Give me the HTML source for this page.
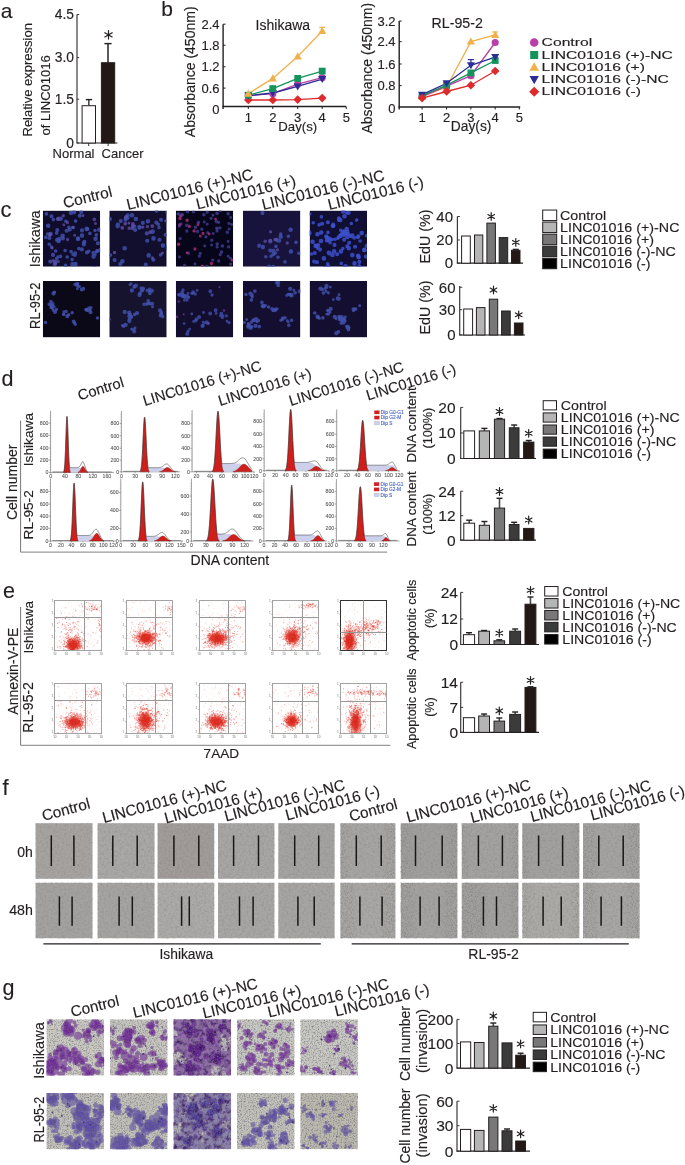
<!DOCTYPE html>
<html><head><meta charset="utf-8"><style>
html,body{margin:0;padding:0;background:#fff;}
body{width:685px;height:1165px;overflow:hidden;position:relative;}
svg{position:absolute;left:0;top:0;will-change:transform;}
text{font-family:"Liberation Sans", sans-serif;}
</style></head><body>
<svg width="685" height="1165" viewBox="0 0 685 1165">
<defs>
<filter id="nzA" x="0" y="0" width="1" height="1" color-interpolation-filters="sRGB"><feTurbulence type="fractalNoise" baseFrequency="0.45" numOctaves="3" seed="4"/><feColorMatrix type="matrix" values="0 0 0 0 0.45 0 0 0 0 0.44 0 0 0 0 0.43 0 0 0 -0.6 0.36"/></filter>
<filter id="nzB" x="0" y="0" width="1" height="1" color-interpolation-filters="sRGB"><feTurbulence type="fractalNoise" baseFrequency="0.45" numOctaves="3" seed="9"/><feColorMatrix type="matrix" values="0 0 0 0 0.45 0 0 0 0 0.44 0 0 0 0 0.43 0 0 0 -0.6 0.36"/></filter>
<filter id="nzG" x="0" y="0" width="1" height="1" color-interpolation-filters="sRGB"><feTurbulence type="fractalNoise" baseFrequency="0.75" numOctaves="2" seed="2"/><feColorMatrix type="matrix" values="0 0 0 0 0.45 0 0 0 0 0.44 0 0 0 0 0.47 0 0 0 -2.0 1.12"/></filter>
<radialGradient id="scG"><stop offset="0" stop-color="#d62519" stop-opacity="1"/><stop offset="0.45" stop-color="#da2c20" stop-opacity="0.85"/><stop offset="0.75" stop-color="#e24a3c" stop-opacity="0.35"/><stop offset="1" stop-color="#e85a4a" stop-opacity="0"/></radialGradient>
<filter id="blurC" x="-5%" y="-5%" width="110%" height="110%"><feGaussianBlur stdDeviation="0.6"/></filter>
<filter id="nzP" x="0" y="0" width="1" height="1" color-interpolation-filters="sRGB"><feTurbulence type="fractalNoise" baseFrequency="0.22" numOctaves="3" seed="5"/><feColorMatrix type="matrix" values="0 0 0 0 0.2 0 0 0 0 0.05 0 0 0 0 0.35 0 0 0 -2.2 1.25"/></filter>
<filter id="nzE" x="0" y="0" width="1" height="1" color-interpolation-filters="sRGB"><feTurbulence type="fractalNoise" baseFrequency="1.2" numOctaves="1" seed="11"/><feColorMatrix type="matrix" values="0 0 0 0 0.4 0 0 0 0 0.4 0 0 0 0 0.4 0 0 0 -1.7 0.88"/></filter>
<linearGradient id="edgeG" x1="0" x2="1" y1="0" y2="0"><stop offset="0" stop-color="#6e6e6e" stop-opacity="0.45"/><stop offset="0.2" stop-color="#6e6e6e" stop-opacity="0.1"/><stop offset="0.8" stop-color="#6e6e6e" stop-opacity="0.1"/><stop offset="1" stop-color="#6e6e6e" stop-opacity="0.45"/></linearGradient>
</defs>
<rect width="685" height="1165" fill="#fff"/>
<text transform="translate(0.80,17.50)" font-size="21" text-anchor="start" fill="#231f20" stroke="#231f20" stroke-width="0.15">a</text>
<line x1="77.00" y1="14.50" x2="77.00" y2="143.00" stroke="#3a3a3a" stroke-width="1.2"/>
<line x1="76.40" y1="143.00" x2="117.40" y2="143.00" stroke="#231f20" stroke-width="1.2"/>
<line x1="77.00" y1="14.50" x2="79.20" y2="14.50" stroke="#3a3a3a" stroke-width="1"/>
<text transform="translate(74.00,19.30)" font-size="13.8" text-anchor="end" fill="#231f20" stroke="#231f20" stroke-width="0.15">4.5</text>
<line x1="77.00" y1="57.60" x2="79.20" y2="57.60" stroke="#3a3a3a" stroke-width="1"/>
<text transform="translate(74.00,62.40)" font-size="13.8" text-anchor="end" fill="#231f20" stroke="#231f20" stroke-width="0.15">3.0</text>
<line x1="77.00" y1="99.20" x2="79.20" y2="99.20" stroke="#3a3a3a" stroke-width="1"/>
<text transform="translate(74.00,104.00)" font-size="13.8" text-anchor="end" fill="#231f20" stroke="#231f20" stroke-width="0.15">1.5</text>
<line x1="77.00" y1="143.00" x2="79.20" y2="143.00" stroke="#3a3a3a" stroke-width="1"/>
<text transform="translate(74.00,147.80)" font-size="13.8" text-anchor="end" fill="#231f20" stroke="#231f20" stroke-width="0.15">0</text>
<line x1="88.70" y1="143.00" x2="88.70" y2="146.00" stroke="#3a3a3a" stroke-width="1"/>
<line x1="108.10" y1="143.00" x2="108.10" y2="146.00" stroke="#3a3a3a" stroke-width="1"/>
<line x1="88.80" y1="99.60" x2="88.80" y2="105.70" stroke="#4a4a4a" stroke-width="1.6"/>
<line x1="85.80" y1="99.60" x2="92.20" y2="99.60" stroke="#231f20" stroke-width="1.4"/>
<rect x="82.10" y="105.70" width="13.40" height="37.30" fill="#fff" stroke="#231f20" stroke-width="1"/>
<line x1="108.00" y1="43.60" x2="108.00" y2="62.70" stroke="#4a4a4a" stroke-width="1.8"/>
<line x1="104.40" y1="43.60" x2="111.60" y2="43.60" stroke="#231f20" stroke-width="1.4"/>
<rect x="101.40" y="62.70" width="13.30" height="80.30" fill="#231815" stroke="#231f20" stroke-width="1"/>
<path d="M108.50,30.60L108.50,39.00M104.86,32.70L112.14,36.90M112.14,32.70L104.86,36.90" stroke="#231f20" stroke-width="1.2" stroke-linecap="round"/>
<text transform="translate(52.60,158.30)" font-size="13" text-anchor="start" fill="#231f20" stroke="#231f20" stroke-width="0.15">Normal</text>
<text transform="translate(101.60,158.30)" font-size="13" text-anchor="start" fill="#231f20" stroke="#231f20" stroke-width="0.15">Cancer</text>
<text transform="translate(31.60,136.50) rotate(-90)" font-size="13" text-anchor="start" fill="#231f20" stroke="#231f20" stroke-width="0.15">Relative expression</text>
<text transform="translate(50.00,135.50) rotate(-90)" font-size="13" text-anchor="start" fill="#231f20" stroke="#231f20" stroke-width="0.15">of LINC01016</text>
<text transform="translate(161.30,16.40)" font-size="21" text-anchor="start" fill="#231f20" stroke="#231f20" stroke-width="0.15">b</text>
<text transform="translate(278.30,131.30)" font-size="13.2" text-anchor="start" fill="#231f20" stroke="#231f20" stroke-width="0.15">Day(s)</text>
<text transform="translate(450.80,131.00)" font-size="13.8" text-anchor="start" fill="#231f20" stroke="#231f20" stroke-width="0.15">Day(s)</text>
<line x1="223.10" y1="24.20" x2="223.10" y2="109.00" stroke="#231f20" stroke-width="1.4"/>
<line x1="222.40" y1="106.50" x2="346.00" y2="106.50" stroke="#231f20" stroke-width="1.4"/>
<line x1="223.10" y1="24.20" x2="225.60" y2="24.20" stroke="#231f20" stroke-width="1"/>
<line x1="223.10" y1="45.20" x2="225.60" y2="45.20" stroke="#231f20" stroke-width="1"/>
<line x1="223.10" y1="66.80" x2="225.60" y2="66.80" stroke="#231f20" stroke-width="1"/>
<line x1="223.10" y1="88.10" x2="225.60" y2="88.10" stroke="#231f20" stroke-width="1"/>
<text transform="translate(219.60,28.70)" font-size="13" text-anchor="end" fill="#231f20" stroke="#231f20" stroke-width="0.15">2.4</text>
<text transform="translate(219.60,49.70)" font-size="13" text-anchor="end" fill="#231f20" stroke="#231f20" stroke-width="0.15">1.8</text>
<text transform="translate(219.60,71.30)" font-size="13" text-anchor="end" fill="#231f20" stroke="#231f20" stroke-width="0.15">1.2</text>
<text transform="translate(219.60,92.60)" font-size="13" text-anchor="end" fill="#231f20" stroke="#231f20" stroke-width="0.15">0.6</text>
<text transform="translate(219.60,113.70)" font-size="13" text-anchor="end" fill="#231f20" stroke="#231f20" stroke-width="0.15">0</text>
<line x1="248.30" y1="106.50" x2="248.30" y2="109.00" stroke="#231f20" stroke-width="1"/>
<text transform="translate(248.30,122.30)" font-size="13" text-anchor="middle" fill="#231f20" stroke="#231f20" stroke-width="0.15">1</text>
<line x1="272.80" y1="106.50" x2="272.80" y2="109.00" stroke="#231f20" stroke-width="1"/>
<text transform="translate(272.80,122.30)" font-size="13" text-anchor="middle" fill="#231f20" stroke="#231f20" stroke-width="0.15">2</text>
<line x1="297.70" y1="106.50" x2="297.70" y2="109.00" stroke="#231f20" stroke-width="1"/>
<text transform="translate(297.70,122.30)" font-size="13" text-anchor="middle" fill="#231f20" stroke="#231f20" stroke-width="0.15">3</text>
<line x1="322.20" y1="106.50" x2="322.20" y2="109.00" stroke="#231f20" stroke-width="1"/>
<text transform="translate(322.20,122.30)" font-size="13" text-anchor="middle" fill="#231f20" stroke="#231f20" stroke-width="0.15">4</text>
<line x1="346.30" y1="106.50" x2="346.30" y2="109.00" stroke="#231f20" stroke-width="1"/>
<text transform="translate(346.30,122.30)" font-size="13" text-anchor="middle" fill="#231f20" stroke="#231f20" stroke-width="0.15">5</text>
<path d="M248.30,100.00L272.80,100.00L297.70,99.60L322.20,98.10" stroke="#de2a2a" stroke-width="1.3" fill="none"/>
<path d="M248.30,95.60L272.80,93.70L297.70,84.20L322.20,77.70" stroke="#b83fa6" stroke-width="1.3" fill="none"/>
<path d="M248.30,95.60L272.80,93.00L297.70,86.40L322.20,79.10" stroke="#2b2c95" stroke-width="1.3" fill="none"/>
<path d="M248.30,95.20L272.80,88.60L297.70,78.40L322.20,71.10" stroke="#14935a" stroke-width="1.3" fill="none"/>
<path d="M248.30,93.70L272.80,78.40L297.70,56.50L322.20,31.00" stroke="#f2b04a" stroke-width="1.3" fill="none"/>
<line x1="322.20" y1="27.30" x2="322.20" y2="31.00" stroke="#f2b04a" stroke-width="1.2"/>
<line x1="319.20" y1="27.30" x2="325.20" y2="27.30" stroke="#f2b04a" stroke-width="1.2"/>
<path d="M248.30,95.70L252.60,100.00L248.30,104.30L244.00,100.00Z" fill="#de2a2a"/>
<path d="M272.80,95.70L277.10,100.00L272.80,104.30L268.50,100.00Z" fill="#de2a2a"/>
<path d="M297.70,95.30L302.00,99.60L297.70,103.90L293.40,99.60Z" fill="#de2a2a"/>
<path d="M322.20,93.80L326.50,98.10L322.20,102.40L317.90,98.10Z" fill="#de2a2a"/>
<circle cx="248.30" cy="95.60" r="3.60" fill="#b83fa6"/>
<circle cx="272.80" cy="93.70" r="3.60" fill="#b83fa6"/>
<circle cx="297.70" cy="84.20" r="3.60" fill="#b83fa6"/>
<circle cx="322.20" cy="77.70" r="3.60" fill="#b83fa6"/>
<path d="M244.30,92.60L252.30,92.60L248.30,99.60Z" fill="#2b2c95"/>
<path d="M268.80,90.00L276.80,90.00L272.80,97.00Z" fill="#2b2c95"/>
<path d="M293.70,83.40L301.70,83.40L297.70,90.40Z" fill="#2b2c95"/>
<path d="M318.20,76.10L326.20,76.10L322.20,83.10Z" fill="#2b2c95"/>
<rect x="244.90" y="91.80" width="6.80" height="6.80" fill="#14935a"/>
<rect x="269.40" y="85.20" width="6.80" height="6.80" fill="#14935a"/>
<rect x="294.30" y="75.00" width="6.80" height="6.80" fill="#14935a"/>
<rect x="318.80" y="67.70" width="6.80" height="6.80" fill="#14935a"/>
<path d="M248.30,89.50L252.40,96.70L244.20,96.70Z" fill="#f2b04a"/>
<path d="M272.80,74.20L276.90,81.40L268.70,81.40Z" fill="#f2b04a"/>
<path d="M297.70,52.30L301.80,59.50L293.60,59.50Z" fill="#f2b04a"/>
<path d="M322.20,26.80L326.30,34.00L318.10,34.00Z" fill="#f2b04a"/>
<text transform="translate(255.60,29.80)" font-size="14.0" text-anchor="start" fill="#231f20" stroke="#231f20" stroke-width="0.15">Ishikawa</text>
<text transform="translate(194.60,137.20) rotate(-90)" font-size="14.0" text-anchor="start" fill="#231f20" stroke="#231f20" stroke-width="0.15">Absorbance (450nm)</text>
<line x1="399.20" y1="21.10" x2="399.20" y2="109.50" stroke="#231f20" stroke-width="1.4"/>
<line x1="398.50" y1="107.00" x2="520.20" y2="107.00" stroke="#231f20" stroke-width="1.4"/>
<line x1="399.20" y1="21.10" x2="401.70" y2="21.10" stroke="#231f20" stroke-width="1"/>
<line x1="399.20" y1="41.60" x2="401.70" y2="41.60" stroke="#231f20" stroke-width="1"/>
<line x1="399.20" y1="64.00" x2="401.70" y2="64.00" stroke="#231f20" stroke-width="1"/>
<line x1="399.20" y1="85.60" x2="401.70" y2="85.60" stroke="#231f20" stroke-width="1"/>
<text transform="translate(395.60,25.60)" font-size="13" text-anchor="end" fill="#231f20" stroke="#231f20" stroke-width="0.15">3.2</text>
<text transform="translate(395.60,46.10)" font-size="13" text-anchor="end" fill="#231f20" stroke="#231f20" stroke-width="0.15">2.4</text>
<text transform="translate(395.60,68.50)" font-size="13" text-anchor="end" fill="#231f20" stroke="#231f20" stroke-width="0.15">1.6</text>
<text transform="translate(395.60,90.10)" font-size="13" text-anchor="end" fill="#231f20" stroke="#231f20" stroke-width="0.15">0.8</text>
<text transform="translate(395.60,113.30)" font-size="13" text-anchor="end" fill="#231f20" stroke="#231f20" stroke-width="0.15">0</text>
<line x1="422.10" y1="107.00" x2="422.10" y2="109.50" stroke="#231f20" stroke-width="1"/>
<text transform="translate(422.10,122.30)" font-size="13" text-anchor="middle" fill="#231f20" stroke="#231f20" stroke-width="0.15">1</text>
<line x1="446.60" y1="107.00" x2="446.60" y2="109.50" stroke="#231f20" stroke-width="1"/>
<text transform="translate(446.60,122.30)" font-size="13" text-anchor="middle" fill="#231f20" stroke="#231f20" stroke-width="0.15">2</text>
<line x1="470.90" y1="107.00" x2="470.90" y2="109.50" stroke="#231f20" stroke-width="1"/>
<text transform="translate(470.90,122.30)" font-size="13" text-anchor="middle" fill="#231f20" stroke="#231f20" stroke-width="0.15">3</text>
<line x1="495.20" y1="107.00" x2="495.20" y2="109.50" stroke="#231f20" stroke-width="1"/>
<text transform="translate(495.20,122.30)" font-size="13" text-anchor="middle" fill="#231f20" stroke="#231f20" stroke-width="0.15">4</text>
<line x1="519.30" y1="107.00" x2="519.30" y2="109.50" stroke="#231f20" stroke-width="1"/>
<text transform="translate(519.30,122.30)" font-size="13" text-anchor="middle" fill="#231f20" stroke="#231f20" stroke-width="0.15">5</text>
<path d="M422.10,96.60L446.60,87.10L470.90,41.60L495.20,34.90" stroke="#f2b04a" stroke-width="1.3" fill="none"/>
<path d="M422.10,96.60L446.60,86.20L470.90,75.70L495.20,42.50" stroke="#b83fa6" stroke-width="1.3" fill="none"/>
<path d="M422.10,95.60L446.60,85.20L470.90,72.90L495.20,60.50" stroke="#14935a" stroke-width="1.3" fill="none"/>
<path d="M422.10,94.70L446.60,83.30L470.90,65.30L495.20,57.10" stroke="#2b2c95" stroke-width="1.3" fill="none"/>
<path d="M422.10,98.10L446.60,91.50L470.90,85.20L495.20,71.00" stroke="#de2a2a" stroke-width="1.3" fill="none"/>
<line x1="495.20" y1="32.00" x2="495.20" y2="34.90" stroke="#f2b04a" stroke-width="1.2"/>
<line x1="492.20" y1="32.00" x2="498.20" y2="32.00" stroke="#f2b04a" stroke-width="1.2"/>
<line x1="470.90" y1="59.60" x2="470.90" y2="65.30" stroke="#2b2c95" stroke-width="1.2"/>
<line x1="467.90" y1="59.60" x2="473.90" y2="59.60" stroke="#2b2c95" stroke-width="1.2"/>
<path d="M422.10,92.40L426.20,99.60L418.00,99.60Z" fill="#f2b04a"/>
<path d="M446.60,82.90L450.70,90.10L442.50,90.10Z" fill="#f2b04a"/>
<path d="M470.90,37.40L475.00,44.60L466.80,44.60Z" fill="#f2b04a"/>
<path d="M495.20,30.70L499.30,37.90L491.10,37.90Z" fill="#f2b04a"/>
<circle cx="422.10" cy="96.60" r="3.60" fill="#b83fa6"/>
<circle cx="446.60" cy="86.20" r="3.60" fill="#b83fa6"/>
<circle cx="470.90" cy="75.70" r="3.60" fill="#b83fa6"/>
<circle cx="495.20" cy="42.50" r="3.60" fill="#b83fa6"/>
<rect x="418.70" y="92.20" width="6.80" height="6.80" fill="#14935a"/>
<rect x="443.20" y="81.80" width="6.80" height="6.80" fill="#14935a"/>
<rect x="467.50" y="69.50" width="6.80" height="6.80" fill="#14935a"/>
<rect x="491.80" y="57.10" width="6.80" height="6.80" fill="#14935a"/>
<path d="M418.10,91.70L426.10,91.70L422.10,98.70Z" fill="#2b2c95"/>
<path d="M442.60,80.30L450.60,80.30L446.60,87.30Z" fill="#2b2c95"/>
<path d="M466.90,62.30L474.90,62.30L470.90,69.30Z" fill="#2b2c95"/>
<path d="M491.20,54.10L499.20,54.10L495.20,61.10Z" fill="#2b2c95"/>
<path d="M422.10,93.80L426.40,98.10L422.10,102.40L417.80,98.10Z" fill="#de2a2a"/>
<path d="M446.60,87.20L450.90,91.50L446.60,95.80L442.30,91.50Z" fill="#de2a2a"/>
<path d="M470.90,80.90L475.20,85.20L470.90,89.50L466.60,85.20Z" fill="#de2a2a"/>
<path d="M495.20,66.70L499.50,71.00L495.20,75.30L490.90,71.00Z" fill="#de2a2a"/>
<text transform="translate(431.60,28.30)" font-size="14.2" text-anchor="start" fill="#231f20" stroke="#231f20" stroke-width="0.15">RL-95-2</text>
<text transform="translate(371.90,133.60) rotate(-90)" font-size="14.0" text-anchor="start" fill="#231f20" stroke="#231f20" stroke-width="0.15">Absorbance (450nm)</text>
<circle cx="534.20" cy="42.40" r="4.25" fill="#b83fa6"/>
<text transform="translate(541.60,46.00) scale(1.33,1)" font-size="11.8" text-anchor="start" fill="#231f20" stroke="#231f20" stroke-width="0.15">Control</text>
<rect x="530.19" y="50.99" width="8.02" height="8.02" fill="#14935a"/>
<text transform="translate(541.60,58.60) scale(1.33,1)" font-size="11.8" text-anchor="start" fill="#231f20" stroke="#231f20" stroke-width="0.15">LINC01016 (+)-NC</text>
<path d="M534.20,62.24L539.04,70.74L529.36,70.74Z" fill="#f2b04a"/>
<text transform="translate(541.60,70.80) scale(1.33,1)" font-size="11.8" text-anchor="start" fill="#231f20" stroke="#231f20" stroke-width="0.15">LINC01016 (+)</text>
<path d="M529.48,75.96L538.92,75.96L534.20,84.22Z" fill="#2b2c95"/>
<text transform="translate(541.60,83.10) scale(1.33,1)" font-size="11.8" text-anchor="start" fill="#231f20" stroke="#231f20" stroke-width="0.15">LINC01016 (-)-NC</text>
<path d="M534.20,86.73L539.27,91.80L534.20,96.87L529.13,91.80Z" fill="#de2a2a"/>
<text transform="translate(541.60,95.40) scale(1.33,1)" font-size="11.8" text-anchor="start" fill="#231f20" stroke="#231f20" stroke-width="0.15">LINC01016 (-)</text>
<text transform="translate(0.50,216.80)" font-size="22" text-anchor="start" fill="#231f20" stroke="#231f20" stroke-width="0.15">c</text>
<clipPath id="c1"><rect x="42.80" y="210.60" width="57.40" height="56.10"/></clipPath><g clip-path="url(#c1)">
<rect x="42.80" y="210.60" width="57.40" height="56.10" fill="#100d2c"/>
<g filter="url(#blurC)">
<path d="M51.5 247.1h0m-3.7-13.1h0m19.4 23h0m-13.8-37.4h0m12.2 45.8h0m-5.1-9h0m15.1-35.3h0m-29.2-7.2h0m22.5 13.5h0m9 10.9h0m.9 10.3h0m-23.1 2.4h0m10.1-29.7h0m-16.6 23h0m8.8 12.8h0m37-26.6h0m-7.4-1.4h0m-31 4h0m14.5 18.5h0m18.8-18.2h0m-24.8 17.1h0m32.1 .7h0m-40.6 7.4h0m32.1-7.3h0m7.7-16.4h0m-24.3 24.6h0m1.3-31.9h0m-24.5 6.7h0m34.9 8.8h0m-38-5.7h0" stroke="#4252b0" stroke-width="3.63" stroke-linecap="round" stroke-opacity="0.8" fill="none"/>
<path d="M73.3 254.2h0m13.6-1.7h0m-12.1 2.4h0m-11.9-16.4h0m18.3-26.6h0m.7 37.5h0m-22.5-10.5h0m7.2-8.2h0m-15.1-14.4h0m32.4 28.1h0m-26.6-14.3h0m-7.9 7.9h0m5.2 26h0m25.1-48.3h0m-9.9 13.8h0m32.9-12.9h0m-49.7 38.3h0m44.1-3.8h0m.8-7.9h0m-3.6 24.7h0m-19.1-14.7h0m-24.9 8.4h0m34.1-19.8h0m-25.7-2.7h0m-1.7 .8h0m25-9.5h0" stroke="#4252b0" stroke-width="4.10" stroke-linecap="round" stroke-opacity="0.8" fill="none"/>
<path d="M93.6 253.1h0m-43.1-19h0m22 30.2h0m-9.9-28.5h0m8.3-23h0m-22.7 12.9h0m52.3 24.3h0m-18.5-14.4h0m11.6 20.9h0m-34.6-37.8h0m16.4 45.3h0m24-34.2h0m-4.9 24.5h0m-33.8-35.6h0m13.3-6.6h0m-15.4 28.8h0m-3.1 21.1h0m31.2-33.1h0m-34.4-21h0m43.2 30.8h0m-17.5 .2h0" stroke="#4252b0" stroke-width="4.57" stroke-linecap="round" stroke-opacity="0.8" fill="none"/>
<path d="M49.8 235.4h0m14-10.6h0m-11.6 23.3h0m22.4-12.8h0m-2.1-8.1h0m23-3.8h0m-37.1 38h0m24.6-45.8h0" stroke="#6a50a8" stroke-width="3.00" stroke-linecap="round" stroke-opacity="0.7" fill="none"/>
<path d="M67.4 222.5h0m-12 41.5h0m12.2-24.5h0m-4.3-23.8h0m-10 45.1h0" stroke="#6a50a8" stroke-width="3.40" stroke-linecap="round" stroke-opacity="0.7" fill="none"/>
<path d="M94.3 219.3h0m-44.1 15h0m7.5-15.3h0" stroke="#6a50a8" stroke-width="3.80" stroke-linecap="round" stroke-opacity="0.7" fill="none"/>
</g>
</g>
<clipPath id="c2"><rect x="109.30" y="210.60" width="57.40" height="56.10"/></clipPath><g clip-path="url(#c2)">
<rect x="109.30" y="210.60" width="57.40" height="56.10" fill="#110e2e"/>
<g filter="url(#blurC)">
<path d="M110.5 255.1h0m24.1-28.9h0m23.7-2h0m-19.1 2.3h0m26.2 8.4h0m-39.8-17h0m35 37h0m-1.6-27.4h0m-2.5-16.6h0m-28.6 7.2h0m39.5 28.6h0" stroke="#4252b0" stroke-width="3.63" stroke-linecap="round" stroke-opacity="0.8" fill="none"/>
<path d="M153.4 259.8h0m-33.1 4.2h0m.4-42.9h0m18.8 6.7h0m21.6-8.1h0m6.1-7.4h0m-10.9 10.3h0m11.3 26h0m-24.8-25.7h0m-28.2 37.2h0m44.9-20.3h0m-31.8-24.5h0m18.1 49.2h0m-13.1-38.3h0m14.1 7.2h0m-11.6-3.5h0m-9.7-10.1h0m21.7 20.9h0" stroke="#4252b0" stroke-width="4.10" stroke-linecap="round" stroke-opacity="0.8" fill="none"/>
<path d="M122.4 261.3h0m25.5-40h0m5.6 17.1h0m-.8-6.8h0m-16.8-12.6h0m12.8 36.4h0m-39-36.4h0m22.3-3.8h0m30.9 30.4h0m-45.2-19.5h0m.1-1.2h0m6.9 23.4h0" stroke="#4252b0" stroke-width="4.57" stroke-linecap="round" stroke-opacity="0.8" fill="none"/>
<path d="M165.6 220.8h0m-57.6 12h0m21-9.7h0m23.4 34.6h0m10-4.7h0" stroke="#6a50a8" stroke-width="3.00" stroke-linecap="round" stroke-opacity="0.75" fill="none"/>
<path d="M147.4 226.6h0m-32.9 25.9h0m28.2-25.4h0m-13.6 1.2h0" stroke="#6a50a8" stroke-width="3.40" stroke-linecap="round" stroke-opacity="0.75" fill="none"/>
<path d="M125.2 223.7h0m24.9 8.5h0m-24-15.4h0m6.9 7.2h0m-10.7 3.8h0m30-1.7h0m-20 2.2h0" stroke="#6a50a8" stroke-width="3.80" stroke-linecap="round" stroke-opacity="0.75" fill="none"/>
</g>
</g>
<clipPath id="c3"><rect x="175.80" y="210.60" width="57.40" height="56.10"/></clipPath><g clip-path="url(#c3)">
<rect x="175.80" y="210.60" width="57.40" height="56.10" fill="#07051a"/>
<g filter="url(#blurC)">
<path d="M228.1 241.5h0m-14.9-8.1h0m-5.5-.6h0m-.5-8.5h0m-2.5 21.7h0m25.8 12.3h0m1.1-33.7h0m-47.1 40.6h0m35.8-54.5h0m-7.4 4.5h0m16 8.2h0m-24.7-1.5h0m7.4 23h0m5-16.6h0m12.6 .8h0m-47.2-14.1h0m48.6 2.6h0m-52.8-3.5h0m17.2 50h0m-15.5-7.1h0m48.7-.7h0" stroke="#3d3f90" stroke-width="2.97" stroke-linecap="round" stroke-opacity="0.8" fill="none"/>
<path d="M220.2 254.6h0m-9.1-36.3h0m-31 20.3h0m21.7-9.4h0m-20.8-5.2h0m6.4-12.3h0m31.2 10.6h0m-39.2 3.8h0m20.8 27.3h0m17-6.5h0m11.4-.1h0m-16.8-6.6h0m-5.1 26.3h0m6.1-6.4h0m-5.6-47.9h0m-13.7-.4h0m23.6 19.1h0m-28.6 22.3h0m-9.7-39.3h0m27.1 22.9h0m-8.3-5.3h0m22.3-3.6h0m-33 3.1h0m12.5 25.1h0m19.3 4.9h0m-1.7-32.7h0m13.7 35.8h0" stroke="#3d3f90" stroke-width="3.30" stroke-linecap="round" stroke-opacity="0.8" fill="none"/>
<path d="M222.4 246.0h0m-5.3-32.6h0m-21.6 13.9h0m31.8 4.9h0m-23.4-17.5h0m-21.7-.1h0m4.6 10.6h0m34.7 26.9h0m6.6-38.3h0m-29.7 8.8h0m17.9-1h0m.9 22.4h0" stroke="#3d3f90" stroke-width="3.63" stroke-linecap="round" stroke-opacity="0.8" fill="none"/>
<path d="M215.5 219.1h0m-28.4 33.7h0m44.9 7.4h0m-22.8-26.2h0m-11.3-9.3h0m-18.4 0h0m20.8 11.5h0" stroke="#b0307a" stroke-width="2.77" stroke-linecap="round" stroke-opacity="0.8" fill="none"/>
<path d="M180.6 216.0h0m14.3 32.9h0m8.1-15.5h0" stroke="#b0307a" stroke-width="3.10" stroke-linecap="round" stroke-opacity="0.8" fill="none"/>
<path d="M211.4 263.5h0m-17.3-32.6h0m-7-10.6h0m-7.1-1.8h0m9.3 7.9h0m13.1 39.8h0m-23.8-21.9h0" stroke="#b0307a" stroke-width="3.43" stroke-linecap="round" stroke-opacity="0.8" fill="none"/>
</g>
</g>
<clipPath id="c4"><rect x="243.00" y="210.60" width="57.40" height="56.10"/></clipPath><g clip-path="url(#c4)">
<rect x="243.00" y="210.60" width="57.40" height="56.10" fill="#17133c"/>
<g filter="url(#blurC)">
<path d="M278.0 257.3h0m-10.1 10h0m-9-21.2h0m26.1 15.8h0m-4.3-27.9h0m-4.3 5.5h0m-5.3 16.7h0m4.8-9.8h0m-10 10.4h0m32.9-3.5h0m-39.5-8.1h0m29.1-8.9h0m7.6 6.1h0m-26.9 23.8h0m6.2-13.1h0" stroke="#4252b0" stroke-width="3.63" stroke-linecap="round" stroke-opacity="0.8" fill="none"/>
<path d="M262.5 213.1h0m15.1 27.3h0m-4.3 13.8h0m-3.1-3.6h0m3.3 .2h0m5.8-10h0" stroke="#4252b0" stroke-width="4.10" stroke-linecap="round" stroke-opacity="0.8" fill="none"/>
<path d="M290.9 251.5h0m-17.7 15.6h0m-2.9-25.8h0m10.4-4.5h0m-17.9 10.3h0m27.8-17.3h0" stroke="#4252b0" stroke-width="4.57" stroke-linecap="round" stroke-opacity="0.8" fill="none"/>
<path d="M270.6 231.8h0m6.9 18h0m-7-9.3h0m16.8 2.5h0" stroke="#6a50a8" stroke-width="3.30" stroke-linecap="round" stroke-opacity="0.7" fill="none"/>
<path d="M275.1 239.6h0m-9.9 1.7h0" stroke="#6a50a8" stroke-width="3.63" stroke-linecap="round" stroke-opacity="0.7" fill="none"/>
</g>
</g>
<clipPath id="c5"><rect x="309.60" y="210.60" width="57.40" height="56.10"/></clipPath><g clip-path="url(#c5)">
<rect x="309.60" y="210.60" width="57.40" height="56.10" fill="#110e34"/>
<g filter="url(#blurC)">
<path d="M335.0 239.2h0m9-8.2h0m22.7 4.7h0m-20.4-2.5h0m-18.2 7.5h0m32 .3h0m-32.1-8.6h0m-14.8-9.7h0m20.5 3h0m24.8 31.2h0m-7.2-33.4h0m-41.6-9.5h0m20.4 28.6h0m11.2 20.8h0m-13.6 .4h0m11.1-43.7h0m18.8 36h0m-41.5-10.6h0m15.8-6h0m14.7-26.5h0m-25.2 3.9h0m43.5 33.5h0m-17-16.6h0m-5 14.8h0m13.8-28.5h0m-32.7 47.5h0m13.8-29.4h0m2.9-7.9h0m1.8 1.9h0m-23.4-7.3h0m40.1 40.9h0m-17.5-31.9h0m-30.3 20.1h0m28.7-18.7h0m17.7 2.1h0m-19-19.3h0" stroke="#3d50cc" stroke-width="3.63" stroke-linecap="round" stroke-opacity="0.85" fill="none"/>
<path d="M317.1 262.3h0m10.8-40.1h0m-5.8 1.6h0m46.8 14h0m-2.3 8.1h0m-46.5 3.7h0m-6 11.9h0m4.1-16.4h0m8.6-4.7h0m-8.9 7.5h0m15.3-23.3h0m19.3 10.8h0m-13.7 1.6h0m15.4 .7h0m-39.4 15.3h0m33.9-40.1h0m-1.4 33.4h0m12.1 15.6h0m-4.3-15.1h0m-28-9.1h0m38.7 18.9h0m-21-23.1h0m-.6 6.2h0m2.9-6.2h0m17.2 16.2h0m-5.9-13.5h0m-10.6-2.9h0m-10.6 21h0m-2.7-9.4h0m14.7-2.2h0m-1.8-11.2h0m-19.1 34.8h0m23.8-30.1h0m-42.8-2.5h0" stroke="#3d50cc" stroke-width="4.10" stroke-linecap="round" stroke-opacity="0.85" fill="none"/>
<path d="M349.8 235.8h0m-20.3 17.4h0m3.4-27.3h0m19.4 29.2h0m-34.9-20.9h0m46.9 15.7h0m-40.4 8.5h0m5.6-19.5h0m32.2-5.8h0m-52.4-.4h0m36.2 33.7h0m-4.6-30.8h0m-12 17.1h0m29.4 3.2h0m-14.6-23.8h0m-.5 2.9h0m-3.9-15.5h0m7.4 9.5h0m2.1 19.2h0m9.9 8.9h0m-32.4-20.6h0m-5-4h0m-8.7 9.3h0m27.7-21.8h0m.6 31.4h0m-6.8 0h0m-13.1-10.4h0m11.5 14h0m11.8-21.7h0m-1.2-21.8h0m4.1 25.5h0m-2.7-20.7h0m-28.8 29.6h0m38.8 17.5h0" stroke="#3d50cc" stroke-width="4.57" stroke-linecap="round" stroke-opacity="0.85" fill="none"/>
</g>
</g>
<clipPath id="c6"><rect x="42.80" y="281.00" width="57.40" height="56.40"/></clipPath><g clip-path="url(#c6)">
<rect x="42.80" y="281.00" width="57.40" height="56.40" fill="#0b0817"/>
<g filter="url(#blurC)">
<path d="M77.2 284.6h0m-1.7-.7h0m-22.3 26.6h0m10.6 4h0m13.6-25.7h0m13.8 18.8h0m-27.4 4h0m10.6 11.3h0m.2-38.4h0m1.1-.3h0m14.6 26.1h0m-10.7-23.8h0m-1.4 .4h0m7.6 22.8h0" stroke="#4252b0" stroke-width="2.90" stroke-linecap="round" stroke-opacity="0.8" fill="none"/>
<path d="M66.1 311.6h0m-12.2-4.9h0m.5-14.5h0m-3.5 9.4h0m1.8 6.6h0m10.9 6h0m-10.7-10.3h0m-1.3-1.3h0m45.9 15.4h0m-28.8-3.2h0m17.9-5.2h0m-30.2-.1h0m-10.9 13h0m32.1-39h0m-5.4 29.2h0m-23-8.4h0m2.5 2.2h0m23.5 17.7h0m12.8-13.7h0" stroke="#4252b0" stroke-width="3.50" stroke-linecap="round" stroke-opacity="0.8" fill="none"/>
<path d="M73.7 321.5h0m-18.7-9.6h0m26.8-22.4h0m-14.6 26.7h0m23.3-3.9h0m-37-18.7h0m35.8 14.7h0m-6.1-19.6h0m3.3 21h0m-35.2-2.5h0m25.7-22.3h0m-25.5 20.4h0" stroke="#4252b0" stroke-width="4.10" stroke-linecap="round" stroke-opacity="0.8" fill="none"/>
</g>
</g>
<clipPath id="c7"><rect x="109.30" y="281.00" width="57.40" height="56.40"/></clipPath><g clip-path="url(#c7)">
<rect x="109.30" y="281.00" width="57.40" height="56.40" fill="#16132f"/>
<g filter="url(#blurC)">
<path d="M161.8 314.3h0m-9.2-7.4h0m9 5.9h0m-31.6-28h0m4.9 29.9h0m-3.3 14.5h0m-22.1-9.7h0m25.5 8.5h0m7.5-38.1h0m7.4 14.2h0m-2.2-.3h0m-25.4 21.7h0m24.6-35h0m-15.8 27.6h0m18.6-26.8h0m-15.3-4.3h0m.1 27.8h0m26.9-2.9h0m-30.3-28.2h0m-2 35.3h0m11.8-31.1h0m-10.6 30.3h0m3.6 11.2h0m-.3-.2h0m.8-15.1h0" stroke="#4252b0" stroke-width="2.93" stroke-linecap="round" stroke-opacity="0.8" fill="none"/>
<path d="M144.1 304.2h0m4.1-3.4h0m12.2 14.9h0m-30.2-1.3h0m32.5 2.2h0m-13.5-25.1h0m-.4 11.3h0m-25.2 23.4h0m8-9.6h0m8.3-23.2h0m10 .1h0m-3.2 10.6h0" stroke="#4252b0" stroke-width="3.60" stroke-linecap="round" stroke-opacity="0.8" fill="none"/>
<path d="M125.6 324.9h0m10.3-39.2h0m6 4.8h0m10 .3h0m-27.2 21.2h0m7.2-21.5h0m28.2 20h0m1.1 3.3h0m-31.8 7.2h0m-.2-8.3h0m5.3-26.1h0m8.5 2.1h0m-13.6 27.5h0m4.8 15.1h0m15.4-41.6h0m-12.6 23.5h0m2.6-18.2h0m12.4 8.8h0" stroke="#4252b0" stroke-width="4.27" stroke-linecap="round" stroke-opacity="0.8" fill="none"/>
</g>
</g>
<clipPath id="c8"><rect x="175.80" y="281.00" width="57.40" height="56.40"/></clipPath><g clip-path="url(#c8)">
<rect x="175.80" y="281.00" width="57.40" height="56.40" fill="#130d2e"/>
<g filter="url(#blurC)">
<path d="M188.0 293.5h0m-4.4 1.4h0m.5 28.7h0m-.9-26.6h0m8.5-3.5h0m34.9 22.6h0m.4 5.1h0m-37.3 7.9h0m13.8-16.6h0m-9.9 9h0m26.9-5.4h0m-37.8-21.7h0m20.4 27.8h0m23.2-6.5h0m-10.2-2.3h0m-19-23h0m7.1 32.4h0m-12.4-8.8h0m-3.3-16.8h0m-4.1 3.1h0m-3-4.3h0" stroke="#4252b0" stroke-width="2.87" stroke-linecap="round" stroke-opacity="0.75" fill="none"/>
<path d="M187.0 295.6h0m-8.2-.9h0m29.2 28.9h0m14.9-7.7h0m-29.8-22.8h0m-10.4 2.8h0m13.1 24.8h0m-10.4-23.1h0m2.6 33.8h0m24-36.4h0m-28.2 .7h0m4.7 1.4h0m34 20.3h0m-35.5-17.4h0m-4-10h0m12.2 4h0m33.8 28.6h0m-25.9 2.7h0" stroke="#4252b0" stroke-width="3.40" stroke-linecap="round" stroke-opacity="0.75" fill="none"/>
<path d="M221.3 313.7h0m-34.1 20.2h0m19.6-11.7h0m-10.3-3.1h0m-11.9-23.1h0m-5-1.3h0m2.5-2h0m11-.4h0m6.1 24.6h0m3.2 9.1h0m13.2-15.7h0m-5.3-19h0m-.1 22.2h0" stroke="#4252b0" stroke-width="3.93" stroke-linecap="round" stroke-opacity="0.75" fill="none"/>
<path d="M219.5 287.2h0m-35.8 27.2h0m25 8.7h0" stroke="#7a4aa8" stroke-width="2.17" stroke-linecap="round" stroke-opacity="0.6" fill="none"/>
<path d="M224.0 310.6h0m-45.2-9.2h0" stroke="#7a4aa8" stroke-width="2.50" stroke-linecap="round" stroke-opacity="0.6" fill="none"/>
<path d="M176.9 316.8h0" stroke="#7a4aa8" stroke-width="2.83" stroke-linecap="round" stroke-opacity="0.6" fill="none"/>
</g>
</g>
<clipPath id="c9"><rect x="243.00" y="281.00" width="57.40" height="56.40"/></clipPath><g clip-path="url(#c9)">
<rect x="243.00" y="281.00" width="57.40" height="56.40" fill="#140f30"/>
<g filter="url(#blurC)">
<path d="M252.4 296.9h0m4.5 24.8h0m-10.3-2.1h0m41.7 2.4h0m-.9-1.2h0m-14.5-10.1h0m-24.6 12.7h0m45.5-33.1h0m-5.5 4h0m-11.1 14.7h0m-11.7-3.5h0m15.1 14.9h0m6.1-24.9h0m-4.2 22.5h0m-38.2 4.5h0" stroke="#4252b0" stroke-width="2.93" stroke-linecap="round" stroke-opacity="0.8" fill="none"/>
<path d="M245.9 294.5h0m43.3 0h0m-13.7 14.8h0m-23.9 17.4h0m43.6-34h0m-32.8 13.4h0m27.9-11h0m-26.6 10.6h0m25.1 19.5h0m-33.9-34.1h0m-6.5 34.3h0m4.6-4.9h0m6.3 6.1h0m23.1-7.2h0m-31-19.5h0m33.6 17.8h0m-13-8.8h0m-3.5-1.9h0m9.7-21.5h0m-16.3 16.9h0m-10.3 19.7h0m25.1-39.4h0m14.9 37.5h0" stroke="#4252b0" stroke-width="3.60" stroke-linecap="round" stroke-opacity="0.8" fill="none"/>
<path d="M291.6 295.4h0m-33.7 25.2h0m-7.5-26.9h0m5.1 32.2h0m-4.9 2h0m3.9-7.9h0m-6.3 6.7h0m7.8-7.6h0m34.2-30.3h0m-38.5 6.2h0m-10.4 28.4h0m36.9-40.7h0m13.3 12.1h0m-42.6 30.2h0m14.5-18.6h0m36.5-15h0m-25 18.8h0" stroke="#4252b0" stroke-width="4.27" stroke-linecap="round" stroke-opacity="0.8" fill="none"/>
</g>
</g>
<clipPath id="c10"><rect x="309.60" y="281.00" width="57.40" height="56.40"/></clipPath><g clip-path="url(#c10)">
<rect x="309.60" y="281.00" width="57.40" height="56.40" fill="#140f30"/>
<g filter="url(#blurC)">
<path d="M344.0 318.4h0m-14-6.2h0m19.1 15.5h0m-9.2-9.3h0m.6-.8h0m-12-24.5h0m1.8-6h0m-1.9 23.7h0m-3.4-22.3h0m14 6.3h0m-5.7 4.8h0m-6.5 14.5h0m27.4-5h0m-26-16.3h0m7.9 25.9h0m5.5 2h0m-15.2-32.8h0m-7 30.5h0m28.8 7.8h0m-22.3-34.9h0m33.8 14.5h0m-13.2 20.5h0m-1.1-9.4h0" stroke="#4252b0" stroke-width="2.93" stroke-linecap="round" stroke-opacity="0.8" fill="none"/>
<path d="M318.1 317.5h0m4.3-28h0m31.1 21h0m2.1-1.4h0m-32.7 8.8h0m20.9 2.1h0m-29-7h0m13.5 1h0m-4.8-20.9h0m15.5 23.4h0m-.5 15.3h0m.4-14.7h0m14.4-8.1h0m-12.1 14.1h0m7.2 6.7h0m-20.6-19.3h0" stroke="#4252b0" stroke-width="3.60" stroke-linecap="round" stroke-opacity="0.8" fill="none"/>
<path d="M344.1 319.9h0m-23.6-31.2h0m10.2 20.2h0m7.1-10.5h0m9.9 29.2h0m-7.4-8.6h0m-.6 .2h0m4.8 1.8h0m-26.9-4.3h0m18.8 16.5h0m5.3-16h0m-15.2-31.3h0m17 36.6h0m-8.8-5.7h0m6.4 .9h0m-2.4-18.9h0" stroke="#4252b0" stroke-width="4.27" stroke-linecap="round" stroke-opacity="0.8" fill="none"/>
</g>
</g>
<text transform="translate(64.50,208.30) rotate(-13.8)" font-size="15.5" text-anchor="start" fill="#231f20" stroke="#231f20" stroke-width="0.15">Control</text>
<text transform="translate(128.00,210.00) rotate(-13.8)" font-size="15.5" text-anchor="start" fill="#231f20" stroke="#231f20" stroke-width="0.15">LINC01016 (+)-NC</text>
<text transform="translate(197.60,209.60) rotate(-13.8)" font-size="15.5" text-anchor="start" fill="#231f20" stroke="#231f20" stroke-width="0.15">LINC01016 (+)</text>
<text transform="translate(263.20,210.00) rotate(-13.8)" font-size="15.5" text-anchor="start" fill="#231f20" stroke="#231f20" stroke-width="0.15">LINC01016 (-)-NC</text>
<text transform="translate(329.20,210.00) rotate(-13.8)" font-size="15.5" text-anchor="start" fill="#231f20" stroke="#231f20" stroke-width="0.15">LINC01016 (-)</text>
<text transform="translate(39.90,267.20) rotate(-90)" font-size="14.6" text-anchor="start" fill="#231f20" stroke="#231f20" stroke-width="0.15">Ishikawa</text>
<text transform="translate(39.90,328.90) rotate(-90) scale(0.88,1)" font-size="14.6" text-anchor="start" fill="#231f20" stroke="#231f20" stroke-width="0.15">RL-95-2</text>
<line x1="457.40" y1="216.50" x2="457.40" y2="263.20" stroke="#3a3a3a" stroke-width="1.2"/>
<line x1="456.80" y1="263.20" x2="523.00" y2="263.20" stroke="#231f20" stroke-width="1.2"/>
<line x1="457.40" y1="216.50" x2="459.90" y2="216.50" stroke="#3a3a3a" stroke-width="1"/>
<text transform="translate(453.00,221.75)" font-size="15" text-anchor="end" fill="#231f20" stroke="#231f20" stroke-width="0.15">40</text>
<line x1="457.40" y1="240.00" x2="459.90" y2="240.00" stroke="#3a3a3a" stroke-width="1"/>
<text transform="translate(453.00,245.25)" font-size="15" text-anchor="end" fill="#231f20" stroke="#231f20" stroke-width="0.15">20</text>
<line x1="457.40" y1="263.20" x2="459.90" y2="263.20" stroke="#3a3a3a" stroke-width="1"/>
<text transform="translate(453.00,268.45)" font-size="15" text-anchor="end" fill="#231f20" stroke="#231f20" stroke-width="0.15">0</text>
<rect x="461.60" y="236.00" width="8.70" height="27.20" fill="#ffffff" stroke="#231f20" stroke-width="1"/>
<rect x="474.50" y="235.00" width="8.30" height="28.20" fill="#b5b5b5" stroke="#231f20" stroke-width="1"/>
<rect x="486.90" y="223.10" width="8.50" height="40.10" fill="#787878" stroke="#231f20" stroke-width="1"/>
<rect x="499.20" y="237.60" width="8.50" height="25.60" fill="#3b3b3b" stroke="#231f20" stroke-width="1"/>
<line x1="515.75" y1="249.40" x2="515.75" y2="250.30" stroke="#4a4a4a" stroke-width="1.6"/>
<line x1="512.75" y1="249.40" x2="518.75" y2="249.40" stroke="#231f20" stroke-width="1.4"/>
<rect x="511.50" y="250.30" width="8.50" height="12.90" fill="#231815" stroke="#231f20" stroke-width="1"/>
<path d="M491.20,212.70L491.20,220.30M487.91,214.60L494.49,218.40M494.49,214.60L487.91,218.40" stroke="#231f20" stroke-width="1.2" stroke-linecap="round"/>
<path d="M515.80,238.60L515.80,246.20M512.51,240.50L519.09,244.30M519.09,240.50L512.51,244.30" stroke="#231f20" stroke-width="1.2" stroke-linecap="round"/>
<text transform="translate(429.50,263.60) rotate(-90)" font-size="14.3" text-anchor="start" fill="#231f20" stroke="#231f20" stroke-width="0.15">EdU (%)</text>
<line x1="459.70" y1="286.00" x2="459.70" y2="335.00" stroke="#3a3a3a" stroke-width="1.2"/>
<line x1="459.10" y1="335.00" x2="525.00" y2="335.00" stroke="#231f20" stroke-width="1.2"/>
<line x1="459.70" y1="287.30" x2="462.20" y2="287.30" stroke="#3a3a3a" stroke-width="1"/>
<text transform="translate(455.50,292.55)" font-size="15" text-anchor="end" fill="#231f20" stroke="#231f20" stroke-width="0.15">60</text>
<line x1="459.70" y1="309.70" x2="462.20" y2="309.70" stroke="#3a3a3a" stroke-width="1"/>
<text transform="translate(455.50,314.95)" font-size="15" text-anchor="end" fill="#231f20" stroke="#231f20" stroke-width="0.15">30</text>
<line x1="459.70" y1="335.00" x2="462.20" y2="335.00" stroke="#3a3a3a" stroke-width="1"/>
<text transform="translate(455.50,340.25)" font-size="15" text-anchor="end" fill="#231f20" stroke="#231f20" stroke-width="0.15">0</text>
<rect x="463.70" y="309.00" width="8.90" height="26.00" fill="#ffffff" stroke="#231f20" stroke-width="1"/>
<rect x="476.40" y="307.60" width="8.60" height="27.40" fill="#b5b5b5" stroke="#231f20" stroke-width="1"/>
<rect x="489.30" y="299.20" width="8.40" height="35.80" fill="#787878" stroke="#231f20" stroke-width="1"/>
<rect x="501.60" y="311.00" width="8.60" height="24.00" fill="#3b3b3b" stroke="#231f20" stroke-width="1"/>
<rect x="514.40" y="323.00" width="8.60" height="12.00" fill="#231815" stroke="#231f20" stroke-width="1"/>
<path d="M493.50,286.20L493.50,293.80M490.21,288.10L496.79,291.90M496.79,288.10L490.21,291.90" stroke="#231f20" stroke-width="1.2" stroke-linecap="round"/>
<path d="M518.70,311.00L518.70,318.60M515.41,312.90L521.99,316.70M521.99,312.90L515.41,316.70" stroke="#231f20" stroke-width="1.2" stroke-linecap="round"/>
<text transform="translate(429.50,334.60) rotate(-90)" font-size="14.3" text-anchor="start" fill="#231f20" stroke="#231f20" stroke-width="0.15">EdU (%)</text>
<rect x="542.70" y="210.05" width="14.00" height="10.50" fill="#ffffff" stroke="#231f20" stroke-width="1"/>
<text transform="translate(560.00,220.09) scale(1.075,1)" font-size="13.3" text-anchor="start" fill="#231f20" stroke="#231f20" stroke-width="0.15">Control</text>
<rect x="542.70" y="222.05" width="14.00" height="10.50" fill="#b5b5b5" stroke="#231f20" stroke-width="1"/>
<text transform="translate(560.00,232.09) scale(1.075,1)" font-size="13.3" text-anchor="start" fill="#231f20" stroke="#231f20" stroke-width="0.15">LINC01016 (+)-NC</text>
<rect x="542.70" y="234.15" width="14.00" height="10.50" fill="#787878" stroke="#231f20" stroke-width="1"/>
<text transform="translate(560.00,244.19) scale(1.075,1)" font-size="13.3" text-anchor="start" fill="#231f20" stroke="#231f20" stroke-width="0.15">LINC01016 (+)</text>
<rect x="542.70" y="246.15" width="14.00" height="10.50" fill="#3b3b3b" stroke="#231f20" stroke-width="1"/>
<text transform="translate(560.00,256.19) scale(1.075,1)" font-size="13.3" text-anchor="start" fill="#231f20" stroke="#231f20" stroke-width="0.15">LINC01016 (-)-NC</text>
<rect x="542.70" y="258.25" width="14.00" height="10.50" fill="#000000" stroke="#231f20" stroke-width="1"/>
<text transform="translate(560.00,268.29) scale(1.075,1)" font-size="13.3" text-anchor="start" fill="#231f20" stroke="#231f20" stroke-width="0.15">LINC01016 (-)</text>
<text transform="translate(1.50,386.30)" font-size="21.5" text-anchor="start" fill="#231f20" stroke="#231f20" stroke-width="0.15">d</text>
<text transform="translate(79.50,400.50) rotate(-17)" font-size="14.7" text-anchor="start" fill="#231f20" stroke="#231f20" stroke-width="0.15">Control</text>
<text transform="translate(144.80,406.00) rotate(-17)" font-size="14.7" text-anchor="start" fill="#231f20" stroke="#231f20" stroke-width="0.15">LINC01016 (+)-NC</text>
<text transform="translate(220.00,406.00) rotate(-17)" font-size="14.7" text-anchor="start" fill="#231f20" stroke="#231f20" stroke-width="0.15">LINC01016 (+)</text>
<text transform="translate(290.80,406.00) rotate(-17)" font-size="14.7" text-anchor="start" fill="#231f20" stroke="#231f20" stroke-width="0.15">LINC01016 (-)-NC</text>
<text transform="translate(368.00,400.50) rotate(-17)" font-size="14.7" text-anchor="start" fill="#231f20" stroke="#231f20" stroke-width="0.15">LINC01016 (-)</text>
<line x1="20.60" y1="420.70" x2="20.60" y2="552.20" stroke="#777" stroke-width="1"/>
<line x1="20.60" y1="552.20" x2="387.20" y2="552.20" stroke="#999" stroke-width="1.2"/>
<text transform="translate(16.60,520.10) rotate(-90)" font-size="14" text-anchor="start" fill="#231f20" stroke="#231f20" stroke-width="0.15">Cell number</text>
<text transform="translate(32.60,466.20) rotate(-90)" font-size="13.7" text-anchor="start" fill="#231f20" stroke="#231f20" stroke-width="0.15">Ishikawa</text>
<text transform="translate(33.30,539.40) rotate(-90)" font-size="13.6" text-anchor="start" fill="#231f20" stroke="#231f20" stroke-width="0.15">RL-95-2</text>
<text transform="translate(190.60,564.80)" font-size="14" text-anchor="start" fill="#231f20" stroke="#231f20" stroke-width="0.15">DNA content</text>
<line x1="50.60" y1="410.80" x2="50.60" y2="472.40" stroke="#777" stroke-width="0.7"/>
<line x1="50.60" y1="472.40" x2="113.90" y2="472.40" stroke="#777" stroke-width="0.7"/>
<path d="M49.6 472.4h1M49.6 469.8h1M49.6 467.2h1M49.6 464.6h1M49.6 462.0h1M49.6 459.4h1M49.6 456.8h1M49.6 454.2h1M49.6 451.6h1M49.6 449.0h1M49.6 446.4h1M49.6 443.8h1M49.6 441.2h1M49.6 438.6h1M49.6 436.0h1M49.6 433.4h1M49.6 430.8h1M49.6 428.2h1M49.6 425.6h1M49.6 423.0h1M49.6 420.4h1M49.6 417.8h1M49.6 415.2h1" stroke="#999" stroke-width="0.5"/>
<line x1="48.80" y1="423.10" x2="50.60" y2="423.10" stroke="#777" stroke-width="0.6"/>
<text transform="translate(48.40,424.90)" font-size="5.2" text-anchor="end" fill="#555" stroke="#555" stroke-width="0.08">800</text>
<line x1="48.80" y1="435.40" x2="50.60" y2="435.40" stroke="#777" stroke-width="0.6"/>
<text transform="translate(48.40,437.20)" font-size="5.2" text-anchor="end" fill="#555" stroke="#555" stroke-width="0.08">600</text>
<line x1="48.80" y1="448.00" x2="50.60" y2="448.00" stroke="#777" stroke-width="0.6"/>
<text transform="translate(48.40,449.80)" font-size="5.2" text-anchor="end" fill="#555" stroke="#555" stroke-width="0.08">400</text>
<line x1="48.80" y1="460.10" x2="50.60" y2="460.10" stroke="#777" stroke-width="0.6"/>
<text transform="translate(48.40,461.90)" font-size="5.2" text-anchor="end" fill="#555" stroke="#555" stroke-width="0.08">200</text>
<line x1="48.80" y1="472.40" x2="50.60" y2="472.40" stroke="#777" stroke-width="0.6"/>
<text transform="translate(48.40,474.20)" font-size="5.2" text-anchor="end" fill="#555" stroke="#555" stroke-width="0.08">0</text>
<line x1="50.60" y1="472.40" x2="50.60" y2="473.90" stroke="#777" stroke-width="0.6"/>
<text transform="translate(50.60,478.40)" font-size="5.2" text-anchor="middle" fill="#555" stroke="#555" stroke-width="0.08">0</text>
<line x1="64.90" y1="472.40" x2="64.90" y2="473.90" stroke="#777" stroke-width="0.6"/>
<text transform="translate(64.90,478.40)" font-size="5.2" text-anchor="middle" fill="#555" stroke="#555" stroke-width="0.08">40</text>
<line x1="78.30" y1="472.40" x2="78.30" y2="473.90" stroke="#777" stroke-width="0.6"/>
<text transform="translate(78.30,478.40)" font-size="5.2" text-anchor="middle" fill="#555" stroke="#555" stroke-width="0.08">80</text>
<line x1="92.90" y1="472.40" x2="92.90" y2="473.90" stroke="#777" stroke-width="0.6"/>
<text transform="translate(92.90,478.40)" font-size="5.2" text-anchor="middle" fill="#555" stroke="#555" stroke-width="0.08">120</text>
<line x1="106.90" y1="472.40" x2="106.90" y2="473.90" stroke="#777" stroke-width="0.6"/>
<text transform="translate(106.90,478.40)" font-size="5.2" text-anchor="middle" fill="#555" stroke="#555" stroke-width="0.08">160</text>
<path d="M52.60,472.4L52.60,472.40L52.95,472.40L53.30,472.40L53.65,472.40L54.00,472.40L54.35,472.40L54.70,472.40L55.05,472.40L55.40,472.40L55.75,472.40L56.10,472.40L56.45,472.40L56.80,472.40L57.15,472.40L57.50,472.40L57.85,472.40L58.20,472.40L58.55,472.40L58.90,472.40L59.25,472.40L59.60,472.40L59.95,472.40L60.30,472.40L60.65,472.40L61.00,472.40L61.35,472.40L61.70,472.40L62.05,472.40L62.40,472.40L62.75,472.40L63.10,472.40L63.45,472.40L63.80,472.40L64.15,472.40L64.50,472.40L64.85,472.40L65.20,472.40L65.55,472.40L65.90,472.40L66.25,472.40L66.60,472.40L66.95,472.40L67.30,472.40L67.65,472.18L68.00,471.34L68.35,470.51L68.70,469.68L69.05,468.85L69.40,468.02L69.75,467.65L70.10,467.65L70.45,467.65L70.80,467.65L71.15,467.65L71.50,467.65L71.85,467.65L72.20,467.65L72.55,467.65L72.90,467.65L73.25,467.65L73.60,467.65L73.95,467.65L74.30,467.65L74.65,467.65L75.00,467.65L75.35,467.65L75.70,467.65L76.05,467.65L76.40,467.65L76.75,467.65L77.10,467.65L77.45,467.65L77.80,467.65L78.15,467.65L78.50,467.65L78.85,467.65L79.20,467.65L79.55,467.65L79.90,467.65L80.25,467.65L80.60,467.65L80.95,467.65L81.30,467.65L81.65,467.65L82.00,467.65L82.35,467.65L82.70,467.65L83.05,467.70L83.40,468.07L83.75,468.44L84.10,468.81L84.45,469.18L84.80,469.55L85.15,469.92L85.50,470.29L85.85,470.66L86.20,471.03L86.55,471.40L86.90,471.77L87.25,472.14L87.60,472.40L87.95,472.40L88.30,472.40L88.65,472.40L89.00,472.40L89.35,472.40L89.70,472.40L90.05,472.40L90.40,472.40L90.75,472.40L91.10,472.40L91.45,472.40L91.80,472.40L92.15,472.40L92.50,472.40L92.85,472.40L93.20,472.40L93.55,472.40L93.90,472.40L94.25,472.40L94.60,472.40L94.95,472.40L95.30,472.40L95.65,472.40L96.00,472.40L96.35,472.40L96.70,472.40L97.05,472.40L97.40,472.40L97.75,472.40L98.10,472.40L98.45,472.40L98.80,472.40L99.15,472.40L99.50,472.40L99.85,472.40L100.20,472.40L100.55,472.40L100.90,472.40L101.25,472.40L101.60,472.40L101.95,472.40L102.30,472.40L102.65,472.40L103.00,472.40L103.35,472.40L103.70,472.40L104.05,472.40L104.40,472.40L104.75,472.40L105.10,472.40L105.45,472.40L105.80,472.40L106.15,472.40L106.50,472.40L106.85,472.40L107.20,472.40L107.55,472.40L107.90,472.40L108.25,472.40L108.60,472.40L108.95,472.40L109.30,472.40L109.65,472.40L110.00,472.40L110.35,472.40L110.70,472.40L111.05,472.40L111.40,472.40L111.40,472.4Z" fill="#cdd0ea"/>
<path d="M63.45,472.4L63.45,472.06L63.80,471.51L64.15,470.31L64.50,467.94L64.85,463.79L65.20,457.32L65.55,448.50L65.90,438.09L66.25,427.81L66.60,419.91L66.95,416.46L67.30,418.40L67.65,425.21L68.00,435.05L68.35,445.63L68.70,455.03L69.05,462.19L69.40,466.97L69.75,469.78L70.10,471.26L70.45,471.95L70.45,472.4Z" fill="#d01e1a" stroke="#5a1a18" stroke-width="0.4"/>
<path d="M78.15,472.4L78.15,472.12L78.50,471.97L78.85,471.76L79.20,471.47L79.55,471.11L79.90,470.66L80.25,470.13L80.60,469.53L80.95,468.88L81.30,468.22L81.65,467.59L82.00,467.05L82.35,466.63L82.70,466.37L83.05,466.30L83.40,466.43L83.75,466.73L84.10,467.19L84.45,467.76L84.80,468.40L85.15,469.06L85.50,469.70L85.85,470.29L86.20,470.80L86.55,471.22L86.90,471.56L87.25,471.82L87.60,472.02L87.95,472.15L87.95,472.4Z" fill="#d01e1a" stroke="#5a1a18" stroke-width="0.3"/>
<path d="M52.60,471.90L52.95,471.90L53.30,471.90L53.65,471.90L54.00,471.90L54.35,471.90L54.70,471.90L55.05,471.90L55.40,471.90L55.75,471.90L56.10,471.90L56.45,471.90L56.80,471.90L57.15,471.90L57.50,471.90L57.85,471.90L58.20,471.90L58.55,471.90L58.90,471.90L59.25,471.90L59.60,471.90L59.95,471.90L60.30,471.90L60.65,471.90L61.00,471.90L61.35,471.90L61.70,471.90L62.05,471.90L62.40,471.90L62.75,471.90L63.10,471.90L63.45,471.90L63.80,471.51L64.15,470.31L64.50,467.94L64.85,463.79L65.20,457.32L65.55,448.50L65.90,438.09L66.25,427.81L66.60,419.91L66.95,416.46L67.30,418.40L67.65,425.21L68.00,435.05L68.35,445.63L68.70,455.03L69.05,462.19L69.40,466.97L69.75,467.65L70.10,467.65L70.45,467.65L70.80,467.65L71.15,467.65L71.50,467.65L71.85,467.65L72.20,467.65L72.55,467.65L72.90,467.65L73.25,467.65L73.60,467.65L73.95,467.65L74.30,467.65L74.65,467.65L75.00,467.65L75.35,467.65L75.70,467.65L76.05,467.64L76.40,467.64L76.75,467.63L77.10,467.61L77.45,467.58L77.80,467.53L78.15,467.45L78.50,467.32L78.85,467.15L79.20,466.90L79.55,466.56L79.90,466.13L80.25,465.61L80.60,465.00L80.95,464.33L81.30,463.64L81.65,462.96L82.00,462.37L82.35,461.91L82.70,461.63L83.05,461.60L83.40,462.11L83.75,462.82L84.10,463.69L84.45,464.68L84.80,465.73L85.15,466.79L85.50,467.82L85.85,468.78L86.20,469.64L86.55,470.41L86.90,471.09L87.25,471.69L87.60,471.90L87.95,471.90L88.30,471.90L88.65,471.90L89.00,471.90L89.35,471.90L89.70,471.90L90.05,471.90L90.40,471.90L90.75,471.90L91.10,471.90L91.45,471.90L91.80,471.90L92.15,471.90L92.50,471.90L92.85,471.90L93.20,471.90L93.55,471.90L93.90,471.90L94.25,471.90L94.60,471.90L94.95,471.90L95.30,471.90L95.65,471.90L96.00,471.90L96.35,471.90L96.70,471.90L97.05,471.90L97.40,471.90L97.75,471.90L98.10,471.90L98.45,471.90L98.80,471.90L99.15,471.90L99.50,471.90L99.85,471.90L100.20,471.90L100.55,471.90L100.90,471.90L101.25,471.90L101.60,471.90L101.95,471.90L102.30,471.90L102.65,471.90L103.00,471.90L103.35,471.90L103.70,471.90L104.05,471.90L104.40,471.90L104.75,471.90L105.10,471.90L105.45,471.90L105.80,471.90L106.15,471.90L106.50,471.90L106.85,471.90L107.20,471.90L107.55,471.90L107.90,471.90L108.25,471.90L108.60,471.90L108.95,471.90L109.30,471.90L109.65,471.90L110.00,471.90L110.35,471.90L110.70,471.90L111.05,471.90L111.40,471.90" fill="none" stroke="#3a3a3a" stroke-width="0.55"/>
<line x1="121.40" y1="411.00" x2="121.40" y2="471.80" stroke="#777" stroke-width="0.7"/>
<line x1="121.40" y1="471.80" x2="180.00" y2="471.80" stroke="#777" stroke-width="0.7"/>
<path d="M120.4 471.8h1M120.4 469.2h1M120.4 466.6h1M120.4 464.0h1M120.4 461.4h1M120.4 458.8h1M120.4 456.2h1M120.4 453.6h1M120.4 451.0h1M120.4 448.4h1M120.4 445.8h1M120.4 443.2h1M120.4 440.6h1M120.4 438.0h1M120.4 435.4h1M120.4 432.8h1M120.4 430.2h1M120.4 427.6h1M120.4 425.0h1M120.4 422.4h1M120.4 419.8h1M120.4 417.2h1M120.4 414.6h1" stroke="#999" stroke-width="0.5"/>
<line x1="119.60" y1="423.50" x2="121.40" y2="423.50" stroke="#777" stroke-width="0.6"/>
<text transform="translate(119.20,425.30)" font-size="5.2" text-anchor="end" fill="#555" stroke="#555" stroke-width="0.08">800</text>
<line x1="119.60" y1="435.80" x2="121.40" y2="435.80" stroke="#777" stroke-width="0.6"/>
<text transform="translate(119.20,437.60)" font-size="5.2" text-anchor="end" fill="#555" stroke="#555" stroke-width="0.08">600</text>
<line x1="119.60" y1="448.20" x2="121.40" y2="448.20" stroke="#777" stroke-width="0.6"/>
<text transform="translate(119.20,450.00)" font-size="5.2" text-anchor="end" fill="#555" stroke="#555" stroke-width="0.08">400</text>
<line x1="119.60" y1="460.20" x2="121.40" y2="460.20" stroke="#777" stroke-width="0.6"/>
<text transform="translate(119.20,462.00)" font-size="5.2" text-anchor="end" fill="#555" stroke="#555" stroke-width="0.08">200</text>
<line x1="119.60" y1="471.80" x2="121.40" y2="471.80" stroke="#777" stroke-width="0.6"/>
<text transform="translate(119.20,473.60)" font-size="5.2" text-anchor="end" fill="#555" stroke="#555" stroke-width="0.08">0</text>
<line x1="121.40" y1="471.80" x2="121.40" y2="473.30" stroke="#777" stroke-width="0.6"/>
<text transform="translate(121.40,477.80)" font-size="5.2" text-anchor="middle" fill="#555" stroke="#555" stroke-width="0.08">0</text>
<line x1="135.20" y1="471.80" x2="135.20" y2="473.30" stroke="#777" stroke-width="0.6"/>
<text transform="translate(135.20,477.80)" font-size="5.2" text-anchor="middle" fill="#555" stroke="#555" stroke-width="0.08">30</text>
<line x1="148.60" y1="471.80" x2="148.60" y2="473.30" stroke="#777" stroke-width="0.6"/>
<text transform="translate(148.60,477.80)" font-size="5.2" text-anchor="middle" fill="#555" stroke="#555" stroke-width="0.08">60</text>
<line x1="162.20" y1="471.80" x2="162.20" y2="473.30" stroke="#777" stroke-width="0.6"/>
<text transform="translate(162.20,477.80)" font-size="5.2" text-anchor="middle" fill="#555" stroke="#555" stroke-width="0.08">90</text>
<line x1="175.30" y1="471.80" x2="175.30" y2="473.30" stroke="#777" stroke-width="0.6"/>
<text transform="translate(175.30,477.80)" font-size="5.2" text-anchor="middle" fill="#555" stroke="#555" stroke-width="0.08">120</text>
<path d="M123.40,471.8L123.40,471.80L123.75,471.80L124.10,471.80L124.45,471.80L124.80,471.80L125.15,471.80L125.50,471.80L125.85,471.80L126.20,471.80L126.55,471.80L126.90,471.80L127.25,471.80L127.60,471.80L127.95,471.80L128.30,471.80L128.65,471.80L129.00,471.80L129.35,471.80L129.70,471.80L130.05,471.80L130.40,471.80L130.75,471.80L131.10,471.80L131.45,471.80L131.80,471.80L132.15,471.80L132.50,471.80L132.85,471.80L133.20,471.80L133.55,471.80L133.90,471.80L134.25,471.80L134.60,471.80L134.95,471.80L135.30,471.80L135.65,471.80L136.00,471.80L136.35,471.80L136.70,471.80L137.05,471.80L137.40,471.80L137.75,471.80L138.10,471.80L138.45,471.80L138.80,471.80L139.15,471.80L139.50,471.80L139.85,471.80L140.20,471.80L140.55,471.80L140.90,471.80L141.25,471.80L141.60,471.80L141.95,471.80L142.30,471.80L142.65,471.80L143.00,471.80L143.35,471.80L143.70,471.80L144.05,471.80L144.40,471.80L144.75,471.80L145.10,471.80L145.45,471.57L145.80,470.85L146.15,470.13L146.50,469.41L146.85,468.69L147.20,467.97L147.55,467.68L147.90,467.68L148.25,467.68L148.60,467.68L148.95,467.68L149.30,467.68L149.65,467.68L150.00,467.68L150.35,467.68L150.70,467.68L151.05,467.68L151.40,467.68L151.75,467.68L152.10,467.68L152.45,467.68L152.80,467.68L153.15,467.68L153.50,467.68L153.85,467.68L154.20,467.68L154.55,467.68L154.90,467.68L155.25,467.68L155.60,467.68L155.95,467.68L156.30,467.68L156.65,467.68L157.00,467.68L157.35,467.68L157.70,467.68L158.05,467.68L158.40,467.68L158.75,467.68L159.10,467.68L159.45,467.68L159.80,467.68L160.15,467.68L160.50,467.68L160.85,467.68L161.20,467.68L161.55,467.68L161.90,467.68L162.25,467.68L162.60,467.68L162.95,467.68L163.30,467.68L163.65,467.68L164.00,467.68L164.35,467.68L164.70,467.68L165.05,467.82L165.40,467.97L165.75,468.11L166.10,468.26L166.45,468.40L166.80,468.55L167.15,468.70L167.50,468.84L167.85,468.99L168.20,469.13L168.55,469.28L168.90,469.43L169.25,469.57L169.60,469.72L169.95,469.86L170.30,470.01L170.65,470.15L171.00,470.30L171.35,470.45L171.70,470.59L172.05,470.74L172.40,470.88L172.75,471.03L173.10,471.18L173.45,471.32L173.80,471.47L174.15,471.61L174.50,471.76L174.85,471.80L175.20,471.80L175.55,471.80L175.90,471.80L176.25,471.80L176.60,471.80L176.95,471.80L177.30,471.80L177.65,471.80L177.65,471.8Z" fill="#cdd0ea"/>
<path d="M140.20,471.8L140.20,471.13L140.55,470.49L140.90,469.38L141.25,467.55L141.60,464.75L141.95,460.73L142.30,455.38L142.65,448.76L143.00,441.22L143.35,433.41L143.70,426.23L144.05,420.65L144.40,417.50L144.75,417.28L145.10,420.03L145.45,425.32L145.80,432.33L146.15,440.10L146.50,447.72L146.85,454.51L147.20,460.05L147.55,464.25L147.90,467.21L148.25,469.17L148.60,470.37L148.95,471.06L149.30,471.44L149.30,471.8Z" fill="#d01e1a" stroke="#5a1a18" stroke-width="0.4"/>
<path d="M159.45,471.8L159.45,471.63L159.80,471.57L160.15,471.50L160.50,471.41L160.85,471.31L161.20,471.18L161.55,471.03L161.90,470.86L162.25,470.66L162.60,470.44L162.95,470.20L163.30,469.93L163.65,469.65L164.00,469.36L164.35,469.06L164.70,468.77L165.05,468.48L165.40,468.21L165.75,467.97L166.10,467.76L166.45,467.60L166.80,467.48L167.15,467.41L167.50,467.40L167.85,467.45L168.20,467.54L168.55,467.69L168.90,467.88L169.25,468.11L169.60,468.36L169.95,468.64L170.30,468.94L170.65,469.23L171.00,469.53L171.35,469.82L171.70,470.09L172.05,470.34L172.40,470.57L172.75,470.78L173.10,470.96L173.45,471.12L173.80,471.26L174.15,471.37L174.50,471.46L174.85,471.54L175.20,471.60L175.20,471.8Z" fill="#d01e1a" stroke="#5a1a18" stroke-width="0.3"/>
<path d="M123.40,471.30L123.75,471.30L124.10,471.30L124.45,471.30L124.80,471.30L125.15,471.30L125.50,471.30L125.85,471.30L126.20,471.30L126.55,471.30L126.90,471.30L127.25,471.30L127.60,471.30L127.95,471.30L128.30,471.30L128.65,471.30L129.00,471.30L129.35,471.30L129.70,471.30L130.05,471.30L130.40,471.30L130.75,471.30L131.10,471.30L131.45,471.30L131.80,471.30L132.15,471.30L132.50,471.30L132.85,471.30L133.20,471.30L133.55,471.30L133.90,471.30L134.25,471.30L134.60,471.30L134.95,471.30L135.30,471.30L135.65,471.30L136.00,471.30L136.35,471.30L136.70,471.30L137.05,471.30L137.40,471.30L137.75,471.30L138.10,471.30L138.45,471.30L138.80,471.30L139.15,471.30L139.50,471.30L139.85,471.30L140.20,471.13L140.55,470.49L140.90,469.38L141.25,467.55L141.60,464.75L141.95,460.73L142.30,455.38L142.65,448.76L143.00,441.22L143.35,433.41L143.70,426.23L144.05,420.65L144.40,417.50L144.75,417.28L145.10,420.03L145.45,425.32L145.80,432.33L146.15,440.10L146.50,447.72L146.85,454.51L147.20,460.05L147.55,464.25L147.90,467.21L148.25,467.67L148.60,467.67L148.95,467.67L149.30,467.67L149.65,467.67L150.00,467.67L150.35,467.67L150.70,467.67L151.05,467.67L151.40,467.67L151.75,467.67L152.10,467.67L152.45,467.67L152.80,467.67L153.15,467.67L153.50,467.67L153.85,467.67L154.20,467.67L154.55,467.67L154.90,467.67L155.25,467.67L155.60,467.67L155.95,467.67L156.30,467.67L156.65,467.67L157.00,467.66L157.35,467.66L157.70,467.65L158.05,467.64L158.40,467.63L158.75,467.61L159.10,467.58L159.45,467.54L159.80,467.50L160.15,467.43L160.50,467.36L160.85,467.26L161.20,467.14L161.55,467.00L161.90,466.83L162.25,466.63L162.60,466.40L162.95,466.14L163.30,465.86L163.65,465.55L164.00,465.23L164.35,464.90L164.70,464.56L165.05,464.38L165.40,464.22L165.75,464.08L166.10,463.99L166.45,463.94L166.80,463.94L167.15,464.01L167.50,464.14L167.85,464.34L168.20,464.60L168.55,464.92L168.90,465.29L169.25,465.70L169.60,466.14L169.95,466.61L170.30,467.09L170.65,467.57L171.00,468.04L171.35,468.50L171.70,468.94L172.05,469.35L172.40,469.74L172.75,470.10L173.10,470.43L173.45,470.73L173.80,471.00L174.15,471.25L174.50,471.30L174.85,471.30L175.20,471.30L175.55,471.30L175.90,471.30L176.25,471.30L176.60,471.30L176.95,471.30L177.30,471.30L177.65,471.30" fill="none" stroke="#3a3a3a" stroke-width="0.55"/>
<line x1="192.10" y1="410.00" x2="192.10" y2="471.80" stroke="#777" stroke-width="0.7"/>
<line x1="192.10" y1="471.80" x2="254.50" y2="471.80" stroke="#777" stroke-width="0.7"/>
<path d="M191.1 471.8h1M191.1 469.2h1M191.1 466.6h1M191.1 464.0h1M191.1 461.4h1M191.1 458.8h1M191.1 456.2h1M191.1 453.6h1M191.1 451.0h1M191.1 448.4h1M191.1 445.8h1M191.1 443.2h1M191.1 440.6h1M191.1 438.0h1M191.1 435.4h1M191.1 432.8h1M191.1 430.2h1M191.1 427.6h1M191.1 425.0h1M191.1 422.4h1M191.1 419.8h1M191.1 417.2h1M191.1 414.6h1" stroke="#999" stroke-width="0.5"/>
<line x1="190.30" y1="423.50" x2="192.10" y2="423.50" stroke="#777" stroke-width="0.6"/>
<text transform="translate(189.90,425.30)" font-size="5.2" text-anchor="end" fill="#555" stroke="#555" stroke-width="0.08">800</text>
<line x1="190.30" y1="435.80" x2="192.10" y2="435.80" stroke="#777" stroke-width="0.6"/>
<text transform="translate(189.90,437.60)" font-size="5.2" text-anchor="end" fill="#555" stroke="#555" stroke-width="0.08">600</text>
<line x1="190.30" y1="448.20" x2="192.10" y2="448.20" stroke="#777" stroke-width="0.6"/>
<text transform="translate(189.90,450.00)" font-size="5.2" text-anchor="end" fill="#555" stroke="#555" stroke-width="0.08">400</text>
<line x1="190.30" y1="460.20" x2="192.10" y2="460.20" stroke="#777" stroke-width="0.6"/>
<text transform="translate(189.90,462.00)" font-size="5.2" text-anchor="end" fill="#555" stroke="#555" stroke-width="0.08">200</text>
<line x1="190.30" y1="471.80" x2="192.10" y2="471.80" stroke="#777" stroke-width="0.6"/>
<text transform="translate(189.90,473.60)" font-size="5.2" text-anchor="end" fill="#555" stroke="#555" stroke-width="0.08">0</text>
<line x1="196.50" y1="471.80" x2="196.50" y2="473.30" stroke="#777" stroke-width="0.6"/>
<text transform="translate(196.50,477.80)" font-size="5.2" text-anchor="middle" fill="#555" stroke="#555" stroke-width="0.08">20</text>
<line x1="210.00" y1="471.80" x2="210.00" y2="473.30" stroke="#777" stroke-width="0.6"/>
<text transform="translate(210.00,477.80)" font-size="5.2" text-anchor="middle" fill="#555" stroke="#555" stroke-width="0.08">40</text>
<line x1="222.00" y1="471.80" x2="222.00" y2="473.30" stroke="#777" stroke-width="0.6"/>
<text transform="translate(222.00,477.80)" font-size="5.2" text-anchor="middle" fill="#555" stroke="#555" stroke-width="0.08">60</text>
<line x1="235.00" y1="471.80" x2="235.00" y2="473.30" stroke="#777" stroke-width="0.6"/>
<text transform="translate(235.00,477.80)" font-size="5.2" text-anchor="middle" fill="#555" stroke="#555" stroke-width="0.08">80</text>
<line x1="245.00" y1="471.80" x2="245.00" y2="473.30" stroke="#777" stroke-width="0.6"/>
<text transform="translate(245.00,477.80)" font-size="5.2" text-anchor="middle" fill="#555" stroke="#555" stroke-width="0.08">100</text>
<line x1="254.00" y1="471.80" x2="254.00" y2="473.30" stroke="#777" stroke-width="0.6"/>
<text transform="translate(254.00,477.80)" font-size="5.2" text-anchor="middle" fill="#555" stroke="#555" stroke-width="0.08">120</text>
<path d="M194.10,471.8L194.10,471.80L194.45,471.80L194.80,471.80L195.15,471.80L195.50,471.80L195.85,471.80L196.20,471.80L196.55,471.80L196.90,471.80L197.25,471.80L197.60,471.80L197.95,471.80L198.30,471.80L198.65,471.80L199.00,471.80L199.35,471.80L199.70,471.80L200.05,471.80L200.40,471.80L200.75,471.80L201.10,471.80L201.45,471.80L201.80,471.80L202.15,471.80L202.50,471.80L202.85,471.80L203.20,471.80L203.55,471.80L203.90,471.80L204.25,471.80L204.60,471.80L204.95,471.80L205.30,471.80L205.65,471.80L206.00,471.80L206.35,471.80L206.70,471.80L207.05,471.80L207.40,471.80L207.75,471.80L208.10,471.80L208.45,471.80L208.80,471.80L209.15,471.80L209.50,471.80L209.85,471.80L210.20,471.80L210.55,471.80L210.90,471.80L211.25,471.80L211.60,471.80L211.95,471.80L212.30,471.80L212.65,471.80L213.00,471.80L213.35,471.80L213.70,471.80L214.05,471.80L214.40,471.80L214.75,471.80L215.10,471.80L215.45,471.80L215.80,471.80L216.15,471.80L216.50,471.80L216.85,471.80L217.20,471.80L217.55,471.80L217.90,471.80L218.25,471.80L218.60,471.80L218.95,471.70L219.30,470.26L219.65,468.81L220.00,467.37L220.35,465.93L220.70,464.48L221.05,463.55L221.40,463.55L221.75,463.55L222.10,463.55L222.45,463.55L222.80,463.55L223.15,463.55L223.50,463.55L223.85,463.55L224.20,463.55L224.55,463.55L224.90,463.55L225.25,463.55L225.60,463.55L225.95,463.55L226.30,463.55L226.65,463.55L227.00,463.55L227.35,463.55L227.70,463.55L228.05,463.55L228.40,463.55L228.75,463.55L229.10,463.55L229.45,463.55L229.80,463.55L230.15,463.55L230.50,463.55L230.85,463.55L231.20,463.55L231.55,463.55L231.90,463.55L232.25,463.55L232.60,463.55L232.95,463.55L233.30,463.55L233.65,463.55L234.00,463.55L234.35,463.55L234.70,463.55L235.05,463.55L235.40,463.55L235.75,463.55L236.10,463.55L236.45,463.55L236.80,463.55L237.15,463.55L237.50,463.55L237.85,463.55L238.20,463.55L238.55,463.55L238.90,463.55L239.25,463.55L239.60,463.55L239.95,463.55L240.30,463.73L240.65,463.93L241.00,464.14L241.35,464.35L241.70,464.55L242.05,464.76L242.40,464.96L242.75,465.17L243.10,465.38L243.45,465.58L243.80,465.79L244.15,466.00L244.50,466.20L244.85,466.41L245.20,466.61L245.55,466.82L245.90,467.03L246.25,467.23L246.60,467.44L246.95,467.65L247.30,467.85L247.65,468.06L248.00,468.26L248.35,468.47L248.70,468.68L249.05,468.88L249.40,469.09L249.75,469.30L250.10,469.50L250.45,469.71L250.80,469.91L251.15,470.12L251.50,470.33L251.85,470.53L251.85,471.8Z" fill="#cdd0ea"/>
<path d="M212.30,471.8L212.30,471.27L212.65,470.87L213.00,470.21L213.35,469.21L213.70,467.70L214.05,465.56L214.40,462.63L214.75,458.79L215.10,453.99L215.45,448.28L215.80,441.83L216.15,434.95L216.50,428.08L216.85,421.74L217.20,416.51L217.55,412.87L217.90,411.19L218.25,411.65L218.60,414.20L218.95,418.58L219.30,424.36L219.65,430.99L220.00,437.92L220.35,444.67L220.70,450.83L221.05,456.16L221.40,460.55L221.75,463.99L222.10,466.57L222.45,468.42L222.80,469.69L223.15,470.53L223.50,471.06L223.85,471.39L223.85,471.8Z" fill="#d01e1a" stroke="#5a1a18" stroke-width="0.4"/>
<path d="M232.95,471.8L232.95,471.50L233.30,471.43L233.65,471.35L234.00,471.25L234.35,471.14L234.70,471.02L235.05,470.87L235.40,470.71L235.75,470.53L236.10,470.32L236.45,470.10L236.80,469.85L237.15,469.57L237.50,469.28L237.85,468.97L238.20,468.64L238.55,468.29L238.90,467.93L239.25,467.56L239.60,467.19L239.95,466.81L240.30,466.44L240.65,466.08L241.00,465.73L241.35,465.41L241.70,465.11L242.05,464.84L242.40,464.60L242.75,464.41L243.10,464.26L243.45,464.16L243.80,464.11L244.15,464.10L244.50,464.15L244.85,464.25L245.20,464.39L245.55,464.57L245.90,464.80L246.25,465.07L246.60,465.36L246.95,465.68L247.30,466.03L247.65,466.39L248.00,466.76L248.35,467.13L248.70,467.51L249.05,467.88L249.40,468.24L249.75,468.59L250.10,468.92L250.45,469.24L250.80,469.53L251.15,469.81L251.50,470.06L251.85,470.29L251.85,471.8Z" fill="#d01e1a" stroke="#5a1a18" stroke-width="0.3"/>
<path d="M194.10,471.30L194.45,471.30L194.80,471.30L195.15,471.30L195.50,471.30L195.85,471.30L196.20,471.30L196.55,471.30L196.90,471.30L197.25,471.30L197.60,471.30L197.95,471.30L198.30,471.30L198.65,471.30L199.00,471.30L199.35,471.30L199.70,471.30L200.05,471.30L200.40,471.30L200.75,471.30L201.10,471.30L201.45,471.30L201.80,471.30L202.15,471.30L202.50,471.30L202.85,471.30L203.20,471.30L203.55,471.30L203.90,471.30L204.25,471.30L204.60,471.30L204.95,471.30L205.30,471.30L205.65,471.30L206.00,471.30L206.35,471.30L206.70,471.30L207.05,471.30L207.40,471.30L207.75,471.30L208.10,471.30L208.45,471.30L208.80,471.30L209.15,471.30L209.50,471.30L209.85,471.30L210.20,471.30L210.55,471.30L210.90,471.30L211.25,471.30L211.60,471.30L211.95,471.30L212.30,471.27L212.65,470.87L213.00,470.21L213.35,469.21L213.70,467.70L214.05,465.56L214.40,462.63L214.75,458.79L215.10,453.99L215.45,448.28L215.80,441.83L216.15,434.95L216.50,428.08L216.85,421.74L217.20,416.51L217.55,412.87L217.90,411.19L218.25,411.65L218.60,414.20L218.95,418.58L219.30,424.36L219.65,430.99L220.00,437.92L220.35,444.67L220.70,450.83L221.05,456.16L221.40,460.55L221.75,463.55L222.10,463.55L222.45,463.55L222.80,463.55L223.15,463.55L223.50,463.55L223.85,463.55L224.20,463.55L224.55,463.55L224.90,463.55L225.25,463.55L225.60,463.55L225.95,463.55L226.30,463.55L226.65,463.55L227.00,463.55L227.35,463.55L227.70,463.55L228.05,463.55L228.40,463.54L228.75,463.54L229.10,463.54L229.45,463.53L229.80,463.53L230.15,463.52L230.50,463.51L230.85,463.50L231.20,463.49L231.55,463.47L231.90,463.44L232.25,463.42L232.60,463.38L232.95,463.34L233.30,463.28L233.65,463.22L234.00,463.14L234.35,463.05L234.70,462.94L235.05,462.81L235.40,462.67L235.75,462.50L236.10,462.31L236.45,462.10L236.80,461.86L237.15,461.60L237.50,461.32L237.85,461.01L238.20,460.68L238.55,460.33L238.90,459.96L239.25,459.58L239.60,459.18L239.95,458.79L240.30,458.57L240.65,458.39L241.00,458.22L241.35,458.08L241.70,457.96L242.05,457.87L242.40,457.82L242.75,457.82L243.10,457.86L243.45,457.95L243.80,458.10L244.15,458.30L244.50,458.56L244.85,458.87L245.20,459.23L245.55,459.64L245.90,460.10L246.25,460.59L246.60,461.12L246.95,461.68L247.30,462.26L247.65,462.85L248.00,463.45L248.35,464.05L248.70,464.65L249.05,465.24L249.40,465.81L249.75,466.37L250.10,466.91L250.45,467.43L250.80,467.93L251.15,468.40L251.50,468.85L251.85,469.27" fill="none" stroke="#3a3a3a" stroke-width="0.55"/>
<line x1="264.20" y1="409.40" x2="264.20" y2="470.70" stroke="#777" stroke-width="0.7"/>
<line x1="264.20" y1="470.70" x2="329.40" y2="470.70" stroke="#777" stroke-width="0.7"/>
<path d="M263.2 470.7h1M263.2 468.1h1M263.2 465.5h1M263.2 462.9h1M263.2 460.3h1M263.2 457.7h1M263.2 455.1h1M263.2 452.5h1M263.2 449.9h1M263.2 447.3h1M263.2 444.7h1M263.2 442.1h1M263.2 439.5h1M263.2 436.9h1M263.2 434.3h1M263.2 431.7h1M263.2 429.1h1M263.2 426.5h1M263.2 423.9h1M263.2 421.3h1M263.2 418.7h1M263.2 416.1h1M263.2 413.5h1" stroke="#999" stroke-width="0.5"/>
<line x1="262.40" y1="421.60" x2="264.20" y2="421.60" stroke="#777" stroke-width="0.6"/>
<text transform="translate(262.00,423.40)" font-size="5.2" text-anchor="end" fill="#555" stroke="#555" stroke-width="0.08">800</text>
<line x1="262.40" y1="434.10" x2="264.20" y2="434.10" stroke="#777" stroke-width="0.6"/>
<text transform="translate(262.00,435.90)" font-size="5.2" text-anchor="end" fill="#555" stroke="#555" stroke-width="0.08">600</text>
<line x1="262.40" y1="446.50" x2="264.20" y2="446.50" stroke="#777" stroke-width="0.6"/>
<text transform="translate(262.00,448.30)" font-size="5.2" text-anchor="end" fill="#555" stroke="#555" stroke-width="0.08">400</text>
<line x1="262.40" y1="458.80" x2="264.20" y2="458.80" stroke="#777" stroke-width="0.6"/>
<text transform="translate(262.00,460.60)" font-size="5.2" text-anchor="end" fill="#555" stroke="#555" stroke-width="0.08">200</text>
<line x1="262.40" y1="470.70" x2="264.20" y2="470.70" stroke="#777" stroke-width="0.6"/>
<text transform="translate(262.00,472.50)" font-size="5.2" text-anchor="end" fill="#555" stroke="#555" stroke-width="0.08">0</text>
<line x1="264.20" y1="470.70" x2="264.20" y2="472.20" stroke="#777" stroke-width="0.6"/>
<text transform="translate(264.20,476.70)" font-size="5.2" text-anchor="middle" fill="#555" stroke="#555" stroke-width="0.08">0</text>
<line x1="275.10" y1="470.70" x2="275.10" y2="472.20" stroke="#777" stroke-width="0.6"/>
<text transform="translate(275.10,476.70)" font-size="5.2" text-anchor="middle" fill="#555" stroke="#555" stroke-width="0.08">20</text>
<line x1="285.70" y1="470.70" x2="285.70" y2="472.20" stroke="#777" stroke-width="0.6"/>
<text transform="translate(285.70,476.70)" font-size="5.2" text-anchor="middle" fill="#555" stroke="#555" stroke-width="0.08">40</text>
<line x1="295.50" y1="470.70" x2="295.50" y2="472.20" stroke="#777" stroke-width="0.6"/>
<text transform="translate(295.50,476.70)" font-size="5.2" text-anchor="middle" fill="#555" stroke="#555" stroke-width="0.08">60</text>
<line x1="305.80" y1="470.70" x2="305.80" y2="472.20" stroke="#777" stroke-width="0.6"/>
<text transform="translate(305.80,476.70)" font-size="5.2" text-anchor="middle" fill="#555" stroke="#555" stroke-width="0.08">80</text>
<line x1="317.40" y1="470.70" x2="317.40" y2="472.20" stroke="#777" stroke-width="0.6"/>
<text transform="translate(317.40,476.70)" font-size="5.2" text-anchor="middle" fill="#555" stroke="#555" stroke-width="0.08">100</text>
<line x1="329.00" y1="470.70" x2="329.00" y2="472.20" stroke="#777" stroke-width="0.6"/>
<text transform="translate(329.00,476.70)" font-size="5.2" text-anchor="middle" fill="#555" stroke="#555" stroke-width="0.08">120</text>
<path d="M266.20,470.7L266.20,470.70L266.55,470.70L266.90,470.70L267.25,470.70L267.60,470.70L267.95,470.70L268.30,470.70L268.65,470.70L269.00,470.70L269.35,470.70L269.70,470.70L270.05,470.70L270.40,470.70L270.75,470.70L271.10,470.70L271.45,470.70L271.80,470.70L272.15,470.70L272.50,470.70L272.85,470.70L273.20,470.70L273.55,470.70L273.90,470.70L274.25,470.70L274.60,470.70L274.95,470.70L275.30,470.70L275.65,470.70L276.00,470.70L276.35,470.70L276.70,470.70L277.05,470.70L277.40,470.70L277.75,470.70L278.10,470.70L278.45,470.70L278.80,470.70L279.15,470.70L279.50,470.70L279.85,470.70L280.20,470.70L280.55,470.70L280.90,470.70L281.25,470.70L281.60,470.70L281.95,470.70L282.30,470.70L282.65,470.70L283.00,470.70L283.35,470.70L283.70,470.70L284.05,470.70L284.40,470.70L284.75,470.70L285.10,470.70L285.45,470.70L285.80,470.70L286.15,470.70L286.50,470.70L286.85,470.70L287.20,470.70L287.55,470.70L287.90,470.70L288.25,470.70L288.60,470.70L288.95,470.70L289.30,470.70L289.65,470.70L290.00,470.70L290.35,470.70L290.70,470.70L291.05,470.70L291.40,470.70L291.75,470.00L292.10,468.55L292.45,467.11L292.80,465.67L293.15,464.22L293.50,462.78L293.85,462.45L294.20,462.45L294.55,462.45L294.90,462.45L295.25,462.45L295.60,462.45L295.95,462.45L296.30,462.45L296.65,462.45L297.00,462.45L297.35,462.45L297.70,462.45L298.05,462.45L298.40,462.45L298.75,462.45L299.10,462.45L299.45,462.45L299.80,462.45L300.15,462.45L300.50,462.45L300.85,462.45L301.20,462.45L301.55,462.45L301.90,462.45L302.25,462.45L302.60,462.45L302.95,462.45L303.30,462.45L303.65,462.45L304.00,462.45L304.35,462.45L304.70,462.45L305.05,462.45L305.40,462.45L305.75,462.45L306.10,462.45L306.45,462.45L306.80,462.45L307.15,462.45L307.50,462.45L307.85,462.45L308.20,462.45L308.55,462.45L308.90,462.45L309.25,462.45L309.60,462.45L309.95,462.45L310.30,462.45L310.65,462.45L311.00,462.45L311.35,462.67L311.70,462.89L312.05,463.12L312.40,463.34L312.75,463.56L313.10,463.78L313.45,464.00L313.80,464.23L314.15,464.45L314.50,464.67L314.85,464.89L315.20,465.12L315.55,465.34L315.90,465.56L316.25,465.78L316.60,466.00L316.95,466.23L317.30,466.45L317.65,466.67L318.00,466.89L318.35,467.11L318.70,467.34L319.05,467.56L319.40,467.78L319.75,468.00L320.10,468.22L320.45,468.45L320.80,468.67L321.15,468.89L321.50,469.11L321.85,469.34L322.20,469.56L322.55,469.78L322.90,470.00L323.25,470.22L323.60,470.45L323.95,470.67L324.30,470.70L324.65,470.70L325.00,470.70L325.35,470.70L325.70,470.70L326.05,470.70L326.40,470.70L326.75,470.70L326.75,470.7Z" fill="#cdd0ea"/>
<path d="M285.10,470.7L285.10,470.31L285.45,469.99L285.80,469.43L286.15,468.54L286.50,467.15L286.85,465.11L287.20,462.23L287.55,458.36L287.90,453.43L288.25,447.46L288.60,440.64L288.95,433.32L289.30,426.04L289.65,419.40L290.00,414.07L290.35,410.60L290.70,409.40L291.05,410.60L291.40,414.07L291.75,419.40L292.10,426.04L292.45,433.32L292.80,440.64L293.15,447.46L293.50,453.43L293.85,458.36L294.20,462.23L294.55,465.11L294.90,467.15L295.25,468.54L295.60,469.43L295.95,469.99L296.30,470.31L296.30,470.7Z" fill="#d01e1a" stroke="#5a1a18" stroke-width="0.4"/>
<path d="M307.85,470.7L307.85,470.52L308.20,470.46L308.55,470.40L308.90,470.32L309.25,470.22L309.60,470.11L309.95,469.97L310.30,469.82L310.65,469.64L311.00,469.44L311.35,469.23L311.70,468.99L312.05,468.73L312.40,468.47L312.75,468.19L313.10,467.91L313.45,467.64L313.80,467.37L314.15,467.12L314.50,466.89L314.85,466.69L315.20,466.53L315.55,466.41L315.90,466.33L316.25,466.30L316.60,466.32L316.95,466.38L317.30,466.49L317.65,466.64L318.00,466.83L318.35,467.05L318.70,467.30L319.05,467.56L319.40,467.83L319.75,468.11L320.10,468.39L320.45,468.66L320.80,468.92L321.15,469.16L321.50,469.38L321.85,469.59L322.20,469.77L322.55,469.93L322.90,470.07L323.25,470.19L323.60,470.29L323.95,470.38L324.30,470.45L324.65,470.50L325.00,470.55L325.00,470.7Z" fill="#d01e1a" stroke="#5a1a18" stroke-width="0.3"/>
<path d="M266.20,470.20L266.55,470.20L266.90,470.20L267.25,470.20L267.60,470.20L267.95,470.20L268.30,470.20L268.65,470.20L269.00,470.20L269.35,470.20L269.70,470.20L270.05,470.20L270.40,470.20L270.75,470.20L271.10,470.20L271.45,470.20L271.80,470.20L272.15,470.20L272.50,470.20L272.85,470.20L273.20,470.20L273.55,470.20L273.90,470.20L274.25,470.20L274.60,470.20L274.95,470.20L275.30,470.20L275.65,470.20L276.00,470.20L276.35,470.20L276.70,470.20L277.05,470.20L277.40,470.20L277.75,470.20L278.10,470.20L278.45,470.20L278.80,470.20L279.15,470.20L279.50,470.20L279.85,470.20L280.20,470.20L280.55,470.20L280.90,470.20L281.25,470.20L281.60,470.20L281.95,470.20L282.30,470.20L282.65,470.20L283.00,470.20L283.35,470.20L283.70,470.20L284.05,470.20L284.40,470.20L284.75,470.20L285.10,470.20L285.45,469.99L285.80,469.43L286.15,468.54L286.50,467.15L286.85,465.11L287.20,462.23L287.55,458.36L287.90,453.43L288.25,447.46L288.60,440.64L288.95,433.32L289.30,426.04L289.65,419.40L290.00,414.07L290.35,410.60L290.70,409.40L291.05,410.60L291.40,414.07L291.75,419.40L292.10,426.04L292.45,433.32L292.80,440.64L293.15,447.46L293.50,453.43L293.85,458.36L294.20,462.23L294.55,462.45L294.90,462.45L295.25,462.45L295.60,462.45L295.95,462.45L296.30,462.45L296.65,462.45L297.00,462.45L297.35,462.45L297.70,462.45L298.05,462.45L298.40,462.45L298.75,462.45L299.10,462.45L299.45,462.45L299.80,462.45L300.15,462.45L300.50,462.45L300.85,462.45L301.20,462.45L301.55,462.45L301.90,462.45L302.25,462.45L302.60,462.45L302.95,462.45L303.30,462.45L303.65,462.45L304.00,462.45L304.35,462.45L304.70,462.44L305.05,462.44L305.40,462.44L305.75,462.43L306.10,462.42L306.45,462.41L306.80,462.40L307.15,462.38L307.50,462.35L307.85,462.32L308.20,462.28L308.55,462.22L308.90,462.16L309.25,462.07L309.60,461.97L309.95,461.85L310.30,461.71L310.65,461.54L311.00,461.35L311.35,461.36L311.70,461.35L312.05,461.31L312.40,461.26L312.75,461.20L313.10,461.13L313.45,461.06L313.80,461.00L314.15,460.95L314.50,460.92L314.85,460.93L315.20,460.97L315.55,461.06L315.90,461.19L316.25,461.38L316.60,461.62L316.95,461.92L317.30,462.26L317.65,462.65L318.00,463.08L318.35,463.54L318.70,464.03L319.05,464.53L319.40,465.04L319.75,465.56L320.10,466.07L320.45,466.57L320.80,467.05L321.15,467.52L321.50,467.96L321.85,468.38L322.20,468.77L322.55,469.14L322.90,469.49L323.25,469.82L323.60,470.13L323.95,470.20L324.30,470.20L324.65,470.20L325.00,470.20L325.35,470.20L325.70,470.20L326.05,470.20L326.40,470.20L326.75,470.20" fill="none" stroke="#3a3a3a" stroke-width="0.55"/>
<line x1="336.70" y1="409.40" x2="336.70" y2="470.70" stroke="#777" stroke-width="0.7"/>
<line x1="336.70" y1="470.70" x2="399.50" y2="470.70" stroke="#777" stroke-width="0.7"/>
<path d="M335.7 470.7h1M335.7 468.1h1M335.7 465.5h1M335.7 462.9h1M335.7 460.3h1M335.7 457.7h1M335.7 455.1h1M335.7 452.5h1M335.7 449.9h1M335.7 447.3h1M335.7 444.7h1M335.7 442.1h1M335.7 439.5h1M335.7 436.9h1M335.7 434.3h1M335.7 431.7h1M335.7 429.1h1M335.7 426.5h1M335.7 423.9h1M335.7 421.3h1M335.7 418.7h1M335.7 416.1h1M335.7 413.5h1" stroke="#999" stroke-width="0.5"/>
<line x1="334.90" y1="421.60" x2="336.70" y2="421.60" stroke="#777" stroke-width="0.6"/>
<text transform="translate(334.50,423.40)" font-size="5.2" text-anchor="end" fill="#555" stroke="#555" stroke-width="0.08">800</text>
<line x1="334.90" y1="434.10" x2="336.70" y2="434.10" stroke="#777" stroke-width="0.6"/>
<text transform="translate(334.50,435.90)" font-size="5.2" text-anchor="end" fill="#555" stroke="#555" stroke-width="0.08">600</text>
<line x1="334.90" y1="446.50" x2="336.70" y2="446.50" stroke="#777" stroke-width="0.6"/>
<text transform="translate(334.50,448.30)" font-size="5.2" text-anchor="end" fill="#555" stroke="#555" stroke-width="0.08">400</text>
<line x1="334.90" y1="458.80" x2="336.70" y2="458.80" stroke="#777" stroke-width="0.6"/>
<text transform="translate(334.50,460.60)" font-size="5.2" text-anchor="end" fill="#555" stroke="#555" stroke-width="0.08">200</text>
<line x1="334.90" y1="470.70" x2="336.70" y2="470.70" stroke="#777" stroke-width="0.6"/>
<text transform="translate(334.50,472.50)" font-size="5.2" text-anchor="end" fill="#555" stroke="#555" stroke-width="0.08">0</text>
<line x1="336.70" y1="470.70" x2="336.70" y2="472.20" stroke="#777" stroke-width="0.6"/>
<text transform="translate(336.70,476.70)" font-size="5.2" text-anchor="middle" fill="#555" stroke="#555" stroke-width="0.08">0</text>
<line x1="347.00" y1="470.70" x2="347.00" y2="472.20" stroke="#777" stroke-width="0.6"/>
<text transform="translate(347.00,476.70)" font-size="5.2" text-anchor="middle" fill="#555" stroke="#555" stroke-width="0.08">20</text>
<line x1="357.50" y1="470.70" x2="357.50" y2="472.20" stroke="#777" stroke-width="0.6"/>
<text transform="translate(357.50,476.70)" font-size="5.2" text-anchor="middle" fill="#555" stroke="#555" stroke-width="0.08">40</text>
<line x1="368.00" y1="470.70" x2="368.00" y2="472.20" stroke="#777" stroke-width="0.6"/>
<text transform="translate(368.00,476.70)" font-size="5.2" text-anchor="middle" fill="#555" stroke="#555" stroke-width="0.08">60</text>
<line x1="378.00" y1="470.70" x2="378.00" y2="472.20" stroke="#777" stroke-width="0.6"/>
<text transform="translate(378.00,476.70)" font-size="5.2" text-anchor="middle" fill="#555" stroke="#555" stroke-width="0.08">80</text>
<line x1="388.50" y1="470.70" x2="388.50" y2="472.20" stroke="#777" stroke-width="0.6"/>
<text transform="translate(388.50,476.70)" font-size="5.2" text-anchor="middle" fill="#555" stroke="#555" stroke-width="0.08">100</text>
<line x1="399.00" y1="470.70" x2="399.00" y2="472.20" stroke="#777" stroke-width="0.6"/>
<text transform="translate(399.00,476.70)" font-size="5.2" text-anchor="middle" fill="#555" stroke="#555" stroke-width="0.08">120</text>
<path d="M338.70,470.7L338.70,470.70L339.05,470.70L339.40,470.70L339.75,470.70L340.10,470.70L340.45,470.70L340.80,470.70L341.15,470.70L341.50,470.70L341.85,470.70L342.20,470.70L342.55,470.70L342.90,470.70L343.25,470.70L343.60,470.70L343.95,470.70L344.30,470.70L344.65,470.70L345.00,470.70L345.35,470.70L345.70,470.70L346.05,470.70L346.40,470.70L346.75,470.70L347.10,470.70L347.45,470.70L347.80,470.70L348.15,470.70L348.50,470.70L348.85,470.70L349.20,470.70L349.55,470.70L349.90,470.70L350.25,470.70L350.60,470.70L350.95,470.70L351.30,470.70L351.65,470.70L352.00,470.70L352.35,470.70L352.70,470.70L353.05,470.70L353.40,470.70L353.75,470.70L354.10,470.70L354.45,470.70L354.80,470.70L355.15,470.70L355.50,470.70L355.85,470.70L356.20,470.70L356.55,470.70L356.90,470.70L357.25,470.70L357.60,470.70L357.95,470.70L358.30,470.70L358.65,470.70L359.00,470.70L359.35,470.70L359.70,470.70L360.05,470.70L360.40,470.70L360.75,470.70L361.10,470.70L361.45,470.70L361.80,470.70L362.15,470.70L362.50,470.70L362.85,470.70L363.20,470.70L363.55,470.70L363.90,469.95L364.25,468.98L364.60,468.02L364.95,467.06L365.30,466.10L365.65,465.20L366.00,465.20L366.35,465.20L366.70,465.20L367.05,465.20L367.40,465.20L367.75,465.20L368.10,465.20L368.45,465.20L368.80,465.20L369.15,465.20L369.50,465.20L369.85,465.20L370.20,465.20L370.55,465.20L370.90,465.20L371.25,465.20L371.60,465.20L371.95,465.20L372.30,465.20L372.65,465.20L373.00,465.20L373.35,465.20L373.70,465.20L374.05,465.20L374.40,465.20L374.75,465.20L375.10,465.20L375.45,465.20L375.80,465.20L376.15,465.20L376.50,465.20L376.85,465.20L377.20,465.20L377.55,465.20L377.90,465.20L378.25,465.20L378.60,465.20L378.95,465.20L379.30,465.20L379.65,465.20L380.00,465.20L380.35,465.20L380.70,465.20L381.05,465.20L381.40,465.20L381.75,465.20L382.10,465.20L382.45,465.20L382.80,465.20L383.15,465.20L383.50,465.20L383.85,465.20L384.20,465.20L384.55,465.20L384.90,465.20L385.25,465.20L385.60,465.20L385.95,465.20L386.30,465.20L386.65,465.20L387.00,465.20L387.35,465.20L387.70,465.20L388.05,465.20L388.40,465.20L388.75,465.20L389.10,465.20L389.45,465.20L389.80,465.20L390.15,465.20L390.50,465.20L390.85,465.20L391.20,465.20L391.55,465.20L391.90,465.20L392.25,465.20L392.60,465.20L392.95,465.20L393.30,465.53L393.65,465.91L394.00,466.30L394.35,466.68L394.70,467.07L395.05,467.45L395.40,467.84L395.75,468.23L396.10,468.61L396.45,469.00L396.80,469.38L397.15,469.76L397.15,470.7Z" fill="#cdd0ea"/>
<path d="M356.90,470.7L356.90,470.33L357.25,470.04L357.60,469.56L357.95,468.82L358.30,467.70L358.65,466.09L359.00,463.85L359.35,460.89L359.70,457.13L360.05,452.60L360.40,447.39L360.75,441.75L361.10,436.00L361.45,430.57L361.80,425.91L362.15,422.47L362.50,420.59L362.85,420.47L363.20,422.10L363.55,425.34L363.90,429.84L364.25,435.19L364.60,440.93L364.95,446.61L365.30,451.89L365.65,456.53L366.00,460.40L366.35,463.47L366.70,465.81L367.05,467.51L367.40,468.69L367.75,469.48L368.10,469.98L368.45,470.29L368.45,470.7Z" fill="#d01e1a" stroke="#5a1a18" stroke-width="0.4"/>
<path d="M385.25,470.7L385.25,470.59L385.60,470.54L385.95,470.48L386.30,470.41L386.65,470.31L387.00,470.19L387.35,470.05L387.70,469.88L388.05,469.68L388.40,469.47L388.75,469.23L389.10,468.97L389.45,468.72L389.80,468.46L390.15,468.21L390.50,467.99L390.85,467.80L391.20,467.65L391.55,467.55L391.90,467.50L392.25,467.51L392.60,467.58L392.95,467.71L393.30,467.87L393.65,468.08L394.00,468.31L394.35,468.57L394.70,468.83L395.05,469.08L395.40,469.33L395.75,469.56L396.10,469.77L396.45,469.95L396.80,470.11L397.15,470.24L397.15,470.7Z" fill="#d01e1a" stroke="#5a1a18" stroke-width="0.3"/>
<path d="M338.70,470.20L339.05,470.20L339.40,470.20L339.75,470.20L340.10,470.20L340.45,470.20L340.80,470.20L341.15,470.20L341.50,470.20L341.85,470.20L342.20,470.20L342.55,470.20L342.90,470.20L343.25,470.20L343.60,470.20L343.95,470.20L344.30,470.20L344.65,470.20L345.00,470.20L345.35,470.20L345.70,470.20L346.05,470.20L346.40,470.20L346.75,470.20L347.10,470.20L347.45,470.20L347.80,470.20L348.15,470.20L348.50,470.20L348.85,470.20L349.20,470.20L349.55,470.20L349.90,470.20L350.25,470.20L350.60,470.20L350.95,470.20L351.30,470.20L351.65,470.20L352.00,470.20L352.35,470.20L352.70,470.20L353.05,470.20L353.40,470.20L353.75,470.20L354.10,470.20L354.45,470.20L354.80,470.20L355.15,470.20L355.50,470.20L355.85,470.20L356.20,470.20L356.55,470.20L356.90,470.20L357.25,470.04L357.60,469.56L357.95,468.82L358.30,467.70L358.65,466.09L359.00,463.85L359.35,460.89L359.70,457.13L360.05,452.60L360.40,447.39L360.75,441.75L361.10,436.00L361.45,430.57L361.80,425.91L362.15,422.47L362.50,420.59L362.85,420.47L363.20,422.10L363.55,425.34L363.90,429.84L364.25,435.19L364.60,440.93L364.95,446.61L365.30,451.89L365.65,456.53L366.00,460.40L366.35,463.47L366.70,465.20L367.05,465.20L367.40,465.20L367.75,465.20L368.10,465.20L368.45,465.20L368.80,465.20L369.15,465.20L369.50,465.20L369.85,465.20L370.20,465.20L370.55,465.20L370.90,465.20L371.25,465.20L371.60,465.20L371.95,465.20L372.30,465.20L372.65,465.20L373.00,465.20L373.35,465.20L373.70,465.20L374.05,465.20L374.40,465.20L374.75,465.20L375.10,465.20L375.45,465.20L375.80,465.20L376.15,465.20L376.50,465.20L376.85,465.20L377.20,465.20L377.55,465.20L377.90,465.20L378.25,465.20L378.60,465.20L378.95,465.20L379.30,465.20L379.65,465.20L380.00,465.20L380.35,465.20L380.70,465.20L381.05,465.20L381.40,465.20L381.75,465.20L382.10,465.20L382.45,465.20L382.80,465.20L383.15,465.19L383.50,465.19L383.85,465.19L384.20,465.18L384.55,465.17L384.90,465.15L385.25,465.12L385.60,465.09L385.95,465.04L386.30,464.97L386.65,464.89L387.00,464.78L387.35,464.65L387.70,464.49L388.05,464.30L388.40,464.09L388.75,463.85L389.10,463.59L389.45,463.32L389.80,463.04L390.15,462.78L390.50,462.54L390.85,462.33L391.20,462.16L391.55,462.05L391.90,462.00L392.25,462.02L392.60,462.09L392.95,462.23L393.30,462.74L393.65,463.35L394.00,463.99L394.35,464.64L394.70,465.30L395.05,465.95L395.40,466.59L395.75,467.21L396.10,467.80L396.45,468.36L396.80,468.89L397.15,469.40" fill="none" stroke="#3a3a3a" stroke-width="0.55"/>
<rect x="374.30" y="410.50" width="5.20" height="3.60" fill="#cf1f1f"/>
<rect x="374.30" y="415.80" width="5.20" height="3.60" fill="#cf1f1f"/>
<rect x="374.30" y="421.30" width="5.20" height="3.60" fill="#cfd2ea" stroke="#aab" stroke-width="0.3"/>
<text transform="translate(380.80,414.10)" font-size="4.8" text-anchor="start" fill="#3355bb" stroke="#3355bb" stroke-width="0.08">Dip G0-G1</text>
<text transform="translate(380.80,419.40)" font-size="4.8" text-anchor="start" fill="#3355bb" stroke="#3355bb" stroke-width="0.08">Dip G2-M</text>
<text transform="translate(380.80,424.90)" font-size="4.8" text-anchor="start" fill="#3355bb" stroke="#3355bb" stroke-width="0.08">Dip S</text>
<line x1="50.50" y1="478.60" x2="50.50" y2="541.00" stroke="#777" stroke-width="0.7"/>
<line x1="50.50" y1="541.00" x2="115.70" y2="541.00" stroke="#777" stroke-width="0.7"/>
<path d="M49.5 541.0h1M49.5 538.4h1M49.5 535.8h1M49.5 533.2h1M49.5 530.6h1M49.5 528.0h1M49.5 525.4h1M49.5 522.8h1M49.5 520.2h1M49.5 517.6h1M49.5 515.0h1M49.5 512.4h1M49.5 509.8h1M49.5 507.2h1M49.5 504.6h1M49.5 502.0h1M49.5 499.4h1M49.5 496.8h1M49.5 494.2h1M49.5 491.6h1M49.5 489.0h1M49.5 486.4h1M49.5 483.8h1" stroke="#999" stroke-width="0.5"/>
<line x1="48.70" y1="491.50" x2="50.50" y2="491.50" stroke="#777" stroke-width="0.6"/>
<text transform="translate(48.30,493.30)" font-size="5.2" text-anchor="end" fill="#555" stroke="#555" stroke-width="0.08">800</text>
<line x1="48.70" y1="504.00" x2="50.50" y2="504.00" stroke="#777" stroke-width="0.6"/>
<text transform="translate(48.30,505.80)" font-size="5.2" text-anchor="end" fill="#555" stroke="#555" stroke-width="0.08">600</text>
<line x1="48.70" y1="516.00" x2="50.50" y2="516.00" stroke="#777" stroke-width="0.6"/>
<text transform="translate(48.30,517.80)" font-size="5.2" text-anchor="end" fill="#555" stroke="#555" stroke-width="0.08">400</text>
<line x1="48.70" y1="528.50" x2="50.50" y2="528.50" stroke="#777" stroke-width="0.6"/>
<text transform="translate(48.30,530.30)" font-size="5.2" text-anchor="end" fill="#555" stroke="#555" stroke-width="0.08">200</text>
<line x1="48.70" y1="541.00" x2="50.50" y2="541.00" stroke="#777" stroke-width="0.6"/>
<text transform="translate(48.30,542.80)" font-size="5.2" text-anchor="end" fill="#555" stroke="#555" stroke-width="0.08">0</text>
<line x1="50.50" y1="541.00" x2="50.50" y2="542.50" stroke="#777" stroke-width="0.6"/>
<text transform="translate(50.50,547.00)" font-size="5.2" text-anchor="middle" fill="#555" stroke="#555" stroke-width="0.08">0</text>
<line x1="61.00" y1="541.00" x2="61.00" y2="542.50" stroke="#777" stroke-width="0.6"/>
<text transform="translate(61.00,547.00)" font-size="5.2" text-anchor="middle" fill="#555" stroke="#555" stroke-width="0.08">20</text>
<line x1="71.50" y1="541.00" x2="71.50" y2="542.50" stroke="#777" stroke-width="0.6"/>
<text transform="translate(71.50,547.00)" font-size="5.2" text-anchor="middle" fill="#555" stroke="#555" stroke-width="0.08">40</text>
<line x1="82.90" y1="541.00" x2="82.90" y2="542.50" stroke="#777" stroke-width="0.6"/>
<text transform="translate(82.90,547.00)" font-size="5.2" text-anchor="middle" fill="#555" stroke="#555" stroke-width="0.08">60</text>
<line x1="92.80" y1="541.00" x2="92.80" y2="542.50" stroke="#777" stroke-width="0.6"/>
<text transform="translate(92.80,547.00)" font-size="5.2" text-anchor="middle" fill="#555" stroke="#555" stroke-width="0.08">80</text>
<line x1="103.30" y1="541.00" x2="103.30" y2="542.50" stroke="#777" stroke-width="0.6"/>
<text transform="translate(103.30,547.00)" font-size="5.2" text-anchor="middle" fill="#555" stroke="#555" stroke-width="0.08">100</text>
<line x1="113.50" y1="541.00" x2="113.50" y2="542.50" stroke="#777" stroke-width="0.6"/>
<text transform="translate(113.50,547.00)" font-size="5.2" text-anchor="middle" fill="#555" stroke="#555" stroke-width="0.08">120</text>
<path d="M52.50,541.0L52.50,541.00L52.85,541.00L53.20,541.00L53.55,541.00L53.90,541.00L54.25,541.00L54.60,541.00L54.95,541.00L55.30,541.00L55.65,541.00L56.00,541.00L56.35,541.00L56.70,541.00L57.05,541.00L57.40,541.00L57.75,541.00L58.10,541.00L58.45,541.00L58.80,541.00L59.15,541.00L59.50,541.00L59.85,541.00L60.20,541.00L60.55,541.00L60.90,541.00L61.25,541.00L61.60,541.00L61.95,541.00L62.30,541.00L62.65,541.00L63.00,541.00L63.35,541.00L63.70,541.00L64.05,541.00L64.40,541.00L64.75,541.00L65.10,541.00L65.45,541.00L65.80,541.00L66.15,541.00L66.50,541.00L66.85,541.00L67.20,541.00L67.55,541.00L67.90,541.00L68.25,541.00L68.60,541.00L68.95,541.00L69.30,541.00L69.65,541.00L70.00,541.00L70.35,541.00L70.70,541.00L71.05,541.00L71.40,541.00L71.75,541.00L72.10,541.00L72.45,541.00L72.80,541.00L73.15,541.00L73.50,541.00L73.85,541.00L74.20,541.00L74.55,541.00L74.90,540.58L75.25,539.62L75.60,538.66L75.95,537.69L76.30,536.73L76.65,535.77L77.00,535.50L77.35,535.50L77.70,535.50L78.05,535.50L78.40,535.50L78.75,535.50L79.10,535.50L79.45,535.50L79.80,535.50L80.15,535.50L80.50,535.50L80.85,535.50L81.20,535.50L81.55,535.50L81.90,535.50L82.25,535.50L82.60,535.50L82.95,535.50L83.30,535.50L83.65,535.50L84.00,535.50L84.35,535.50L84.70,535.50L85.05,535.50L85.40,535.50L85.75,535.50L86.10,535.50L86.45,535.50L86.80,535.50L87.15,535.50L87.50,535.50L87.85,535.50L88.20,535.50L88.55,535.50L88.90,535.50L89.25,535.50L89.60,535.50L89.95,535.50L90.30,535.50L90.65,535.50L91.00,535.50L91.35,535.50L91.70,535.50L92.05,535.50L92.40,535.50L92.75,535.50L93.10,535.50L93.45,535.50L93.80,535.50L94.15,535.59L94.50,535.80L94.85,536.00L95.20,536.21L95.55,536.42L95.90,536.62L96.25,536.83L96.60,537.04L96.95,537.24L97.30,537.45L97.65,537.66L98.00,537.87L98.35,538.07L98.70,538.28L99.05,538.49L99.40,538.69L99.75,538.90L100.10,539.11L100.45,539.31L100.80,539.52L101.15,539.73L101.50,539.94L101.85,540.14L102.20,540.35L102.55,540.56L102.90,540.76L103.25,540.97L103.60,541.00L103.95,541.00L104.30,541.00L104.65,541.00L105.00,541.00L105.35,541.00L105.70,541.00L106.05,541.00L106.40,541.00L106.75,541.00L107.10,541.00L107.45,541.00L107.80,541.00L108.15,541.00L108.50,541.00L108.85,541.00L109.20,541.00L109.55,541.00L109.90,541.00L110.25,541.00L110.60,541.00L110.95,541.00L111.30,541.00L111.65,541.00L112.00,541.00L112.35,541.00L112.70,541.00L113.05,541.00L113.05,541.0Z" fill="#cdd0ea"/>
<path d="M70.00,541.0L70.00,540.61L70.35,540.12L70.70,539.14L71.05,537.36L71.40,534.37L71.75,529.79L72.10,523.36L72.45,515.20L72.80,505.92L73.15,496.66L73.50,488.89L73.85,484.07L74.20,483.17L74.55,486.39L74.90,493.06L75.25,501.87L75.60,511.31L75.95,520.05L76.30,527.26L76.65,532.62L77.00,536.25L77.35,538.50L77.70,539.77L78.05,540.44L78.05,541.0Z" fill="#d01e1a" stroke="#5a1a18" stroke-width="0.4"/>
<path d="M89.25,541.0L89.25,540.74L89.60,540.64L89.95,540.52L90.30,540.36L90.65,540.17L91.00,539.93L91.35,539.65L91.70,539.31L92.05,538.93L92.40,538.49L92.75,538.01L93.10,537.49L93.45,536.95L93.80,536.38L94.15,535.81L94.50,535.26L94.85,534.74L95.20,534.28L95.55,533.89L95.90,533.59L96.25,533.39L96.60,533.30L96.95,533.33L97.30,533.47L97.65,533.71L98.00,534.05L98.35,534.47L98.70,534.96L99.05,535.49L99.40,536.05L99.75,536.62L100.10,537.18L100.45,537.72L100.80,538.23L101.15,538.69L101.50,539.10L101.85,539.46L102.20,539.77L102.55,540.04L102.90,540.25L103.25,540.43L103.60,540.57L103.95,540.68L103.95,541.0Z" fill="#d01e1a" stroke="#5a1a18" stroke-width="0.3"/>
<path d="M52.50,540.50L52.85,540.50L53.20,540.50L53.55,540.50L53.90,540.50L54.25,540.50L54.60,540.50L54.95,540.50L55.30,540.50L55.65,540.50L56.00,540.50L56.35,540.50L56.70,540.50L57.05,540.50L57.40,540.50L57.75,540.50L58.10,540.50L58.45,540.50L58.80,540.50L59.15,540.50L59.50,540.50L59.85,540.50L60.20,540.50L60.55,540.50L60.90,540.50L61.25,540.50L61.60,540.50L61.95,540.50L62.30,540.50L62.65,540.50L63.00,540.50L63.35,540.50L63.70,540.50L64.05,540.50L64.40,540.50L64.75,540.50L65.10,540.50L65.45,540.50L65.80,540.50L66.15,540.50L66.50,540.50L66.85,540.50L67.20,540.50L67.55,540.50L67.90,540.50L68.25,540.50L68.60,540.50L68.95,540.50L69.30,540.50L69.65,540.50L70.00,540.50L70.35,540.12L70.70,539.14L71.05,537.36L71.40,534.37L71.75,529.79L72.10,523.36L72.45,515.20L72.80,505.92L73.15,496.66L73.50,488.89L73.85,484.07L74.20,483.17L74.55,486.39L74.90,493.06L75.25,501.87L75.60,511.31L75.95,520.05L76.30,527.26L76.65,532.62L77.00,535.50L77.35,535.50L77.70,535.50L78.05,535.50L78.40,535.50L78.75,535.50L79.10,535.50L79.45,535.50L79.80,535.50L80.15,535.50L80.50,535.50L80.85,535.50L81.20,535.50L81.55,535.50L81.90,535.50L82.25,535.50L82.60,535.50L82.95,535.50L83.30,535.50L83.65,535.50L84.00,535.50L84.35,535.50L84.70,535.50L85.05,535.50L85.40,535.50L85.75,535.50L86.10,535.50L86.45,535.49L86.80,535.49L87.15,535.48L87.50,535.47L87.85,535.46L88.20,535.44L88.55,535.41L88.90,535.37L89.25,535.32L89.60,535.24L89.95,535.14L90.30,535.01L90.65,534.84L91.00,534.63L91.35,534.38L91.70,534.07L92.05,533.70L92.40,533.28L92.75,532.80L93.10,532.28L93.45,531.72L93.80,531.13L94.15,530.62L94.50,530.24L94.85,529.89L95.20,529.59L95.55,529.37L95.90,529.25L96.25,529.23L96.60,529.34L96.95,529.58L97.30,529.94L97.65,530.41L98.00,530.99L98.35,531.66L98.70,532.40L99.05,533.18L99.40,533.98L99.75,534.78L100.10,535.57L100.45,536.33L100.80,537.04L101.15,537.70L101.50,538.30L101.85,538.85L102.20,539.34L102.55,539.79L102.90,540.18L103.25,540.50L103.60,540.50L103.95,540.50L104.30,540.50L104.65,540.50L105.00,540.50L105.35,540.50L105.70,540.50L106.05,540.50L106.40,540.50L106.75,540.50L107.10,540.50L107.45,540.50L107.80,540.50L108.15,540.50L108.50,540.50L108.85,540.50L109.20,540.50L109.55,540.50L109.90,540.50L110.25,540.50L110.60,540.50L110.95,540.50L111.30,540.50L111.65,540.50L112.00,540.50L112.35,540.50L112.70,540.50L113.05,540.50" fill="none" stroke="#3a3a3a" stroke-width="0.55"/>
<line x1="120.80" y1="478.60" x2="120.80" y2="541.00" stroke="#777" stroke-width="0.7"/>
<line x1="120.80" y1="541.00" x2="183.00" y2="541.00" stroke="#777" stroke-width="0.7"/>
<path d="M119.8 541.0h1M119.8 538.4h1M119.8 535.8h1M119.8 533.2h1M119.8 530.6h1M119.8 528.0h1M119.8 525.4h1M119.8 522.8h1M119.8 520.2h1M119.8 517.6h1M119.8 515.0h1M119.8 512.4h1M119.8 509.8h1M119.8 507.2h1M119.8 504.6h1M119.8 502.0h1M119.8 499.4h1M119.8 496.8h1M119.8 494.2h1M119.8 491.6h1M119.8 489.0h1M119.8 486.4h1M119.8 483.8h1" stroke="#999" stroke-width="0.5"/>
<line x1="119.00" y1="492.50" x2="120.80" y2="492.50" stroke="#777" stroke-width="0.6"/>
<text transform="translate(118.60,494.30)" font-size="5.2" text-anchor="end" fill="#555" stroke="#555" stroke-width="0.08">600</text>
<line x1="119.00" y1="510.50" x2="120.80" y2="510.50" stroke="#777" stroke-width="0.6"/>
<text transform="translate(118.60,512.30)" font-size="5.2" text-anchor="end" fill="#555" stroke="#555" stroke-width="0.08">400</text>
<line x1="119.00" y1="528.50" x2="120.80" y2="528.50" stroke="#777" stroke-width="0.6"/>
<text transform="translate(118.60,530.30)" font-size="5.2" text-anchor="end" fill="#555" stroke="#555" stroke-width="0.08">200</text>
<line x1="119.00" y1="541.00" x2="120.80" y2="541.00" stroke="#777" stroke-width="0.6"/>
<text transform="translate(118.60,542.80)" font-size="5.2" text-anchor="end" fill="#555" stroke="#555" stroke-width="0.08">0</text>
<line x1="120.80" y1="541.00" x2="120.80" y2="542.50" stroke="#777" stroke-width="0.6"/>
<text transform="translate(120.80,547.00)" font-size="5.2" text-anchor="middle" fill="#555" stroke="#555" stroke-width="0.08">0</text>
<line x1="133.20" y1="541.00" x2="133.20" y2="542.50" stroke="#777" stroke-width="0.6"/>
<text transform="translate(133.20,547.00)" font-size="5.2" text-anchor="middle" fill="#555" stroke="#555" stroke-width="0.08">30</text>
<line x1="145.30" y1="541.00" x2="145.30" y2="542.50" stroke="#777" stroke-width="0.6"/>
<text transform="translate(145.30,547.00)" font-size="5.2" text-anchor="middle" fill="#555" stroke="#555" stroke-width="0.08">60</text>
<line x1="158.00" y1="541.00" x2="158.00" y2="542.50" stroke="#777" stroke-width="0.6"/>
<text transform="translate(158.00,547.00)" font-size="5.2" text-anchor="middle" fill="#555" stroke="#555" stroke-width="0.08">90</text>
<line x1="169.40" y1="541.00" x2="169.40" y2="542.50" stroke="#777" stroke-width="0.6"/>
<text transform="translate(169.40,547.00)" font-size="5.2" text-anchor="middle" fill="#555" stroke="#555" stroke-width="0.08">120</text>
<line x1="181.40" y1="541.00" x2="181.40" y2="542.50" stroke="#777" stroke-width="0.6"/>
<text transform="translate(181.40,547.00)" font-size="5.2" text-anchor="middle" fill="#555" stroke="#555" stroke-width="0.08">150</text>
<path d="M122.80,541.0L122.80,541.00L123.15,541.00L123.50,541.00L123.85,541.00L124.20,541.00L124.55,541.00L124.90,541.00L125.25,541.00L125.60,541.00L125.95,541.00L126.30,541.00L126.65,541.00L127.00,541.00L127.35,541.00L127.70,541.00L128.05,541.00L128.40,541.00L128.75,541.00L129.10,541.00L129.45,541.00L129.80,541.00L130.15,541.00L130.50,541.00L130.85,541.00L131.20,541.00L131.55,541.00L131.90,541.00L132.25,541.00L132.60,541.00L132.95,541.00L133.30,541.00L133.65,541.00L134.00,541.00L134.35,541.00L134.70,541.00L135.05,541.00L135.40,541.00L135.75,541.00L136.10,541.00L136.45,541.00L136.80,541.00L137.15,541.00L137.50,541.00L137.85,541.00L138.20,541.00L138.55,541.00L138.90,541.00L139.25,541.00L139.60,541.00L139.95,541.00L140.30,541.00L140.65,541.00L141.00,541.00L141.35,541.00L141.70,541.00L142.05,541.00L142.40,541.00L142.75,541.00L143.10,541.00L143.45,540.98L143.80,540.17L144.15,539.36L144.50,538.55L144.85,537.74L145.20,536.93L145.55,536.38L145.90,536.38L146.25,536.38L146.60,536.38L146.95,536.38L147.30,536.38L147.65,536.38L148.00,536.38L148.35,536.38L148.70,536.38L149.05,536.38L149.40,536.38L149.75,536.38L150.10,536.38L150.45,536.38L150.80,536.38L151.15,536.38L151.50,536.38L151.85,536.38L152.20,536.38L152.55,536.38L152.90,536.38L153.25,536.38L153.60,536.38L153.95,536.38L154.30,536.38L154.65,536.38L155.00,536.38L155.35,536.38L155.70,536.38L156.05,536.38L156.40,536.38L156.75,536.38L157.10,536.38L157.45,536.38L157.80,536.38L158.15,536.38L158.50,536.38L158.85,536.38L159.20,536.38L159.55,536.38L159.90,536.38L160.25,536.49L160.60,536.64L160.95,536.79L161.30,536.95L161.65,537.10L162.00,537.26L162.35,537.41L162.70,537.56L163.05,537.72L163.40,537.87L163.75,538.03L164.10,538.18L164.45,538.34L164.80,538.49L165.15,538.64L165.50,538.80L165.85,538.95L166.20,539.11L166.55,539.26L166.90,539.41L167.25,539.57L167.60,539.72L167.95,539.88L168.30,540.03L168.65,540.19L169.00,540.34L169.35,540.49L169.70,540.65L170.05,540.80L170.40,540.96L170.75,541.00L171.10,541.00L171.45,541.00L171.80,541.00L172.15,541.00L172.50,541.00L172.85,541.00L173.20,541.00L173.55,541.00L173.90,541.00L174.25,541.00L174.60,541.00L174.95,541.00L175.30,541.00L175.65,541.00L176.00,541.00L176.35,541.00L176.70,541.00L177.05,541.00L177.40,541.00L177.75,541.00L178.10,541.00L178.45,541.00L178.80,541.00L179.15,541.00L179.50,541.00L179.85,541.00L180.20,541.00L180.55,541.00L180.55,541.0Z" fill="#cdd0ea"/>
<path d="M138.20,541.0L138.20,540.41L138.55,539.83L138.90,538.80L139.25,537.07L139.60,534.38L139.95,530.45L140.30,525.09L140.65,518.31L141.00,510.40L141.35,501.98L141.70,493.94L142.05,487.32L142.40,483.10L142.75,481.93L143.10,484.02L143.45,489.01L143.80,496.14L144.15,504.39L144.50,512.75L144.85,520.38L145.20,526.77L145.55,531.71L145.90,535.27L146.25,537.65L146.60,539.15L146.95,540.04L147.30,540.52L147.30,541.0Z" fill="#d01e1a" stroke="#5a1a18" stroke-width="0.4"/>
<path d="M154.30,541.0L154.30,540.80L154.65,540.74L155.00,540.67L155.35,540.58L155.70,540.47L156.05,540.35L156.40,540.20L156.75,540.02L157.10,539.83L157.45,539.61L157.80,539.36L158.15,539.09L158.50,538.81L158.85,538.51L159.20,538.20L159.55,537.88L159.90,537.56L160.25,537.26L160.60,536.97L160.95,536.71L161.30,536.48L161.65,536.29L162.00,536.14L162.35,536.04L162.70,536.00L163.05,536.01L163.40,536.08L163.75,536.20L164.10,536.36L164.45,536.57L164.80,536.82L165.15,537.09L165.50,537.39L165.85,537.70L166.20,538.01L166.55,538.33L166.90,538.64L167.25,538.93L167.60,539.21L167.95,539.47L168.30,539.70L168.65,539.91L169.00,540.10L169.35,540.26L169.70,540.40L170.05,540.52L170.40,540.62L170.75,540.70L171.10,540.77L171.45,540.82L171.45,541.0Z" fill="#d01e1a" stroke="#5a1a18" stroke-width="0.3"/>
<path d="M122.80,540.50L123.15,540.50L123.50,540.50L123.85,540.50L124.20,540.50L124.55,540.50L124.90,540.50L125.25,540.50L125.60,540.50L125.95,540.50L126.30,540.50L126.65,540.50L127.00,540.50L127.35,540.50L127.70,540.50L128.05,540.50L128.40,540.50L128.75,540.50L129.10,540.50L129.45,540.50L129.80,540.50L130.15,540.50L130.50,540.50L130.85,540.50L131.20,540.50L131.55,540.50L131.90,540.50L132.25,540.50L132.60,540.50L132.95,540.50L133.30,540.50L133.65,540.50L134.00,540.50L134.35,540.50L134.70,540.50L135.05,540.50L135.40,540.50L135.75,540.50L136.10,540.50L136.45,540.50L136.80,540.50L137.15,540.50L137.50,540.50L137.85,540.50L138.20,540.41L138.55,539.83L138.90,538.80L139.25,537.07L139.60,534.38L139.95,530.45L140.30,525.09L140.65,518.31L141.00,510.40L141.35,501.98L141.70,493.94L142.05,487.32L142.40,483.10L142.75,481.93L143.10,484.02L143.45,489.01L143.80,496.14L144.15,504.39L144.50,512.75L144.85,520.38L145.20,526.77L145.55,531.71L145.90,535.27L146.25,536.37L146.60,536.37L146.95,536.37L147.30,536.37L147.65,536.37L148.00,536.37L148.35,536.37L148.70,536.37L149.05,536.37L149.40,536.37L149.75,536.37L150.10,536.37L150.45,536.37L150.80,536.37L151.15,536.37L151.50,536.37L151.85,536.36L152.20,536.36L152.55,536.35L152.90,536.34L153.25,536.32L153.60,536.30L153.95,536.27L154.30,536.23L154.65,536.19L155.00,536.13L155.35,536.05L155.70,535.96L156.05,535.85L156.40,535.71L156.75,535.56L157.10,535.37L157.45,535.16L157.80,534.92L158.15,534.66L158.50,534.37L158.85,534.06L159.20,533.74L159.55,533.41L159.90,533.08L160.25,532.86L160.60,532.70L160.95,532.57L161.30,532.47L161.65,532.42L162.00,532.41L162.35,532.46L162.70,532.57L163.05,532.73L163.40,532.96L163.75,533.24L164.10,533.58L164.45,533.96L164.80,534.39L165.15,534.84L165.50,535.31L165.85,535.79L166.20,536.28L166.55,536.77L166.90,537.24L167.25,537.69L167.60,538.12L167.95,538.53L168.30,538.91L168.65,539.26L169.00,539.59L169.35,539.89L169.70,540.17L170.05,540.43L170.40,540.50L170.75,540.50L171.10,540.50L171.45,540.50L171.80,540.50L172.15,540.50L172.50,540.50L172.85,540.50L173.20,540.50L173.55,540.50L173.90,540.50L174.25,540.50L174.60,540.50L174.95,540.50L175.30,540.50L175.65,540.50L176.00,540.50L176.35,540.50L176.70,540.50L177.05,540.50L177.40,540.50L177.75,540.50L178.10,540.50L178.45,540.50L178.80,540.50L179.15,540.50L179.50,540.50L179.85,540.50L180.20,540.50L180.55,540.50" fill="none" stroke="#3a3a3a" stroke-width="0.55"/>
<line x1="191.40" y1="478.60" x2="191.40" y2="541.00" stroke="#777" stroke-width="0.7"/>
<line x1="191.40" y1="541.00" x2="253.40" y2="541.00" stroke="#777" stroke-width="0.7"/>
<path d="M190.4 541.0h1M190.4 538.4h1M190.4 535.8h1M190.4 533.2h1M190.4 530.6h1M190.4 528.0h1M190.4 525.4h1M190.4 522.8h1M190.4 520.2h1M190.4 517.6h1M190.4 515.0h1M190.4 512.4h1M190.4 509.8h1M190.4 507.2h1M190.4 504.6h1M190.4 502.0h1M190.4 499.4h1M190.4 496.8h1M190.4 494.2h1M190.4 491.6h1M190.4 489.0h1M190.4 486.4h1M190.4 483.8h1" stroke="#999" stroke-width="0.5"/>
<line x1="189.60" y1="496.00" x2="191.40" y2="496.00" stroke="#777" stroke-width="0.6"/>
<text transform="translate(189.20,497.80)" font-size="5.2" text-anchor="end" fill="#555" stroke="#555" stroke-width="0.08">600</text>
<line x1="189.60" y1="514.00" x2="191.40" y2="514.00" stroke="#777" stroke-width="0.6"/>
<text transform="translate(189.20,515.80)" font-size="5.2" text-anchor="end" fill="#555" stroke="#555" stroke-width="0.08">400</text>
<line x1="189.60" y1="532.00" x2="191.40" y2="532.00" stroke="#777" stroke-width="0.6"/>
<text transform="translate(189.20,533.80)" font-size="5.2" text-anchor="end" fill="#555" stroke="#555" stroke-width="0.08">200</text>
<line x1="189.60" y1="541.00" x2="191.40" y2="541.00" stroke="#777" stroke-width="0.6"/>
<text transform="translate(189.20,542.80)" font-size="5.2" text-anchor="end" fill="#555" stroke="#555" stroke-width="0.08">0</text>
<line x1="191.40" y1="541.00" x2="191.40" y2="542.50" stroke="#777" stroke-width="0.6"/>
<text transform="translate(191.40,547.00)" font-size="5.2" text-anchor="middle" fill="#555" stroke="#555" stroke-width="0.08">0</text>
<line x1="205.80" y1="541.00" x2="205.80" y2="542.50" stroke="#777" stroke-width="0.6"/>
<text transform="translate(205.80,547.00)" font-size="5.2" text-anchor="middle" fill="#555" stroke="#555" stroke-width="0.08">30</text>
<line x1="219.00" y1="541.00" x2="219.00" y2="542.50" stroke="#777" stroke-width="0.6"/>
<text transform="translate(219.00,547.00)" font-size="5.2" text-anchor="middle" fill="#555" stroke="#555" stroke-width="0.08">60</text>
<line x1="232.50" y1="541.00" x2="232.50" y2="542.50" stroke="#777" stroke-width="0.6"/>
<text transform="translate(232.50,547.00)" font-size="5.2" text-anchor="middle" fill="#555" stroke="#555" stroke-width="0.08">90</text>
<line x1="244.60" y1="541.00" x2="244.60" y2="542.50" stroke="#777" stroke-width="0.6"/>
<text transform="translate(244.60,547.00)" font-size="5.2" text-anchor="middle" fill="#555" stroke="#555" stroke-width="0.08">120</text>
<path d="M193.40,541.0L193.40,541.00L193.75,541.00L194.10,541.00L194.45,541.00L194.80,541.00L195.15,541.00L195.50,541.00L195.85,541.00L196.20,541.00L196.55,541.00L196.90,541.00L197.25,541.00L197.60,541.00L197.95,541.00L198.30,541.00L198.65,541.00L199.00,541.00L199.35,541.00L199.70,541.00L200.05,541.00L200.40,541.00L200.75,541.00L201.10,541.00L201.45,541.00L201.80,541.00L202.15,541.00L202.50,541.00L202.85,541.00L203.20,541.00L203.55,541.00L203.90,541.00L204.25,541.00L204.60,541.00L204.95,541.00L205.30,541.00L205.65,541.00L206.00,541.00L206.35,541.00L206.70,541.00L207.05,541.00L207.40,541.00L207.75,541.00L208.10,541.00L208.45,541.00L208.80,541.00L209.15,541.00L209.50,541.00L209.85,541.00L210.20,541.00L210.55,541.00L210.90,541.00L211.25,541.00L211.60,541.00L211.95,541.00L212.30,541.00L212.65,541.00L213.00,541.00L213.35,541.00L213.70,541.00L214.05,540.20L214.40,539.00L214.75,537.80L215.10,536.59L215.45,535.39L215.80,534.19L216.15,534.12L216.50,534.12L216.85,534.12L217.20,534.12L217.55,534.12L217.90,534.12L218.25,534.12L218.60,534.12L218.95,534.12L219.30,534.12L219.65,534.12L220.00,534.12L220.35,534.12L220.70,534.12L221.05,534.12L221.40,534.12L221.75,534.12L222.10,534.12L222.45,534.12L222.80,534.12L223.15,534.12L223.50,534.12L223.85,534.12L224.20,534.12L224.55,534.12L224.90,534.12L225.25,534.12L225.60,534.12L225.95,534.12L226.30,534.12L226.65,534.12L227.00,534.12L227.35,534.12L227.70,534.12L228.05,534.12L228.40,534.12L228.75,534.12L229.10,534.12L229.45,534.12L229.80,534.12L230.15,534.20L230.50,534.38L230.85,534.56L231.20,534.74L231.55,534.91L231.90,535.09L232.25,535.27L232.60,535.45L232.95,535.63L233.30,535.81L233.65,535.98L234.00,536.16L234.35,536.34L234.70,536.52L235.05,536.70L235.40,536.88L235.75,537.05L236.10,537.23L236.45,537.41L236.80,537.59L237.15,537.77L237.50,537.94L237.85,538.12L238.20,538.30L238.55,538.48L238.90,538.66L239.25,538.84L239.60,539.01L239.95,539.19L240.30,539.37L240.65,539.55L241.00,539.73L241.35,539.91L241.70,540.08L242.05,540.26L242.40,540.44L242.75,540.62L243.10,540.80L243.45,540.97L243.80,541.00L244.15,541.00L244.50,541.00L244.85,541.00L245.20,541.00L245.55,541.00L245.90,541.00L246.25,541.00L246.60,541.00L246.95,541.00L247.30,541.00L247.65,541.00L248.00,541.00L248.35,541.00L248.70,541.00L249.05,541.00L249.40,541.00L249.75,541.00L250.10,541.00L250.45,541.00L250.80,541.00L250.80,541.0Z" fill="#cdd0ea"/>
<path d="M206.35,541.0L206.35,540.59L206.70,540.30L207.05,539.85L207.40,539.15L207.75,538.13L208.10,536.67L208.45,534.66L208.80,531.98L209.15,528.55L209.50,524.31L209.85,519.27L210.20,513.54L210.55,507.31L210.90,500.87L211.25,494.58L211.60,488.88L211.95,484.17L212.30,480.84L212.65,479.17L213.00,479.30L213.35,481.22L213.70,484.77L214.05,489.64L214.40,495.46L214.75,501.79L215.10,508.22L215.45,514.40L215.80,520.04L216.15,524.96L216.50,529.09L216.85,532.41L217.20,534.98L217.55,536.91L217.90,538.30L218.25,539.27L218.60,539.92L218.95,540.35L219.30,540.62L219.30,541.0Z" fill="#d01e1a" stroke="#5a1a18" stroke-width="0.4"/>
<path d="M222.45,541.0L222.45,540.77L222.80,540.72L223.15,540.65L223.50,540.58L223.85,540.49L224.20,540.39L224.55,540.28L224.90,540.14L225.25,539.99L225.60,539.83L225.95,539.64L226.30,539.43L226.65,539.21L227.00,538.96L227.35,538.70L227.70,538.42L228.05,538.13L228.40,537.82L228.75,537.50L229.10,537.18L229.45,536.85L229.80,536.53L230.15,536.21L230.50,535.91L230.85,535.62L231.20,535.35L231.55,535.11L231.90,534.90L232.25,534.72L232.60,534.58L232.95,534.47L233.30,534.42L233.65,534.40L234.00,534.43L234.35,534.50L234.70,534.61L235.05,534.76L235.40,534.95L235.75,535.17L236.10,535.42L236.45,535.70L236.80,535.99L237.15,536.30L237.50,536.62L237.85,536.95L238.20,537.27L238.55,537.59L238.90,537.91L239.25,538.21L239.60,538.50L239.95,538.78L240.30,539.03L240.65,539.27L241.00,539.49L241.35,539.70L241.70,539.88L242.05,540.04L242.40,540.18L242.75,540.31L243.10,540.42L243.45,540.52L243.80,540.60L244.15,540.67L244.50,540.73L244.50,541.0Z" fill="#d01e1a" stroke="#5a1a18" stroke-width="0.3"/>
<path d="M193.40,540.50L193.75,540.50L194.10,540.50L194.45,540.50L194.80,540.50L195.15,540.50L195.50,540.50L195.85,540.50L196.20,540.50L196.55,540.50L196.90,540.50L197.25,540.50L197.60,540.50L197.95,540.50L198.30,540.50L198.65,540.50L199.00,540.50L199.35,540.50L199.70,540.50L200.05,540.50L200.40,540.50L200.75,540.50L201.10,540.50L201.45,540.50L201.80,540.50L202.15,540.50L202.50,540.50L202.85,540.50L203.20,540.50L203.55,540.50L203.90,540.50L204.25,540.50L204.60,540.50L204.95,540.50L205.30,540.50L205.65,540.50L206.00,540.50L206.35,540.50L206.70,540.30L207.05,539.85L207.40,539.15L207.75,538.13L208.10,536.67L208.45,534.66L208.80,531.98L209.15,528.55L209.50,524.31L209.85,519.27L210.20,513.54L210.55,507.31L210.90,500.87L211.25,494.58L211.60,488.88L211.95,484.17L212.30,480.84L212.65,479.17L213.00,479.30L213.35,481.22L213.70,484.77L214.05,489.64L214.40,495.46L214.75,501.79L215.10,508.22L215.45,514.40L215.80,520.04L216.15,524.96L216.50,529.09L216.85,532.41L217.20,534.12L217.55,534.12L217.90,534.12L218.25,534.12L218.60,534.12L218.95,534.11L219.30,534.11L219.65,534.11L220.00,534.10L220.35,534.09L220.70,534.08L221.05,534.07L221.40,534.05L221.75,534.03L222.10,534.00L222.45,533.96L222.80,533.92L223.15,533.87L223.50,533.81L223.85,533.74L224.20,533.66L224.55,533.55L224.90,533.44L225.25,533.30L225.60,533.15L225.95,532.98L226.30,532.78L226.65,532.57L227.00,532.33L227.35,532.07L227.70,531.79L228.05,531.50L228.40,531.18L228.75,530.86L229.10,530.52L229.45,530.18L229.80,529.84L230.15,529.58L230.50,529.43L230.85,529.29L231.20,529.18L231.55,529.09L231.90,529.04L232.25,529.02L232.60,529.04L232.95,529.11L233.30,529.22L233.65,529.38L234.00,529.59L234.35,529.85L234.70,530.15L235.05,530.50L235.40,530.88L235.75,531.31L236.10,531.76L236.45,532.23L236.80,532.73L237.15,533.24L237.50,533.76L237.85,534.28L238.20,534.80L238.55,535.31L238.90,535.81L239.25,536.29L239.60,536.76L239.95,537.22L240.30,537.65L240.65,538.06L241.00,538.44L241.35,538.81L241.70,539.16L242.05,539.48L242.40,539.79L242.75,540.08L243.10,540.35L243.45,540.50L243.80,540.50L244.15,540.50L244.50,540.50L244.85,540.50L245.20,540.50L245.55,540.50L245.90,540.50L246.25,540.50L246.60,540.50L246.95,540.50L247.30,540.50L247.65,540.50L248.00,540.50L248.35,540.50L248.70,540.50L249.05,540.50L249.40,540.50L249.75,540.50L250.10,540.50L250.45,540.50L250.80,540.50" fill="none" stroke="#3a3a3a" stroke-width="0.55"/>
<line x1="263.90" y1="478.60" x2="263.90" y2="541.00" stroke="#777" stroke-width="0.7"/>
<line x1="263.90" y1="541.00" x2="327.00" y2="541.00" stroke="#777" stroke-width="0.7"/>
<path d="M262.9 541.0h1M262.9 538.4h1M262.9 535.8h1M262.9 533.2h1M262.9 530.6h1M262.9 528.0h1M262.9 525.4h1M262.9 522.8h1M262.9 520.2h1M262.9 517.6h1M262.9 515.0h1M262.9 512.4h1M262.9 509.8h1M262.9 507.2h1M262.9 504.6h1M262.9 502.0h1M262.9 499.4h1M262.9 496.8h1M262.9 494.2h1M262.9 491.6h1M262.9 489.0h1M262.9 486.4h1M262.9 483.8h1" stroke="#999" stroke-width="0.5"/>
<line x1="262.10" y1="491.50" x2="263.90" y2="491.50" stroke="#777" stroke-width="0.6"/>
<text transform="translate(261.70,493.30)" font-size="5.2" text-anchor="end" fill="#555" stroke="#555" stroke-width="0.08">800</text>
<line x1="262.10" y1="504.00" x2="263.90" y2="504.00" stroke="#777" stroke-width="0.6"/>
<text transform="translate(261.70,505.80)" font-size="5.2" text-anchor="end" fill="#555" stroke="#555" stroke-width="0.08">600</text>
<line x1="262.10" y1="516.00" x2="263.90" y2="516.00" stroke="#777" stroke-width="0.6"/>
<text transform="translate(261.70,517.80)" font-size="5.2" text-anchor="end" fill="#555" stroke="#555" stroke-width="0.08">400</text>
<line x1="262.10" y1="528.50" x2="263.90" y2="528.50" stroke="#777" stroke-width="0.6"/>
<text transform="translate(261.70,530.30)" font-size="5.2" text-anchor="end" fill="#555" stroke="#555" stroke-width="0.08">200</text>
<line x1="262.10" y1="541.00" x2="263.90" y2="541.00" stroke="#777" stroke-width="0.6"/>
<text transform="translate(261.70,542.80)" font-size="5.2" text-anchor="end" fill="#555" stroke="#555" stroke-width="0.08">0</text>
<line x1="263.90" y1="541.00" x2="263.90" y2="542.50" stroke="#777" stroke-width="0.6"/>
<text transform="translate(263.90,547.00)" font-size="5.2" text-anchor="middle" fill="#555" stroke="#555" stroke-width="0.08">0</text>
<line x1="274.60" y1="541.00" x2="274.60" y2="542.50" stroke="#777" stroke-width="0.6"/>
<text transform="translate(274.60,547.00)" font-size="5.2" text-anchor="middle" fill="#555" stroke="#555" stroke-width="0.08">20</text>
<line x1="285.10" y1="541.00" x2="285.10" y2="542.50" stroke="#777" stroke-width="0.6"/>
<text transform="translate(285.10,547.00)" font-size="5.2" text-anchor="middle" fill="#555" stroke="#555" stroke-width="0.08">40</text>
<line x1="296.10" y1="541.00" x2="296.10" y2="542.50" stroke="#777" stroke-width="0.6"/>
<text transform="translate(296.10,547.00)" font-size="5.2" text-anchor="middle" fill="#555" stroke="#555" stroke-width="0.08">60</text>
<line x1="307.00" y1="541.00" x2="307.00" y2="542.50" stroke="#777" stroke-width="0.6"/>
<text transform="translate(307.00,547.00)" font-size="5.2" text-anchor="middle" fill="#555" stroke="#555" stroke-width="0.08">80</text>
<line x1="317.50" y1="541.00" x2="317.50" y2="542.50" stroke="#777" stroke-width="0.6"/>
<text transform="translate(317.50,547.00)" font-size="5.2" text-anchor="middle" fill="#555" stroke="#555" stroke-width="0.08">100</text>
<line x1="328.90" y1="541.00" x2="328.90" y2="542.50" stroke="#777" stroke-width="0.6"/>
<text transform="translate(328.90,547.00)" font-size="5.2" text-anchor="middle" fill="#555" stroke="#555" stroke-width="0.08">120</text>
<path d="M265.90,541.0L265.90,541.00L266.25,541.00L266.60,541.00L266.95,541.00L267.30,541.00L267.65,541.00L268.00,541.00L268.35,541.00L268.70,541.00L269.05,541.00L269.40,541.00L269.75,541.00L270.10,541.00L270.45,541.00L270.80,541.00L271.15,541.00L271.50,541.00L271.85,541.00L272.20,541.00L272.55,541.00L272.90,541.00L273.25,541.00L273.60,541.00L273.95,541.00L274.30,541.00L274.65,541.00L275.00,541.00L275.35,541.00L275.70,541.00L276.05,541.00L276.40,541.00L276.75,541.00L277.10,541.00L277.45,541.00L277.80,541.00L278.15,541.00L278.50,541.00L278.85,541.00L279.20,541.00L279.55,541.00L279.90,541.00L280.25,541.00L280.60,541.00L280.95,541.00L281.30,541.00L281.65,541.00L282.00,541.00L282.35,541.00L282.70,541.00L283.05,541.00L283.40,541.00L283.75,541.00L284.10,541.00L284.45,541.00L284.80,541.00L285.15,541.00L285.50,541.00L285.85,541.00L286.20,541.00L286.55,541.00L286.90,541.00L287.25,541.00L287.60,541.00L287.95,541.00L288.30,541.00L288.65,541.00L289.00,541.00L289.35,541.00L289.70,541.00L290.05,541.00L290.40,541.00L290.75,541.00L291.10,541.00L291.45,541.00L291.80,541.00L292.15,541.00L292.50,540.54L292.85,539.49L293.20,538.44L293.55,537.39L293.90,536.34L294.25,535.29L294.60,535.00L294.95,535.00L295.30,535.00L295.65,535.00L296.00,535.00L296.35,535.00L296.70,535.00L297.05,535.00L297.40,535.00L297.75,535.00L298.10,535.00L298.45,535.00L298.80,535.00L299.15,535.00L299.50,535.00L299.85,535.00L300.20,535.00L300.55,535.00L300.90,535.00L301.25,535.00L301.60,535.00L301.95,535.00L302.30,535.00L302.65,535.00L303.00,535.00L303.35,535.00L303.70,535.00L304.05,535.00L304.40,535.00L304.75,535.00L305.10,535.00L305.45,535.00L305.80,535.00L306.15,535.00L306.50,535.00L306.85,535.00L307.20,535.00L307.55,535.00L307.90,535.00L308.25,535.00L308.60,535.00L308.95,535.00L309.30,535.00L309.65,535.00L310.00,535.00L310.35,535.00L310.70,535.00L311.05,535.00L311.40,535.00L311.75,535.00L312.10,535.00L312.45,535.00L312.80,535.00L313.15,535.00L313.50,535.00L313.85,535.00L314.20,535.11L314.55,535.31L314.90,535.51L315.25,535.71L315.60,535.91L315.95,536.11L316.30,536.31L316.65,536.51L317.00,536.71L317.35,536.91L317.70,537.11L318.05,537.31L318.40,537.51L318.75,537.71L319.10,537.91L319.45,538.11L319.80,538.31L320.15,538.51L320.50,538.71L320.85,538.91L321.20,539.11L321.55,539.31L321.90,539.51L322.25,539.71L322.60,539.91L322.95,540.11L323.30,540.31L323.65,540.51L324.00,540.71L324.35,540.91L324.35,541.0Z" fill="#cdd0ea"/>
<path d="M287.60,541.0L287.60,540.62L287.95,540.15L288.30,539.21L288.65,537.49L289.00,534.61L289.35,530.19L289.70,524.00L290.05,516.13L290.40,507.19L290.75,498.26L291.10,490.78L291.45,486.13L291.80,485.27L292.15,488.37L292.50,494.79L292.85,503.29L293.20,512.38L293.55,520.81L293.90,527.76L294.25,532.93L294.60,536.42L294.95,538.59L295.30,539.82L295.65,540.46L295.65,541.0Z" fill="#d01e1a" stroke="#5a1a18" stroke-width="0.4"/>
<path d="M310.70,541.0L310.70,540.80L311.05,540.73L311.40,540.64L311.75,540.52L312.10,540.38L312.45,540.20L312.80,539.99L313.15,539.74L313.50,539.45L313.85,539.13L314.20,538.77L314.55,538.39L314.90,537.99L315.25,537.57L315.60,537.17L315.95,536.77L316.30,536.41L316.65,536.09L317.00,535.83L317.35,535.64L317.70,535.53L318.05,535.50L318.40,535.55L318.75,535.69L319.10,535.90L319.45,536.18L319.80,536.51L320.15,536.88L320.50,537.28L320.85,537.69L321.20,538.10L321.55,538.50L321.90,538.88L322.25,539.22L322.60,539.54L322.95,539.81L323.30,540.05L323.65,540.25L324.00,540.42L324.35,540.56L324.35,541.0Z" fill="#d01e1a" stroke="#5a1a18" stroke-width="0.3"/>
<path d="M265.90,540.50L266.25,540.50L266.60,540.50L266.95,540.50L267.30,540.50L267.65,540.50L268.00,540.50L268.35,540.50L268.70,540.50L269.05,540.50L269.40,540.50L269.75,540.50L270.10,540.50L270.45,540.50L270.80,540.50L271.15,540.50L271.50,540.50L271.85,540.50L272.20,540.50L272.55,540.50L272.90,540.50L273.25,540.50L273.60,540.50L273.95,540.50L274.30,540.50L274.65,540.50L275.00,540.50L275.35,540.50L275.70,540.50L276.05,540.50L276.40,540.50L276.75,540.50L277.10,540.50L277.45,540.50L277.80,540.50L278.15,540.50L278.50,540.50L278.85,540.50L279.20,540.50L279.55,540.50L279.90,540.50L280.25,540.50L280.60,540.50L280.95,540.50L281.30,540.50L281.65,540.50L282.00,540.50L282.35,540.50L282.70,540.50L283.05,540.50L283.40,540.50L283.75,540.50L284.10,540.50L284.45,540.50L284.80,540.50L285.15,540.50L285.50,540.50L285.85,540.50L286.20,540.50L286.55,540.50L286.90,540.50L287.25,540.50L287.60,540.50L287.95,540.15L288.30,539.21L288.65,537.49L289.00,534.61L289.35,530.19L289.70,524.00L290.05,516.13L290.40,507.19L290.75,498.26L291.10,490.78L291.45,486.13L291.80,485.27L292.15,488.37L292.50,494.79L292.85,503.29L293.20,512.38L293.55,520.81L293.90,527.76L294.25,532.93L294.60,535.00L294.95,535.00L295.30,535.00L295.65,535.00L296.00,535.00L296.35,535.00L296.70,535.00L297.05,535.00L297.40,535.00L297.75,535.00L298.10,535.00L298.45,535.00L298.80,535.00L299.15,535.00L299.50,535.00L299.85,535.00L300.20,535.00L300.55,535.00L300.90,535.00L301.25,535.00L301.60,535.00L301.95,535.00L302.30,535.00L302.65,535.00L303.00,535.00L303.35,535.00L303.70,535.00L304.05,535.00L304.40,535.00L304.75,535.00L305.10,535.00L305.45,535.00L305.80,535.00L306.15,535.00L306.50,535.00L306.85,535.00L307.20,535.00L307.55,535.00L307.90,534.99L308.25,534.99L308.60,534.99L308.95,534.98L309.30,534.97L309.65,534.95L310.00,534.93L310.35,534.89L310.70,534.85L311.05,534.78L311.40,534.70L311.75,534.59L312.10,534.45L312.45,534.27L312.80,534.05L313.15,533.79L313.50,533.48L313.85,533.13L314.20,532.84L314.55,532.61L314.90,532.34L315.25,532.05L315.60,531.77L315.95,531.49L316.30,531.25L316.65,531.06L317.00,530.94L317.35,530.91L317.70,530.97L318.05,531.13L318.40,531.40L318.75,531.77L319.10,532.23L319.45,532.77L319.80,533.37L320.15,534.03L320.50,534.70L320.85,535.39L321.20,536.07L321.55,536.73L321.90,537.36L322.25,537.95L322.60,538.49L322.95,538.98L323.30,539.43L323.65,539.84L324.00,540.21L324.35,540.50" fill="none" stroke="#3a3a3a" stroke-width="0.55"/>
<line x1="336.40" y1="479.00" x2="336.40" y2="540.90" stroke="#777" stroke-width="0.7"/>
<line x1="336.40" y1="540.90" x2="399.40" y2="540.90" stroke="#777" stroke-width="0.7"/>
<path d="M335.4 540.9h1M335.4 538.3h1M335.4 535.7h1M335.4 533.1h1M335.4 530.5h1M335.4 527.9h1M335.4 525.3h1M335.4 522.7h1M335.4 520.1h1M335.4 517.5h1M335.4 514.9h1M335.4 512.3h1M335.4 509.7h1M335.4 507.1h1M335.4 504.5h1M335.4 501.9h1M335.4 499.3h1M335.4 496.7h1M335.4 494.1h1M335.4 491.5h1M335.4 488.9h1M335.4 486.3h1M335.4 483.7h1" stroke="#999" stroke-width="0.5"/>
<line x1="334.60" y1="491.50" x2="336.40" y2="491.50" stroke="#777" stroke-width="0.6"/>
<text transform="translate(334.20,493.30)" font-size="5.2" text-anchor="end" fill="#555" stroke="#555" stroke-width="0.08">800</text>
<line x1="334.60" y1="503.90" x2="336.40" y2="503.90" stroke="#777" stroke-width="0.6"/>
<text transform="translate(334.20,505.70)" font-size="5.2" text-anchor="end" fill="#555" stroke="#555" stroke-width="0.08">600</text>
<line x1="334.60" y1="516.30" x2="336.40" y2="516.30" stroke="#777" stroke-width="0.6"/>
<text transform="translate(334.20,518.10)" font-size="5.2" text-anchor="end" fill="#555" stroke="#555" stroke-width="0.08">400</text>
<line x1="334.60" y1="528.60" x2="336.40" y2="528.60" stroke="#777" stroke-width="0.6"/>
<text transform="translate(334.20,530.40)" font-size="5.2" text-anchor="end" fill="#555" stroke="#555" stroke-width="0.08">200</text>
<line x1="334.60" y1="540.90" x2="336.40" y2="540.90" stroke="#777" stroke-width="0.6"/>
<text transform="translate(334.20,542.70)" font-size="5.2" text-anchor="end" fill="#555" stroke="#555" stroke-width="0.08">0</text>
<line x1="336.40" y1="540.90" x2="336.40" y2="542.40" stroke="#777" stroke-width="0.6"/>
<text transform="translate(336.40,546.90)" font-size="5.2" text-anchor="middle" fill="#555" stroke="#555" stroke-width="0.08">0</text>
<line x1="349.00" y1="540.90" x2="349.00" y2="542.40" stroke="#777" stroke-width="0.6"/>
<text transform="translate(349.00,546.90)" font-size="5.2" text-anchor="middle" fill="#555" stroke="#555" stroke-width="0.08">30</text>
<line x1="360.30" y1="540.90" x2="360.30" y2="542.40" stroke="#777" stroke-width="0.6"/>
<text transform="translate(360.30,546.90)" font-size="5.2" text-anchor="middle" fill="#555" stroke="#555" stroke-width="0.08">60</text>
<line x1="372.00" y1="540.90" x2="372.00" y2="542.40" stroke="#777" stroke-width="0.6"/>
<text transform="translate(372.00,546.90)" font-size="5.2" text-anchor="middle" fill="#555" stroke="#555" stroke-width="0.08">90</text>
<line x1="383.30" y1="540.90" x2="383.30" y2="542.40" stroke="#777" stroke-width="0.6"/>
<text transform="translate(383.30,546.90)" font-size="5.2" text-anchor="middle" fill="#555" stroke="#555" stroke-width="0.08">120</text>
<path d="M338.40,540.9L338.40,540.90L338.75,540.90L339.10,540.90L339.45,540.90L339.80,540.90L340.15,540.90L340.50,540.90L340.85,540.90L341.20,540.90L341.55,540.90L341.90,540.90L342.25,540.90L342.60,540.90L342.95,540.90L343.30,540.90L343.65,540.90L344.00,540.90L344.35,540.90L344.70,540.90L345.05,540.90L345.40,540.90L345.75,540.90L346.10,540.90L346.45,540.90L346.80,540.90L347.15,540.90L347.50,540.90L347.85,540.90L348.20,540.90L348.55,540.90L348.90,540.90L349.25,540.90L349.60,540.90L349.95,540.90L350.30,540.90L350.65,540.90L351.00,540.90L351.35,540.90L351.70,540.90L352.05,540.90L352.40,540.90L352.75,540.90L353.10,540.90L353.45,540.90L353.80,540.90L354.15,540.90L354.50,540.90L354.85,540.90L355.20,540.90L355.55,540.90L355.90,540.90L356.25,540.90L356.60,540.90L356.95,540.90L357.30,540.90L357.65,540.90L358.00,540.90L358.35,540.90L358.70,540.90L359.05,540.90L359.40,540.90L359.75,540.90L360.10,540.90L360.45,540.90L360.80,540.90L361.15,540.90L361.50,540.20L361.85,539.30L362.20,538.40L362.55,537.51L362.90,536.61L363.25,535.77L363.60,535.77L363.95,535.77L364.30,535.77L364.65,535.77L365.00,535.77L365.35,535.77L365.70,535.77L366.05,535.77L366.40,535.77L366.75,535.77L367.10,535.77L367.45,535.77L367.80,535.77L368.15,535.77L368.50,535.77L368.85,535.77L369.20,535.77L369.55,535.77L369.90,535.77L370.25,535.77L370.60,535.77L370.95,535.77L371.30,535.77L371.65,535.77L372.00,535.77L372.35,535.77L372.70,535.77L373.05,535.77L373.40,535.77L373.75,535.77L374.10,535.77L374.45,535.77L374.80,535.77L375.15,535.77L375.50,535.77L375.85,535.77L376.20,535.77L376.55,535.77L376.90,535.77L377.25,535.77L377.60,535.77L377.95,535.77L378.30,535.77L378.65,535.77L379.00,535.77L379.35,535.77L379.70,535.77L380.05,535.77L380.40,535.77L380.75,535.77L381.10,535.77L381.45,535.77L381.80,535.77L382.15,535.77L382.50,535.77L382.85,535.77L383.20,535.77L383.55,535.77L383.90,535.77L384.25,535.82L384.60,536.13L384.95,536.44L385.30,536.75L385.65,537.06L386.00,537.37L386.35,537.67L386.70,537.98L387.05,538.29L387.40,538.60L387.75,538.91L388.10,539.22L388.45,539.53L388.80,539.84L389.15,540.15L389.50,540.46L389.85,540.77L390.20,540.90L390.55,540.90L390.90,540.90L391.25,540.90L391.60,540.90L391.95,540.90L392.30,540.90L392.65,540.90L393.00,540.90L393.35,540.90L393.70,540.90L394.05,540.90L394.40,540.90L394.75,540.90L395.10,540.90L395.45,540.90L395.80,540.90L396.15,540.90L396.50,540.90L396.85,540.90L396.85,540.9Z" fill="#cdd0ea"/>
<path d="M354.50,540.9L354.50,540.50L354.85,540.19L355.20,539.68L355.55,538.88L355.90,537.67L356.25,535.93L356.60,533.52L356.95,530.33L357.30,526.28L357.65,521.40L358.00,515.79L358.35,509.71L358.70,503.51L359.05,497.66L359.40,492.65L359.75,488.94L360.10,486.92L360.45,486.78L360.80,488.54L361.15,492.03L361.50,496.88L361.85,502.65L362.20,508.82L362.55,514.94L362.90,520.63L363.25,525.63L363.60,529.80L363.95,533.12L364.30,535.63L364.65,537.46L365.00,538.73L365.35,539.58L365.70,540.13L366.05,540.46L366.05,540.9Z" fill="#d01e1a" stroke="#5a1a18" stroke-width="0.4"/>
<path d="M381.80,540.9L381.80,540.72L382.15,540.61L382.50,540.45L382.85,540.24L383.20,539.97L383.55,539.64L383.90,539.26L384.25,538.85L384.60,538.44L384.95,538.07L385.30,537.76L385.65,537.57L386.00,537.50L386.35,537.57L386.70,537.76L387.05,538.07L387.40,538.44L387.75,538.85L388.10,539.26L388.45,539.64L388.80,539.97L389.15,540.24L389.50,540.45L389.85,540.61L390.20,540.72L390.20,540.9Z" fill="#d01e1a" stroke="#5a1a18" stroke-width="0.3"/>
<path d="M338.40,540.40L338.75,540.40L339.10,540.40L339.45,540.40L339.80,540.40L340.15,540.40L340.50,540.40L340.85,540.40L341.20,540.40L341.55,540.40L341.90,540.40L342.25,540.40L342.60,540.40L342.95,540.40L343.30,540.40L343.65,540.40L344.00,540.40L344.35,540.40L344.70,540.40L345.05,540.40L345.40,540.40L345.75,540.40L346.10,540.40L346.45,540.40L346.80,540.40L347.15,540.40L347.50,540.40L347.85,540.40L348.20,540.40L348.55,540.40L348.90,540.40L349.25,540.40L349.60,540.40L349.95,540.40L350.30,540.40L350.65,540.40L351.00,540.40L351.35,540.40L351.70,540.40L352.05,540.40L352.40,540.40L352.75,540.40L353.10,540.40L353.45,540.40L353.80,540.40L354.15,540.40L354.50,540.40L354.85,540.19L355.20,539.68L355.55,538.88L355.90,537.67L356.25,535.93L356.60,533.52L356.95,530.33L357.30,526.28L357.65,521.40L358.00,515.79L358.35,509.71L358.70,503.51L359.05,497.66L359.40,492.65L359.75,488.94L360.10,486.92L360.45,486.78L360.80,488.54L361.15,492.03L361.50,496.88L361.85,502.65L362.20,508.82L362.55,514.94L362.90,520.63L363.25,525.63L363.60,529.80L363.95,533.12L364.30,535.63L364.65,535.77L365.00,535.77L365.35,535.77L365.70,535.77L366.05,535.77L366.40,535.77L366.75,535.77L367.10,535.77L367.45,535.77L367.80,535.77L368.15,535.77L368.50,535.77L368.85,535.77L369.20,535.77L369.55,535.77L369.90,535.77L370.25,535.77L370.60,535.77L370.95,535.77L371.30,535.77L371.65,535.77L372.00,535.77L372.35,535.77L372.70,535.77L373.05,535.77L373.40,535.77L373.75,535.77L374.10,535.77L374.45,535.77L374.80,535.77L375.15,535.77L375.50,535.77L375.85,535.77L376.20,535.77L376.55,535.77L376.90,535.77L377.25,535.77L377.60,535.77L377.95,535.77L378.30,535.77L378.65,535.77L379.00,535.77L379.35,535.77L379.70,535.77L380.05,535.77L380.40,535.76L380.75,535.75L381.10,535.73L381.45,535.70L381.80,535.64L382.15,535.55L382.50,535.41L382.85,535.22L383.20,534.97L383.55,534.64L383.90,534.26L384.25,533.88L384.60,533.75L384.95,533.66L385.30,533.64L385.65,533.73L386.00,533.97L386.35,534.35L386.70,534.88L387.05,535.52L387.40,536.23L387.75,536.97L388.10,537.71L388.45,538.40L388.80,539.03L389.15,539.60L389.50,540.10L389.85,540.40L390.20,540.40L390.55,540.40L390.90,540.40L391.25,540.40L391.60,540.40L391.95,540.40L392.30,540.40L392.65,540.40L393.00,540.40L393.35,540.40L393.70,540.40L394.05,540.40L394.40,540.40L394.75,540.40L395.10,540.40L395.45,540.40L395.80,540.40L396.15,540.40L396.50,540.40L396.85,540.40" fill="none" stroke="#3a3a3a" stroke-width="0.55"/>
<rect x="374.00" y="482.30" width="5.20" height="3.60" fill="#cf1f1f"/>
<rect x="374.00" y="487.60" width="5.20" height="3.60" fill="#cf1f1f"/>
<rect x="374.00" y="493.10" width="5.20" height="3.60" fill="#cfd2ea" stroke="#aab" stroke-width="0.3"/>
<text transform="translate(380.50,485.90)" font-size="4.8" text-anchor="start" fill="#3355bb" stroke="#3355bb" stroke-width="0.08">Dip G0-G1</text>
<text transform="translate(380.50,491.20)" font-size="4.8" text-anchor="start" fill="#3355bb" stroke="#3355bb" stroke-width="0.08">Dip G2-M</text>
<text transform="translate(380.50,496.70)" font-size="4.8" text-anchor="start" fill="#3355bb" stroke="#3355bb" stroke-width="0.08">Dip S</text>
<line x1="460.70" y1="407.40" x2="460.70" y2="458.50" stroke="#3a3a3a" stroke-width="1.2"/>
<line x1="460.10" y1="458.50" x2="536.00" y2="458.50" stroke="#231f20" stroke-width="1.2"/>
<line x1="460.70" y1="407.40" x2="463.20" y2="407.40" stroke="#3a3a3a" stroke-width="1"/>
<text transform="translate(455.60,412.82)" font-size="15.5" text-anchor="end" fill="#231f20" stroke="#231f20" stroke-width="0.15">20</text>
<line x1="460.70" y1="433.00" x2="463.20" y2="433.00" stroke="#3a3a3a" stroke-width="1"/>
<text transform="translate(455.60,438.43)" font-size="15.5" text-anchor="end" fill="#231f20" stroke="#231f20" stroke-width="0.15">10</text>
<line x1="460.70" y1="458.50" x2="463.20" y2="458.50" stroke="#3a3a3a" stroke-width="1"/>
<text transform="translate(455.60,463.93)" font-size="15.5" text-anchor="end" fill="#231f20" stroke="#231f20" stroke-width="0.15">0</text>
<rect x="463.80" y="430.90" width="10.80" height="27.60" fill="#ffffff" stroke="#231f20" stroke-width="1"/>
<line x1="484.40" y1="428.40" x2="484.40" y2="430.90" stroke="#4a4a4a" stroke-width="1.6"/>
<line x1="481.40" y1="428.40" x2="487.40" y2="428.40" stroke="#231f20" stroke-width="1.4"/>
<rect x="479.30" y="430.90" width="10.20" height="27.60" fill="#b5b5b5" stroke="#231f20" stroke-width="1"/>
<line x1="499.50" y1="418.50" x2="499.50" y2="419.20" stroke="#4a4a4a" stroke-width="1.6"/>
<line x1="496.50" y1="418.50" x2="502.50" y2="418.50" stroke="#231f20" stroke-width="1.4"/>
<rect x="494.40" y="419.20" width="10.20" height="39.30" fill="#787878" stroke="#231f20" stroke-width="1"/>
<line x1="514.15" y1="425.00" x2="514.15" y2="427.80" stroke="#4a4a4a" stroke-width="1.6"/>
<line x1="511.15" y1="425.00" x2="517.15" y2="425.00" stroke="#231f20" stroke-width="1.4"/>
<rect x="509.30" y="427.80" width="9.70" height="30.70" fill="#3b3b3b" stroke="#231f20" stroke-width="1"/>
<line x1="528.75" y1="440.50" x2="528.75" y2="442.10" stroke="#4a4a4a" stroke-width="1.6"/>
<line x1="525.75" y1="440.50" x2="531.75" y2="440.50" stroke="#231f20" stroke-width="1.4"/>
<rect x="523.60" y="442.10" width="10.30" height="16.40" fill="#231815" stroke="#231f20" stroke-width="1"/>
<path d="M499.50,407.70L499.50,415.30M496.21,409.60L502.79,413.40M502.79,409.60L496.21,413.40" stroke="#231f20" stroke-width="1.2" stroke-linecap="round"/>
<path d="M528.70,429.50L528.70,437.10M525.41,431.40L531.99,435.20M531.99,431.40L525.41,435.20" stroke="#231f20" stroke-width="1.2" stroke-linecap="round"/>
<text transform="translate(416.30,462.40) rotate(-90)" font-size="13.4" text-anchor="start" fill="#231f20" stroke="#231f20" stroke-width="0.15">DNA content</text>
<text transform="translate(431.50,448.60) rotate(-90)" font-size="12.7" text-anchor="start" fill="#231f20" stroke="#231f20" stroke-width="0.15">(100%)</text>
<line x1="460.70" y1="491.20" x2="460.70" y2="540.20" stroke="#3a3a3a" stroke-width="1.2"/>
<line x1="460.10" y1="540.20" x2="536.00" y2="540.20" stroke="#231f20" stroke-width="1.2"/>
<line x1="460.70" y1="491.20" x2="463.20" y2="491.20" stroke="#3a3a3a" stroke-width="1"/>
<text transform="translate(455.60,496.62)" font-size="15.5" text-anchor="end" fill="#231f20" stroke="#231f20" stroke-width="0.15">24</text>
<line x1="460.70" y1="515.70" x2="463.20" y2="515.70" stroke="#3a3a3a" stroke-width="1"/>
<text transform="translate(455.60,521.12)" font-size="15.5" text-anchor="end" fill="#231f20" stroke="#231f20" stroke-width="0.15">12</text>
<line x1="460.70" y1="540.20" x2="463.20" y2="540.20" stroke="#3a3a3a" stroke-width="1"/>
<text transform="translate(455.60,545.62)" font-size="15.5" text-anchor="end" fill="#231f20" stroke="#231f20" stroke-width="0.15">0</text>
<line x1="469.20" y1="520.20" x2="469.20" y2="523.20" stroke="#4a4a4a" stroke-width="1.6"/>
<line x1="466.20" y1="520.20" x2="472.20" y2="520.20" stroke="#231f20" stroke-width="1.4"/>
<rect x="463.80" y="523.20" width="10.80" height="17.00" fill="#ffffff" stroke="#231f20" stroke-width="1"/>
<line x1="484.40" y1="521.50" x2="484.40" y2="525.30" stroke="#4a4a4a" stroke-width="1.6"/>
<line x1="481.40" y1="521.50" x2="487.40" y2="521.50" stroke="#231f20" stroke-width="1.4"/>
<rect x="479.30" y="525.30" width="10.20" height="14.90" fill="#b5b5b5" stroke="#231f20" stroke-width="1"/>
<line x1="499.50" y1="498.30" x2="499.50" y2="508.10" stroke="#4a4a4a" stroke-width="1.6"/>
<line x1="496.50" y1="498.30" x2="502.50" y2="498.30" stroke="#231f20" stroke-width="1.4"/>
<rect x="494.40" y="508.10" width="10.20" height="32.10" fill="#787878" stroke="#231f20" stroke-width="1"/>
<line x1="514.15" y1="522.30" x2="514.15" y2="524.50" stroke="#4a4a4a" stroke-width="1.6"/>
<line x1="511.15" y1="522.30" x2="517.15" y2="522.30" stroke="#231f20" stroke-width="1.4"/>
<rect x="509.30" y="524.50" width="9.70" height="15.70" fill="#3b3b3b" stroke="#231f20" stroke-width="1"/>
<rect x="523.60" y="528.40" width="10.30" height="11.80" fill="#231815" stroke="#231f20" stroke-width="1"/>
<path d="M499.50,487.70L499.50,495.30M496.21,489.60L502.79,493.40M502.79,489.60L496.21,493.40" stroke="#231f20" stroke-width="1.2" stroke-linecap="round"/>
<path d="M528.70,516.20L528.70,523.80M525.41,518.10L531.99,521.90M531.99,518.10L525.41,521.90" stroke="#231f20" stroke-width="1.2" stroke-linecap="round"/>
<text transform="translate(416.30,546.40) rotate(-90)" font-size="13.4" text-anchor="start" fill="#231f20" stroke="#231f20" stroke-width="0.15">DNA content</text>
<text transform="translate(431.50,534.70) rotate(-90)" font-size="12.7" text-anchor="start" fill="#231f20" stroke="#231f20" stroke-width="0.15">(100%)</text>
<rect x="543.20" y="400.70" width="13.30" height="9.20" fill="#ffffff" stroke="#231f20" stroke-width="1"/>
<text transform="translate(560.80,410.09) scale(1.07,1)" font-size="13.3" text-anchor="start" fill="#231f20" stroke="#231f20" stroke-width="0.15">Control</text>
<rect x="543.20" y="412.90" width="13.30" height="9.20" fill="#b5b5b5" stroke="#231f20" stroke-width="1"/>
<text transform="translate(560.80,422.29) scale(1.07,1)" font-size="13.3" text-anchor="start" fill="#231f20" stroke="#231f20" stroke-width="0.15">LINC01016 (+)-NC</text>
<rect x="543.20" y="425.00" width="13.30" height="9.20" fill="#787878" stroke="#231f20" stroke-width="1"/>
<text transform="translate(560.80,434.39) scale(1.07,1)" font-size="13.3" text-anchor="start" fill="#231f20" stroke="#231f20" stroke-width="0.15">LINC01016 (+)</text>
<rect x="543.20" y="437.00" width="13.30" height="9.20" fill="#3b3b3b" stroke="#231f20" stroke-width="1"/>
<text transform="translate(560.80,446.39) scale(1.07,1)" font-size="13.3" text-anchor="start" fill="#231f20" stroke="#231f20" stroke-width="0.15">LINC01016 (-)-NC</text>
<rect x="543.20" y="449.10" width="13.30" height="9.20" fill="#000000" stroke="#231f20" stroke-width="1"/>
<text transform="translate(560.80,458.49) scale(1.07,1)" font-size="13.3" text-anchor="start" fill="#231f20" stroke="#231f20" stroke-width="0.15">LINC01016 (-)</text>
<text transform="translate(2.90,597.70)" font-size="21.5" text-anchor="start" fill="#231f20" stroke="#231f20" stroke-width="0.15">e</text>
<clipPath id="c11"><rect x="54.80" y="600.00" width="46.40" height="50.40"/></clipPath><g clip-path="url(#c11)">
<rect x="54.80" y="600.00" width="46.40" height="50.40" fill="#ffffff"/>
<ellipse cx="73.4" cy="644.9" rx="7.9" ry="7.7" fill="url(#scG)"/>
<path d="M76.1 651.9h0m-3.4-23.1h0m-.8 13.3h0m-6.3-14.1h0m32.7-7.5h0m-1.6-10.9h0m-27.9 29.8h0m8.1 8.7h0m-.5-.7h0m-8-2.2h0m-1.2-6.4h0m12.9 9.6h0m-4.9-25.3h0m7.3-16.4h0m-11.8 34.8h0m8.9 3.2h0m-1.4 1.4h0m-6.1-15.3h0m-1.1 18.6h0m31.3-24.2h0m-44.2 2.3h0m14.8 10.4h0m-5.2 8.4h0m6.4-3.8h0m-7.5-8.4h0m7.1 8.3h0m.9 2.8h0m.5 1.3h0m-1.9-5.8h0m6.2 5.8h0m-9 3.8h0m21.9-44.5h0m7 2h0m-27.2 37.2h0m5.7-4.6h0m-8.4 3.8h0m1.2 5.1h0m-10.4-1.1h0m9.5-3.3h0m32.4-15.1h0m-29.1-13.7h0m-1.3 36.7h0m2.4-12.7h0m-.4-1.6h0m.5 10.9h0m-5.4-7.5h0m3.3-8.6h0m4.9 11.7h0m1.7-6.3h0m-2.2 6.5h0m-5.9 2.8h0m-.5-6.5h0m22.1-34.8h0m-17.2 40.4h0m16.3-38.4h0m-8.2 30.8h0m-2.5 6.3h0m-4-1.1h0m4-3h0m-1.8-11.7h0m4 18.4h0m16.7-37.5h0m1.6 18h0m-18.8 23.2h0m-5.7-7.2h0m-2-15.7h0m2.9-.2h0m-2.6 19.1h0m-3.6 1.1h0m-1.6-1.3h0m1.8-16.9h0m7.3 17.1h0m-18.1-11.3h0m9.4 8.5h0m3.4-4.8h0m1.1 1.3h0m-2.8 .6h0m3.5 5.3h0m-7-1.2h0m2.5-3.4h0m-3.5-5h0m25.8-32.9h0m-24.4 43.6h0m32.5-29.1h0m-33.2 24.3h0m10.4 6.6h0m-5.4-10.3h0m2.8-5.2h0m2.9 10.3h0m-1.7-7.2h0m-.9-.8h0m-8.2 6.1h0m.6 1h0m2.2-7.5h0m-4.4 9.8h0m8 2.8h0m-1.4-7.8h0m-5.6 5.7h0m11.3-5.4h0m-12.9-13.1h0m4.6 16.5h0m-1.5 1h0m6-3.8h0m-.4 .1h0m7 2.9h0m-8.8 2.9h0m-7.1-2.3h0m5.9 4.2h0m-.6-1.3h0m-1.5-29.9h0m-6.8 4.6h0m6.6 18.7h0m5.2 .7h0m-2-.1h0m6.1-21.2h0m-2.4 24.9h0m-1.2 2.3h0m27.5-28.1h0m-33.2 2.5h0m8.4 28.9h0m-5.8-9.2h0m-1.4 0h0m8.2-9h0m-3.3 5.9h0m-1.2 2.2h0m-2.1 4.5h0m18.9-43h0m-18.3 42.5h0m-.1-5.7h0m6.1-5.2h0m-1 2.3h0m-9.8 3.4h0m7.3-4.3h0m7.2 4.1h0m-9.7 3.9h0m-2.5-.8h0m11.7 2.9h0m-9.7 .1h0m-15.3-29.2h0m25.7 27.5h0m-9.4-1.3h0m-7 3.2h0m2.1-5.6h0m5.6 11h0m2.3-12.4h0m-7.9-5.5h0m3.1 14.5h0m5.5-5.8h0m-10.8-35.8h0m13.9 35.8h0m-10.7 1.4h0m5.8-.8h0m-2.7-7.1h0m-2.6 1.2h0m8.4 8.4h0m-3.6-3.7h0m10-2.6h0m-10.2 1.6h0m5.2 5.4h0m7-33.3h0m-14.8 29.4h0m4.3 8.4h0m-.2-.2h0m7.5-10h0m16.4-11.7h0m-3.6-25.1h0m-22.7 41h0m4.8-12.2h0m4.6 13.8h0m-11.4-4.9h0m-3.8 9.8h0m.5-14.8h0m-4.1 9.1h0m4.9-1.7h0m2.9-15.3h0m1.6 14h0m.5 2h0m.3-18.4h0m2.7 13.4h0m.9 3.1h0m2.2 2.4h0m-11.1-5.4h0m12.2 4.5h0m-16.5-.7h0m11.7 2.1h0m-13-9.5h0m12.2 8.8h0m-6.6 .2h0m24.3-43h0m-22.6 24.7h0m-16.8 11.2h0m18.7 9.2h0m.9 1.3h0m-.9-3.2h0m25.4-36.1h0m-13.9 .4h0m-9 41.7h0m-3.7-6.5h0m2.2 2.6h0m4.4-8.4h0m-5.2-.7h0m15.5-5.4h0m-11.8 11.1h0m-1.7 1.5h0m-4.8-6.5h0m2.5 8.3h0m17.6-38.3h0m-21.5 27h0m-.9 13.1h0m8.7-7.4h0m-7.4-5.2h0m-.8 8.3h0m4.8-2.9h0m.8 6.1h0m5-6.1h0m-9.3 1.7h0m10.8 .7h0m-7.2-1.5h0m4.1-9.3h0m-19.5 11.8h0m20.9-.9h0m-2.8-3.5h0m-7.3-3.4h0m19-28.7h0m-8.9 33.4h0m0 1.6h0m21.4-19h0m-27.5 23.6h0m5.1-16.6h0m-4 9.2h0m-8.9 1.2h0m33.2-36h0m-28.6 44.1h0m2.2-5h0m4.3-10.9h0m.4 3h0m-13.3-19.3h0m14.6 20.5h0m-20.8-21h0m19.5 18h0m19.1-30.8h0m-10.5 34.3h0m-14.8 5.2h0m24-35.8h0m-23.5 35.5h0m2.4-21.8h0m-11.5 8.9h0m19.4 14.2h0m20-21h0m-22 21.2h0m-7.7-4.1h0m-1.5 3h0m10.9-9h0m-7.5 7.3h0m-6.3-21.2h0m4.4 15.6h0m8.3 3.1h0m-13.1-6.7h0m15.9-2.2h0m-9.5 11.3h0m0-26.3h0m-3.4 10.3h0m13.5 20.5h0m-7.9-21.7h0m-8.9 20.3h0m6.4-.6h0m9.3 .1h0m-12.3-4.9h0m9 7.3h0m-13.2 .9h0m5.5-1.4h0m4.5-9.2h0m-3 9.8h0m1.3-4.5h0m-6.3 6.6h0m11.3-9h0m-20.9 5.9h0m23.3-8h0m-2 2.8h0m-6.4 2.8h0m-.1-1.5h0m3.4-17h0m-5 3h0m-.6 11.4h0m1.1 8.6h0m4-2.8h0m-3.1-1h0m-7.3 .7h0m27.1-40.1h0m-14.3 34.3h0m2.4 11.4h0m-15-11h0m5.1 6.4h0m-.9 4.5h0m23.5-43.9h0m-18.4 34.2h0m-3.1 3.3h0m11.2-40h0m-.8 39.9h0m-5.3-4.3h0m-3.6 .7h0m27.8-13.8h0m-30.4 22.7h0m32.7-23.7h0m-22.9 12.5h0m-5.6 6.2h0m-1.9-3.6h0m7.4-.8h0m-18.1 .7h0m8.4-2.8h0m9.5 5.5h0m-12-1.6h0m13.8-10.8h0m-5.5 3.2h0m.2 7.9h0m-1.9-2.2h0m4.5-.1h0m-12.3-14.3h0m19.7 14.6h0m-13.5 7.1h0m3.9-3.4h0m-.3-1.8h0m-5.9-1.1h0m-1-.1h0m5.6 7.7h0m27.8-42.7h0m-30.7 32h0m2.3 8.2h0m-1-6.3h0m.8 2.9h0m15.4-34.3h0m-12.4 39.8h0m-4.5-5.1h0m7.5 8.2h0m-5.1-11h0m-1.5 3.2h0m-10.6-.3h0m10 8h0m7.4-4.2h0m-3.7-5h0m-13 5.7h0m7.3-3.2h0m10.1-1.6h0m-8-22.2h0m6.5 27.1h0m-5.3 .1h0" stroke="#dd2a20" stroke-width="0.51" stroke-linecap="square" stroke-opacity="0.75" fill="none"/>
<path d="M82.8 650.7h0m-12.4-1.4h0m2-2.2h0m1.2 1.1h0m4.9-7.9h0m-12.7-6.3h0m6.1 10.9h0m-4.2 1.9h0m6.2-1.7h0m-3.2-12.7h0m-4.9 4.8h0m6.7 3.8h0m-3.4 2.4h0m10 2.9h0m21.2-39.8h0m-26.6 40.8h0m-1.2-1.6h0m2.2-.2h0m21.9-36.2h0m-31 9.3h0m4.4 32h0m16.2-42.6h0m-17.1 41.1h0m4.5 .6h0m6.8 1h0m-4.4 .4h0m2.4-9.4h0m.3 1.8h0m-1.2-2.9h0m-.1-3.6h0m9.7 9.6h0m-11.6-1.5h0m-5.8-1.5h0m-4.7-17.4h0m3.5 14.1h0m16.5-13.2h0m-9 18.5h0m-5.2 3.7h0m2.1-7h0m-2.2 9.8h0m-.2-10.4h0m.9-3.4h0m8.6 1.4h0m-10.5 7.7h0m22-40.6h0m-24.3 35.1h0m4.7 6.9h0m-3.3-12.9h0m8.2 .3h0m-.6 7.2h0m5.4-11.2h0m-11 17.2h0m2-4.4h0m2.3-.3h0m-4.9-2.3h0m-1.3-11.8h0m-2.3 12.1h0m3.3 1.5h0m-3.1 1.6h0m2.4 4.8h0m28.1-22.8h0m-24 15.4h0m-1.8 4.3h0m4.3 4.7h0m-6.3-13.1h0m1.7 0h0m10 8.3h0m-6.9-7.4h0m-5.3 5.8h0m10.9-4.5h0m-9.7 3.4h0m3.1-1.3h0m-13.9-2.6h0m40.8-10.9h0m-27.3 16.1h0m-6.2-3.3h0m25-36.6h0m10.9 2.6h0m-35.5 38.5h0m35.9-19.4h0m-27-17.2h0m-6.9 37.7h0m6.4-9.9h0m3-1.1h0m-11 14.4h0m3.1-11.6h0m6.9 7.1h0m1.9-4.7h0m-9.3-3h0m6.1 6.3h0m18-36.3h0m-17 34.4h0m-5 5.4h0m.5-2.9h0m-9.2-5.7h0m.4 5.7h0m29.1-36.7h0m-12.9 37.4h0m.1 .1h0m-6.6 2.1h0m-6.3-13.1h0m8 8.7h0m.2-5.8h0m4.2 0h0m-9.4-.3h0m17.1-29.4h0m9.2-.8h0m-22.4 42.2h0m-1.4-9.8h0m5.2 4.7h0m-6.5-1.4h0m3.7 4.3h0m26.9-24.3h0m-4.6 18.5h0m-25.4 3.7h0m-.8-2.2h0m1 0h0m21-11.8h0m-25 7.6h0m9.7 3h0m22.5-23.8h0m-33.3 19.3h0m-11.9-7.6h0m21.9 6.7h0m-8.8 4.1h0m6.9-4.9h0m-7.4-4.3h0m9.7 9.5h0m-15.8-10.3h0m10.1 15.7h0m.5-2.4h0m.2 6.7h0m5.8-10.9h0m6.3-32.1h0m-17.2 24.3h0m6.1 8.3h0m-3.7 0h0m.1-2h0m25.1-32.7h0m-21.6 36.9h0m10.9 1.7h0m16.7-8.7h0m-20.9 7.3h0m-2.3 .2h0m-4.6-2h0m8.4-38.1h0m14.5 5.5h0m-25.3 38.4h0m6.1-8.6h0m-4.5 11.1h0m.3-1.3h0m-.8 1.9h0m7.2-5.8h0m-5-18.2h0m-20.4 17.9h0m24.4 5.7h0m-2.7-7.2h0m-10.3-24.7h0m36.6-13.6h0m-20.8 36.7h0m-7.8 4.7h0m3.6-3.9h0m5 .9h0m-10.6 1.1h0m-5.3 2.2h0m11.6 5.4h0m-8.5-4.2h0m14.8-14.2h0m-14.7 8.8h0m6.8 3.7h0m-2.2-.8h0m-4.3-4.9h0m3.1 4.8h0m-11.4 1.4h0m3.2-17.9h0m21.5 11.6h0m-15.4-16.2h0m6.3 20.8h0m-11.8-3.9h0m10.8 5.8h0m4-5.5h0m-21.9-18.1h0m36.7-15.8h0m-26 28h0m1.6 3.9h0m1.6 2.8h0m27.7-16.7h0m-26.5 23.1h0m-.7 .1h0m2.8-1.7h0m11.7-44.6h0m-17.4 41.2h0m4.7-2.2h0m-7.1-12.2h0m4.5 13.7h0m-3.7-2.2h0m7.2 5.8h0m-10.9-2.4h0m12.7 2.9h0m1.1-25.5h0m-3.2 27.3h0m-4.4-9.2h0m4.2 1.8h0m5.1-1.7h0m3 .4h0m-7.7 5.8h0m0 6.2h0m-1.5-9.1h0m3.3 3.8h0m-4.6-7h0m-3.4-14.4h0m3.2 19.5h0m1.2-1h0m.3 5.8h0m.4-2.7h0m3.5 1.9h0m-.2-11.4h0m-15.5-24.4h0m38.3 11.2h0m-4.6-16.6h0m-27.4 37h0m5.6 4.5h0m-9.8 1.5h0m16.8-2.7h0m-8.1-7.6h0m7.3-2.4h0m-9.2 2.7h0m19.4-34.4h0m-11.4 42.7h0m.8-3.7h0m-2.3-.5h0m.5 1.8h0m-5.1-5.2h0m3.8-.7h0m-1.5 12.1h0m-3.7-9.6h0m.7 .5h0m1.7 5.8h0m2 2.2h0m.8-8.8h0m-1.4-6.6h0m-5.1 7.9h0m8 4.2h0m.1-1.8h0m-2.3-7h0m-9.1 6.2h0m8.6-8.2h0m2.7 10.2h0m-7.5 4.6h0m7.1-.8h0m-10 .4h0m33.8-20.5h0m-21.4 11.6h0m-1.4-1h0m20.6-18.9h0m-28.8 6.2h0m12.7 8.7h0m9.2-27.4h0m-15.8 36.1h0m-2.2-23.8h0m.9 19.7h0m10.6-36h0m-16.5 39.1h0m22.6-35.1h0m-23 41.2h0m.3-9.3h0m3.3 7.4h0m12.2-14.8h0m-12 8.1h0m1 5.1h0m26.5-24.4h0m-27.2 17.2h0m2.4 4.4h0m-7.9 .7h0m1 1.8h0m9.7-9.9h0m-5.2 11.9h0m-2.9-3.5h0m5-6.9h0m22.9-30.4h0m-38.2 12.7h0m15.9 18.1h0m1.6 2h0m-7.5 3.2h0m5.7 1.9h0m2.7-3.3h0m-8.5 3.5h0m-3-9.5h0m7.8 6.3h0m-9.7-19.5h0m8.5 15.4h0m28.4-34.2h0m-1.9 15.6h0m-34.5 19.9h0m9.3 2.1h0m-21.1-23.2h0m20 26.6h0m-.1-5.6h0m4.9 6.5h0m-6.5-6.1h0m-3.3 2.8h0m-1.6-28h0m10.1 24.8h0m2.4-3.8h0m-12.7 8.6h0m7.5-7.9h0m-9.2 4.7h0m4.4 4.4h0m4.4-5.9h0m-2.9 2.8h0m.6-4.7h0m17.2-20.4h0m-15.3 29.9h0m16.3-40.9h0m-15.6 38.8h0m1.8-2.5h0m-2.5 .1h0m3.9-1.3h0m-9.3-2.5h0m35-13.5h0m-30 11.8h0m-5.1 5.6h0m-4.6-20.2h0m14 26.2h0m-6.7-4.9h0m-.4-1.8h0" stroke="#dd2a20" stroke-width="0.65" stroke-linecap="square" stroke-opacity="0.75" fill="none"/>
<path d="M67.2 633.8h0m7 8.8h0m-16.1-15.2h0m21.9 9.8h0m-20.5 9.4h0m38.7-5.5h0m-40.2-19.1h0m4.2 17h0m11.7 4.1h0m-8.8 4.7h0m22-29.3h0m-11.9-9.4h0m13.3 34.5h0m-15.2 3.5h0m-8.2-39.4h0m3.9 22h0m16.9-27h0m-21.6 34h0m14.2-7.1h0m-6.4 13.2h0m13.6-33.5h0m4.9 26.2h0m-24.2 11.1h0m2-4.8h0m-2.5 3.9h0m12.2-6.3h0m11.8-2.4h0m-11.6 7.3h0m-6.2-2.8h0m1.8-19.5h0m.1 26.9h0m-.8-6.9h0m-5.8-17.4h0m11.4 12.8h0m-16.7-29.6h0m10.3 38.3h0m22-1.2h0m-32.5-5.4h0m5.6-13.8h0m24-17.1h0m-15 38.9h0m-5.2-4.7h0m10.1-31.1h0m13.1 34.1h0m-3.8-1.3h0m-20.8-12h0m-9.4-21.8h0m39.6 16.3h0m.5-14.9h0m-18.5 6.9h0m-1.7-3.7h0m-20.6 31.3h0m7.5-.3h0m9.3-6.2h0m22.6 9.2h0m-22.3-25.1h0m5.7 24.7h0m-7.7-23.3h0m-8.9 12.5h0m13.3-32.4h0m-8.9 25.3h0m-11.6 17.1h0m19.1 1.9h0m-3.7-1.8h0m-19.2 2.1h0m13.9-3.9h0m18.6-38.1h0m-9.9 38.1h0m-6.6-6.3h0m.7 4.3h0m1.3 7h0m1.3-13.1h0m5.3-2.2h0m-10.4-1.9h0m4 6.7h0m-3.1 7.7h0m2-5.5h0m14.7-17.3h0m7.3-16.9h0m2.1 13.3h0m-1.3-12h0m-33.9 8.6h0m27.2-16.3h0m-17.2 49.4h0m7.4-7.4h0m-23.3-41.5h0m4 43.6h0m16-3.7h0m17.2-1.1h0m-2.9 .1h0m-20.4-39.6h0m30.1 16.3h0m-43 19.4h0m6.2-13h0m28-3.6h0m-11.9 18.3h0m-4.9 11.1h0m-2.5-44.7h0m10.7 4.9h0m-5.6 31.1h0m6.7-10.5h0m-6.1 19.2h0m-7-13.4h0m2.6 2.7h0m-9.5 5.1h0m32.3-25.6h0m-6.8 22.8h0m-8.5-20.2h0m4.2 23.8h0m12.1-13.4h0m-31.2 6.8h0m-.6-.6h0m5.4 9.8h0m27.2-39.2h0m-8-4.3h0m-24.5 7.8h0m-1.1-12.9h0m2.8 44.3h0m-.9-43.9h0m3.1 46h0m31.7-16.7h0m-2-9.9h0m-14.4 20.9h0m-15.1 1.3h0m24.8 3.6h0m-36.2-34.7h0m41.8 16.6h0m-26.1 17.6h0m-5.4-6.7h0m9.5 3h0m-3.8-41.3h0m2.2 16.3h0m-14.5 17.4h0m7.7 6.3h0m20.3-36.7h0m-.4 15.2h0m-20 20.6h0m8-14.7h0m-1.4-13h0m9.8 30.5h0m-4.1 0h0m-7.8-11.3h0m6-9.3h0m-5 29.3h0m9.4-17.3h0m-26.8 3.1h0m20.7-.9h0m-9.2 15.4h0m-6.1-39.8h0m5.5 31.6h0m25.5-21.8h0m-23.5 27.6h0m15.9-33.2h0m-10.5 30.4h0m13.5-31.8h0m-6.8-12.9h0m-12.8 12.7h0m10.1 3.4h0m-.3 8.2h0m-4.5 19.6h0m8.6-32.9h0m-12.3 36.6h0m10-42.3h0m14.6 2.4h0m-17.3 34.1h0m1.4 5.7h0m5.6-22h0m-20.9 21.8h0m12 2.8h0m5.6-25.2h0m-19.9-.2h0m35 5h0m-17.7 16.7h0m-2.6-5.1h0m-6.8-23.8h0m2.7 23.8h0m-3.8 1.5h0m-6.7-16.1h0m32.2-19.2h0m-38.3 13.3h0m19.9 9.9h0m23.4-11.5h0m-39.2 15.5h0m8.7 13.1h0m-11.9-6.4h0m8.9-2.5h0m27.4-32.2h0m-19.2 1.8h0m24.2 31.3h0m-19.5-15.4h0m9.5 21.4h0m-6.8-5.1h0m-4.3-13.2h0m-2.1 18.2h0m-9.9-13.2h0m16.7-3.6h0m-22.8-7.2h0m14.8 16.7h0m21.1-.2h0m-25.3-14.5h0m26.8-24.3h0m5.3 9.7h0m-24.3 30.6h0m21.3-36.1h0m-25.5 8.5h0m6.7-8h0m-19.7 31.7h0m23 7h0m13-10.4h0m-16.9 11.4h0m-2.1-39.7h0m3.4 41.6h0m-3.8-19h0m-9.3 17.9h0m7.2-1.1h0m-3.1-7.1h0m13.9 2.8h0m-7.5-1.9h0m1.3 12.8h0m.1-31.8h0m-3.2 23.1h0m2.8-11.3h0m-17.9 11.1h0m19.8 4.5h0m-22.2-27.7h0m-1.4 25.2h0m4.8-3h0m36.9-.5h0m-15.3 7.4h0m7.3-9.2h0m6.3-30.3h0m-19.8 31.4h0m-5.8 3h0m2.7 8.8h0m-4.7-51.6h0m-1.2 38.6h0m.7 4.7h0m27.1-35.4h0m-4.3 23h0m-25.1 2.2h0m10.6 14.5h0m14.5-11.9h0m-4.1-29.6h0m-13 8.3h0m-4.4-.5h0m13.8-9.7h0m-2.6 39h0m-7.9-31.8h0m-9.5-11.4h0m13.9 43.6h0m10.8-39.7h0m-17 45.8h0m22-35.5h0m-22.1 28.4h0" stroke="#ee6a5a" stroke-width="0.50" stroke-linecap="square" stroke-opacity="0.42" fill="none"/>
</g>
<rect x="54.50" y="600.50" width="47.00" height="50.00" fill="none" stroke="#a4a4a4" stroke-width="1"/>
<line x1="84.50" y1="600.50" x2="84.50" y2="650.50" stroke="#999" stroke-width="1"/>
<line x1="54.50" y1="617.50" x2="101.50" y2="617.50" stroke="#999" stroke-width="1"/>
<line x1="53.60" y1="650.40" x2="54.80" y2="650.40" stroke="#888" stroke-width="0.5"/>
<text transform="translate(53.20,649.80)" font-size="3.2" text-anchor="end" fill="#999" stroke="#999" stroke-width="0.08">1</text>
<line x1="54.80" y1="650.40" x2="54.80" y2="651.60" stroke="#888" stroke-width="0.5"/>
<text transform="translate(54.80,654.60)" font-size="3.0" text-anchor="middle" fill="#999" stroke="#999" stroke-width="0.08">10</text>
<line x1="53.60" y1="638.40" x2="54.80" y2="638.40" stroke="#888" stroke-width="0.5"/>
<text transform="translate(53.20,637.80)" font-size="3.2" text-anchor="end" fill="#999" stroke="#999" stroke-width="0.08">1</text>
<line x1="66.40" y1="650.40" x2="66.40" y2="651.60" stroke="#888" stroke-width="0.5"/>
<text transform="translate(66.40,654.60)" font-size="3.0" text-anchor="middle" fill="#999" stroke="#999" stroke-width="0.08">10</text>
<line x1="53.60" y1="626.40" x2="54.80" y2="626.40" stroke="#888" stroke-width="0.5"/>
<text transform="translate(53.20,625.80)" font-size="3.2" text-anchor="end" fill="#999" stroke="#999" stroke-width="0.08">1</text>
<line x1="78.00" y1="650.40" x2="78.00" y2="651.60" stroke="#888" stroke-width="0.5"/>
<text transform="translate(78.00,654.60)" font-size="3.0" text-anchor="middle" fill="#999" stroke="#999" stroke-width="0.08">10</text>
<line x1="53.60" y1="614.40" x2="54.80" y2="614.40" stroke="#888" stroke-width="0.5"/>
<text transform="translate(53.20,613.80)" font-size="3.2" text-anchor="end" fill="#999" stroke="#999" stroke-width="0.08">1</text>
<line x1="89.60" y1="650.40" x2="89.60" y2="651.60" stroke="#888" stroke-width="0.5"/>
<text transform="translate(89.60,654.60)" font-size="3.0" text-anchor="middle" fill="#999" stroke="#999" stroke-width="0.08">10</text>
<line x1="53.60" y1="602.40" x2="54.80" y2="602.40" stroke="#888" stroke-width="0.5"/>
<text transform="translate(53.20,601.80)" font-size="3.2" text-anchor="end" fill="#999" stroke="#999" stroke-width="0.08">1</text>
<line x1="101.20" y1="650.40" x2="101.20" y2="651.60" stroke="#888" stroke-width="0.5"/>
<text transform="translate(101.20,654.60)" font-size="3.0" text-anchor="middle" fill="#999" stroke="#999" stroke-width="0.08">10</text>
<clipPath id="c12"><rect x="54.80" y="683.00" width="46.40" height="50.40"/></clipPath><g clip-path="url(#c12)">
<rect x="54.80" y="683.00" width="46.40" height="50.40" fill="#ffffff"/>
<ellipse cx="74.3" cy="722.3" rx="9.5" ry="6.9" fill="url(#scG)"/>
<path d="M78.3 719.3h0m-10.4 1.9h0m24.6 2.8h0m-19.2-3.3h0m-.8 3h0m-5.3-3.9h0m.4 2.5h0m11.1 1.2h0m-3.8-8.1h0m.1 8.6h0m6.4-18.5h0m-9.8 20.6h0m1.6 .5h0m28.8-36h0m-30.9 28.4h0m11.4 2.3h0m-4.1 3.1h0m-5-5.5h0m5.7-.6h0m-12.2 6.3h0m16.7-.7h0m-16.6-5.4h0m6.4-1.5h0m-.3 9.1h0m14.4-7h0m-27 2.4h0m17.8 3.4h0m-8.5 1h0m13.1-7.1h0m1.7 8.8h0m-18.5-5.2h0m1.5 .3h0m24.2-31.9h0m-10.2 34.5h0m-21.3-.4h0m25.4 3.4h0m-19.3-2.4h0m9.7-6.8h0m-15.2 8.1h0m41-32.2h0m-8.1-3.6h0m-10.4 30.7h0m-20.6 5.2h0m9.4-9.5h0m-7.2 .5h0m15.6 9.2h0m-16.3-5.8h0m14.1-.8h0m-11.9 2.8h0m.4-11.4h0m10.8 11.6h0m2.8-5.9h0m-9.1 10.5h0m26.6-34.3h0m-23.8 24.5h0m-4.3-17.3h0m4.7 15.6h0m-1.7 4.2h0m2.5 1.8h0m9.2-5.4h0m3-6.5h0m-4.6 8.5h0m-13.6 .5h0m.6-13.2h0m6.7 23.7h0m18.7-38.5h0m-25.1 24h0m.2 4.5h0m2.6-1h0m25-24.6h0m-27.1 29.5h0m5.7-2.6h0m-7.1-.7h0m29.7-32.1h0m-18.9 29.3h0m1 4.6h0m-12.2-2.9h0m9.4 1.8h0m-4.6 2.1h0m2.2-3.1h0m-6.4 5h0m6.4-3.4h0m-4.9 7.4h0m9.4-.5h0m11.2-24.4h0m-23.4 20h0m11.6 2.7h0m-1.9-3.3h0m6.2 1.4h0m-13.4-7.1h0m-3.7 2.7h0m4.7 .3h0m7.7 5.2h0m-.4-13.2h0m-.1 6.9h0m16.6-27.8h0m-8.1 22.8h0m-24.2 7.2h0m18.8-.7h0m-8.4 4.6h0m4.1-1.8h0m3.5-5.5h0m14.7-24.6h0m-28.9 24.9h0m2.5 3.3h0m9.1-1.9h0m3.4-18.6h0m-13.2 23.8h0m3.1-11.3h0m9.4 6.1h0m-2.5 .8h0m-.7-.4h0m-1.1 10.4h0m1.6-9.1h0m-1.5-4h0m3.8 2.8h0m-1.6-1.4h0m-2.6-.7h0m4.7 6.3h0m-14.4-1.6h0m11-.7h0m-.2-1.5h0m-3.3 3.2h0m-5 3.5h0m8.6-7.8h0m-12.5-2.8h0m1.5 4.4h0m-2.2 9.4h0m16.6-12.2h0m-13.4 .2h0m-1.9 1.5h0m5 3.9h0m-.8-12.6h0m-3 15.6h0m9-30.7h0m-5.2 27.8h0m8.2-1.2h0m-3-8.8h0m-11.2 12.2h0m10.3 .7h0m-10-6.8h0m31.5-34.1h0m-23.2 35.3h0m-7.7 3h0m13.2-8.8h0m-7.3 4.7h0m-4.2-.5h0m3.4-.6h0m15.2-26.4h0m-13.1 23.2h0m9.8 4.7h0m-9.5 .3h0m12-.8h0m-8.8 5.4h0m-6.8-7.3h0m5.8 6.6h0m-1.2 0h0m-2.2-5.8h0m5.2 1.1h0m-.3 2.3h0m2.7 1.4h0m-23.9-8.1h0m9.3 3.6h0m9.7 8.6h0m5.2-5.7h0m-8.4-1.2h0m-.2 1.3h0m6.9 .6h0m-3.2-4.1h0m3.6 1.9h0m10.7-27.8h0m-16.3 25.8h0m1.3 6.8h0m2-4.8h0m4.6-6.9h0m-14.4 11h0m17.8-1.4h0m-8.6-10.6h0m-4 6.9h0m5.4-.1h0m-1.2 1.8h0m4.3-1.6h0m-.1 2.1h0m-6.7-8.7h0m-.8 5.8h0m1.7 7.3h0m20.9-31.7h0m-16.4 30.3h0m-13.2-18.3h0m10 18.3h0m-.6 1.8h0m-10.3 2.3h0m16.4-14.4h0m2.7-5.7h0m-18.1 14.2h0m7.1-1.4h0m-1.5-6h0m-7.8 7.5h0m18.7 3.9h0m2.8-19.3h0m-5.8 12.1h0m-10.2-.8h0m17.9 .8h0m-3.1-3.5h0m-2.7-10.3h0m-7.6 5.9h0m4.6 3.3h0m-8.3 10.9h0m2.9-1.2h0m1.7-16.8h0m5.8 7.6h0m19.4-25h0m-22.5 35.8h0m-8.8-2.3h0m2.1-1.3h0m7.2-9.2h0m-8.5 9.1h0m5.1-3.4h0m-3.5 3.8h0m-.5-4.2h0m6.5-6.1h0m24.3-21h0m-35.9 26.4h0m12.1-.4h0m16.5-29.4h0m-6.7 28.1h0m-11.5 4.1h0m-2.9-5.2h0m-7.4 10.4h0m.3-20h0m-2 19.7h0m5.6-5.2h0m6.9-8.6h0m9.1 5.6h0m-6.1-2.7h0m-.4 7.9h0m-3.7-2.9h0m20.6-28.6h0m-27.3 31.3h0m4.5-2.6h0m8.1 8.8h0m-10.8-8h0m2.7-.6h0m9.5 0h0m8.1-3.3h0m-6.3-5.4h0m-8.4 7h0m16.3-29.3h0m-15.5 23.9h0m-.6 7.3h0m4.3 3h0m-1.4-1.4h0m7.2-6.8h0m-11.1 7.1h0m5-.9h0m-5.1 .4h0m4.1-.2h0m-10.8 .4h0m-1.7 1h0m5.8-.6h0m1.7-7.6h0m-3.9 6.7h0m10.7-1.2h0m14.8-27.7h0m-19.6 27.6h0m-3.1 5.6h0m8.5 8.6h0m-1.3-9.6h0m-3.6-5.4h0m5.2 5h0m-19.7-4h0m19.6 3.5h0m-9.2-8.5h0m2.9 6.7h0m-1.5-1.6h0m-2.6 4.9h0m2.1-9.1h0m10.8 .4h0m-12 6.9h0m5.9-3.5h0m-1.5-12.1h0m-6.4 11.3h0m-3.9 2.9h0m6.8 3.9h0m5.1-2.5h0m-2.1-5.2h0m-9.5 2.3h0m11.1 1.7h0m-.8-8.3h0m2.1 6.5h0m-.7 .5h0m-1.9-4.9h0m-5-2.6h0m4.8 7.8h0m-5.5 .5h0m2.3-.8h0m-1.3-2.9h0m1.7-5.1h0m27.9-24h0m-18.5 31.5h0m-4.1-.6h0m1.6-2.4h0m14.4-25h0m-7.7 31.2h0m-18.2-.2h0m28.3-26.3h0m-22.5 28.2h0m7.4-4.9h0m-.8-4.2h0m-11.1 4.3h0m-1.5-6.1h0m-2.1 6.1h0m-1.1-.1h0m10.3-5.6h0m-5.7 7.8h0m0-10.5h0m1.1 16h0m20.2-25h0m-14.6 21.8h0m-3.4-3.3h0m.3-.7h0m-.4-5.7h0m2 12.6h0m-1.2-5.9h0m.8-2h0m2.3 .5h0m-6.6-2h0m4.9-1.1h0m-4.3 2.8h0m-1-6h0m7.6 10.9h0m-6.6-.7h0m.4-3.7h0m3.5-3.7h0m-.4-16.5h0m1.3 16.7h0m2.5 7.8h0m12.8-3.9h0m-22.8-7.3h0m-3.6 16.1h0m24.4-36.6h0m-12.7 28.3h0m-4.7 4h0m-5.6-7.8h0m14.2 5.6h0m-14.7 2.2h0m7.7-8.6h0m1.4 9.1h0m1.6-6.1h0m-10.6 8.9h0m20.8-35.6h0m14.8-2.7h0m-15.7 30.6h0m-14.2-5.1h0m4 10.4h0m3.5-5.7h0m20.1-30.8h0m-19.6 38.1h0m-6.4-3.4h0m-6.9 6.4h0m9.2-11.7h0m4.6 2.9h0m-11.5 .1h0m25-28.1h0m-22.9 32.1h0m.3-5.3h0m7.4-5.3h0m-5.2 8.7h0m8-5.4h0m-3.7-.5h0m-1.4 5.2h0m1.8 1.1h0m-9.9-8.7h0m6.6 4.1h0m20.7-26.6h0m-21.8 27.1h0m-6.4-.2h0m9.3-.7h0m-4.3-.9h0m1.2-2.2h0m17.6-26.6h0m-21.9 21.8h0m-4.2 8.1h0m25.2-24.5h0m-20.9 22.2h0m6.4 3.6h0m22.1-28.4h0m-19.6 23.4h0m-8.8 6.1h0" stroke="#dd2a20" stroke-width="0.51" stroke-linecap="square" stroke-opacity="0.75" fill="none"/>
<path d="M75.9 726.0h0m5.4 .7h0m9.5-35.4h0m-32.7 41.3h0m21.3-1.9h0m-6.5-8.3h0m-1.8 .4h0m2.9 0h0m1 2.2h0m-5.8-2.2h0m2.4-5.8h0m4.2-.8h0m-.8 .4h0m-8.3 .2h0m28.2-23.4h0m-1.8 3.7h0m-9 18.8h0m-15.2-1.8h0m6.7 15.1h0m-6.2-1.5h0m2.8-4.7h0m.7 1.2h0m.2-4.7h0m2 7.6h0m-1.2-6h0m8.7-2.8h0m-3.7 2.5h0m-4.4 .7h0m-7.6-1.3h0m.3-3.1h0m8.8 7.6h0m10.9-1.5h0m-18.8-2.9h0m14 3h0m-9.1-.5h0m-1.3-4.6h0m-3.2 10.3h0m2.2-3.1h0m1.4 2.2h0m1.2-9.3h0m9.3 6h0m-8 1.1h0m2.4-1.4h0m-16.1-8.2h0m16.4 .9h0m-1.6 3.2h0m-7.9 5.4h0m3.9 2.2h0m-8.1-2.4h0m12.7-5.9h0m1.8 1.6h0m13.5-6.1h0m-19.7 6.3h0m24.2-29.9h0m-31.5 29.2h0m11.5-4.9h0m-2.1-3h0m-5 13.4h0m4.4 2.1h0m-.8-14.1h0m.1 9.7h0m.7 1.2h0m-1.4-1.2h0m.5 1.5h0m6.1-.8h0m-6.7-3.4h0m7.8-.1h0m-7.1 3.5h0m3.7-5.3h0m-3.9-.5h0m-3 2.6h0m-6.9-.2h0m8.8 7.6h0m-3.8-4.5h0m-3.5-.6h0m10.1-9.2h0m-10.2 6.3h0m3.6 .9h0m35.4-29.4h0m-28.8 31.1h0m-3.1-5.3h0m-7.4 .2h0m18.9 9.4h0m2.7-8.2h0m-19.3 1.9h0m.2-.9h0m4.7 .7h0m5.4 .7h0m-.5 2.1h0m-1.1 1.2h0m-5.8 4.2h0m6.8-6.8h0m3.6-.2h0m24-30.7h0m-29.9 29.3h0m.8-4.3h0m16 4.5h0m-24.1 2.5h0m23.9-10.5h0m-23.3-4.7h0m10.3 15.9h0m-7.6-5.2h0m15.9-2h0m-9.8 4.3h0m-6.3 4.3h0m11 3.3h0m-7.1 2.6h0m7.4-14.6h0m-6.1 2.7h0m14.2-23.2h0m-.8 36.1h0m-16.3-12h0m2.6 4.3h0m3.5-3.3h0m-15.3 2h0m18.8-5h0m-4-.2h0m-.8 2.5h0m-2.4 2.4h0m-7.5 .3h0m10.5 3.9h0m-2.1-7.4h0m-13.9-1.7h0m10.3 3.7h0m7.8 2.2h0m-13.5 5.2h0m1.7 1.3h0m28.8-39.2h0m-12.8 34.1h0m-11.4-15.2h0m1.9 18.1h0m6.2 .5h0m.8-7.4h0m-10.1 6.9h0m-4.8-10.3h0m8.9 5h0m4.4-2.6h0m6.6-7.3h0m-2.6 14.9h0m-8.3-4.1h0m5.5 5.4h0m4-6.7h0m-18.4-5.4h0m4.3-15h0m8 20.2h0m2.8-8.4h0m19-19.9h0m-40.1 27.8h0m12.6 3.7h0m3.7-.3h0m21.2-33.2h0m.9 1.7h0m-21.7 27.6h0m-4.3 7.2h0m.3-5.9h0m-3.7 3.3h0m1.3-5.5h0m10.8 8.4h0m-15-11h0m4.6 3.8h0m2.4 2.5h0m.5-2.6h0m1.2 2.4h0m2.8 0h0m-3.7 3h0m-15.2-21.4h0m18.9 7.7h0m19.1-20h0m-22.2 31.4h0m-12.9-5.9h0m22.9 7.2h0m-11.5 0h0m-.5 6.9h0m1.3-8.7h0m6.7 4.7h0m-3.5-5.1h0m-6.4-2.9h0m5.5 .3h0m-.4 2.2h0m-3.8-1.3h0m-.1-.3h0m-4.1 3h0m10.2 3.4h0m-9.1-4.3h0m-4.2-1.9h0m22.6-30.5h0m-21.2 32.2h0m16.6 .1h0m-12.5-2.2h0m3.2-2.5h0m-3.5 7.6h0m2.9 0h0m5.2 1h0m-6.2-11.8h0m8.6 8.5h0m-2.1-5.8h0m-6.2 1.6h0m-.7 4.4h0m-.5-2.2h0m-9.5-18.5h0m9 14.3h0m21.4-25.8h0m-18.8 29.8h0m10.5-2.5h0m-14.2 3.7h0m2.1-10.7h0m6.9 4.1h0m-10.3 10.3h0m3 2.9h0m-5.6-2.8h0m3.9-.4h0m6.5-.9h0m4.8-.9h0m-9.9-1.1h0m2.6 3.9h0m3.1-7.5h0m.3 2.2h0m-1-1.7h0m-3.8-.7h0m2.7 1.5h0m-3 4.7h0m23.3-38h0m-19.8 29.2h0m4.4-2.8h0m3.3 3.4h0m-9-1.8h0m-6 5.4h0m9.6 3.7h0m-1.9-1.8h0m4-2.9h0m-6.4 3.4h0m-10 5.3h0m19.7-7.1h0m-14.3 4.7h0m12-3h0m-15.8-6.2h0m19.8 2.2h0m-2.3 1.9h0m-6.8-7.1h0m-4.9 7.6h0m-4.7 3.2h0m-.5-3h0m3.9 13.3h0m4.1-11.6h0m-4.8 3.2h0m11.9-11.6h0m-7.9 4h0m5.5 .1h0m.9 3.3h0m-4.5-2.1h0m7.9 2.6h0m-1.4-8.8h0m4.1 5.8h0m-11.8 1.5h0m7.1-15.8h0m-.2 19.2h0m1.8 0h0m4.3-12.5h0m5.7-15.2h0m-30.5 3.2h0m14.4 18.7h0m5.3 6.3h0m-1.2-.7h0m-1.6-10h0m-9.9 8.7h0m23.1-29.4h0m-19.8 24.6h0m8.8 5.3h0m-19.2-6.8h0m8.7 10.2h0m4-3.4h0m5.7-6.1h0m2.6 5.2h0m-8-3.8h0m-2.8 1.9h0m4.7-4.1h0m-2.8 3h0m4.4-1.6h0m-2.4 1.3h0m-2.6-2.1h0m3.6-.6h0m4.1 8.3h0m1.9-1.1h0m-8.8 4.4h0m7-2.3h0m-2.5-1.2h0m-15.9-9.8h0m12.8 7.8h0m4.7 2h0m-7.9-.4h0m1.8-6h0m9.9 2.6h0m-11.3-9.7h0m-.7 4h0m-4.5 1.4h0m16.3 1.1h0m-7.3 9h0m-9.4-8.3h0m6.7-.7h0m5.7 1.2h0m-3.2-4.5h0m-7.9 1.1h0m2.3 5.9h0m2.6-5.1h0m-4.4 6.1h0m2.5-.7h0m2.1 8.6h0m7.5-8.7h0" stroke="#dd2a20" stroke-width="0.65" stroke-linecap="square" stroke-opacity="0.75" fill="none"/>
<path d="M84.6 689.7h0m-8.1 31.2h0m24.6-35.8h0m-27.6 39.1h0m.6-1.6h0m18.3-31.1h0m-.1 11.3h0m-4.3 10.1h0m.4 19.7h0m-29.2-36.3h0m12.1 18.8h0m-.7-16.4h0m-14.1 7.4h0m15 16.4h0m-12.5 2.4h0m18.4 1h0m-.2-5.8h0m13.6-18.1h0m-3.8 18.5h0m-15.9-15.6h0m1.7 22.2h0m21.5-37.9h0m-34.1 36.9h0m15.4 .9h0m.6-8.7h0m23.9 10.5h0m-43.4-14.7h0m29.5-12.4h0m3.1-13.4h0m7 21.2h0m-17.8 10.3h0m10 5.2h0m-17.3 6.2h0m22.9-45.1h0m-27.3 34.1h0m14.2 7.6h0m-6.5-7.5h0m-8.8-7.2h0m8.2 10.5h0m-7-3.3h0m10.3 7.4h0m16.7-16.9h0m-31.2 8.9h0m11.5-7.8h0m6 7.1h0m3.9 14.4h0m-19.4-40.5h0m-5 3.6h0m-2-9.7h0m28.1 3.8h0m-7.9-2.3h0m-7.6 8.6h0m7 28.9h0m4.8-9.5h0m-7.7 .3h0m10.8-8.5h0m-7.8 6h0m-2.5-10.8h0m22.3 16.3h0m-37.4-6.5h0m17.5-20.6h0m3.5 37.4h0m-4.8-36.7h0m1.5 29.2h0m-5.5-4.7h0m12.2-14.6h0m-10.3 22.3h0m10.7-14.5h0m.5 8.8h0m-25.7-2.1h0m-.5 7.9h0m12.4 1.4h0m21.4-8.3h0m-35.5-1.8h0m6.3 7.3h0m2.2-4.1h0m31.5-34.1h0m-25.1 32.8h0m22.4 13.5h0m-18.2-48.5h0m16.6-.4h0m1.9 29.8h0m-17.1 6.7h0m-.5 1.9h0m13.3-9.9h0m-12.8 7h0m-6.6 5.7h0m7.5 5.8h0m-7.5 1.9h0m-11.5-30.8h0m22.5 28.1h0m1.9-31.5h0m-16.1 27.1h0m1.8-27.8h0m-1.5 29.4h0m14.5-3.5h0m-23.5-36.8h0m13.2 7.3h0m24.8 35.9h0m-23.5-6.5h0m-5.5-6.6h0m24.7-27.2h0m1.9-1.7h0m-12.5 18.4h0m13.8 13.5h0m-21.9-2.2h0m5.8 5.9h0m-8.9 2.4h0m3.1-7.6h0m27.1-26.4h0m-11.2 28.5h0m-.4-2.5h0m9.5-1h0m-6.2 13.7h0m-19.3-40.8h0m2.2 .6h0m-5.7-5.1h0m10.2 40.9h0m3.5-15.2h0m-10.8 16.1h0m-7.4 .7h0m30.9 5.4h0m-5.6-13.9h0m-33.8-31.9h0m18.6 38.6h0m-4.9 7.7h0m10.6-11.1h0m5.8-14.7h0m-11.3 15.2h0m4.5-9.7h0m-22.4-9h0m14.9 15.9h0m1.1 4.6h0m7.9-35.4h0m-13 35h0m-7.2-2.6h0m16.4-.2h0m-5.2 9.6h0m2.7-10h0m-5.6-24.8h0m-6.9 8.1h0m32.7-10.8h0m-4.1 17h0m6.6 11.6h0m-16-20h0m-1.2 11.1h0m19.4 8.3h0m-19.6-.2h0m15.1-4.5h0m-23.6-13.3h0m15.4 23.7h0m-14-6.6h0m-2.9 3.4h0m-6.2 8.6h0m3.3-5.2h0m-5.3-14.7h0m8.4-4.3h0m2.3 20.3h0m-2.6-16.9h0m1.9 10.8h0m22.6-36.3h0m-14.9 24.2h0m-3.5 18.2h0m-18.8 4.4h0m11.6-15.3h0m7.2 7.7h0m-1.2-.8h0m-17.8-16.9h0m30.3 11.1h0m-30.5 4.9h0m10.9 .2h0m11.2-1h0m-3.2-5.3h0m4.4-12.5h0m-2.5 21.4h0m10.8-.9h0m-3.7-11.1h0m-11.3 15.8h0m-2.7-22.7h0m9.7 6.8h0m-23.5-12.5h0m.1-.9h0m14.9 14.1h0m7.5 11.7h0m14.1-30.6h0m-14.1 6.4h0m3.1 24.2h0m-7.1-25.4h0m-5.4 17.3h0m26.2-17.3h0m-26.6 9.3h0m-3.4 9.3h0m17.5-4.4h0m5.5-6.1h0m-12 19.3h0m-5.8-10.3h0m-1 0h0m24.6 6.3h0m-35.1-18h0m22.5-8.9h0m-23.3-14.3h0m15.1 .8h0m-10.3 38.7h0m11.8-11.3h0m-3.7 13.3h0m-4.5-37h0m24.9 28.9h0m-4.1 7h0m-9.2-.3h0m-21.5-37h0m18 5.7h0m-2.8 29.4h0m2.4 3.3h0m-6.8-3.6h0m9.7 8.3h0m9.2-41.2h0m-11.6 31.8h0m-17.6-26h0m.6 29.9h0m36.2-34.1h0" stroke="#ee6a5a" stroke-width="0.50" stroke-linecap="square" stroke-opacity="0.42" fill="none"/>
</g>
<rect x="54.50" y="683.50" width="47.00" height="50.00" fill="none" stroke="#a4a4a4" stroke-width="1"/>
<line x1="85.50" y1="683.50" x2="85.50" y2="733.50" stroke="#999" stroke-width="1"/>
<line x1="54.50" y1="700.50" x2="101.50" y2="700.50" stroke="#999" stroke-width="1"/>
<line x1="53.60" y1="733.40" x2="54.80" y2="733.40" stroke="#888" stroke-width="0.5"/>
<text transform="translate(53.20,732.80)" font-size="3.2" text-anchor="end" fill="#999" stroke="#999" stroke-width="0.08">1</text>
<line x1="54.80" y1="733.40" x2="54.80" y2="734.60" stroke="#888" stroke-width="0.5"/>
<text transform="translate(54.80,737.60)" font-size="3.0" text-anchor="middle" fill="#999" stroke="#999" stroke-width="0.08">10</text>
<line x1="53.60" y1="721.40" x2="54.80" y2="721.40" stroke="#888" stroke-width="0.5"/>
<text transform="translate(53.20,720.80)" font-size="3.2" text-anchor="end" fill="#999" stroke="#999" stroke-width="0.08">1</text>
<line x1="66.40" y1="733.40" x2="66.40" y2="734.60" stroke="#888" stroke-width="0.5"/>
<text transform="translate(66.40,737.60)" font-size="3.0" text-anchor="middle" fill="#999" stroke="#999" stroke-width="0.08">10</text>
<line x1="53.60" y1="709.40" x2="54.80" y2="709.40" stroke="#888" stroke-width="0.5"/>
<text transform="translate(53.20,708.80)" font-size="3.2" text-anchor="end" fill="#999" stroke="#999" stroke-width="0.08">1</text>
<line x1="78.00" y1="733.40" x2="78.00" y2="734.60" stroke="#888" stroke-width="0.5"/>
<text transform="translate(78.00,737.60)" font-size="3.0" text-anchor="middle" fill="#999" stroke="#999" stroke-width="0.08">10</text>
<line x1="53.60" y1="697.40" x2="54.80" y2="697.40" stroke="#888" stroke-width="0.5"/>
<text transform="translate(53.20,696.80)" font-size="3.2" text-anchor="end" fill="#999" stroke="#999" stroke-width="0.08">1</text>
<line x1="89.60" y1="733.40" x2="89.60" y2="734.60" stroke="#888" stroke-width="0.5"/>
<text transform="translate(89.60,737.60)" font-size="3.0" text-anchor="middle" fill="#999" stroke="#999" stroke-width="0.08">10</text>
<line x1="53.60" y1="685.40" x2="54.80" y2="685.40" stroke="#888" stroke-width="0.5"/>
<text transform="translate(53.20,684.80)" font-size="3.2" text-anchor="end" fill="#999" stroke="#999" stroke-width="0.08">1</text>
<line x1="101.20" y1="733.40" x2="101.20" y2="734.60" stroke="#888" stroke-width="0.5"/>
<text transform="translate(101.20,737.60)" font-size="3.0" text-anchor="middle" fill="#999" stroke="#999" stroke-width="0.08">10</text>
<clipPath id="c13"><rect x="126.00" y="600.00" width="46.40" height="50.40"/></clipPath><g clip-path="url(#c13)">
<rect x="126.00" y="600.00" width="46.40" height="50.40" fill="#ffffff"/>
<ellipse cx="146.0" cy="637.8" rx="9.5" ry="6.9" fill="url(#scG)"/>
<path d="M142.6 638.8h0m1.9-7.5h0m8.5 8.1h0m-7.7 2.7h0m-5.2-10.5h0m13.9 8.6h0m-3.3-4.3h0m7.1-1.4h0m-15.2-1h0m3 8.4h0m.9-8h0m19-25.1h0m6.3 .7h0m-28.3 32.3h0m-11.2-1.7h0m16.3-1.4h0m-1 4.7h0m7.4-4.9h0m-14.2-8.2h0m4.1 4.3h0m-7.6 1h0m11 6.1h0m-1.6 2.1h0m4.1-9.7h0m-3.7 .3h0m15.3-4.4h0m-16.6 7h0m3.6-.7h0m2.7 6.9h0m-1.9-2.5h0m-1.6-6.1h0m-11.6 .7h0m9.9 5.7h0m-.7-6.4h0m-.1 9.7h0m26.7-35.8h0m-31.4 13.6h0m-1.1 14.4h0m5.8 2.2h0m3.2-2.1h0m-14.8 4.4h0m20.1-1h0m-3.9-9.6h0m-8.9 4h0m6.5 2.9h0m3.1-.6h0m9.5-13.9h0m-7.1 5.8h0m8.8 .4h0m-15.9 6.4h0m9 1.1h0m-11.9 1.2h0m1.2-1.9h0m6.5 3.1h0m-10.2-1.1h0m7-5.8h0m-2.5 15.1h0m-1.5-6h0m25.5-32.6h0m-31.5 28.3h0m9.4 1.6h0m-10.3-4.5h0m8.5 9.7h0m-6-11.9h0m21.6 13h0m-12.4-6h0m-9.5 1.9h0m2.3-1.7h0m2.6 5.1h0m5.7-8.8h0m-9.5 5.8h0m12.4-2.2h0m-6.3 5.3h0m-6.1-16.2h0m6.5 18.6h0m-11.1-8.7h0m24.2-7.7h0m-10.9 5.3h0m3.4-2.6h0m-4.7 9.4h0m-1.3 .2h0m4 3.5h0m-9.9-20.8h0m8.7 6h0m7.4 6h0m-16.6 .6h0m20.6-10.9h0m-8.9 12.5h0m1.7-1.5h0m-12.3 .7h0m-1 .4h0m1.6-.4h0m-3.4-5.4h0m3.2 5.4h0m3 .8h0m-.9 3.1h0m-.3-12.9h0m-1.2 11.1h0m1.3 2.7h0m6-10.5h0m-5.8 3.3h0m7 1.3h0m-5.7-.4h0m7.2-14.5h0m-8.9 12.5h0m-8.2 6.8h0m6.5-2.9h0m-4.3 1h0m6.1 2h0m21.9-8.3h0m-20.5-1.8h0m1.9 13h0m15.2-11.7h0m-24.1 2.6h0m9.3 9.3h0m1.9-4.2h0m-7.2-1.8h0m1.2 0h0m5.1 2.3h0m-15.9-5.1h0m12.5 4.1h0m11.8-.4h0m-14-3.3h0m10-2.5h0m20.1-24.4h0m-.5-4.3h0m-33.6 26.9h0m4.1 7.3h0m7.3-11.8h0m-.3 6.8h0m.1 5.6h0m-14.7-2.5h0m8.3 .1h0m-2.1 2h0m14.6-4.6h0m-15.4 8.1h0m9.3-1.9h0m-11-8.3h0m30.8-30.1h0m-23.2 27.9h0m10.3 10.1h0m-13.2-17.8h0m1.2 13.8h0m-11.2-2.1h0m16.6 .2h0m-9.6 4.5h0m9.8 1.1h0m-5.1-6.1h0m23.8-12.5h0m-32.1 15.3h0m12 8.1h0m21.2-33h0m-30.4 18.1h0m10.3 2.4h0m-5.6 7.6h0m4.9 5.3h0m3.7-5.5h0m-4.4 9h0m3.8-5.8h0m-5.4 .8h0m-2.5-1.8h0m8.9-6.4h0m-10.6-12.1h0m-2.5 16.3h0m12.5-2.9h0m14.7-1.8h0m-12.9 7.1h0m-12-17.2h0m-4.7 14.4h0m-.9-5.7h0m10.8 4.9h0m-.2-9h0m6.5 2.9h0m-8.2 5.2h0m-6 4.8h0m6.4-3.6h0m6 2.5h0m-10.2-6.6h0m-.7 2.4h0m-7.9 3.5h0m8.3-3.9h0m-3.7 4.1h0m10.9-4.4h0m-5.9-.9h0m4.2-3.7h0m13-4.8h0m-16.6 11.1h0m24.3-32.6h0m-23.3 34.3h0m-6.9-5.5h0m24.5-11.1h0m-19.6 8.6h0m11.8 5.4h0m-10.6 1h0m7.8 3.8h0m2.9-6.7h0m-12.3 9.8h0m-8.1-2.9h0m7-2.1h0m9.5 .7h0m.7-1.7h0m-12.7-2.9h0m2.9 3.3h0m7.1-4.2h0m-21.7-.8h0m15.8 3.8h0m-4.2-2.6h0m13.3 4.8h0m-6.7-1.8h0m.5 1.4h0m.1-.1h0m1.1-2.6h0m2.4-3.7h0m-1 1.5h0m19.7-25.5h0m-19.6 27.5h0m-3.4 8.8h0m-4.6-15.9h0m4.5 9.2h0m-1.6-11h0m28.9-26.4h0m-29.3 41.7h0m-.3 1.4h0m12.7-6.4h0m-15.9-3.5h0m10.4 1.2h0m-8.6 9.4h0m-1.7-2.6h0m8.5-3.1h0m11.9-6.1h0m1.5 13.1h0m-15-8.3h0m1.1-1.7h0m1.4 5.6h0m-8.2-5.8h0m-5.4-1.7h0m14.8-1.1h0m-11.5 12.4h0m-1.3 1.7h0m10.9-5.4h0m-13.4-5.6h0m19.1 4.4h0m-11.9-1.2h0m2.1-10.3h0m-1.4 8.5h0m-.7-.6h0m13.8 1.1h0m-4.1 1.4h0m-1.6-5.9h0m-2.8 2h0m-11.1-1.3h0m30-2.5h0m4.1-23.2h0m-28.7 25.9h0m5.4 6.1h0m16-35.2h0m0 42h0m-20.5-13.3h0m2.2 3.7h0m-6.2 2.7h0m12.9-19.3h0m7.8 17.7h0m-14.3 5.7h0m.1-8.7h0m2.4 3.6h0m-2.3-10.1h0m24.5-24.6h0m-27.7 28.9h0m13.2 2.6h0m-7.1 5.4h0m-12-10.7h0m8 2h0m23.8-25.6h0m-14.3 28.6h0m-2.4 3.2h0m-1.3-2.4h0m-.9 1.4h0m-7.7-4.5h0m12.3 3.3h0m-4.9-.4h0m-3.7-1.8h0m23-28.3h0m-20.6 30.4h0m-10.7-2.3h0m18.3-10.8h0m-3.2 12.7h0m-9.4-2h0m-2.4-1.9h0m8-.3h0m1.5 14.9h0m-6.6-14.5h0m1.1 2.1h0m-6.3 3.2h0m3.8 .1h0m7.3-5.1h0m1.6 9.2h0m7-7.3h0m-12.2 1.5h0m-6.4-4.4h0m6.7 7.2h0m10.4-.9h0m-7.6 4.3h0m-.1-.9h0m6.3-5.5h0m5.4 2.2h0m9.6-31h0m-22.1 26.4h0m-6.3 8.9h0m-1.5 2.3h0m-.1-3.7h0m15.9-7.2h0m-9.8-4.4h0m-2.8 10.2h0m17.3-.6h0m-7.2-15h0m-12.4 14.8h0m29.4-4.8h0m-25.3-2.3h0m-12.2 3.8h0m10.6 .7h0m-.9-4.5h0m30.2-28.8h0m-23.6 41.4h0m-11.8-1.4h0m13.2-.7h0m-10.8-7.8h0" stroke="#dd2a20" stroke-width="0.51" stroke-linecap="square" stroke-opacity="0.75" fill="none"/>
<path d="M154.7 637.0h0m14.4-28.8h0m-19.5 20.4h0m.1 8.7h0m-7.1-1.9h0m-6 10.8h0m9-6h0m.5-4.5h0m-4.2 7h0m3-8.7h0m-4.6 5.2h0m6.4-5.1h0m-9.9 3.2h0m9.4 6h0m4.5 1.4h0m-4.1-13.3h0m-3.8 5.7h0m2.3-4.8h0m3.4 9.5h0m-3.7-7h0m2.7 4.5h0m-5.2 7.6h0m4-7.5h0m-7.8 2.4h0m14.2-3.1h0m-3.4 3.6h0m-7.4-6.5h0m-.9 .6h0m3.4-3.5h0m-.8 5.6h0m5-1.7h0m-3-.8h0m-2 0h0m5.9-3.8h0m3.6 8.6h0m-10.6-4.4h0m6.1 2h0m-4-5.2h0m-5.3 2h0m16.5 8.5h0m-24.2-15.5h0m7.2 7.4h0m9.1 5.5h0m-1.4-6.1h0m3.9 7.2h0m-2.6-10h0m-1.6 5.9h0m3.4-1.9h0m1.9 5.3h0m-17.5-10.1h0m23.5 4h0m-21.7-4.2h0m11.4 3.1h0m-2 7.4h0m8.7-8.3h0m-5.2 4.5h0m22.8-30.8h0m-27.7 27.8h0m4.9 4.5h0m-.1-3.2h0m-10.3 2.7h0m10.8-2.3h0m-.1 10.3h0m-13.8-15.3h0m5.4 1h0m-1.3 9.5h0m5.7-.9h0m1.9-8h0m-9.1 5.3h0m16.8-12.3h0m-8.4 12.7h0m13.6-5.1h0m-6.6 4.9h0m-9.9-4.7h0m-.6-.1h0m4.4 1.1h0m-2.4 5.2h0m11.4-6.4h0m-7.7-.8h0m-5.2-.2h0m1.5 9h0m4.4-3.3h0m-.5 2.4h0m-3-4.6h0m6 .1h0m4.4-12h0m-12.8 10.7h0m2.5-3.4h0m-5.1 5.9h0m-1.1 3.5h0m5.9-10.2h0m5 10.2h0m-2.9-3.5h0m-3.6 2.9h0m4.9-8h0m-15-2.5h0m15.2 .8h0m4.7-8h0m-8.2 8.3h0m.4 12.8h0m6.5-9.2h0m-8.7 4.1h0m-7.4 3h0m14-1.5h0m-10.5 .8h0m32.1-31.5h0m-19.4 31.1h0m-3.2-1.5h0m6.4 7.1h0m-17.9-9.9h0m14.1 .2h0m-6.8 1.5h0m4.2 4h0m-6.1-14.4h0m5.7 7.7h0m3.2 7.3h0m21.3-38h0m-25.7 34.4h0m-3.2-3.4h0m12.2-2.3h0m-4.8 4.2h0m-5.7 7.2h0m-4.9 2.1h0m2.6-3.8h0m6-3.7h0m-5.5 3.2h0m5.2-7.7h0m4.7-6.1h0m-14.5 11h0m33.1-30.8h0m-23.5 30.4h0m-.8-6.7h0m2.9 7.7h0m.2 .6h0m-7.1-5h0m5.1 6.3h0m4.6-2.4h0m.5-5.9h0m-23.1 1.2h0m16.7 1.4h0m1.3-1.2h0m5.6 3.1h0m-9.6 6.1h0m-3.7-3.5h0m1.7-5.1h0m-4.8 3.5h0m-.9-2.5h0m20.5 4.4h0m-19.3-12.4h0m26 1.3h0m-29.2 10.3h0m11.1-.1h0m-2.4 1.3h0m-.8-1.2h0m-4.9 .9h0m3-5.2h0m2-1.2h0m2.5-.2h0m7.2-7.3h0m-9.6 22h0m.1-13.8h0m.7-1.6h0m9.2-.7h0m-1.5 2.7h0m.8 7.4h0m-14-.4h0m5.8-8.6h0m.2 3.3h0m7.6-3.2h0m-12.7 0h0m11.5 2.9h0m12.4-6.8h0m-14.6 7.7h0m2.9 9.7h0m-8-5.7h0m-4.6-4.2h0m-.3-2h0m2.7 3.7h0m-5.6 1.3h0m8.6-2.1h0m-2.7-3h0m9.9 8.4h0m-13.6-3.1h0m6.3-.1h0m5.8 4.5h0m.8-10.6h0m.1 10h0m-5.5-4h0m-8.7-9.8h0m8.2 9.4h0m-1.1-1.2h0m7.8-5.1h0m-4.7 3.4h0m-3.4 1.7h0m24.9-2.9h0m-20.3-7.1h0m-.2 8.2h0m16.7-31.9h0m-10.9 37.6h0m-11.5-8h0m-.3 3.1h0m-.8-.4h0m-7.8 .6h0m14.4 3.4h0m-12-3.7h0m9.6 .4h0m3.3-10.1h0m7 6.8h0m13.8-21.4h0m-27.9 21.8h0m.1 2.7h0m-3.7-14.3h0m3.8 7.6h0m-3 1.3h0m3.5 6.4h0m-3.9-4.8h0m10.2 .7h0m-15.8-1.3h0m8.8 3.4h0m16.4-13.7h0m-19-1.1h0m.9 6.7h0m8.9 10.6h0m-7 4h0m7.1-9.8h0m9.8 8.7h0m-5.3-.5h0m-7.1-4.9h0m-2.2 1.8h0m4.6 6h0m-6.8-11.1h0m13.7-9.5h0m-4.6 8.6h0m-10.6 4.4h0m-10.7-6h0m8.9 3.9h0m7.2 4.3h0m-1.1-.7h0m2 5.6h0m18.5-23.5h0m-24.3 16.9h0m4.4 9h0m-.1-5.8h0m-.2 3.2h0m-9.8-6.6h0m18.2-2.8h0m-.5 8.1h0m-.7-8.8h0m-9.6 6.2h0m-10.6-.7h0m27.5 .1h0m5.6-7.9h0m-31.3 2.8h0m15.6-1.7h0m-10.2 3.9h0m18.6 .2h0m-7.7-2.3h0m-4.4 6.1h0m-6.5-1.1h0m10.6-18.2h0m.7 17.6h0m-12.4-5.9h0m12-2.5h0m-5.8 6.8h0m5.2-1.3h0m-7.8 6.5h0m10.7-9.4h0m-12.3 5.5h0m14.8-16.3h0m-12.1 14.3h0m3.9 1.8h0m5.3-1.1h0m2.9 1.7h0m-21.6-.8h0m6.1-6h0m7.5 2.3h0m7.5 3h0m-13.1 3.1h0m-10-19.1h0m20.7 11.2h0m-12.7 3.3h0m-3.5 .1h0m8-1.5h0m11.2-3.4h0m2.5 8.5h0m-12-19.5h0m-7 16.2h0m13.4 .5h0m-7.7-2.5h0m3.5 .3h0m-.8-4.8h0m-1 9.1h0m8.7 2.2h0m-20.9-4.9h0m33.1-27.2h0m-25.8 26h0m7.7 2.1h0m-5.9-2.8h0m8.2 5h0m-15.3 5.6h0m6.3-10.9h0m16.5-.7h0m-4.4 3.1h0m-.8-3.1h0m-11 3.6h0m-4.9-10.7h0m33.6-16.1h0m-23.7 29.1h0m-3.7-.6h0m11.9-5.4h0m-12.5 3.7h0m-1.1 1.1h0m-1.5-2.2h0m12.7-.4h0m-4.6-1.3h0m-16.4 2.5h0m1.8-1.9h0m5.5-2.2h0m4.7 4.5h0m2.6-3.1h0m7.2 2.8h0m-12.4 4.1h0m.3-1.1h0m3-6.4h0" stroke="#dd2a20" stroke-width="0.65" stroke-linecap="square" stroke-opacity="0.75" fill="none"/>
<path d="M145.2 643.7h0m4.6-8.8h0m-13.3-11h0m27.7-13.3h0m-19.2 26.8h0m-5.6-5.9h0m32.6-23.3h0m-7.6 16.4h0m-10.8 13.8h0m-7.5-37.4h0m3.8 39.2h0m8.2-6.6h0m-7.3 14h0m-15.4-20.5h0m10.6 12h0m-6.5 11.2h0m3.5-16.5h0m10.9-4.3h0m3.5-9.3h0m-2.6 15.7h0m-14.7 1.4h0m-1.7-9.1h0m1.6 15h0m11.3-32.6h0m9.6 6.8h0m-21.1 26h0m13.5-41.6h0m-16.5 29.2h0m9.8 2.4h0m-10.3 .2h0m-.6 3.3h0m34.5-31.5h0m-41.1 37.6h0m9.4-1.1h0m7.5-6.5h0m15-24.3h0m-31.6 22.1h0m21 1.1h0m1.8 7.2h0m.8-8.1h0m-20-31h0m37.3 6.4h0m-27.5 27h0m-7.7 14.1h0m35.2-41.9h0m-24.7 25.5h0m22.3-18.5h0m-21.2 19.9h0m2.2-26.4h0m-16.4-.8h0m16.6 31h0m-2.3-6.2h0m-18 6.3h0m20.5-28.8h0m-2.9 33.1h0m6.3-13.9h0m19.3-5.1h0m-27.3 1.1h0m19.4-14.3h0m-15 21.3h0m20.3-17h0m-15.6 21.8h0m13.7-5.9h0m-13.6 8.3h0m2-24.2h0m1.8 8.3h0m-24.1 13.5h0m12.7-9.9h0m-1 14.3h0m11.7-26.3h0m-5.1 20.3h0m14.3-28.9h0m-18.6 36.3h0m0 6.1h0m-18.4-6.8h0m30.7 0h0m9.5-39.6h0m-13.5 7.1h0m12.2-2.3h0m-40.4 .9h0m14.5 30.1h0m18.8 11.9h0m-9-19.6h0m-8.2-18.6h0m-5.5 17.3h0m21.1 7.1h0m-9.4 9.3h0m-12.2-14.7h0m29.9 4.6h0m-20.6 6.8h0m-19-27.3h0m5.6 2.7h0m-2.2 3.3h0m7.1 11.5h0m30.3-25.1h0m-28-6.1h0m30.9 41.8h0m-42.7-40.8h0m15.5 8.8h0m14.7 33.9h0m-11.4-14.1h0m-8.4 11.2h0m-7.1 7.1h0m22.8-10.4h0m-13.2-4.7h0m-2.5-1.3h0m-10.8-23.3h0m14.7 23h0m23-5.3h0m-11.4 10.9h0m-20.6-35.4h0m4.1 40.2h0m1.5-3.4h0m26.3-16.4h0m-6.9 22.9h0m-29.9-7.4h0m18.5 6.4h0m22.2-35.7h0m-33.4 10.2h0m26.9 19.4h0m-22.8 5.1h0m30.6 1.1h0m-8.5 2.5h0m-18.9-9.6h0m7.7 1.1h0m-23.5-24.3h0m21.3 28h0m9.4-24.4h0m-12.3 17.5h0m-10.8-34.4h0m1.5 37.6h0m28.9-10.7h0m-.4-1.6h0m-25.3 5h0m-11.8 16h0m43.1-39.8h0m-44.8 8.5h0m21.2 20.8h0m-7.3-10.5h0m23.2 3.8h0m-16-10.7h0m-7.2 17.4h0m-2.1 8.1h0m-7.6-5.8h0m12.2-7.4h0m5.7 3.5h0m-17.3-12.7h0m18.1-3.1h0m-7.5 18.5h0m27.1-13.7h0m-25.5 16.5h0m-5.6-25.8h0m15.2-1.5h0m-18.9 12.6h0m16.1 10.5h0m-11.3-34.2h0m3 35.1h0m25.2-6h0m-25.2 11.3h0m5.8-12.8h0m2.4 3.3h0m16.8-22.4h0m-20.7 20.7h0m1.8 3.8h0m-8.4 4.6h0m30.8-10.7h0m-17.7 10.6h0m1.6 .6h0m-10.7-3.5h0m-3.5 6.4h0m3.2-10.1h0m-10.8-17.8h0m9.5-6.8h0m12.9 32.4h0m-25-32.3h0m12.2 1.8h0m-10 13.4h0m39.6 24h0m-40.6-46.4h0m23.4 36.6h0m10.7-38.4h0m-23.1 43.4h0m-4.3-30.6h0m1.3 20.7h0m4.2-.1h0m25.4 12.8h0m.2-16.2h0m-17-5.8h0m-25 13.9h0m11.3-.4h0m-11.2-8h0m13.9 13.2h0m9.5-35.6h0m-6.7 39.1h0m17.4-46.1h0m-16.7 1h0m12.2 1.7h0m-15.2 44.6h0m20.6-29.2h0m-13.2 .1h0" stroke="#ee6a5a" stroke-width="0.50" stroke-linecap="square" stroke-opacity="0.42" fill="none"/>
</g>
<rect x="126.50" y="600.50" width="46.00" height="50.00" fill="none" stroke="#a4a4a4" stroke-width="1"/>
<line x1="155.50" y1="600.50" x2="155.50" y2="650.50" stroke="#999" stroke-width="1"/>
<line x1="126.50" y1="617.50" x2="172.50" y2="617.50" stroke="#999" stroke-width="1"/>
<line x1="124.80" y1="650.40" x2="126.00" y2="650.40" stroke="#888" stroke-width="0.5"/>
<text transform="translate(124.40,649.80)" font-size="3.2" text-anchor="end" fill="#999" stroke="#999" stroke-width="0.08">1</text>
<line x1="126.00" y1="650.40" x2="126.00" y2="651.60" stroke="#888" stroke-width="0.5"/>
<text transform="translate(126.00,654.60)" font-size="3.0" text-anchor="middle" fill="#999" stroke="#999" stroke-width="0.08">10</text>
<line x1="124.80" y1="638.40" x2="126.00" y2="638.40" stroke="#888" stroke-width="0.5"/>
<text transform="translate(124.40,637.80)" font-size="3.2" text-anchor="end" fill="#999" stroke="#999" stroke-width="0.08">1</text>
<line x1="137.60" y1="650.40" x2="137.60" y2="651.60" stroke="#888" stroke-width="0.5"/>
<text transform="translate(137.60,654.60)" font-size="3.0" text-anchor="middle" fill="#999" stroke="#999" stroke-width="0.08">10</text>
<line x1="124.80" y1="626.40" x2="126.00" y2="626.40" stroke="#888" stroke-width="0.5"/>
<text transform="translate(124.40,625.80)" font-size="3.2" text-anchor="end" fill="#999" stroke="#999" stroke-width="0.08">1</text>
<line x1="149.20" y1="650.40" x2="149.20" y2="651.60" stroke="#888" stroke-width="0.5"/>
<text transform="translate(149.20,654.60)" font-size="3.0" text-anchor="middle" fill="#999" stroke="#999" stroke-width="0.08">10</text>
<line x1="124.80" y1="614.40" x2="126.00" y2="614.40" stroke="#888" stroke-width="0.5"/>
<text transform="translate(124.40,613.80)" font-size="3.2" text-anchor="end" fill="#999" stroke="#999" stroke-width="0.08">1</text>
<line x1="160.80" y1="650.40" x2="160.80" y2="651.60" stroke="#888" stroke-width="0.5"/>
<text transform="translate(160.80,654.60)" font-size="3.0" text-anchor="middle" fill="#999" stroke="#999" stroke-width="0.08">10</text>
<line x1="124.80" y1="602.40" x2="126.00" y2="602.40" stroke="#888" stroke-width="0.5"/>
<text transform="translate(124.40,601.80)" font-size="3.2" text-anchor="end" fill="#999" stroke="#999" stroke-width="0.08">1</text>
<line x1="172.40" y1="650.40" x2="172.40" y2="651.60" stroke="#888" stroke-width="0.5"/>
<text transform="translate(172.40,654.60)" font-size="3.0" text-anchor="middle" fill="#999" stroke="#999" stroke-width="0.08">10</text>
<clipPath id="c14"><rect x="126.00" y="683.00" width="46.40" height="50.40"/></clipPath><g clip-path="url(#c14)">
<rect x="126.00" y="683.00" width="46.40" height="50.40" fill="#ffffff"/>
<ellipse cx="145.5" cy="720.3" rx="7.9" ry="10.3" fill="url(#scG)"/>
<path d="M142.9 727.0h0m4.8-2.4h0m3 4.6h0m-4.7-2.9h0m8.1-13.1h0m-6.1 11.3h0m1.8-5.8h0m-2.3 8.7h0m-7.1-1.1h0m16.4-13.6h0m-16 7.8h0m-2.1-5.7h0m12.3 2.9h0m-10.9 5.7h0m14.1 2.4h0m-8.4-.1h0m-7.8-6.7h0m2.9 5.2h0m2.9 5.9h0m21.3-37.7h0m-18.7 25.8h0m-1.5 2.8h0m3.6-2.8h0m18.7-28.8h0m-19 27.9h0m.9 7.7h0m15.6 .8h0m-11.6-1.2h0m-9.5 .2h0m1.4-7h0m17.1-27.1h0m-4.8 29.3h0m-18.3 1.8h0m10.9 9.3h0m-4-9.2h0m6.8-13.3h0m-16.1 9.1h0m15.3-5.5h0m-7.4 4h0m2.8 3.8h0m-12.7-11.9h0m8.8 5.9h0m6.8 6.8h0m-6.5 1.4h0m3.6-2.7h0m15.1 1.7h0m-16.9 10.1h0m-10.6-12.8h0m11.5 16.2h0m-10.2-12.1h0m12.3-12.3h0m-.7 10h0m1 8.2h0m-3.8-10.9h0m-7.4 4.9h0m20.3-14.4h0m-20.7 6.6h0m12.6 8.9h0m-10-2.6h0m5.9 1.4h0m-1.2-.8h0m-1.2 4.7h0m-1.8-12.8h0m2.8 3h0m3.6 6h0m-8.2-1.3h0m8.6 4.2h0m-7.8-11.1h0m16.6-1.7h0m-18.5 17.8h0m6.4-6.1h0m2.8 0h0m-1.4-6.4h0m21.1-8.4h0m-26.4 14.1h0m12.4-.3h0m-8.3-5.6h0m26.1-24.1h0m-21.5 27.5h0m-10.4 2.4h0m7.1-2.9h0m-2.5 6.9h0m7-6.5h0m-11.4-7.3h0m3.4 8.2h0m3.3-3h0m-2.6-9h0m-1.1 10.7h0m-1-3.4h0m-2.6 .8h0m7 12.7h0m-4-20.5h0m7.7 10.3h0m6.3 1h0m-14 4.8h0m5.9-.3h0m2.9-.6h0m-10.4-12.6h0m4.5 2.3h0m14.9-19.9h0m-16.9 28h0m7.1-3h0m-4.9-6.7h0m28.2-.1h0m-22 15.7h0m.2-8.4h0m-11.4-5.5h0m26.7-24.5h0m-15.7 27.8h0m16.3-5.7h0m-21 5.5h0m3.6 9.9h0m15.5-28.5h0m-19.9 25.7h0m-5.9 7.1h0m18.8-6.6h0m-7.2-1.3h0m-2.8 1.6h0m-6.4-3h0m5.1-4.1h0m-2.3 1.4h0m-8-4.5h0m3.3 2.3h0m1.6 .5h0m2.5-2.5h0m.8-.1h0m11.1-15.3h0m-14.3 8.4h0m1.6 15h0m.8-6.7h0m.1-1.5h0m2.2-1.4h0m3.6 3h0m2.6 10.2h0m14.9-34.7h0m-19.9 25.8h0m4 1.9h0m-13 .3h0m3.1-2.1h0m25.3-3.7h0m-16.3 8.4h0m-7.4 1.7h0m3.1-16.9h0m-13.3 7.3h0m13.5-2.3h0m.5 3.1h0m3.8 5.5h0m-1.9 0h0m-8.5 5.9h0m12.9-4.5h0m-15.3 9h0m8.4-20.5h0m-7.6 5.6h0m4.1 2.4h0m5.6-.1h0m23.6-29.9h0m-26.9 14.8h0m.7 16.5h0m11.9-10.1h0m-4.2 13.1h0m-6.2-10.8h0m.6 1.6h0m-9.6 2.6h0m7-1.2h0m11.5 1.5h0m-2.1 10h0m-10.1-19.5h0m-.5 12.2h0m.9-1.2h0m-.6 14h0m.8-17.5h0m4 4.3h0m-6-2.7h0m27.4-29.9h0m-12.1 2.8h0m-15.7 21.9h0m4.1 6.5h0m2-1.1h0m-7 9.9h0m2.2-11.7h0m7.6 5.6h0m-9-3.9h0m3.4 8.5h0m3.1 3.2h0m-5.7-1.4h0m1 .5h0m5.2-10.1h0m-12.1-.8h0m8.8 1.6h0m.6-8.9h0m15.3-16.9h0m-19.5 29.8h0m6.4-5.9h0m23.5-25.8h0m-20.4 20h0m-2.9 13.4h0m9.4-4.5h0m-13-.8h0m2.6 5.8h0m-4.9 5.4h0m-8.2-3.5h0m13.8 .5h0m13.8 2.3h0m-14.8-11.4h0m20.3-24.8h0m-18.2 23.3h0m-5-4.6h0m10.6 8.2h0m-14.4 3.7h0m6.6-5.1h0m-4.7-3.6h0m3.1 8h0m14.5-28.6h0m-4.1 18.6h0m-4.1 6.1h0m-10.3-1.6h0m3.6 3.6h0m1.8 .7h0m.4 3.2h0m-6.1-11.7h0m-4.8 12.9h0m2.3-5h0m12.9 .5h0m-9.2 3.7h0m-.7-11.7h0m5.2 .3h0m-8.2 3.7h0m5.2 2.6h0m-7.6 7.3h0m10.6-1.7h0m-7.9-6.2h0m11.9-12.8h0m-17.2 18.9h0m6.6-5.1h0m10.7-1h0m-1.4 7.3h0m6.4-7.3h0m-13.6-5.9h0m19.3 6.3h0m-5.3-9.6h0m-21.2 8.7h0m21.7-8.2h0m-18.7 15.1h0m.4-.1h0m19.2-13.3h0m-13.2 1h0m.5 10.8h0m6.8-3.5h0m-10.3-9.4h0m4.9 7.6h0m-12.5-11.5h0m4.7 12.4h0m.2 2.4h0m1-.9h0m25.1-31.8h0m-20.2 37.9h0m-4.7 1.9h0m-.2-12.3h0m5.7 6.6h0m4.2-3.3h0m-6.8-5.6h0m-4.5 3.9h0m-.1 .7h0m25.1 7.6h0m-21.7-4.2h0m1.2-15.7h0m12.2 6.5h0m-9.5 11.2h0m-4-16.3h0m16.1 17.3h0m-10.5-9.7h0m1.2-.3h0m-3.6 3.6h0m12.1 11.6h0m-4.1-35.7h0m-10.2 20.6h0m0 .7h0m9.4 1.8h0m-12.3-2.2h0m14.4 13.3h0m-9.3-8.5h0m1.9-6.5h0m.6 4.9h0m-8.5-9.6h0m5.8 7.1h0m1.3 3.9h0m-1.2 7.2h0m23.3-18h0m-25.6 8.4h0m4.8 0h0m10.9-1.3h0m-7.3 1.1h0m-12.2-6.8h0m1-4.2h0m8.4 16h0m-7.3-9.5h0m8.5 8h0m-11-3.2h0m9 2.5h0m-3.2-8.5h0m20.4-26.5h0m-18.4 45.2h0m-3.5-18.1h0m1.6 5.5h0m.2 6.1h0m-3-11.1h0m.5-9.3h0m21.3 13h0m-29.9-.6h0m6.8-6.1h0m2.1 1.1h0m7.2 7.7h0m-3 9.4h0m-2.7-12.9h0m4.2 4.3h0m-5.3 2.2h0m17.3-30.1h0m-16.1 26.5h0m6.4-.4h0m-9 1.1h0m9.1-6.9h0m-.6 4.3h0m1.3 7.9h0m-10.8-14.6h0m13 4.1h0m-7.7-2.2h0m-1.5 2h0m-.1 2.8h0m2.7 10.1h0m5.5 2.1h0m-14-25.8h0m4 24.4h0m.1-14.7h0m4.8 17.9h0m-4-6.4h0m-2.5-10.9h0m4.8 11.3h0m-1.8-17.2h0" stroke="#dd2a20" stroke-width="0.51" stroke-linecap="square" stroke-opacity="0.75" fill="none"/>
<path d="M145.5 724.6h0m-.7-6.6h0m5.5-7.6h0m-5.8 6.8h0m8.1 8.4h0m-10.4 1.5h0m.3-6.6h0m.9-15.2h0m16.4 7.8h0m-6.5 11.8h0m-8.5 7.8h0m-1.4-4.4h0m13.1-14.4h0m-10 2.5h0m-4.1 14.3h0m1.7-2.8h0m1-12.2h0m20.3-23.1h0m-20.3 22.3h0m-.7 11.5h0m22.1-10.8h0m-18.4 1.5h0m-5.8 6.3h0m7.5 2.7h0m-9.4 .9h0m16-7.6h0m-26.7-2.7h0m37.4-25h0m-31.8 37.9h0m8.3-4.3h0m.4-2.9h0m22.8-22.5h0m-22 17.4h0m-.3 2.9h0m4.9-1.2h0m-3.4 .8h0m1.9 7.1h0m-8.6-1.6h0m4.1-3h0m6.6 1.2h0m-6.2-2.1h0m-4.4-1.9h0m5.6-4h0m-8.6 12.4h0m.8 4.8h0m6.9-14.9h0m.3 10.8h0m4.6-18.3h0m-1 4.1h0m-7.5 10.3h0m6.2-6.4h0m9.6 2.9h0m-13.9 4.5h0m-1.1-.5h0m17.7-13.3h0m-12.6 10.2h0m.2-2.3h0m5.3 .1h0m-4.9-1.8h0m-6-.6h0m3.3 2.4h0m-1.5 2.3h0m-6.9 4h0m-.1-2.4h0m6.7 11.1h0m3.4-9.1h0m-5.3-9.3h0m12.1 13.6h0m1.4-13.2h0m-7.1 11.4h0m-.1-14.6h0m-9.5 6.8h0m9.7 6.3h0m22.2-34.4h0m-23 30h0m-7.6-4.3h0m10.5 .4h0m-3.9-.2h0m1.1-13.8h0m4.1 8.9h0m-8.8 15.2h0m-.1-8.4h0m7.4-.3h0m-4.8 5.9h0m9.7-4.3h0m-7.7 4.5h0m-.4 5.3h0m4.4-7.1h0m-7.3-11.5h0m-1.9 10.1h0m-5-16.2h0m10.9 2.6h0m-4.5 8.6h0m-1.5 2h0m19.4-4.6h0m-18.5 4.8h0m3 .5h0m.1 4.3h0m-7-9.4h0m14 4.9h0m-2.1-9.9h0m-9.2 13h0m1.7-15h0m-1.5 14.8h0m4.2 .6h0m-5.4-5.1h0m15.9-2.3h0m-4.5-6h0m-1.8 8.1h0m-15.3 12h0m5.3-16.1h0m6.3 10.5h0m2.8-.5h0m-3.3-9.1h0m3.5 7h0m-1.8-4.6h0m-1.5 1.6h0m-.8-1.9h0m-2.1 6.5h0m5.7-12h0m-9.9 21h0m-7.3-5.5h0m20.6-5.8h0m-8 3.1h0m5.6-.5h0m-11.7-9.7h0m16.7 3.6h0m-9.9 11.8h0m2.2-20.9h0m-.9 21.4h0m-1.7-12.4h0m-7.2 1h0m27.9-24.9h0m-16.4 24.8h0m-.8-2.7h0m-4.7 .3h0m-6.5-.6h0m12.4 12.7h0m1.2-7.3h0m-3.9-11.8h0m9.6-.2h0m-11.5 20.6h0m3-6.3h0m-8.6-4.4h0m5.3-1.6h0m1 1.2h0m.3 7.3h0m1.9 1.4h0m-8.1-7.9h0m1.9 1h0m-2.9 .4h0m34.2-34.3h0m-17.4 29.2h0m-6.4 12.1h0m-.2-1.6h0m-5.9-1.5h0m14.8-21.4h0m-7.9 19h0m-8.1-2.4h0m1.5 3.9h0m2 4.7h0m-5.4-5h0m33.4-31.8h0m-22.7 34.4h0m-7.8-.5h0m3.3 2.6h0m-9.9-8.6h0m14.9-2.4h0m-9.6 2.4h0m2.3 1.8h0m1.5-12.5h0m11 6.3h0m-13.8-.9h0m6.5 7.2h0m.8-2.6h0m-1.5 7.8h0m-3.8-1.2h0m1-16.1h0m2.5 20.8h0m-2.2-15.8h0m6.4 4.3h0m-3.1-6.9h0m-9.2 7.5h0m8.4 .4h0m-6.7-2.7h0m3.9 4.3h0m-3-1.8h0m6.7 1.6h0m-9.9 10.3h0m28.5-40.3h0m-16.7 23.9h0m-9.4-8.1h0m2.3 21.1h0m1.8 .8h0m9.7-29.1h0m15.6-4.9h0m-29.5 34.4h0m-3.4-15.9h0m11.8-2.5h0m-2.4 5.3h0m-4.9 .9h0m-3.2 3.8h0m16.6 .8h0m-3.3-8.2h0m.4 6.4h0m-2.3-1.7h0m-4.9-.3h0m-6.1-2.1h0m14.8 12.7h0m-6.1-19.5h0m-4.3 4.6h0m24.3-19.9h0m-19.3 16.9h0m-6 24h0m10.6-14.6h0m-3.6 5.8h0m1.4-.5h0m-9 2.9h0m9.7-3.2h0m19.6-36.8h0m-23.2 37.9h0m-1.2-7.6h0m20.4-28.8h0m-20 24.1h0m-4.3 16.3h0m5.2-24h0m-4.2 15.2h0m-.2-5.8h0m-3.5-3.4h0m3.9 3.7h0m.3-1h0m.3 8.9h0m2.1-4.8h0m-2.1 1.9h0m-4.3-3.8h0m7.6 4h0m-5.5-.1h0m22.3-25.7h0m-14 26.2h0m-10.4-9.8h0m-2.4 .7h0m15.1 2.9h0m-6.9 8.3h0m8.8 1.7h0m-7-2.5h0m.6-7.9h0m-6.4 4.7h0m-.2-12.9h0m10.7 22h0m6.1-17h0m-6.7 14.9h0m-4.6-22h0m-8.3 10.4h0m6.5 19.3h0m-2.5-19.3h0m-3.5 5.4h0m8.2 1.6h0m-5.4-12.3h0m28.6-14.1h0m-14.8 20.6h0m-9.3 1.7h0m2.9 1.8h0m-3.6 2.7h0m6.6 2.2h0m10.4-30.2h0m-21.4 21.4h0m-1.5 8.8h0m-.6-9.3h0m8.7 1h0m-7.9 12.7h0m23.5-19h0m-13.5 8.3h0m19.7-24.6h0m-31.6 32.2h0m2.8-16.8h0m15.9-6.6h0m12.2-9.6h0m-17.7 35h0m-9.3-7.6h0m4.5 6.7h0m-.4-14.5h0m-3.6 5h0m22.6-28.7h0m-20 28h0m7.2-2h0m-13.6 13.7h0m6.1-10.3h0m-1.2 .5h0m1.8 3.2h0m-6.2-6.2h0m2.1 5h0m1.2 10.2h0m13.4-9.4h0m-11.3 .7h0m-5.9 .3h0m3.4 .9h0m12.9-6.8h0m-9.3 3.3h0m-5 .9h0m1.3-7.8h0m25.8-23.1h0m-27.6 25.4h0m1.6 7.6h0m1.9-6.1h0m-7 19h0m25.8-39.1h0m-18.8 23.2h0m3.9-7h0m4.2 1.4h0m-6.6 16.8h0m-3-17.4h0m3.9-5.6h0m-1.3 11.6h0m2.2 4.1h0m5.1 9.7h0m-4.7-24.8h0m5.1 16.5h0m-12.6-16.4h0m1.6 20.3h0m16.4-7.9h0m-7.4 7h0m-9.7-7.5h0m-1.8-1.5h0m6.9 7.7h0m-1.1 1h0m-.7-3.6h0m1 3.7h0m2.3 5.6h0m-4.2-12.2h0m29.1-33.2h0m-26.4 31.3h0m8 2.7h0m-10.5 7.5h0m7.8-19.8h0m-.7 4.1h0m-6 18.4h0m-3.7-30.8h0m1.9 7.8h0m5.8 18.7h0m8.5-15.9h0m-4.6 10.8h0m-8.2 9.3h0m1.4-20.1h0m3.1 18h0m6.9-13.6h0m5.6-2.2h0m-20.3 20.4h0m23.7-49.5h0m-23.1 38.7h0m11.1-3.7h0m-15-12.4h0m4.9 5.3h0m-.7 1.9h0m1.4 5.6h0m.4-.4h0m10.9 3.5h0m-14.3-16.5h0m3 19.1h0" stroke="#dd2a20" stroke-width="0.65" stroke-linecap="square" stroke-opacity="0.75" fill="none"/>
<path d="M142.0 726.8h0m22.5-34.1h0m-24.6 28.6h0m3.1 1.7h0m13.7 4.6h0m-15.8 0h0m2-26.8h0m-8.8 20.1h0m38.2-28.7h0m-28.9 15.4h0m-.3 11.7h0m1.4 .1h0m23.7 13h0m-18.2-39.2h0m-4.7 24.1h0m12.3-7.9h0m-10.7 2.7h0m19-15.7h0m-24.3 16.4h0m-2.8 18.2h0m-.7-10.2h0m33.3-15.5h0m-4.5 10.2h0m-24.1-8.1h0m4.6 9.2h0m-2.1 5.8h0m-.4-3.7h0m13.8-14.1h0m-11.9 12.5h0m-4 9h0m-11-11.4h0m8.1 16.6h0m3.2-13.9h0m-2.7-30.7h0m9.3 34.3h0m-21.6-10.3h0m31.2 3.7h0m12.5-19h0m-27.1 9h0m25-9.1h0m-34.8 12.2h0m17.3 1h0m-12.8 22.3h0m2.2 2.4h0m-13.7-25.2h0m28-12h0m12.8 7.6h0m-39.1-2.3h0m17.1 12.3h0m-2.1-10.5h0m7 27.9h0m-4.7-10.7h0m8.3-1h0m-8.3-4.6h0m-20.3 10.8h0m2.6-28.9h0m39.6-13.5h0m-32.8 47.7h0m11.5-39h0m21.7 28h0m-14.2-5.9h0m-.2-21.3h0m2.5 24.5h0m-.5-21.9h0m1.1 22.4h0m-19.9-33.6h0m14.7 3.7h0m-10.1 39.3h0m-.1-1.3h0m28.7-41.2h0m-26 36.5h0m-2.2-6.8h0m24.1-25.9h0m-15.4 1h0m-21.3 35.8h0m22-20.3h0m-12.6 9.6h0m7 7.1h0m-.3 2.9h0m-7.2-9.4h0m21.2 1.6h0m-6.8 .3h0m-21.8-22.7h0m30.2 14.2h0m-27.6-5.9h0m17.8 13.1h0m16.8-30.9h0m-7.4 33.3h0m-1.1-13.8h0m-16.4 12.3h0m-4.1-27.4h0m-2.3 38.7h0m4.5-31.5h0m7 27h0m-9.5-24.5h0m16.4-3.7h0m-5.1 2.2h0m-21.5 28h0m21.9-10.2h0m-5.8 7.2h0m25.3-4.4h0m-30.4-28h0m-.8 31h0m9.6-1h0m-3.4-3.8h0m1.4-26.9h0m2.8 31.7h0m10.9-25.8h0m-15.9 17h0m-13-20.6h0m2 36h0m16.4-13.6h0m-5.8-11.5h0m-2.6-6.7h0m1.7 21.6h0m5.4 11.3h0m-18-40.2h0m12 29.6h0m25.4-1.9h0m-25.5-6.3h0m1.6 6.7h0m-9.7-1.7h0m5.8 14.8h0m5-41.1h0m-.9 31.4h0m3.8 10.4h0m-2.1-12.6h0m22.1-23.3h0m-6.7-4h0m-18.7 31h0m5.8-5.7h0m-16.9 16.2h0m29.1-5h0m-19.6-2.5h0m-15.4-5.8h0m25-32.4h0m-9.3 26.8h0m9.7 6.8h0m-19.8 11.7h0m16.7-7.7h0m18.5-27.7h0m-32.5 6.6h0m7.4 29.2h0m2.9-17.7h0m19.4 13.7h0m-13.3-3.9h0m-4.9-8.8h0m5.4 1.2h0m-8.4-8.7h0m2.8-7h0m-5.2 6.7h0m.1-11.7h0m27.4-2.5h0m-21.6 42h0m-5.8-32.1h0m26.4-15h0m-10 6.6h0m-13.8 29.8h0m6.8-28.8h0m-.9 19.3h0m8.6-24.1h0m-23.6 17.9h0m15.6 13.3h0m5.9-27.8h0m2.2 28.3h0m-19-3.5h0m-.9-.5h0m2.7-.8h0m-8-25.6h0m-4.6 21.3h0m35.1 7.2h0m4.4-29.8h0m-2.2 32.2h0m4.2 2.1h0m-21.8-26.4h0m18.3 13.9h0m-17.9-6.5h0m-10.1 23.9h0m3.2-41.1h0m30.9 14.6h0m-31-1h0m10.7 27.9h0m-16.6-22.4h0m16.1-21.4h0m-16.5 42.1h0m-7.9-10.7h0m1.4 11.2h0m30.4-20h0m-8.2 11.5h0m-18-4.7h0m1.6-29h0m17.7 23.6h0m12.3-4.9h0m-10.5 17.5h0m17-25.8h0m-8.6-1.5h0m-22.2 29.5h0m-4.1-29.7h0m20.8 24h0m-22.2-14.8h0m5.7 6.8h0m10.7 16.7h0m-2-6.9h0m-7.1-4.6h0m3.5 12.4h0m-4.3-9.7h0m7.3-19.9h0m-7.1 11.8h0m5 23.2h0m18.9-19.9h0m5.7-17.3h0m-35.1 20.6h0m18.3 6.8h0m-5.9-34h0m20.3 23.6h0m-22.4 3.1h0m-6-34.1h0m17.5 41.5h0m-8.6-11.8h0m15.9 14.3h0m-31.9 4.7h0m5.8-31.2h0m24.9-10.1h0m-22.7 31.4h0m21.4-23.4h0m-28.3 19.1h0m22.1 7.5h0m8.7-32.4h0m-9.4 22.8h0m-13.4 11.6h0m-.1 4.8h0m-.1-9.1h0m8.2-24.3h0m-5.5 23.5h0m13.2-34.9h0m-16.8 36.4h0m25.5-35.5h0m-7.7 10.8h0" stroke="#ee6a5a" stroke-width="0.50" stroke-linecap="square" stroke-opacity="0.42" fill="none"/>
</g>
<rect x="126.50" y="683.50" width="46.00" height="50.00" fill="none" stroke="#a4a4a4" stroke-width="1"/>
<line x1="155.50" y1="683.50" x2="155.50" y2="733.50" stroke="#999" stroke-width="1"/>
<line x1="126.50" y1="700.50" x2="172.50" y2="700.50" stroke="#999" stroke-width="1"/>
<line x1="124.80" y1="733.40" x2="126.00" y2="733.40" stroke="#888" stroke-width="0.5"/>
<text transform="translate(124.40,732.80)" font-size="3.2" text-anchor="end" fill="#999" stroke="#999" stroke-width="0.08">1</text>
<line x1="126.00" y1="733.40" x2="126.00" y2="734.60" stroke="#888" stroke-width="0.5"/>
<text transform="translate(126.00,737.60)" font-size="3.0" text-anchor="middle" fill="#999" stroke="#999" stroke-width="0.08">10</text>
<line x1="124.80" y1="721.40" x2="126.00" y2="721.40" stroke="#888" stroke-width="0.5"/>
<text transform="translate(124.40,720.80)" font-size="3.2" text-anchor="end" fill="#999" stroke="#999" stroke-width="0.08">1</text>
<line x1="137.60" y1="733.40" x2="137.60" y2="734.60" stroke="#888" stroke-width="0.5"/>
<text transform="translate(137.60,737.60)" font-size="3.0" text-anchor="middle" fill="#999" stroke="#999" stroke-width="0.08">10</text>
<line x1="124.80" y1="709.40" x2="126.00" y2="709.40" stroke="#888" stroke-width="0.5"/>
<text transform="translate(124.40,708.80)" font-size="3.2" text-anchor="end" fill="#999" stroke="#999" stroke-width="0.08">1</text>
<line x1="149.20" y1="733.40" x2="149.20" y2="734.60" stroke="#888" stroke-width="0.5"/>
<text transform="translate(149.20,737.60)" font-size="3.0" text-anchor="middle" fill="#999" stroke="#999" stroke-width="0.08">10</text>
<line x1="124.80" y1="697.40" x2="126.00" y2="697.40" stroke="#888" stroke-width="0.5"/>
<text transform="translate(124.40,696.80)" font-size="3.2" text-anchor="end" fill="#999" stroke="#999" stroke-width="0.08">1</text>
<line x1="160.80" y1="733.40" x2="160.80" y2="734.60" stroke="#888" stroke-width="0.5"/>
<text transform="translate(160.80,737.60)" font-size="3.0" text-anchor="middle" fill="#999" stroke="#999" stroke-width="0.08">10</text>
<line x1="124.80" y1="685.40" x2="126.00" y2="685.40" stroke="#888" stroke-width="0.5"/>
<text transform="translate(124.40,684.80)" font-size="3.2" text-anchor="end" fill="#999" stroke="#999" stroke-width="0.08">1</text>
<line x1="172.40" y1="733.40" x2="172.40" y2="734.60" stroke="#888" stroke-width="0.5"/>
<text transform="translate(172.40,737.60)" font-size="3.0" text-anchor="middle" fill="#999" stroke="#999" stroke-width="0.08">10</text>
<clipPath id="c15"><rect x="199.00" y="600.00" width="46.40" height="50.40"/></clipPath><g clip-path="url(#c15)">
<rect x="199.00" y="600.00" width="46.40" height="50.40" fill="#ffffff"/>
<ellipse cx="217.1" cy="638.3" rx="10.3" ry="7.7" fill="url(#scG)"/>
<path d="M240.5 636.6h0m-13.8 2.7h0m-10-2.4h0m6.1 9.9h0m-11-9.6h0m-8 6h0m9.8-9h0m-4-4.5h0m10.9 13.6h0m5.4-11.3h0m1.2 13.5h0m-3.9-11.7h0m-7.7 3.7h0m21-32.2h0m-20.4 28.5h0m4.9 9.3h0m-5.2-3.9h0m2.9 4.6h0m-5.4-12.9h0m-11.1 8.6h0m40.1-29.4h0m-19.3 29.2h0m3.2-8.4h0m4 2h0m-18.7 4.3h0m2.7 9.9h0m5-11.1h0m-13.1 6.9h0m5 2.8h0m3.9-11.1h0m8.9 2.1h0m-1.4 1.3h0m-12.3-1.1h0m-.9 3.7h0m12.8-6.4h0m-6.9 8.2h0m19.9-31.1h0m1.6 14.9h0m-12.6 11.3h0m-14.7 2.9h0m6.9-4.7h0m-2.1-7.4h0m6.9 11.8h0m-1.8-5.4h0m-2.4-.8h0m-3.4 1.3h0m30.4-25.6h0m-32.5 31.5h0m14.1-.3h0m-6.9-.7h0m-.4-3.9h0m.3 7.4h0m5.6-2.9h0m-9.9-3.8h0m4.8 4.1h0m-3.6-3.4h0m20-23h0m-14.2 26.7h0m2.2-3.7h0m21.5-30.7h0m-25.5 28.3h0m5.9 2.6h0m-11.3 7.2h0m3.5-7.8h0m24.7-25.9h0m-18.8 30.6h0m-6.8-9h0m2.6 7.3h0m-8.8-6.5h0m17.5 12h0m-11-1.2h0m-1.1-17.5h0m4.7 14.1h0m14.1-5.7h0m-21.1 9.2h0m-1.9-2.3h0m19.7 .2h0m-11.6-7.4h0m-14.5 6.2h0m22.2-17.8h0m-7.7 13h0m-9.8-1h0m3.6 3.2h0m-.5 1.7h0m31.4-32.5h0m-39.8 39.8h0m10.6-8.7h0m5.1 1.3h0m-6.4 .7h0m-.5-1.4h0m9.2-2.5h0m-15.1 6.3h0m8.4-2.4h0m7.6-3.1h0m-8.9 6h0m5.8-8.3h0m14.4-28.4h0m-16.4 24.6h0m4 7.9h0m-4.7 1.7h0m8.4-3.2h0m18.7-28.4h0m-28.3 36.4h0m-1.1-11.7h0m2.7 5h0m-8.6 3.9h0m5.1-15.5h0m6.9 7.5h0m-17.5 3h0m19.7-.6h0m-11.6-.2h0m10.2-.7h0m-8.3-5.7h0m-7.4-2h0m8.2 13.5h0m5.3-1.3h0m.6-1.3h0m5.4-5h0m.5 3.3h0m-.3 5.9h0m-15.6-10.2h0m19.9 2.1h0m-12.3 2.3h0m5.3 2h0m4.9 .6h0m-10.4-4.4h0m21.8-7.8h0m-25.6 7.3h0m2 0h0m-11.8-.9h0m19.3 5.5h0m3.2-3.8h0m-.5 .6h0m-17-4.1h0m-.3 16.3h0m13.4-20.6h0m5.1-1.8h0m5.9 10.3h0m-16.8-6.3h0m-9.5 6.1h0m12-1.2h0m-3.9 9.3h0m1.9-.2h0m-2.5 2.4h0m5.2-18.1h0m1.9 14.1h0m-11.8 2h0m9.3-9.3h0m-3-1.4h0m-3.2-.1h0m15.3 8.4h0m-10.2-1.2h0m-.8-4.9h0m23.4-30.1h0m-31.5 20h0m8.5 16.4h0m.2-3.4h0m22.2-29.3h0m-25.9 32.7h0m5.1-20.8h0m-3.7 17.5h0m5.8-5.5h0m-5.3 3.1h0m2.6-11.3h0m7.9-1.1h0m.9 10.2h0m-14.5-6.1h0m12.4 8.7h0m-12.3 4.6h0m10.6-3.7h0m18.9-30h0m-16.5 30.8h0m3.9 .3h0m-4.9-4.3h0m-7.5-.2h0m8.4 2.9h0m-13.7-6.8h0m14 4.4h0m3.4-1.1h0m-14.5 4.8h0m6.2-2h0m7.1-1.6h0m9.7-28.1h0m-20.5 31.1h0m20.5-12.8h0m-28.1 8.4h0m1.5-4.6h0m10.5 5.2h0m-8.2 6.3h0m-7.3-2.1h0m5.8 3.1h0m6.3-11.2h0m-1.8 5.8h0m-1.1 4.7h0m-4.1-3.2h0m7.8-.2h0m-16.9-7.9h0m20.3-8.9h0m2.9 15.8h0m-15 9.1h0m5-.5h0m-8.4-10.9h0m16.4 5.6h0m-6.1-7.8h0m2.8 10.4h0m-3.7-4.5h0m4.6 .9h0m11.2-4.1h0m13.4-27.8h0m-31.1 35h0m10.7-6.7h0m1.7-6h0m-4.2 7.1h0m-7.6-.6h0m-5.8 4h0m16.5-8.2h0m-4.7 9.4h0m-7.2-2.8h0m10.1 .4h0m.7-4.2h0m.1 2.2h0m-7.7-5.5h0m5.1-3.1h0m-9.5 7.4h0m-5.8-.2h0m1.5-4.9h0m7.4 5.5h0m4.3 7.6h0m-2.9-11.8h0m4.8 11.9h0m-5.8-11.1h0m-4.7 8.6h0m2.7-7h0m4.7 4.9h0m-3.8-2.4h0m.5-5.1h0m4.4 10.1h0m8.9-12.9h0m-.9 7.5h0m-18.5 .7h0m23.3-10.7h0m-4.6 12.8h0m-3.7-9.4h0m10.1-5.1h0m-14.1 10.9h0m6.4-.1h0m-20.4 6.9h0m2.1-3.5h0m12-6.7h0m-4.4-.7h0m-1.4 12.3h0m7.6-5.1h0m-.9 2.8h0m-5-4h0m13.8 2.9h0m-20.4 1.9h0m-5.6-.7h0m13.5-3.3h0m.4-2.4h0m6.4-2.3h0m20.5-27.6h0m-13.8 20.7h0m-20.5 7.8h0m15.6-2.4h0m-15.3-9.2h0m5 17.8h0m16.6-5.5h0m-20.6-1h0m10.3 .8h0m-5 2.7h0m0 3h0m.1-1.4h0m-9-4.3h0m4.5 3.6h0m13.7-18.2h0m-5.2 18.5h0m12.2 .8h0m-16.5-.6h0m-6 4.4h0m25.4-10.5h0m-22.3 8.4h0m-1.8-6.9h0m5.8 2.6h0m1.4 3.4h0m3.4-5.8h0m-1 9h0m-9.9-6.1h0m-2.4-1.4h0m12.4 6.7h0m9-28.1h0m-11.7 20.5h0m-1.5-4.8h0m4.6 9.8h0m-17.6 .1h0m7.9-5.3h0m-5.5 9.5h0m15.6-.8h0m0-5h0m-11.2-3.1h0m-1.1 .4h0m17.6-4h0m-10 .1h0m2.2 .6h0m-1.9 8.1h0m-1-3.7h0m3.9-2.3h0m-5.6 3.7h0m10.7-3.7h0m-11.7 7.2h0m4.2-2.8h0m4.9-7.5h0m-10.8 8.9h0m14.9-12.3h0m-14.2 9.9h0m13.7-1h0m-25 5.3h0m17.7-2.4h0m-.8-2.2h0m-11.3-2h0m7-1.3h0m5.4 10.7h0m.4-5.9h0m-5-3.2h0m11.4 2.5h0m-17 4.6h0m18.3-2.9h0m-13.8-1.6h0m6.6-3.5h0m-.3 3.4h0m14.6-5.3h0m-19 5.2h0m2.8-2.7h0m-5.8-1.9h0m8.3 4.8h0m-3.8-7h0m.2 2.7h0m.8 1.4h0m-10.4-2.2h0m8.9 1.7h0m.4 9.4h0m-4.4-20.4h0m2.7 8h0m-13.5 13.9h0m4.4-5.1h0m11.4 2.5h0m-15.7-10.3h0m13.7 5.2h0m-1.6-6.9h0m8.1 .1h0m18.8 9.1h0" stroke="#dd2a20" stroke-width="0.51" stroke-linecap="square" stroke-opacity="0.75" fill="none"/>
<path d="M227.4 625.8h0m-11.1 10.9h0m-.3-1.2h0m4.9-5h0m-1.3 3h0m-10.3 7.6h0m10.8 2.2h0m1.9-27.4h0m9.8 20.3h0m-6.4-8.4h0m-7.6 8.5h0m2.7 7.4h0m-13.2-12.9h0m12.7 12.1h0m2.4-8.1h0m1.7 5h0m-1-3.8h0m.5-.1h0m-9.1 .7h0m8 5.1h0m-5.6 3.2h0m5.2-3.1h0m.5 .5h0m-4.2-5.6h0m-2.8 0h0m7.2 0h0m20.3-30.1h0m-33.2 10.2h0m-.5 30.5h0m3-15.9h0m-3.2 8.6h0m15.5-.5h0m-7.3 2.8h0m-3.2-.3h0m1.3-7.6h0m8.9 4h0m-12.1-5.5h0m6.1-7.3h0m-7.1 14.8h0m13.1-21.2h0m-9.3 27h0m-6.2-9h0m-6.7-6.7h0m19.9 9.7h0m17.3-26.8h0m-26.8 21h0m10.5 7.8h0m-6.7-11.6h0m3.9 9.8h0m9.6 5h0m-9.7-9.6h0m-8.6 1.7h0m-.5-2.1h0m13.1 1.6h0m2.4 3.8h0m-11.7 1.8h0m5.7-3.5h0m9.5-.5h0m-1.7 1.9h0m-13.4-2.8h0m-17-3.1h0m16.4 1h0m4.7-7h0m-9.6 6.9h0m15.8-1.2h0m-1.8-.7h0m2.3-13.8h0m-3.4 15.3h0m-10 12.5h0m-2.2-9h0m3.5 .5h0m5.7-3.1h0m-2.2-2.6h0m.6 3.1h0m2.5 1.3h0m-.3-13.4h0m27.3 8.9h0m-26.4 4.5h0m4 7.4h0m-15-4.4h0m6.6-6.1h0m1.4 10.2h0m-10-4.1h0m12.6-.1h0m-8.3-3.8h0m14-2.6h0m-10.5 2.8h0m-10.8 5.8h0m6.3-4.6h0m21.1-29.1h0m-22.2 26.1h0m5 8.9h0m-7.4-8.4h0m14.6 6.5h0m-9.5-1.3h0m2.8-1.9h0m11.9-11.5h0m-18 11.2h0m7.2 .8h0m-5.2-1.8h0m4 1.2h0m9.5 4.2h0m-13.9-5.2h0m6.5-3.1h0m-4.4 5.1h0m21.3-19.2h0m-7 16.7h0m-19.1 4.6h0m18.3-2.9h0m-13.4-8.2h0m12.3 8.9h0m-8.4-6.7h0m8.2 .6h0m-14.6 9.4h0m14.2-22.4h0m-14.6 24.8h0m-2.4-11.8h0m22.2-3.7h0m-17.9 9.6h0m1.5-4.1h0m4.2 3.1h0m-2.7 1.3h0m12.8-23.9h0m-11.3 22.1h0m-.4-.4h0m3.9-1.1h0m5.1-4h0m-9.2 .6h0m16.6 14.2h0m-12.3-6.5h0m10.7-30.4h0m-11.4 19.4h0m2.7 1.2h0m5.9-1.7h0m-5.1 1h0m17.1-18.9h0m-16.1 19.7h0m-14.9 2.2h0m7.7-7h0m2.7 11.4h0m-3.7 3.6h0m9.4-9.5h0m-1.1 5.3h0m5.6 11.1h0m10-38.8h0m-23.6 29.9h0m-7.1-6.1h0m7.8 3.3h0m12.2 6.8h0m15.1-34.5h0m-24.6 27.8h0m18.9-29h0m-26.9 36.7h0m18-15.3h0m-21.3 8.4h0m5.6 1.4h0m1.7-1h0m4.4 3.8h0m1-9.1h0m5 9.8h0m-9.3-5.9h0m-8.4 10.1h0m5.1-7.4h0m-2 1h0m22.8-6.6h0m-22 .9h0m17.3 5.1h0m-13.5 .4h0m-5.9-1h0m15.7-2.8h0m-10.8 7.9h0m9.7-4.2h0m-19.7 5.7h0m7.7-14h0m13.7 6.3h0m-10.9-1.3h0m-2.2-9.2h0m-2.6 12.1h0m14.9 4.6h0m-14.2-7.7h0m-4.6 1.1h0m25.5-4.3h0m-15.7 7.9h0m-8.7-10.2h0m8 5.6h0m23.8-28.2h0m-14.2 27.3h0m-13.7 4.2h0m11 3.4h0m2.5-7.2h0m-15.9 7.2h0m5.7-2.2h0m7.3-1.8h0m-15.7 7.8h0m1.5-11.9h0m4.5 3h0m6.9-7.6h0m-5.2 3.4h0m-2.3 6.1h0m2.7-1.1h0m-.4-2.4h0m-1.7-5.4h0m-3.3 7.5h0m17.6 9.9h0m-18.5-13.5h0m7.2-.4h0m-2.8 7.7h0m9.8 3.1h0m7.3-8.6h0m15.3-29.3h0m-33 32.7h0m9.8-1.4h0m-5.1 3.1h0m2.2-3.9h0m-.5 4h0m10.2-4.8h0m-8.3-6.4h0m-12.3 14.1h0m3.3-7.2h0m9.9 .2h0m12.8-21.1h0m-20.7 21.1h0m-.6-6.9h0m4.7 6.2h0m-8.7 3.8h0m20.6 1.4h0m-12.9-4.5h0m10-6.5h0m-10.9 6.9h0m-.8-1.5h0m9.3 5.5h0m-5-4.6h0m.2 1.9h0m-7.1-4.3h0m4.7 1.9h0m25.4-3.3h0m-15.4-4.9h0m-13.2 19.2h0m17.6-7.3h0m-16.9 4.1h0m-3.1-15.1h0m5.1 5.6h0m13.2 1.9h0m-19.6 .3h0m13.2-2.5h0m14-4h0m-18.4 5.6h0m-7.2-1.8h0m6.2 6.1h0m-.4-1.4h0m-.2 3.6h0m10.3-5.5h0m-14.8 3.1h0m-.8-7.9h0m16.2 6.5h0m-5.1 3.7h0m5.8-12.2h0m-11.8 1.4h0m2.8 9.4h0m.3-10.1h0m3.1 3.1h0m.7 1.1h0m-10.1-4.4h0m5.8 16.2h0m-14.4-5.3h0m9.3-3.9h0m2.8-4.1h0m-.5 5.9h0m1.6-.1h0m-8.6-.6h0m12.8 1.9h0m-5.2-2.6h0m15.6-5.5h0m-24.4 5.6h0m20.1-20h0m-17.3 16.5h0m-1.2 3.8h0m12.9-2.6h0m-3.7-5h0m-10.8 3.6h0m7.4 6.7h0m11.6-11.5h0m-10.3 7.8h0m-.1 .4h0m-12.2-.4h0m2.8-3.3h0m14.6 1.8h0m-8.7-3.6h0m7.6 11.2h0m-6.9 .5h0m10.9-8.4h0m-15.4 .3h0m.6 .7h0m10.8 4.6h0m-.4-3.6h0m-4.3 3.1h0m-4.7-2h0m-.5 7.1h0m7.5-9.9h0m9.3 2.9h0m6.1-8.4h0m-22 11.3h0m2.8-7.8h0m1.5 8.2h0m-6.8-4.4h0m17.9 .7h0m-9.4-7.7h0m-5.8 5h0m8.3 1.8h0m2.1 .9h0m-9.2-5.9h0m3.4 1.7h0m-10.1 6.3h0m12.8-5.8h0m-7.4 3.1h0m30.3-30.9h0m-23.4 32.1h0m-4 2.9h0m8.5-10.9h0m1.6 3.2h0m-3.8 4.3h0m-5.3-2.4h0m-1.1 6.5h0m3.6 2.2h0m5-8.1h0m3.3 4.4h0m-11.8-1.5h0m10-2.4h0m-5.5 .8h0m-9.4-5.1h0m7 9.1h0m.1 0h0m4.2-.2h0m7.8-18.4h0m-14.2 15h0m-3.9 4.3h0m28.6-16.2h0m-25.2 13.4h0m2.8-5.7h0m1.3-.9h0m-5 4.3h0m-9.5 4h0m32.5-35.8h0m-15.4 32.1h0m-3.6-4.1h0" stroke="#dd2a20" stroke-width="0.65" stroke-linecap="square" stroke-opacity="0.75" fill="none"/>
<path d="M224.3 630.7h0m14 7.9h0m3.8-15.9h0m-25.5 20.6h0m-5.5 5.6h0m24.1-38.4h0m-20.3 27.8h0m-15-22.2h0m32.5 12.1h0m-9 10.6h0m1.6 11.4h0m-7.7-7.7h0m-3.4 2.4h0m-1.4 1.2h0m-.5-26.7h0m9.5 28.2h0m19.3-16.7h0m-23.8 17h0m-11.2-24.4h0m36.4-5.5h0m-18.1 18.4h0m-5.2-17.4h0m22.8-17.2h0m-1.4 39.5h0m-25.5-5.1h0m-6-30.4h0m10.5 12.8h0m9-13.8h0m.1 25.6h0m-19.6 8.2h0m17.1-38.2h0m-16.5 36.2h0m12.1 .2h0m2.2-5.7h0m-15.5 10.2h0m-8.7-14.7h0m2.4-11.5h0m10.6 5.7h0m-.8 17.2h0m-10.8-1.5h0m16.4-.3h0m-4.8 5.8h0m-6.6-11.1h0m25.4-13.5h0m-11.7 25.7h0m-17.6-33.7h0m10.4 23.5h0m12.4-13.2h0m5.7-5.3h0m5.8-2.9h0m2.3 15.4h0m-35.2 1.6h0m11.4 8.3h0m-.3-5.4h0m16.7-4.4h0m-17.5 12h0m-.7-26.5h0m13.9 28.6h0m-.2-26.2h0m-7 .9h0m-2.4 18h0m5.1-9.5h0m9-2.9h0m-28.1-11.5h0m10 28.5h0m31.4 1.4h0m-11.1-26h0m-23.3 29.9h0m8.2-24.7h0m-10.5-5.7h0m.6-7.8h0m-8.7 16.3h0m0 4.5h0m7.3 9.6h0m1.9-30h0m20.5 1.1h0m-30.3 1h0m41.3 30.4h0m-11.1-26.4h0m.9 19.7h0m-21-16.5h0m20.6 32h0m-14.1-16.1h0m-3.8 13.3h0m4.3-11.2h0m17.1 10.2h0m-9 1.1h0m-7.2 2.6h0m-9.1-18.7h0m21.3 11.1h0m10-.3h0m-26.4-20h0m10.3 10.8h0m-5 3.2h0m20-18.1h0m-4.4-5.5h0m-28.8 12.8h0m31.1 21.8h0m-3.5-26.5h0m-23.4-12.1h0m32.5-2.3h0m-25.4 38.9h0m7-34.1h0m-20-6.6h0m24.4 17.1h0m-14.6 19.6h0m11.8-37.4h0m-4.5 49.3h0m10.3-7.4h0m-12.9-25.1h0m-14.3 21.4h0m36.2-31.5h0m-28.7 27.9h0m29-31.3h0m3.2 33.1h0m-33.4-1h0m7.1-15.2h0m-4.8-17.7h0m32.2 28.8h0m-1.4 10.1h0m-34.1-9.5h0m.7-5.4h0m6.6 11.8h0m16.7-10.2h0m-18-3.9h0m11.6 17.7h0m-23.1 7h0m14-8.7h0m-1.3-4.1h0m.5-12.2h0m9.9-1h0m-20.4 11.7h0m-6.7-14.2h0m19.5 13.1h0m-5.7-7.6h0m7 14.3h0m-5.2-2.5h0m2.6-24.8h0m3.8 29.6h0m10.7-1.6h0m-12.6-8.6h0m25.7-29.4h0m-27.5 43h0m-13.1-19.3h0m5.9 16.4h0m9-6.5h0m.2 7.4h0m14.3-10.7h0m-8.7 14.7h0m-13-17.3h0m10.8 13.6h0m-10.8-29.9h0m25 30.6h0m3.2-28.9h0m-17.5 30.1h0m-10-17.7h0m-.2 17.3h0m-.7-17.7h0m22.8-.9h0m-12.4-24.4h0m19 25.5h0m2.8 .9h0m-30.3 5.1h0m7.5 4.6h0m-8.7-4h0m-1.8 6h0m13.9-4.1h0m1.6-21.9h0m-3.2-10.9h0m-3.4 30.5h0m-19.3-8.2h0m2.8-26.4h0m34.1 23.4h0m-16.7 8.8h0m1 2.4h0m1.2 9.2h0m-11.6 2h0m12.9-26.8h0m15.3-7.8h0m-14.4-8.6h0m6.9 22.7h0m-27.3 2.9h0m8.8 13.5h0m-1.6-16.9h0m19.9-24.7h0m-1.4 27.3h0m-13.6 3.6h0m20.6-29h0m-23.2 31.5h0m19.6-7.1h0m1.5 9.5h0m1.9-8.3h0m-8.5 9.6h0m-9.2-3.6h0m12-19.7h0m-10.6 4.6h0m10.2-8.3h0m-27.7 4.7h0m2.7 1.3h0m18.5 14.9h0m19 14.1h0m-8.9-2.1h0m-3.4-14.2h0m-17.5-20.8h0m.2 32h0m-7.5-2.6h0m-4.7-3.2h0m.5-16.6h0m25 20.3h0m-.5-24.1h0m17.8 8.6h0m-31.2 6.4h0m2.9-2.7h0m9.1 17.2h0m-7.1-5.8h0m-4.2 4h0m-9.1-10.2h0m40 6.7h0m-27.3-3.5h0m9.6-18.9h0" stroke="#ee6a5a" stroke-width="0.50" stroke-linecap="square" stroke-opacity="0.42" fill="none"/>
</g>
<rect x="199.50" y="600.50" width="46.00" height="50.00" fill="none" stroke="#a4a4a4" stroke-width="1"/>
<line x1="228.50" y1="600.50" x2="228.50" y2="650.50" stroke="#999" stroke-width="1"/>
<line x1="199.50" y1="617.50" x2="245.50" y2="617.50" stroke="#999" stroke-width="1"/>
<line x1="197.80" y1="650.40" x2="199.00" y2="650.40" stroke="#888" stroke-width="0.5"/>
<text transform="translate(197.40,649.80)" font-size="3.2" text-anchor="end" fill="#999" stroke="#999" stroke-width="0.08">1</text>
<line x1="199.00" y1="650.40" x2="199.00" y2="651.60" stroke="#888" stroke-width="0.5"/>
<text transform="translate(199.00,654.60)" font-size="3.0" text-anchor="middle" fill="#999" stroke="#999" stroke-width="0.08">10</text>
<line x1="197.80" y1="638.40" x2="199.00" y2="638.40" stroke="#888" stroke-width="0.5"/>
<text transform="translate(197.40,637.80)" font-size="3.2" text-anchor="end" fill="#999" stroke="#999" stroke-width="0.08">1</text>
<line x1="210.60" y1="650.40" x2="210.60" y2="651.60" stroke="#888" stroke-width="0.5"/>
<text transform="translate(210.60,654.60)" font-size="3.0" text-anchor="middle" fill="#999" stroke="#999" stroke-width="0.08">10</text>
<line x1="197.80" y1="626.40" x2="199.00" y2="626.40" stroke="#888" stroke-width="0.5"/>
<text transform="translate(197.40,625.80)" font-size="3.2" text-anchor="end" fill="#999" stroke="#999" stroke-width="0.08">1</text>
<line x1="222.20" y1="650.40" x2="222.20" y2="651.60" stroke="#888" stroke-width="0.5"/>
<text transform="translate(222.20,654.60)" font-size="3.0" text-anchor="middle" fill="#999" stroke="#999" stroke-width="0.08">10</text>
<line x1="197.80" y1="614.40" x2="199.00" y2="614.40" stroke="#888" stroke-width="0.5"/>
<text transform="translate(197.40,613.80)" font-size="3.2" text-anchor="end" fill="#999" stroke="#999" stroke-width="0.08">1</text>
<line x1="233.80" y1="650.40" x2="233.80" y2="651.60" stroke="#888" stroke-width="0.5"/>
<text transform="translate(233.80,654.60)" font-size="3.0" text-anchor="middle" fill="#999" stroke="#999" stroke-width="0.08">10</text>
<line x1="197.80" y1="602.40" x2="199.00" y2="602.40" stroke="#888" stroke-width="0.5"/>
<text transform="translate(197.40,601.80)" font-size="3.2" text-anchor="end" fill="#999" stroke="#999" stroke-width="0.08">1</text>
<line x1="245.40" y1="650.40" x2="245.40" y2="651.60" stroke="#888" stroke-width="0.5"/>
<text transform="translate(245.40,654.60)" font-size="3.0" text-anchor="middle" fill="#999" stroke="#999" stroke-width="0.08">10</text>
<clipPath id="c16"><rect x="199.00" y="683.00" width="46.40" height="50.40"/></clipPath><g clip-path="url(#c16)">
<rect x="199.00" y="683.00" width="46.40" height="50.40" fill="#ffffff"/>
<ellipse cx="216.6" cy="721.8" rx="9.5" ry="6.9" fill="url(#scG)"/>
<path d="M209.4 708.9h0m36-14.8h0m-28.7 26.6h0m2.8 7.5h0m18.9-32.3h0m-16 27.8h0m-17.5-9.1h0m20.5 6h0m-4.2 6h0m-4.1-4.8h0m2.7-2.2h0m-4.4 1.3h0m6-1h0m-9.7-.1h0m14.9 6h0m-12 .4h0m27.4-.6h0m-18.5 1h0m-6.1-4.1h0m.5-8.7h0m-10.4 9h0m-2.2-2.2h0m7.8-2.4h0m-1.8 .3h0m12 5.5h0m4.8-10.3h0m-10 6.8h0m-8 .2h0m5.4 1.4h0m-1.2 .2h0m4.5 2h0m-9.1-6.8h0m13.6 2h0m-7.9 8.9h0m1-4.4h0m21.5-29.8h0m-24.5 26h0m5.7 2.2h0m-6.6-1.5h0m32.3-26.9h0m-22.2 30.6h0m-8.1-.5h0m3.2-2.6h0m-1.9 3.9h0m6-6.4h0m1 1.1h0m-13.9 1.9h0m8.1-2.2h0m3.3 13.9h0m11.4-16.2h0m-10.8 8.5h0m-9.8 2.5h0m19.3-15.2h0m-4.2 7.6h0m10.9-28.2h0m-10.4 25.3h0m5.9-12.5h0m-14.8 18.9h0m-8-8.2h0m12 9.5h0m17.8-29h0m-29.1 31h0m10.6-16.2h0m-2.2 5.1h0m-7.9 5.9h0m23.2-12.3h0m-.2-17.6h0m-13.3 28.9h0m-11.4 5.8h0m10.9-4.8h0m9.4-7.7h0m-14.5 5.3h0m3.8 8.3h0m-2.1-13.7h0m.2 4.2h0m-10.5 7.2h0m17.6-2.9h0m-5.4-1.2h0m-4.1-6.4h0m8.7 5.2h0m-12.9-.9h0m2.1-1.5h0m2.9-1.9h0m2.1 6.8h0m-3.9 3.4h0m20.9 8.1h0m-11.8-17.4h0m-1.2-1.5h0m6.9-7.8h0m-8.4 15.8h0m-1.6 .1h0m-4.9-4.6h0m-4.2 3.9h0m2.8 5.6h0m12.6-6.3h0m-4.4 4.4h0m4.5-6.2h0m.5-2.7h0m-3.8-1.6h0m1.6 2h0m-6.3 6.1h0m-1.6-4.5h0m2.4 7.2h0m8.8 6.7h0m-7.9-15.7h0m-.7-1.9h0m6.8 5.6h0m-4.6 11.1h0m.8-8.5h0m-8.1-4.1h0m3 4.4h0m-7.9-2.8h0m16.1-4.4h0m9.2-12.4h0m-13.2 22.4h0m1.7-7h0m4.3 7.3h0m-8-7h0m5.2-3.3h0m-9.5 .1h0m5 10.2h0m1.4-8.1h0m3.3 1.8h0m-8.5-3.4h0m2.2 6.7h0m-5.9-2.7h0m4.4 .1h0m-5.9-2.2h0m7.8 1.1h0m-2.1 3.9h0m-3.4 3.5h0m5.7-2.3h0m4.1-5.6h0m1.3-.7h0m-12.4 5.3h0m8-6.5h0m3.4 13.2h0m-6.1-10.1h0m5.7 7.2h0m-11.7-12.6h0m8.8 13h0m-1.6-7.5h0m-3.4-1h0m-2.6 6.4h0m3.3-1.4h0m-.1 1.7h0m5-8.4h0m2.2 1.6h0m-2.1 2.1h0m-.2 4.3h0m3.8-4.1h0m2.1 7.2h0m-7.7-3.8h0m-8.7-8h0m3.8 6.5h0m1.4-.1h0m3.4-.8h0m1.2 1.3h0m5.6-3.9h0m-10.9-3.3h0m-5.3-.6h0m4.7 4h0m10.5 .7h0m16.3-33.1h0m-24.5 33.3h0m.8-2.6h0m5.8 4.1h0m-.2 2.7h0m-1.6 .1h0m-11.5-2.7h0m6.3-6.9h0m8.1-.4h0m15.1-23h0m-31 30.7h0m3.5-.3h0m13.6-7h0m4.5 5.9h0m6.4-28.6h0m-9.9 18.3h0m-14.9 6.4h0m8.9 6.5h0m.4-6.2h0m6.3-1.2h0m13.7-29.9h0m-17.5 34.2h0m-16.4-7.7h0m34.9-22.3h0m-27.5 29h0m13.1-.6h0m-14.8-.4h0m9.7-9.4h0m-1.8 5.5h0m-.4-.4h0m15.6 2.4h0m-19.9 2h0m5.9-6h0m-.9 18.2h0m-11.9-11h0m8.1 5h0m27.3-7.7h0m-15.8-2.6h0m12.2-21.9h0m-27.1 20.2h0m-3.2 8.3h0m12.7-2.3h0m-4.7-.3h0m1.1 1.3h0m26.4-31.7h0m-21.7 30.2h0m-2.4 2.7h0m.1-9h0m-8.9 7.4h0m-4.1-8.2h0m12.1 14.9h0m25.7-37.6h0m-33.3 25.7h0m-6.2 8.1h0m6.7 5.2h0m15.9-3.5h0m-6.6-10.2h0m-1.2 6.4h0m-3.5-1.2h0m5.1-7h0m-7.5 2.4h0m4.4 6.6h0m-5.2 3.5h0m6 .8h0m1.2 5h0m-.6-9.8h0m.7-5.8h0m-8 3.5h0m16.1-1.2h0m17.3-25.4h0m-27.2 25.4h0m-10.6 4.5h0m3.3-9.9h0m19.2 1.6h0m-11.5 8.5h0m-.2-.7h0m7.6-33.4h0m-4.4 31.9h0m-.5 8.6h0m2.4-9.9h0m11.1-3.4h0m-18.4 7.7h0m-1.7-1.9h0m-7.9-3.1h0m7.1 1.9h0m7.5 2.5h0m-11.7 3.4h0m10-9.5h0m-10.7 4.5h0m9.1-.1h0m-8-5.4h0m11.9-18.2h0m6.5 10.8h0m14.6 13.4h0m-26.8-6.4h0m-5.3 6.3h0m1.6-3.3h0m25.1-27.5h0m-9.7 25.3h0m-11.8 9.5h0m-6.4-4.3h0m2.5-2.8h0m-3.4-2.3h0m-2.1 5.3h0m6.9 .4h0m-7.8-2h0m5-2.2h0m-3.8-1h0m7.7 6.8h0m-2.5-8.9h0m5.7-1.6h0m-4 12.7h0m1.4-13.6h0m-1 8.2h0m-1.7 .6h0m5.7 6.4h0m-8.8-13.1h0m14.6 10.8h0m-13.6-4.7h0m-.1 4.9h0m4.9-15h0m-1 2.5h0m23-23.8h0m-22.9 32.7h0m-4.7-1.8h0m12.5 2.4h0m-8.1-.2h0m2.1-2.7h0m8.2 1.4h0m-1.2-.5h0m-1-4.5h0m-5.5 6.6h0m-8.2-3.6h0m9.1 .7h0m-12.1-.6h0m7.3 4.6h0m2.6-2.6h0m-.6 4.9h0m-.1-1.3h0m-.8-4.3h0m-8.6 1.9h0m23.6 10.1h0m-14.1-16h0m20.9-.9h0m6-18.1h0m-24 31.8h0m-8.3-12.6h0m10.8 6.6h0m-8.9-4.7h0m16.4-5.8h0m-8.3 5.4h0m-11.1-2.2h0m5.1 5h0m1.6-.5h0m2.1 1.1h0m3.4-.7h0m4.1-5.9h0m-3.8 4h0m-10.5 4.8h0m25.3-13.1h0m-25.5 7.6h0m9.7-1.4h0m-7.9 7.5h0m-7 .4h0m5.6-3.9h0m.3-10h0m.3 13.4h0m2.1-3.3h0m-1.1-2.4h0m4 2.3h0m6.2-2.9h0m-6.5 .8h0m-2.3 2h0m23.2 8.7h0m-25.1-15.8h0m1 7.4h0m5.4 7.9h0m1.8-6.7h0m-5.3 4.4h0m-6.5-9.1h0m29.5-29.6h0m-27.6 29.1h0m1.2-.3h0m6.2 2.4h0m21.1-5.9h0m-21 5.8h0m-8.6 2.3h0m9.9-9.6h0" stroke="#dd2a20" stroke-width="0.51" stroke-linecap="square" stroke-opacity="0.75" fill="none"/>
<path d="M218.9 718.5h0m-1.6 5.7h0m-1.8-3.9h0m-3 4h0m9.5-.3h0m-14.1-3.3h0m7.5 0h0m8.7 4.6h0m-4.7 .5h0m-1-3.9h0m-4.5-2.9h0m1.7 7h0m-7-5.5h0m7.6-3.2h0m5.4 3.2h0m-9 5.4h0m-6.6-8.8h0m17.7 8.3h0m-4-7.6h0m7.5 8.1h0m-6.3-.5h0m17.6-36h0m-23.7 25.9h0m-3.1 12h0m4.3-.9h0m-1.1 1.9h0m4.8-5.8h0m6.9-.8h0m-2.4 1.1h0m-3.8-.5h0m1.4 4.7h0m-7.7-6.2h0m1.6 2.7h0m-.5-7.5h0m-8.1 .5h0m11.7 11.7h0m-11.4-14.1h0m3.6 6.1h0m18.3-1.1h0m-13.9 7.5h0m-12.6-3.9h0m12.4-5.6h0m1.9 6.5h0m8.7-16h0m-1.8 21.5h0m-5.5-10.6h0m5.9-1.6h0m1.2 6.1h0m-5.2-3h0m-.8-4.5h0m-.7 8.9h0m-7.9-3.8h0m19.2 3.9h0m-5.2-1.9h0m-15.1-2.9h0m26.7 2.6h0m-14-7.5h0m-6.4 2.9h0m15 3h0m-13.1-3.5h0m20.8-26.7h0m-23.8 32.7h0m-4.9-2.3h0m16.2-2.4h0m-8.3 3.3h0m4.9-2.7h0m24.3-27.5h0m-32.1 28.5h0m-2.7-2.6h0m9 4.4h0m-.5 .2h0m23.4-27.2h0m-37 31.1h0m22.4-7.6h0m-19.5 2h0m34.1-27.5h0m-24.1 26.2h0m-.2-1.9h0m2.3-2.8h0m-5.2 1.5h0m-5.6 3.7h0m10.6 9.1h0m2.8-7.3h0m-14.9 2.8h0m12.5-.6h0m-7.8-3.1h0m6.8-3.1h0m-1.3 0h0m4.4 5h0m-21.5 12.3h0m20.2-15.8h0m-10.3 6.7h0m-3.5-6.6h0m4.6 2.7h0m-2.1-10.3h0m3.5 12.5h0m.2-8.3h0m18.9 8.5h0m-11.3 .9h0m15.2-36.1h0m-24.1 32.2h0m29.5-30.9h0m-13.1 32.4h0m-16-4.6h0m23.5-23.4h0m-22.6 27.1h0m-1.5-2.7h0m-12.6 6.2h0m19.7-1.9h0m-2.6-4h0m10.9-33.9h0m-10.9 38.3h0m4.6 1.8h0m-15.6 .2h0m1.6-6.2h0m17.4-3.6h0m-9.5 5.3h0m4.3-2.4h0m-7.6 3.1h0m-.6-1.1h0m1 1.2h0m7.2 .2h0m.6 1.5h0m-6.9-6.6h0m2.3 7.8h0m-8.4-7.2h0m4.4-3.8h0m1.9 4.8h0m2.2 2.5h0m-3-7.1h0m3.3 10.8h0m1.1-4.9h0m-5.3 2.9h0m3.5 8.3h0m-6.3-24.9h0m1.5 22.1h0m20.8-5.8h0m-8.5-16h0m-12.6 9h0m3.7 5.3h0m9.9 1.8h0m-7.6-1.6h0m10.1 3.4h0m-14.4 .9h0m2-4.8h0m2.5-1.6h0m-3 9.1h0m23.7-34.1h0m-25 19.9h0m28.6-16.4h0m-21.8 24.5h0m-5.6-3.3h0m2.6 7.2h0m-10.6 1.7h0m13.7-12.2h0m-5.9 .1h0m7.1 6.6h0m2-.4h0m-7.7 .1h0m3.7 6.2h0m-9.7-9.1h0m.8 8.6h0m-1.2-2h0m-.7 5.3h0m3-10.5h0m-5 4.2h0m12.8-2.7h0m-1.4 1.2h0m8.6-2.3h0m-15.1-5.9h0m.3 10h0m10.5-9.5h0m-2.9 7.5h0m-7.6 .6h0m6.2-8h0m-6.6 4.8h0m21.9-.6h0m-20.2 7.7h0m-1.6-6.4h0m13.5-.5h0m-7.6-1.6h0m-3.4-3.6h0m2.8 3.1h0m10.9-8.2h0m-18.3 18.5h0m-2.9-6.5h0m6-11.5h0m10.5 .3h0m-1.2 17.5h0m.2-15.8h0m-21.6 15.6h0m24-7.5h0m-7.4 2.1h0m-.5 1.4h0m-.4-3.7h0m-4 4.1h0m15.7-22.1h0m-8.5 22.3h0m8.9-24.4h0m-17.4 14.4h0m9.4 8.9h0m2 .8h0m-12 3.2h0m.9-10.4h0m2.6 7.5h0m-.1-3.3h0m-2 2.6h0m2.8-6.4h0m3.3 2.7h0m6.3 4.6h0m-12.5-2.7h0m3.2 1.8h0m6.2 6.1h0m-6.9-7.4h0m2.4 .4h0m2.6-6h0m-6.5 7.5h0m2.3-2.3h0m-2.1-.7h0m2.4-2.4h0m-1.5 1.9h0m.1-4.1h0m3 8h0m-4-7.2h0m21.6-23.2h0m-21.2 28.9h0m10.8 2.8h0m-2.2-3.8h0m-14.6-3.5h0m10.6 5h0m2.4-3.9h0m-9.3 2.6h0m7.6 3.2h0m-1.4-8.6h0m4.4-15.1h0m1.2 28.2h0m-5.9-7.9h0m-5.3 .7h0m5.5-12.7h0m8.5 10.4h0m-6.8-4.2h0m16.7 6.2h0m-10.4 2.3h0m-11.3 .7h0m-3.6 3h0m3.7-8.5h0m28.8-31.3h0m-28.2 38.8h0m2-2.5h0m.6-4.1h0m-1.8-.7h0m-2-3.3h0m-2.1 6h0m.8-6.2h0m-7.2 1.9h0m10.6 8h0m-5.3-6h0m1.9-3.5h0m3.7-1.8h0m14.6 3.9h0m-4.8-1.4h0m-8 2.6h0m4.3 3.9h0m-1.6-4.1h0m-9.5-.8h0m12.8 4.4h0m-2.4 1.4h0m-4.2 .1h0m-.8-5.5h0m-7.3 1.1h0m4.7-3.8h0m-3.5 3.7h0m10.4 6.9h0m2.3 1.8h0m-.7-6.7h0m-8.2 4.8h0m-2.8-10.5h0m16.8-5.2h0m-15.1 .7h0m23.6-20.8h0m-23.4 20h0m2.7 10.2h0m12.8-9.8h0m-6.9 16.6h0m6.2-3.6h0m-16.7-6.7h0m5.9 8.7h0m2.9 1.1h0m-2.4-11.6h0m2.9 5.5h0m3.2 3.8h0m-10.3-1.3h0m6.3-2.6h0m-.1 5.2h0m-3.1-9h0m1.5 7.4h0m6.1-6.5h0m-20.3 4.9h0m19.1-2h0m-13-.1h0m4.6-2.3h0m18.4-14.2h0m-21.4 22.8h0m3-8.2h0m2.2 1.2h0m-4 .9h0m8.9 5.6h0m5.5-5.2h0m-8.3 1.2h0m-1.6-10h0m1.1 7h0m20.1-27.7h0m-29.3 23.3h0m3.2 1.3h0m7.8 1.2h0m-2.9 .2h0m-1.2 3.1h0m15.4-12.7h0m-13.8 10h0m-6.3-2.7h0m-1.8-1.3h0m6.7 5h0m-.4-2.5h0m-3.5 6.5h0m-5-4.1h0m4.3-3.8h0m22.7-22.8h0m-12.9 31.3h0m-5.9-3.1h0m-3.4-4h0m7.2 .5h0m2.6 6.4h0m-12.8-7.3h0m-4 5.5h0m8.7 0h0m.6-8.7h0m1.6 10.5h0m-4.5-4h0m9.9 .7h0m-4.9 7.4h0m-1.2-11.9h0m.7 .9h0m-.3 6h0" stroke="#dd2a20" stroke-width="0.65" stroke-linecap="square" stroke-opacity="0.75" fill="none"/>
<path d="M212.4 723.8h0m29.2 5.4h0m-23.2-1.9h0m12.5-40.9h0m-17.9 28.1h0m-1.5 .2h0m8.9-22.4h0m-9.3 17h0m16 5.1h0m11.7-27.2h0m-18.7 33.3h0m.9-2.5h0m-4.5 6.7h0m0-3.8h0m-7.7 3.3h0m2.9-3.3h0m6.5 .9h0m7.6-13.9h0m-4.1 24.5h0m-5.1-6.6h0m-7.1-8.3h0m22.6-33.4h0m.5 3.5h0m-22.1 42.4h0m7.2-8.9h0m1.5 1.8h0m24-25.6h0m-39.1-11.7h0m21.6 46h0m-10.3-44.1h0m.9 34.5h0m22.1 3h0m-4.6-1.1h0m-34.8-40h0m17.8 38.2h0m7 .9h0m-5.8-1.5h0m-4.6 .1h0m25.5-12.2h0m-22.9 12.2h0m.7 3.9h0m-4.2 .2h0m9.8-17.1h0m1.2 18.3h0m-16.9-9.2h0m14.6 6.4h0m5-26.2h0m-6.7 23.8h0m5.5-3.3h0m-9.6-5.1h0m4.2-19.8h0m-8.7 31.6h0m-11.2 7.9h0m25.9-19h0m-10.9 4.9h0m1.6 8.1h0m-9.2-10.5h0m11.9-23h0m-10.2 6.1h0m-.8-13.1h0m10.7 30.6h0m-8.3-2.2h0m.8 11.6h0m-3-14.8h0m21 15.2h0m-23-2.9h0m9.5-4.7h0m24.7-15.6h0m-14.1 21.7h0m-4-6.4h0m-4.2 3.4h0m3.7-15.6h0m-18.3 7.8h0m15.6-17.4h0m-18.2 32.6h0m21.1-13.8h0m-2.4 3.4h0m14.2-25.4h0m-22.1 5.6h0m13.4 19.3h0m-5.6-14h0m-1.8 15.4h0m-2.5-1.8h0m23.9-20.5h0m-32.1 23.6h0m27.2-27.4h0m-24 18.3h0m-2.2 5h0m-4.2-11h0m-.5 19.1h0m10.8-3.4h0m5.3 .3h0m9.3-33.5h0m8.4 37.5h0m-17.8-15h0m-3.4 14.9h0m11.6 7h0m-3.2-33.3h0m-20.2-10.6h0m10 6.6h0m26.1 9.1h0m-13.9-21.7h0m-6 39.9h0m-5.9-2.5h0m23.3-15.8h0m-22.2-21.9h0m-1.6 38.3h0m6.1 9.7h0m22.2-45.4h0m-41.7 46.3h0m26.5-10.9h0m-12.5-3.7h0m-3.7-.9h0m19.5 7.4h0m-28.7 6h0m14.9-25.1h0m28.4 12.6h0m-19.3-3.6h0m14.9-20.8h0m-21.8-.8h0m-1.7 1.6h0m-17.4 34h0m42.4-15.7h0m-28.6 9.3h0m22-18.5h0m-15.4 16.2h0m-19.2 9.8h0m38-38h0m-30.4 33.1h0m15.4-5.9h0m-15.8-4.7h0m-8.1 5.8h0m9.6 3.1h0m2.5-38.8h0m8.7 5h0m-21.2 1h0m14.4-5.9h0m18.8 10.9h0m-27.8-5.1h0m.7 14.1h0m-1.4 19.8h0m8.3-29.9h0m.1-5.6h0m18.8 28.1h0m-8.8 0h0m-13.5 12.5h0m30-33.6h0m6 32.6h0m-2.2 4.5h0m-28.3-6.9h0m-3.2-21.5h0m31.5 28.5h0m-13.5-2.9h0m12.7 2.8h0m-16.4-.7h0m.3-23.2h0m16.5-16.9h0m-27.6-2h0m-3.3 37.3h0m31.7-6.2h0m-39.3-6.3h0m5.2 .2h0m5.4 16.9h0m-6.4-21.5h0m11.1 19.2h0m-6.3-6h0m12.4-2.3h0m-13.7-31.4h0m.2 33.7h0m23.4-14.1h0m-20-23.8h0m4.6 5h0m-11 34.9h0m11.9 .3h0m-9.8-23.1h0m22.5 16.5h0m-3.1 8.1h0m-24.6-22.8h0m29.7-16.7h0m-5.7 21.4h0m-7.4 10.8h0m-12.9 .5h0m16.2-28.6h0m-9.7-4.2h0m9.7 45.5h0m-8.6-10.2h0m1.9-4.3h0m-1 9.3h0m-8.6-14h0m18.9 3.2h0m-9.1 8h0m6.8-4.2h0m-4.7-5.1h0m-3.6 4h0m25.5-3.1h0m-28.5 9.5h0m18.9-.6h0m-13.9-12.3h0m13.6-15.3h0m-4.4-3.7h0m-27.3 2.3h0m19.6 30.2h0m-2.1-8.7h0m-12.9-21.1h0m25.6 23.2h0m-11.8-4.8h0m23.5-6.2h0m-34.8 2.3h0m7.5 20.5h0m27.3-21.7h0m-14.4-3.8h0m-11.2 17.5h0m22.9-27.1h0m-15.3 29.9h0m10.9 6h0m-24.6-15.2h0m34-8.9h0m-16-4.5h0m-29 28.3h0m14.4-11h0" stroke="#ee6a5a" stroke-width="0.50" stroke-linecap="square" stroke-opacity="0.42" fill="none"/>
</g>
<rect x="199.50" y="683.50" width="46.00" height="50.00" fill="none" stroke="#a4a4a4" stroke-width="1"/>
<line x1="228.50" y1="683.50" x2="228.50" y2="733.50" stroke="#999" stroke-width="1"/>
<line x1="199.50" y1="701.50" x2="245.50" y2="701.50" stroke="#999" stroke-width="1"/>
<line x1="197.80" y1="733.40" x2="199.00" y2="733.40" stroke="#888" stroke-width="0.5"/>
<text transform="translate(197.40,732.80)" font-size="3.2" text-anchor="end" fill="#999" stroke="#999" stroke-width="0.08">1</text>
<line x1="199.00" y1="733.40" x2="199.00" y2="734.60" stroke="#888" stroke-width="0.5"/>
<text transform="translate(199.00,737.60)" font-size="3.0" text-anchor="middle" fill="#999" stroke="#999" stroke-width="0.08">10</text>
<line x1="197.80" y1="721.40" x2="199.00" y2="721.40" stroke="#888" stroke-width="0.5"/>
<text transform="translate(197.40,720.80)" font-size="3.2" text-anchor="end" fill="#999" stroke="#999" stroke-width="0.08">1</text>
<line x1="210.60" y1="733.40" x2="210.60" y2="734.60" stroke="#888" stroke-width="0.5"/>
<text transform="translate(210.60,737.60)" font-size="3.0" text-anchor="middle" fill="#999" stroke="#999" stroke-width="0.08">10</text>
<line x1="197.80" y1="709.40" x2="199.00" y2="709.40" stroke="#888" stroke-width="0.5"/>
<text transform="translate(197.40,708.80)" font-size="3.2" text-anchor="end" fill="#999" stroke="#999" stroke-width="0.08">1</text>
<line x1="222.20" y1="733.40" x2="222.20" y2="734.60" stroke="#888" stroke-width="0.5"/>
<text transform="translate(222.20,737.60)" font-size="3.0" text-anchor="middle" fill="#999" stroke="#999" stroke-width="0.08">10</text>
<line x1="197.80" y1="697.40" x2="199.00" y2="697.40" stroke="#888" stroke-width="0.5"/>
<text transform="translate(197.40,696.80)" font-size="3.2" text-anchor="end" fill="#999" stroke="#999" stroke-width="0.08">1</text>
<line x1="233.80" y1="733.40" x2="233.80" y2="734.60" stroke="#888" stroke-width="0.5"/>
<text transform="translate(233.80,737.60)" font-size="3.0" text-anchor="middle" fill="#999" stroke="#999" stroke-width="0.08">10</text>
<line x1="197.80" y1="685.40" x2="199.00" y2="685.40" stroke="#888" stroke-width="0.5"/>
<text transform="translate(197.40,684.80)" font-size="3.2" text-anchor="end" fill="#999" stroke="#999" stroke-width="0.08">1</text>
<line x1="245.40" y1="733.40" x2="245.40" y2="734.60" stroke="#888" stroke-width="0.5"/>
<text transform="translate(245.40,737.60)" font-size="3.0" text-anchor="middle" fill="#999" stroke="#999" stroke-width="0.08">10</text>
<clipPath id="c17"><rect x="272.30" y="600.00" width="46.40" height="50.40"/></clipPath><g clip-path="url(#c17)">
<rect x="272.30" y="600.00" width="46.40" height="50.40" fill="#ffffff"/>
<ellipse cx="292.3" cy="636.8" rx="7.9" ry="8.6" fill="url(#scG)"/>
<path d="M288.7 632.3h0m28.5-23h0m-25.8 23.4h0m17 13h0m-18.2-5h0m6.2-4.6h0m-8.8 8.5h0m2.6-3.6h0m-2.6 .5h0m-1.3-2.4h0m7.2 1h0m-7.9-6.6h0m9.4 2.1h0m4.6 5.3h0m-2.7-2.2h0m-6.6-3.4h0m-2.6 2.8h0m7.9 4.3h0m-.4-5.9h0m18.4-30.4h0m-15.9 32h0m-4.7 3.2h0m-13.3 3.9h0m12.3-5.2h0m3.9 .5h0m-12.8-6h0m9.7 4.1h0m-6.8-1.9h0m-1.5-.1h0m15.6 4.9h0m-12.5-6.1h0m6.5 3.5h0m20.9-32.4h0m-26.2 28h0m4.1 8h0m-.9-14.4h0m-3.2 9.4h0m-2.6-6.3h0m8.3 3.4h0m-1.7 3h0m1.6 0h0m8.5-7.5h0m-12.9 3.5h0m9.8-3.9h0m-6 6.3h0m4.7 .4h0m-2 2.8h0m-3.8-5.6h0m-2.3 7.4h0m-3.3-6.6h0m25.7-27.3h0m-19.8 34h0m-6.1-8.1h0m16.3-28h0m-14.2 34.6h0m9.1-2.9h0m-11.7 4.9h0m21.4-12.5h0m-21 1.3h0m6.4 8.6h0m-6.5-1.9h0m6.2 3.9h0m-.6-4.7h0m6.3 2h0m14.1-33.2h0m-24.7 39h0m8.6-8.1h0m-2.6 5.3h0m16-36.5h0m-17.5 31h0m4.8-8.4h0m7.4 11h0m-.1-6.9h0m-10.7 7.5h0m-7.5-3.3h0m12.4 1.2h0m.6-5.8h0m-1 6.3h0m-3.5-11.5h0m-5.5 14.5h0m5.7 1.4h0m-6.4-7.1h0m7.3 6.3h0m-8.1-16.8h0m6.1 13.9h0m0-5.2h0m11.1-26.1h0m-16.1 26.2h0m4.1 11.1h0m4.7-12.1h0m-3.5 13.7h0m.1-21h0m-4.9 7.2h0m.7 5.6h0m1.2-3.3h0m-4.5 .6h0m3.9 2.8h0m-3-7.9h0m9.3 9.1h0m-3.6 6.3h0m-.1-12.4h0m8.6-.6h0m-7.4 9.4h0m-2.7-.7h0m5.7 2.6h0m3.4-11.5h0m.9-6.4h0m-9.1 15.1h0m1.1-4.8h0m16.3-28.9h0m-1 11.1h0m-13.2 18.3h0m-9.9 4.3h0m23.2-37.1h0m-12.2 36.3h0m-6.2-6.7h0m-7.9-4.8h0m25.3-21.9h0m-18.3 33h0m8.1-19.1h0m10.8 13.3h0m-13.7 13.4h0m7.1-.3h0m-7.9-10.4h0m-4 2.2h0m-2.2 4.7h0m8.1-12.3h0m-10.4 1.5h0m5.2 3h0m8.2-7.3h0m-3.2 15.8h0m-10.5-.4h0m10.5-2.7h0m-10.1-7.9h0m8.9-.2h0m.2 5.7h0m3.8-1h0m-7.2 10.8h0m6.8-6h0m-5.3-11.7h0m-.6 16.3h0m12.4-37.6h0m-16 30.5h0m16.7-6.4h0m-10.3 3.5h0m-.4-9.4h0m2.5 3.8h0m-1.7-3.8h0m-3.8 7h0m1.9 4.2h0m-3.5 5.7h0m6-5.9h0m-6.1-2.7h0m-3.5 2.9h0m6.2-3.7h0m-10 1.3h0m16.7 7.8h0m-13.3-1.8h0m3.6-11.4h0m4.5 4.2h0m3.4-11.3h0m-8.7 15.9h0m1.9-3.8h0m14.7-28.4h0m-3 28.2h0m-6.1 8.5h0m-2.9-12.8h0m1.3 12h0m-2.1 1.3h0m8.6-5.2h0m-9.1-3.9h0m7.7 9.6h0m-11.4-10.7h0m-4.9-11.7h0m14.1 23.4h0m-6.4-8.4h0m4.8-11.2h0m-.5 12.4h0m11.9-35.1h0m-12.3 33h0m-.7-3.1h0m9-10.4h0m-16 12h0m3.5 6.4h0m1.1-4.8h0m-2.3-.5h0m5.8 1.5h0m.6 1.9h0m0-7.8h0m-6.3 0h0m7.3 7.8h0m-8.1 4.2h0m6.2-6.2h0m.3-3.7h0m-5.2 6.7h0m4.3 2.8h0m.5-.9h0m-7.8-8.5h0m.4-.3h0m4.5 .9h0m7.5-28.9h0m-14.9 31.2h0m7.1-.7h0m10.5 5.5h0m-5.5-6.2h0m-7.6 1.1h0m30.6-31.4h0m-30.3 38.6h0m4.7 5.8h0m5.8-15.9h0m-.8-5.5h0m-2.7 9.5h0m2-9.5h0m0-22.3h0m-5.4 33.1h0m.4-3.5h0m16-31.2h0m-21.2 31.7h0m27.7-13.1h0m-27.6 16.6h0m-.3 2.2h0m-4.3-2.4h0m4.6-6.6h0m2.4 1.9h0m28.9-9.7h0m-24.2 9.9h0m-3-.1h0m1-.7h0m13.1-28.5h0m-19.1 27.8h0m-1.4 5.4h0m5.9 2.8h0m-3.5-.2h0m5.1-12.2h0m-.3 8.7h0m-.1-11h0m1.7 3.7h0m-5.8-11.3h0m3.4 26h0m3-9.2h0m8.8-9h0m-8.2 6.3h0m-2.8-9.1h0m-8 9.5h0m16.9-7.9h0m7.1 14.4h0m-21.4-.9h0m.4-.2h0m.6 0h0m17.5-34.4h0m-19.7 26.8h0m2.8 5.6h0m3.9-2.4h0m-2.3 4.2h0m25.1-34.4h0m-24.2 29.7h0m7.4 2.7h0m-6.6-3h0m-5.6 7.3h0m4.1-1.5h0m7.7-11h0m-11.2 7.8h0m4.4 .8h0m-.3-7.1h0m7.9 1.3h0m-16.5 7.3h0m-.4-.3h0m11.8-11.2h0m-6.9 10.4h0m6.5-2.8h0m-3.1 4.8h0m.4 .1h0m25.8-6.3h0m-2.8-27.9h0m-16.4 21.7h0m-12.5 11.1h0m3.5 3.4h0m3.5-10.5h0m-2.1 10.3h0m6.6-6.2h0m-4.2-1.3h0m-.4 5.8h0m-3.5-3.3h0m11.4-2.4h0m-1.8 2.6h0m-9.1 3.7h0m1.3-3.7h0m3.6-8.9h0m-1.1 7.1h0m-.1 4.4h0m-5.6 3.6h0m8.7-10.3h0m-5.1 5.1h0m-7.3-3.8h0m10.2-3.9h0m3.7 0h0m-8.9 5.9h0m8.3-4.2h0m1-2.5h0m-5.2 2.3h0m7.6-1.4h0m-11.6-.5h0m2.8 5.8h0m.1 2.4h0m-1.3-1.3h0m8.7-2.4h0m-7.9-2.7h0m.5 6.3h0m7.3-3.6h0m-18.6-1.6h0m16.8 13.4h0m2.5-17.7h0m-7.3 11.4h0m-2-1.9h0m.7-3.7h0m-5.6-3.8h0m3.8 .3h0m-4.6 4h0m21.6 0h0m-19.7 6.9h0m12.6-6h0m-10.3 3.1h0" stroke="#dd2a20" stroke-width="0.51" stroke-linecap="square" stroke-opacity="0.75" fill="none"/>
<path d="M295.9 634.5h0m-9.3 1.9h0m6.7 4.1h0m21.8-18h0m-29 16.4h0m8.8 2h0m.8-1.1h0m.7-5.7h0m-4 10h0m1.4-12.3h0m9-26.2h0m-15.6 32.1h0m22.9-31h0m-5.7-1.1h0m-27.1 37.5h0m20.2-14h0m-13.3 6h0m26.3-9.9h0m-24.8 13.3h0m1.9-7.8h0m-2.8 20.1h0m5.5-15h0m9 2h0m-9.3-5.5h0m11.6 11.4h0m-16.8-12h0m8.5-.5h0m1.3-.9h0m4.5-22.6h0m-9 35.9h0m-.6-.8h0m-6.5-3.4h0m29.5-31.7h0m.1-3.9h0m-15.1 30.4h0m6.1-1.6h0m8.8 9.4h0m-27.7-12.6h0m13.6 10.3h0m-5.4-6.3h0m.9 11.1h0m.9-8.3h0m-5.2-5.8h0m-.2 2.2h0m5.3 9.9h0m13.9-37h0m-9.9 34h0m13.1-34.3h0m-11.6 23.2h0m-12.9 4.5h0m6.1-3.8h0m-6.7 9.4h0m.6-1.7h0m16.2 2.1h0m-13.4-3.3h0m-.6 6.2h0m-2.2-5.5h0m3.6 1.6h0m1.3-8.9h0m2.9 9.1h0m3.1 1.9h0m-1.5-9.3h0m5.1-23.2h0m-12.4 30.6h0m4.9 3.5h0m-8.4-9.5h0m11.9 9.3h0m-6.6 .3h0m4.8-1h0m-1.2-9h0m.7-.8h0m11.1-26.4h0m-18.1 30.9h0m10.9 7.4h0m-6.6-4.4h0m8.9-33.4h0m-9.6 34.4h0m-1.9-5.7h0m-2.3 .7h0m6.6-2.3h0m-.8 5.5h0m19.7-34.3h0m-16.8 39.5h0m-9.2-14.6h0m5.7 18.6h0m-3.1-19.6h0m1.5 8.5h0m3.7 .7h0m-9.2 .1h0m10.3 .1h0m-6.8 2.7h0m3.5-.5h0m4.5-1.9h0m8.4-.1h0m3.8-31.8h0m-10.3 31h0m-18.3 1.4h0m11.5 2.1h0m-6.4-7.4h0m16.9 4.7h0m-5.9-7h0m-8.8 0h0m11.5 2.5h0m-6.7 10.4h0m1.4-20.8h0m6.9 16.3h0m9.7-33.1h0m-9.7 43.4h0m2.5-22.1h0m-14.6 10.4h0m-1.8 6.4h0m15.9 2h0m-7.7-13.7h0m-.8 3.8h0m-1.1 .4h0m3.1-.1h0m14.2-31.1h0m-26.2 40.7h0m14.8-18.3h0m-2.6 12.5h0m20.9-31.9h0m-26.9 30.8h0m10.2-11h0m-2.8 10.7h0m-8.4-1.9h0m-.9-1.4h0m-2.8 .6h0m7.8-.4h0m-10.5 11h0m4.8-10.1h0m2.3 3.4h0m3.4-13.5h0m1.5 18.2h0m-.3-6.3h0m-13.7-.8h0m3.3 1.3h0m17.8-5.7h0m-11.6 9.1h0m2.2 5.4h0m19.5-42.8h0m-20 32h0m1.2 3.3h0m-1-2.1h0m2.7 2h0m.2-7.4h0m-3.8 3.9h0m6.9 2.4h0m-5.1-5.3h0m-3.9-3.9h0m-3.9 .1h0m28.7-23h0m-24.2 29.6h0m3.8 8.2h0m13.6-37.1h0m-12.3 13.1h0m-7.1 11.3h0m3.2 1.7h0m-.5 16.5h0m1.8-12.6h0m6.1-.4h0m8.6-6.5h0m-7.1 5.6h0m7.2-27.5h0m-12.9 37.7h0m-3.3-11.8h0m12.2-1.6h0m-6.2-.6h0m1.3 2.3h0m-4.9-12.2h0m4.1 22.9h0m-8.8-1.1h0m3.6-11.9h0m.6-5.2h0m-7.9 13.5h0m8.5-6.6h0m-5.1-1.7h0m6.9 3h0m1.7 5.7h0m-12.2-5.5h0m3.9 6h0m2.7-.4h0m6.4-19.6h0m-3.8 16.9h0m-2.5-9.9h0m1.3 4.6h0m-2.1 6.2h0m-5.9-2.5h0m7.7 4.7h0m1.7-17.9h0m-9.5 26h0m12.5-9.9h0m-6.6-7.8h0m5 4.3h0m7.3-27.3h0m-15.3 24.9h0m15.2 4.4h0m-9.5 13.4h0m-7.4-13.7h0m8.7-1h0m-8.2 1.3h0m.9 .6h0m-3.1-1.5h0m27.8-32.2h0m-23.2 31.8h0m.2 7.1h0m4.7-15.1h0m-5.3 17.3h0m-5.5 2.7h0m7.5-7.8h0m.3-11.5h0m23.9 4.4h0m-22.3 2.8h0m13.4-9.5h0m-12.8 .5h0m1.6 4.6h0m-9 7.7h0m6.5-9.2h0m-.6 8.2h0m5.8-2.4h0m12.2-32.1h0m-11.9 31.3h0m-8.4 4.8h0m18.2-35h0m-21 30.9h0m19.3-30.5h0m1.9 23.3h0m-14.2 6h0m-.7-5.4h0m5 7.2h0m14.2-8.3h0m-15.4 4.4h0m-5.2-1.6h0m2.9 1.1h0m-4.5 3.3h0m4.5 5.2h0m-3.9 3h0m4.7-12.9h0m3.8 2.3h0m-9.6 .2h0m2 7.8h0m-3.9 .3h0m.2-2.6h0m-1-2.9h0m29.9-3.6h0m-27.2 4.2h0m-2.2-1.7h0m6.3 .6h0m-4.7 5.8h0m8.4-11.3h0m-3 3.2h0m23.6-26.7h0m-23.4 36.8h0m.8-13.8h0m-3 7h0m1.2-5.7h0m-3.1-2.2h0m11.5 2.8h0m-6 .5h0m4.2-12h0m-11.4 18.3h0m5.8 .8h0m13.3-35.5h0m-15.6 27.2h0m-6.5 9.6h0m7.8 1.4h0m-1.5-2.5h0m3.4 2h0m10.2-25.9h0m-11.2 28.8h0m-7.2-.5h0m13-3h0m-9.3-7.1h0m-.8 2.1h0m.9 3.2h0m-3.2-7.1h0m.5-.8h0m11.6 2.8h0m1.1-11.4h0m-5.9 16.2h0m-5.4-1h0m1.5 8.7h0m6.4-8.4h0m-7.7 10.1h0m2-16.6h0m.8 10.3h0m-2.6 1.7h0m4.7-4.7h0m.7-6.2h0m-.8 18.5h0m1.9-9.5h0m7-13.9h0m-9.5 7.8h0m-3.8 7.2h0m15.8-13.2h0m-8.1-5.9h0m-9 14.4h0m5 2.9h0m2.1-3.5h0m3.8-7h0m15-24.9h0m-25.8 21.8h0m-2.8 7.3h0m9.7 .6h0m-6-6.5h0m.3 10.3h0m-.1 2h0m-5-2.3h0m13.4-3.3h0m-9 6.1h0m-6.1-3.2h0m12.5 2.1h0m-2.6-5.9h0m2.8-2.6h0m-4.2 8.8h0m-.3 1.3h0m-.3-4.7h0m18-32.3h0m-14.3 34.7h0m9.4-7.8h0m-12.1 7.8h0m-13.3-2h0m11.3-1.3h0m5.3-1.9h0m.7 11.3h0m-8.9-17.8h0m5.2 7h0m14.3-9.5h0" stroke="#dd2a20" stroke-width="0.65" stroke-linecap="square" stroke-opacity="0.75" fill="none"/>
<path d="M286.0 629.7h0m21.4-.3h0m-6.8-13.4h0m7.6-12.8h0m-16.1 38.3h0m14.8 3.8h0m-16.5-8.3h0m23.2-.5h0m-22.3 3.2h0m-1.7-35.6h0m3.4 31.7h0m14.6-21.4h0m-23.1 21h0m11.6-.4h0m8.5-14.3h0m-12.8 16.7h0m-7.9 6.9h0m6.5-4.7h0m-6.8-16.3h0m2.8 18.1h0m4.8 .1h0m-1.4-35.7h0m24.2 6.8h0m-28.3 23.7h0m9.8-2h0m1.1 2.6h0m-4.9 9.8h0m-2.2-8.2h0m1.3-2.3h0m-2.2-.1h0m-3.8 1.5h0m27.2-26h0m-18.7 21.6h0m.4 9.2h0m2.5-6.7h0m-8.6-19.1h0m2.7 6.5h0m5.2 11.1h0m-16.7 16.1h0m10.7-.3h0m.8-22.9h0m-2.7 16h0m-14.1-41.9h0m32.7 6.5h0m-5.6 16h0m.8 9h0m-8.6 1.6h0m-11.2-17.3h0m7.9 27.9h0m-11.5-30.1h0m38.7 6.9h0m-6.5 24.2h0m-30.3-19.2h0m24.4 14.7h0m3.4-33.5h0m-32.9 14.3h0m32.1 18.6h0m-11.8-14.5h0m8.6 1.6h0m-20.5 6.3h0m9.7 2.6h0m8.7-36.1h0m11 15h0m2.6-12.6h0m-20.3 .9h0m6.7 36.5h0m3.3-19h0m-10-11.6h0m-5.9 19.7h0m4-1.6h0m1.6 8.5h0m-6.4-1.8h0m9.7-22.6h0m-10.4 27.3h0m-11.3-14.8h0m27.4-19.5h0m-9.4 25.6h0m10.5-28.6h0m-8.9 37.5h0m-5.7-12.8h0m-11.2-5.1h0m4.5 6.2h0m27.2-23.7h0m-20.4 33.9h0m3.7 2.1h0m4-11.5h0m-11.6-1.9h0m.4-2.7h0m22.2-6.3h0m-9.4 10.7h0m-4.6 3.4h0m6.6-13.9h0m-14.3 18.8h0m24.6-5h0m-24.7 4.2h0m3.6 6.4h0m13.2-41.6h0m-18.3 43.3h0m11.4-10.4h0m-20.5-8.3h0m11.5 8.9h0m7.4 10.2h0m-10.9-13.4h0m7.1 9.8h0m25.2-6.3h0m-43.7-16.6h0m26.6-10.1h0m-9.1 33.1h0m27.8-34.1h0m-42.2 42.2h0m28.5-6.6h0m-9.3-14.8h0m11.8-27.1h0m-14.3 47.7h0m8.5-31.2h0m6.5 19.9h0m-15.5-23.2h0m16.1 27.6h0m-9.4 .3h0m16.1 3.1h0m-28.3 5h0m5.4-16.1h0m-1.4 16h0m4.2-24.5h0m14.5 6h0m-25.7-11.4h0m-8.8 7h0m14 11h0m10.3-9.8h0m-5.7 7h0m-5.3 7.5h0m23.6-19.2h0m1.3-5.5h0m-32.6 22.4h0m18-2.6h0m-2.3 .4h0m17.2-26h0m-17.2 24.4h0m-12.6-7.1h0m-6.6 2.2h0m37.4 18.3h0m1.6-42.4h0m-20.4-.1h0m20.3 29h0m-33.8-22.1h0m35.5-8h0m-29.1 35.2h0m3-17.7h0m23.5 25.7h0m-23.4-9.4h0m13.4 10h0m-20-5h0m.3-40.7h0m4.7 32h0m2.3-5.1h0m3 9.8h0m-9-30h0m-.9 23.1h0m25.3-16.2h0m-19 12.1h0m10-8h0m5 2.2h0m-1.1 20.3h0m-11-12.6h0m20.1 16.2h0m-39.1-33.6h0m6.9 25.2h0m-9.2-33.2h0m12 26.3h0m-9.2 8.4h0m1.3-28.7h0m6.2 17.4h0m5.4 7h0m-3.2-36h0m10.5 46.5h0m.1-7.1h0m-7.2-33.2h0m-11.9 23.6h0m14.2 11.1h0m-16.9 7.3h0m18.1-12.7h0m-.1 10.9h0m14.9-21.4h0m-21.2 14.4h0m11.9-6h0m-7.4 2.6h0m-.1-.2h0m-1.3-14.9h0m16.7 7.1h0m4.8-20.8h0m-23.2 17.9h0m30.5-13h0m-44 21.3h0m6.6-13.1h0m8.7 1h0m-2.6 12.3h0m-8.6 12.5h0m17.6-12.4h0m4.1-4.5h0m-13 1.4h0m2.1-24.1h0m3.3 29.8h0m-10.9-6.3h0m32.1-14.3h0m-17.5 31.2h0m-4.7-11.1h0m21.9-30.1h0m-8.4 30.2h0m-11.4-5.7h0m2.7 1.1h0m1.5-5.8h0m-7.2 15.3h0m-10 3.3h0m-5.2-9.8h0m8.4 0h0m-.2-15h0m19.6 11.6h0m8.2 11.4h0m-20.2-37.7h0m-13.4 30.8h0m10.9-14.3h0m-9.7-7.9h0m37 17.3h0m-23.6 .8h0m12.9 2.6h0m-7.2-30.2h0m-3.1 12.2h0m-11.6 16.8h0m14.4 5.9h0m-5.3-8.9h0m-2.4-.1h0m23.4-11.4h0m-12.3-14.1h0m13.8 18.3h0m2.2 7.3h0m-25.3 18.5h0m3-16.9h0m7.5 3.3h0m7.3 11.5h0m-17-11.4h0" stroke="#ee6a5a" stroke-width="0.50" stroke-linecap="square" stroke-opacity="0.42" fill="none"/>
</g>
<rect x="272.50" y="600.50" width="46.00" height="50.00" fill="none" stroke="#a4a4a4" stroke-width="1"/>
<line x1="302.50" y1="600.50" x2="302.50" y2="650.50" stroke="#999" stroke-width="1"/>
<line x1="272.50" y1="617.50" x2="318.50" y2="617.50" stroke="#999" stroke-width="1"/>
<line x1="271.10" y1="650.40" x2="272.30" y2="650.40" stroke="#888" stroke-width="0.5"/>
<text transform="translate(270.70,649.80)" font-size="3.2" text-anchor="end" fill="#999" stroke="#999" stroke-width="0.08">1</text>
<line x1="272.30" y1="650.40" x2="272.30" y2="651.60" stroke="#888" stroke-width="0.5"/>
<text transform="translate(272.30,654.60)" font-size="3.0" text-anchor="middle" fill="#999" stroke="#999" stroke-width="0.08">10</text>
<line x1="271.10" y1="638.40" x2="272.30" y2="638.40" stroke="#888" stroke-width="0.5"/>
<text transform="translate(270.70,637.80)" font-size="3.2" text-anchor="end" fill="#999" stroke="#999" stroke-width="0.08">1</text>
<line x1="283.90" y1="650.40" x2="283.90" y2="651.60" stroke="#888" stroke-width="0.5"/>
<text transform="translate(283.90,654.60)" font-size="3.0" text-anchor="middle" fill="#999" stroke="#999" stroke-width="0.08">10</text>
<line x1="271.10" y1="626.40" x2="272.30" y2="626.40" stroke="#888" stroke-width="0.5"/>
<text transform="translate(270.70,625.80)" font-size="3.2" text-anchor="end" fill="#999" stroke="#999" stroke-width="0.08">1</text>
<line x1="295.50" y1="650.40" x2="295.50" y2="651.60" stroke="#888" stroke-width="0.5"/>
<text transform="translate(295.50,654.60)" font-size="3.0" text-anchor="middle" fill="#999" stroke="#999" stroke-width="0.08">10</text>
<line x1="271.10" y1="614.40" x2="272.30" y2="614.40" stroke="#888" stroke-width="0.5"/>
<text transform="translate(270.70,613.80)" font-size="3.2" text-anchor="end" fill="#999" stroke="#999" stroke-width="0.08">1</text>
<line x1="307.10" y1="650.40" x2="307.10" y2="651.60" stroke="#888" stroke-width="0.5"/>
<text transform="translate(307.10,654.60)" font-size="3.0" text-anchor="middle" fill="#999" stroke="#999" stroke-width="0.08">10</text>
<line x1="271.10" y1="602.40" x2="272.30" y2="602.40" stroke="#888" stroke-width="0.5"/>
<text transform="translate(270.70,601.80)" font-size="3.2" text-anchor="end" fill="#999" stroke="#999" stroke-width="0.08">1</text>
<line x1="318.70" y1="650.40" x2="318.70" y2="651.60" stroke="#888" stroke-width="0.5"/>
<text transform="translate(318.70,654.60)" font-size="3.0" text-anchor="middle" fill="#999" stroke="#999" stroke-width="0.08">10</text>
<clipPath id="c18"><rect x="272.30" y="683.00" width="46.40" height="50.40"/></clipPath><g clip-path="url(#c18)">
<rect x="272.30" y="683.00" width="46.40" height="50.40" fill="#ffffff"/>
<ellipse cx="291.8" cy="720.8" rx="6.3" ry="6.0" fill="url(#scG)"/>
<path d="M292.6 719.0h0m-.3 5.5h0m0-1.6h0m1.7 6.5h0m-3.2-16h0m3.2 7.4h0m-5.2 .8h0m28.5-33.9h0m-22.8 33.8h0m-.4 4.3h0m1.5-4.3h0m-9.8 6.8h0m5.2-7.8h0m2.3-2.2h0m1.9-1.9h0m-7.6 3.2h0m4 3.3h0m2 3.7h0m-4.4-8.9h0m-2.3 2.5h0m-.3 3.6h0m7.1-3.4h0m2.6-4.4h0m-6.7 7.2h0m5.5-6h0m-5.8 8.2h0m19.5-21.4h0m-20.4 19.6h0m-.6 2.3h0m2.2-1.4h0m1-2.6h0m-2.3 2.6h0m5.3-8.2h0m-1.2 4.6h0m0-1.8h0m3.5 .6h0m-3.9 4.5h0m-3.4-5.7h0m6.2-1.2h0m-3.7 7.3h0m3.1-11h0m-5.7 1.2h0m13.1 8.2h0m-8.1-7.4h0m3.7 3h0m-9.7 9.3h0m-3.1-23.2h0m5.9 22.3h0m6.1-4.6h0m-5-8.5h0m-7.5 6.3h0m4.7 1.5h0m.8-2.8h0m-3.4 3.8h0m.9-3.6h0m14.3-10.3h0m-11.8 9.8h0m5 1.4h0m-5.4 1.7h0m.2 2.4h0m1.3 1.5h0m4.2-3.1h0m-6.5-1.9h0m4.4 4.9h0m.6-10.8h0m1.8 7h0m-7.3-4.4h0m-10.2 9h0m14.9-6.6h0m-.3 1.4h0m-4.8-2.4h0m2 4.8h0m.1-1.4h0m8.1 .3h0m14.8-35.7h0m-11 32.3h0m-10.3 2.1h0m4 7h0m-8.6-12.2h0m3.7 1.8h0m2.6-.1h0m6.9-5.1h0m-6.5 3.3h0m-4.2 3.3h0m8.1-14.2h0m-1.9 23h0m-2.5-2.4h0m-4.6-8.7h0m7.3 6h0m2.6-.5h0m-7.1 1.3h0m3.6-9.4h0m-4.1 9.9h0m4.3-4.6h0m-3.9 0h0m2-3.2h0m-5 6.6h0m.2 2.9h0m4.7-4.8h0m-2.4 3.6h0m1.4-4.1h0m2.4-2.5h0m-7.4-1.2h0m10 7.4h0m-5.1 1.1h0m-2.1 0h0m2.1-3.8h0m21.2-30.5h0m-22.7 22.4h0m7.9 4.4h0m-11.9 4.5h0m6-5.4h0m-.7 7.5h0m-1-5.6h0m1.1 1.6h0m-5 1.9h0m-3.5-2.1h0m11.6 3.4h0m-9.9-4.9h0m7.7-.6h0m-4.1-22.2h0m2.9 30.5h0m-1.1-3.2h0m4.1 1.7h0m.2-6.3h0m-4.8 3.5h0m10.1-29.7h0m-6.8 14.7h0m19.7-15.8h0m-19.6 29.3h0m1.2-5.6h0m-5 3.5h0m4 4.1h0m3.5-15.6h0m-3.5 14.9h0m8-3h0m-4.9-.8h0m-3.7 3.1h0m-5.7 1.4h0m5.1-4.3h0m3.9 2.4h0m-7.2-.3h0m4.2 .1h0m2.5-2.6h0m18.8-22h0m-25.7 26.3h0m-.1 .4h0m1.1 0h0m3.7-.2h0m-2.7 1.9h0m17.2-36.6h0m-12.2 36.1h0m-11.4-6.9h0m.6 1.9h0m4.5-.3h0m1.4-.6h0m-3.1 7h0m2.9-11h0m3.6 8.3h0m6.9-9.8h0m-8.5 8.2h0m-5.6 4.2h0m5.1-1.9h0m-8.2-4.2h0m12.4-2.7h0m-6.4 4.5h0m1.6 4.7h0m.7-1.3h0m2.2-.8h0m-4.9-3.8h0m.8-.7h0m.5 .1h0m3.2 1.4h0m-7 1.8h0m6.6-1.7h0m-7.3-.8h0m3.9 2.5h0m2.3-1.9h0m-.9 3.8h0m1.5-3.9h0m-.2-2.4h0m-.8 5.3h0m-5.6 3.5h0m1.7-7.3h0m27.9-26h0m-24.6 20.7h0m4.1 7.1h0m-4.2-.7h0m-5.2 .8h0m7.6 2.8h0m.2-1.6h0m-.9 2.4h0m-5-.7h0m7.5-3.8h0m.6 2.2h0m13.5-9.5h0m-23.5 12.6h0m-.5-3h0m22.2-28.9h0m5.9 .2h0m-26.4 25.4h0m1.4-2.9h0m-.9 7.9h0m6.1-2.2h0m-3.4-6.1h0m-.5 6.8h0m4.4-3h0m-1.1 2.6h0m-3.2-7.1h0m2.7-.8h0m1.6 7.5h0m.6-2.8h0m-1.5 3.5h0m-12.2-12.1h0m18.7 11.3h0m-8.6-7.8h0m2.5 7.2h0m-1.3 3.7h0m-1.7-4h0m-2.3 .4h0m.8 5.1h0m4.3-5.9h0m1-9.9h0m-8.7 9.6h0m14.8-4.6h0m-10.7 8.3h0m5.1-1.6h0m-5.3-.2h0m5.8-1.2h0m-2.5 2.4h0m5.1-4.2h0m-4.1-3.9h0m4.1 2.5h0m-5.7 4h0m-1.2-.7h0m-6.5 .4h0m4.5-4.6h0m3.5 6.2h0m-3.3-6.6h0m4.1 5h0m-7.8-1.4h0m-1.6 1h0m8.3-.2h0m4 2.2h0m-5.1 .9h0m-6.1-4.1h0m12.9 .8h0m-8.3-7.6h0m3.2 9.1h0m-.7 4.6h0m-2.5-9.2h0m-4.2 .6h0m3 .7h0m16.1 1.1h0m-8.5 1.2h0m-10.3-1.4h0m24 1.9h0m-16.8-1.1h0m-.1 5.5h0m-4.4-.9h0m8.5-6h0m-9.6 8.8h0m16.6-34.7h0m-19 27h0m2.9 1.9h0m-1.8-2.7h0m14 2.3h0m-12.2-1.6h0m4 2.6h0m-6.8 3.2h0m5.7-7h0m-.3-5.9h0m-16.2 20.3h0m17.7-15.4h0m-2.7 2.4h0m-4.2 1.5h0m27.3-32.8h0m-17.8 29.3h0m5.3-.7h0m-11.3 1.5h0m1.4 7.9h0m3.2-1.4h0m-5.6-8.5h0m28.6-23h0m-24 26.8h0m17.1-29.4h0m-21 29h0m8.7-.4h0m-6 7.8h0m8.9-2.9h0m-8.1-8.9h0m.4 7.5h0" stroke="#dd2a20" stroke-width="0.51" stroke-linecap="square" stroke-opacity="0.75" fill="none"/>
<path d="M292.0 717.0h0m.9-.9h0m-8.9 .8h0m29-25.2h0m-22 25.3h0m2.9 5.3h0m-4.7 1.7h0m7.3-3.3h0m5.2-16.4h0m-14.9 18.1h0m-.5 3.9h0m14.9-2.2h0m-2.7-4.1h0m-7.8 1.3h0m-2.9-8.1h0m-.8 1.8h0m.7 8.5h0m-1-3h0m3.4 5h0m-2.9 1h0m31.7-34.9h0m-27.4 34.7h0m2.6-6.1h0m1.7 5h0m-5.6-4.8h0m3.5-.5h0m5.9-5.4h0m-6 8.9h0m.9-1.8h0m12.6-5.9h0m-16.1 5.9h0m-4.6-.5h0m5.2 1.7h0m.6-3.3h0m19.4-27.3h0m-21.6 28.7h0m3.9 4.4h0m1.7-7.3h0m2.1 5.3h0m-19.1-10.2h0m12.6 8.5h0m1.5 5.5h0m-4.9-8.7h0m17.3 1.5h0m-16.4-.2h0m-5.5 4.7h0m4.4-1.5h0m24.3-31.2h0m-19.6 28.5h0m-.5 3.3h0m-1 1.8h0m20.2-34.7h0m-15.5 30.4h0m-2.9 1.9h0m-8.8-1.5h0m12.8-1.5h0m-8.2 2.4h0m3.4 2.6h0m5.9-2h0m-4.4-.7h0m-.6-3.5h0m-.8 1.4h0m-8.3 3.8h0m6-3.6h0m18.1-28.1h0m-10 31.8h0m.4-5.7h0m-3.2 1h0m15.2-26.8h0m-16.9 25.2h0m-.2-.4h0m-2.2 5.3h0m6.2 .8h0m-4.1-.9h0m-4 .5h0m6.3-1.4h0m-3 1.1h0m-2.8-6.3h0m4.4 .9h0m1.3 4.4h0m-2.8-2.5h0m-2.7 .4h0m6.8 2.7h0m-2.1 3.3h0m-4-3.5h0m9.6-1.6h0m-9.3-4h0m-.4 6.9h0m-.1-4.2h0m4.6-2.7h0m22.5-22.1h0m-16.7 22.5h0m-10.4-1.9h0m1.4 5.1h0m1.2-4h0m2.4 4.4h0m0-10.1h0m0 15.6h0m-2.3 2.8h0m1.1-4.6h0m-2-2.4h0m18.3-29.4h0m-23.1 28.7h0m3.6-1.8h0m2.5-7.6h0m-1.4 2.6h0m-6.3 7.1h0m7 0h0m-1.2-.2h0m17.5-28.7h0m-11.3 30.7h0m2.2-28.4h0m-10.2 29.7h0m8.2-.6h0m-3.5-6.9h0m-2 4.6h0m.2 7.1h0m2.2-14.4h0m2.3 9.6h0m-2.7-4.5h0m20.8-28.1h0m-17.1 27.8h0m-12.6 12.5h0m28.3-41.9h0m-26 29.4h0m6.9 6h0m-2.7-4h0m-4.4 2h0m1-5.7h0m3 2.1h0m2.4 3h0m-3.3 7.3h0m9.1-10h0m-10.8 3.3h0m.5 0h0m7.8-.7h0m-5.4 3.8h0m20.3 1.1h0m-9.1-27.8h0m-9.2 23.2h0m4.5-6.1h0m-3.7 1h0m14.6-6.9h0m-15 9.6h0m-1.5-1.7h0m20.4-32.5h0m-24.2 44.1h0m2.2-5.2h0m.5-3.3h0m-.1-6.6h0m-2.9-2h0m-3.7 7.8h0m6.8-6.3h0m2.4-1.2h0m3.9 9h0m-8.3-1.8h0m-1.6 1.3h0m5.9-2h0m22.7-.8h0m-23.5 .9h0m.5-1.8h0m-7.7-.5h0m5.7-1.5h0m3.1 3.6h0m-5.7 5.6h0m16.8-19.7h0m-20.9 13.2h0m-2.9 5h0m23-36.3h0m-6.3 33h0m-4.7 2.3h0m-.2-1h0m11-32.4h0m-12.4 33.2h0m-1.9-1.4h0m10.1-5.5h0m8.1-23.5h0m-12.4 29.1h0m-2.8-1.3h0m2.3 0h0m-3.6-.9h0m-4.1 3.6h0m.4 2.3h0m2.3-33.9h0m21.9-1.3h0m-21.5 29.8h0m.2-7.5h0m-4.7 10.4h0m17.9-27.9h0m-19.2 19.9h0m7.5 4h0m14.2-21.5h0m-18.4 19.8h0m5.6 .6h0m-2.1 9.5h0m2.3-6.5h0m1.6-2.1h0m-4.4-.2h0m18-22.6h0m-21.5 19.9h0m.9 1.6h0m-2.2 7.1h0m9-5.2h0m3.5 3.7h0m-6.9-2.3h0m1.8-1.1h0m-7.3 1h0m11.5 0h0m-4.4 4h0m-7.6-4.2h0m3.6-3.1h0m-.3 8.1h0m4.2 1.1h0m-6.2-9.6h0m5.7 4.5h0m-5.3-.8h0m6.6 5.8h0m3.5-4.9h0m-9-.2h0m5.3-.5h0m-3.5-.2h0m1.2 .6h0m-1.2-9.8h0m5 13.1h0m-1.6-2.9h0m-1.7-1.9h0m-6.1 3.2h0m4.6-2.7h0m28.5-1.7h0m-28.4 2.7h0m.1-.3h0m19-30.7h0m-17.7 30.7h0m3-5.1h0m-2.7 8.7h0m5.7-1.5h0m-5.6 2.1h0m-1.9-7.4h0m-.5 4.8h0m-1-2.6h0m4.1-1.4h0m.5 6.7h0m20.9-31.9h0m-18.7 27.7h0m-5.3-1.4h0m.6 2.8h0m-.3-3.9h0m-.3 4.6h0m1.3 .4h0m25.6-28.5h0m-17.2-4.3h0m-13.9 27.2h0m7.4 6.2h0m-1.2-10.6h0m-11.8 10.3h0m9 1.6h0m2.7-3.3h0m-.6-4.4h0m-4.2 2.1h0m7.5 4.8h0m-1.2-8.4h0m1-1.3h0m-2.3 5h0m3.1 3h0m-8.9-.6h0m6.1 3h0m-1.4 .9h0m5.1-3.8h0m-7.8 .5h0m-.5-2.2h0m.7 1.9h0m22.6-28.9h0m-20.4 31.2h0m-1.6-2.9h0m6.8-2.3h0m-9.4 3.2h0m32.6-13.4h0m-26.8 16.5h0m.6-10.1h0m-3.5-.7h0m6.2 2.2h0m-.7 2.8h0m6.3 2.4h0m-11.6 .7h0m4.2 3.9h0m-.1-10.5h0m-.9 5.4h0m6.1-1.7h0m-7.1-1.7h0m2.4 2h0m-7 1.4h0m4 8.7h0m-.3-13.9h0m2.4 6.1h0m1 2.1h0m-11.4 .5h0m2.7 1.8h0m9-14h0m3.9 12.7h0m-2.5-4.2h0m-7.1 2.9h0m-13.6 2.1h0m42.1-36.5h0m-28.6 34.6h0m.3-3.4h0m.4-4.4h0m-4.2 2.4h0" stroke="#dd2a20" stroke-width="0.65" stroke-linecap="square" stroke-opacity="0.75" fill="none"/>
<path d="M294.7 726.1h0m-13.8-9.5h0m5 .3h0m2.5 3.3h0m12.9 3.5h0m-2.2-11.1h0m-17.3 16h0m-8.2 2.3h0m32.6-38.7h0m-14.6-8.5h0m25.7 24.5h0m-28.4 15.6h0m1-3.3h0m-1.4-1.7h0m-.9 4.2h0m22.7-14.1h0m-37.7-16.7h0m8.5 14.8h0m-7.2-13.4h0m14.8 10.5h0m11.1 16.9h0m-.5-25h0m-14.3 19.6h0m-4.1-6.6h0m15.1 8.7h0m-1.1 6.5h0m-20.2-34.1h0m18 27.7h0m-4.6 4.9h0m17.2-12.5h0m-4.5 21.5h0m-14.7-18h0m-3.2 6.2h0m25.7 2.2h0m-15.3-15.2h0m-18.1 12.9h0m20.8-36h0m6.4 42.7h0m-20.3-19.7h0m10.7 17.7h0m-7.9 6.7h0m33.8-13.3h0m-25.9 8.5h0m19.7-37.3h0m-20.7 34.2h0m25.3-21.2h0m-41.4 .3h0m12.7 12.4h0m29.2-4.3h0m-28.8 17.4h0m16.1-.2h0m4.4-33.2h0m-23.3 2.6h0m7.2 23.6h0m-15.5-27.1h0m10.1 2.8h0m1.5 25.8h0m22.2 5.6h0m-23-7.2h0m-5.9-4.6h0m11.6 5.1h0m.2-18h0m-20.2 8h0m13.3 .8h0m8.4 14.2h0m-21.6-28.2h0m37.1-3.5h0m-35.4 18.4h0m44.9-17.2h0m-32.9 32.3h0m6-31.4h0m12.9 24.4h0m-9.7-4h0m-23.6-31.3h0m42.4 34.8h0m-42.1-32.4h0m3.2 16.4h0m12.5 16.9h0m4.4 3.9h0m-4.6 3.2h0m28-37.9h0m-34.6 34.4h0m30.5-39h0m-23.5 25.9h0m-14.4-21.5h0m26.6 40h0m-24.2-17h0m10.8 19h0m29.1-20h0m-36.8 7.3h0m24.1-32.9h0m8 33.3h0m5-32.7h0m-17.4 7.1h0m-4.3 33.2h0m-7.2-7.5h0m1.4-4h0m-16.6-21.1h0m4.2 33.9h0m-4.1-.7h0m21.3-1h0m-2.2 1.5h0m-3-4.5h0m-4.2-30.9h0m-.3 29.5h0m17-13.4h0m-4.9 17.2h0m2.6-4h0m-21.6 4.5h0m38-6.1h0m-25.9-11.2h0m-4.6-23.9h0m-10 3.9h0m20.3 34.2h0m-.8 1.4h0m15.8-13.2h0m-27-19.4h0m6.7 .8h0m-1.9 35.8h0m1.6-6.4h0m24.8-27.9h0m.9 26.2h0m-24.4-3.4h0m15.2 3h0m-22 .7h0m8.8-6.2h0m.7 4.2h0m-1.6 3.5h0m-.6-4h0m24.1-16.7h0m-2.3 14.1h0m-.3 5.7h0m-26.6-1.4h0m-2.2 3.8h0m26.2 3.2h0m-.4-34.3h0m-8.4 3.9h0m-13 23.9h0m7.8-2.7h0m-2.1-6.2h0m23.2 5.9h0m-7.9 3.6h0m-24-.3h0m18.7-23h0m-7.5-5.1h0m.5 25.7h0m-3.8-10.2h0m3.8 8.2h0m-11.8 3.3h0m21.1-30.3h0m-19.3-3.1h0m4.6 36.1h0m-18.9-31.4h0m15.1 34.6h0m-15.9 .6h0m2.1-26h0m15.1 .2h0m-3.4 16.9h0m8.1 .9h0m-8.8-15.3h0m-1.1 7.4h0m21.7-20.8h0m-18 34.8h0m-2.3-2.1h0m12.7-4.9h0m15.4-24.3h0m-25.5 29.8h0m-2.7-5.1h0m18.9 10h0m-12.3-5.9h0m-1.5-6.4h0m17.1-10.8h0m-15.2-1.2h0m5.2 15.4h0m19.1-7.3h0m-27.7 9.7h0m-.2-3.7h0m1.8 7.4h0m23.8-37.9h0m-25.7 37.5h0m14.6-7.5h0m-15 4h0m-7.2-2.9h0m5.2 2.3h0m13.6 0h0m-13.9 9.4h0m1.9-39.9h0m21-6.4h0m-24.7 7.8h0m18 6.1h0m-6 27.2h0m-8.6-4.7h0m5.7-34.7h0m4.3 45.1h0m-24.1-27.1h0m13.7 15.2h0m21.6-26.6h0m-37.2 30.5h0m16.2-3h0m1.7 9.8h0m26.6-4.1h0m-23.7-35.7h0m12 43h0m-2.9-44h0m-3.5 34.6h0m-4.4-1.3h0m1.2-6h0m20.4-21h0m-30.3 26.5h0m2.1-37.3h0m5.9 6.7h0m-5.5 22.7h0m6 7.5h0m-4-5.6h0m8.7-22h0m-1.2 27.8h0m15.7-13.6h0m-13.3-3.6h0m-26.8-11.9h0m40 28.6h0" stroke="#ee6a5a" stroke-width="0.50" stroke-linecap="square" stroke-opacity="0.42" fill="none"/>
</g>
<rect x="272.50" y="683.50" width="46.00" height="50.00" fill="none" stroke="#a4a4a4" stroke-width="1"/>
<line x1="302.50" y1="683.50" x2="302.50" y2="733.50" stroke="#999" stroke-width="1"/>
<line x1="272.50" y1="701.50" x2="318.50" y2="701.50" stroke="#999" stroke-width="1"/>
<line x1="271.10" y1="733.40" x2="272.30" y2="733.40" stroke="#888" stroke-width="0.5"/>
<text transform="translate(270.70,732.80)" font-size="3.2" text-anchor="end" fill="#999" stroke="#999" stroke-width="0.08">1</text>
<line x1="272.30" y1="733.40" x2="272.30" y2="734.60" stroke="#888" stroke-width="0.5"/>
<text transform="translate(272.30,737.60)" font-size="3.0" text-anchor="middle" fill="#999" stroke="#999" stroke-width="0.08">10</text>
<line x1="271.10" y1="721.40" x2="272.30" y2="721.40" stroke="#888" stroke-width="0.5"/>
<text transform="translate(270.70,720.80)" font-size="3.2" text-anchor="end" fill="#999" stroke="#999" stroke-width="0.08">1</text>
<line x1="283.90" y1="733.40" x2="283.90" y2="734.60" stroke="#888" stroke-width="0.5"/>
<text transform="translate(283.90,737.60)" font-size="3.0" text-anchor="middle" fill="#999" stroke="#999" stroke-width="0.08">10</text>
<line x1="271.10" y1="709.40" x2="272.30" y2="709.40" stroke="#888" stroke-width="0.5"/>
<text transform="translate(270.70,708.80)" font-size="3.2" text-anchor="end" fill="#999" stroke="#999" stroke-width="0.08">1</text>
<line x1="295.50" y1="733.40" x2="295.50" y2="734.60" stroke="#888" stroke-width="0.5"/>
<text transform="translate(295.50,737.60)" font-size="3.0" text-anchor="middle" fill="#999" stroke="#999" stroke-width="0.08">10</text>
<line x1="271.10" y1="697.40" x2="272.30" y2="697.40" stroke="#888" stroke-width="0.5"/>
<text transform="translate(270.70,696.80)" font-size="3.2" text-anchor="end" fill="#999" stroke="#999" stroke-width="0.08">1</text>
<line x1="307.10" y1="733.40" x2="307.10" y2="734.60" stroke="#888" stroke-width="0.5"/>
<text transform="translate(307.10,737.60)" font-size="3.0" text-anchor="middle" fill="#999" stroke="#999" stroke-width="0.08">10</text>
<line x1="271.10" y1="685.40" x2="272.30" y2="685.40" stroke="#888" stroke-width="0.5"/>
<text transform="translate(270.70,684.80)" font-size="3.2" text-anchor="end" fill="#999" stroke="#999" stroke-width="0.08">1</text>
<line x1="318.70" y1="733.40" x2="318.70" y2="734.60" stroke="#888" stroke-width="0.5"/>
<text transform="translate(318.70,737.60)" font-size="3.0" text-anchor="middle" fill="#999" stroke="#999" stroke-width="0.08">10</text>
<clipPath id="c19"><rect x="340.30" y="600.00" width="46.40" height="50.40"/></clipPath><g clip-path="url(#c19)">
<rect x="340.30" y="600.00" width="46.40" height="50.40" fill="#ffffff"/>
<ellipse cx="349.6" cy="641.3" rx="6.3" ry="12.0" fill="url(#scG)"/>
<path d="M349.3 634.4h0m2.2 14.9h0m26.5-22.1h0m-32.6 18.6h0m5.6-7.8h0m15.6-4.6h0m1.3-5.6h0m-3.7 2.1h0m-19.3 10.6h0m5.5 3.8h0m-6.6 4.3h0m.6 .2h0m5.4 .3h0m6.3-1.6h0m-11.7-.8h0m15.1-14.9h0m-8.5-1.2h0m-8.2 5.3h0m3-6.2h0m29-2.1h0m-26.2 14.6h0m17.5-18h0m-18.9 16.9h0m5.9 3.9h0m-5.1-2.1h0m15.6-5.7h0m-13.2-1.4h0m-1.5 .4h0m-2.9 5.2h0m8.3 3.8h0m-4-21.6h0m19.1 11.3h0m2.6-3.8h0m-27.2 .2h0m1.7 10.7h0m8.1-.3h0m18-13.1h0m7-5.8h0m-25.3 8.3h0m-4.9 .8h0m-.4 12.2h0m-4.4-3.2h0m9.1-1.4h0m29.7-16.6h0m-32 15.6h0m-7.2-.2h0m1.7-1.8h0m7.6-13.6h0m14.8 8.1h0m-18 15.8h0m5.7-7.3h0m6.9-12.4h0m-13.8 16.4h0m.4-9.2h0m6.9 12.8h0m-3-10.2h0m.5 .2h0m-10.4 1.8h0m4.4-10.6h0m3.1 12.3h0m3.1-8.6h0m13.4-9h0m-14.2 24.4h0m5.9-17.6h0m-10.7-3.3h0m3.4 20.7h0m17.3-17.1h0m-7.2-9.4h0m-11 25.8h0m-5.1-10.3h0m24.9-8.2h0m-12.8 6.3h0m19.8-14h0m-1.6 5.6h0m-12.9 6.6h0m-7.9 1.9h0m4.7-3.5h0m-10 .7h0m-.6 19h0m-10.2-.2h0m7.8-1.2h0m10.8-18.1h0m6.7-6.6h0m-18.6 28.3h0m34.9-31h0m-29.8 26.3h0m18.7-19.8h0m-9.4 17.3h0m-9.7-13.7h0m-6.2-2.8h0m6.3 22.3h0m3.1-9.1h0m-.6-10.3h0m-7.4 .9h0m6.2-.7h0m.8 .8h0m21.3-3.7h0m-21.9 20.9h0m-1.7-15.1h0m-3.8 6.4h0m4.1-6.4h0m23.5-12h0m5.4 .9h0m-29.7 7.8h0m2.6 9.6h0m-9.9-10.5h0m4.3-3.9h0m-.5 5.1h0m35.1-2.8h0m-34.9 1.4h0m2.8 12.2h0m23.9-15h0m-23.8 7.2h0m.9 5.5h0m-4.1 2.6h0m4.9-1.2h0m-9.7 .6h0m31.7-14.8h0m-27.7 12.5h0m6.4 12.5h0m21.1-25.7h0m-4.5 8.7h0m-19.5-4.7h0m-1.3 9.9h0m2.4-1.8h0m1.1-.9h0m-2.4 9.8h0m23.3-18.3h0m-18.2 20.1h0m-3.7-6.2h0m-2.8-2.6h0m2.3-12.5h0m2.9 12.1h0m21.5-13.4h0m-25.7-2.2h0m8.1 19.8h0m16-19h0m-19.5-.5h0m-.1 15.1h0m18.5-15.9h0m-22.7 21.5h0m-2.7-9.4h0m-4.6-4.1h0m11.7 4h0m24.4-12.6h0m-28.8 18.4h0m13.7-14.7h0m-10.5 10.4h0m-5.7 1.9h0m2.2-10.8h0m-2.2 15.9h0m12.4-13.2h0m-18.9 9.1h0m6.8-8.1h0m8.5 8.7h0m-8.7-3.5h0m9.2 2.9h0m4-11.4h0m13.9-3.1h0m-25.4 17.5h0m-1.4-3.6h0m13-12h0m18.1-3.3h0m-31 17.3h0m-1.3-10.9h0m18.1-6h0m-19.3 5.1h0m3 8h0m1.3-13.9h0m-5.7 4.1h0m4.8 15.1h0m2-1.2h0m28.5-22.1h0m-28.5 22.1h0m20.5-8h0m-15 13.8h0m-6.7-18.4h0m1.1 17.1h0m2.1-13.4h0m3.4-3h0m-10.4 6.2h0m13.1-6.2h0m-16.9 7.4h0m16.4-2.7h0m1.7-2.2h0m6.6-4.6h0m-16.4 17.7h0m-2.6-7.7h0m19.5-13.9h0m7.7 7.5h0m-22.2 9.6h0m-1 4.3h0m-.2-4.9h0m-2.8-3.5h0m-2.1 .2h0m17.5-20h0m-15.5 18.5h0m20.5-9.9h0m-15.1 12.6h0m-5.5 2.3h0m2 5.6h0m14.2-9.9h0m-16 11.1h0m11.6-15.2h0m-13.2 3.2h0m3.2 .1h0m-.2 7.5h0m1.1-10h0m-4.5 7.8h0m25.3-16.1h0m-21.8 10h0m-.7 4.4h0m-3.9-.5h0m10.4-1.7h0m-5.6 9.7h0m17.9-22h0m-19.1 12.6h0m-4.5 4.7h0m2.6-3h0m8.5 6.2h0m-7.9-6.9h0m6.7-1.7h0m7.1-10.5h0m-10.9 23.5h0m.5-9.1h0m1.1-13h0m-1.4 9.3h0m2.8 1h0m12.2-12.8h0m13-.8h0m-22.1 3.3h0m-5.8 16.6h0m3.4-1.9h0m.4-14.1h0m-10.1 19.5h0m2-13.2h0m15.4-8.4h0m16.7 2.1h0m-30.8 14.3h0m19-15.9h0m-8.9 21.8h0m-6.9-7.7h0m18.4-8.4h0m-1.9-13.5h0m-17.6 27h0m30.5-14.8h0m-27.9-3.8h0m-2.3 6.3h0m9.9-1.5h0m9.9-10.9h0m-18.4 11.3h0m-.6 4.5h0m-3.2 5.7h0m10-13.3h0m-9.7 8.3h0m8.3-8.4h0m-.5 .9h0m5.2 .4h0m-17.1 10.5h0m4.9 11h0m.4-27.1h0m-1 16.1h0m-3.2-10.6h0m33.3-9.3h0m-28.1 11.4h0m7.4 8.9h0m8.9-21h0m-12.7 22.9h0m-6-5.5h0m2 8.4h0m-7.7-9.3h0m10.4 8.7h0m.1-10h0m-5.1 8.6h0m22.6-8.9h0m-23.6 6.9h0m1.1-2h0m5.5-4.1h0m11-9.4h0m-17.8 8.6h0m-1.3 1.2h0m3.1-.1h0m31.2-14.8h0m-34.7 26.9h0m21.3-21.9h0m-16.7-.2h0m9.6 3.4h0m-3.9 11.9h0m-4.1 1.8h0m-4.3 6.4h0m3.9-5h0m-2.3 7.1h0m2.4-8.6h0m4.4 7.1h0m10.3-23.8h0m-17.4 8h0m3.1 1.2h0m-2.9 9.7h0m6.5-7.2h0m-3.9 2.5h0m2.9-3.5h0m-4.3 .6h0m.1-5.8h0m4.3 13.7h0m-6.4-8.7h0m21.9-3.6h0m-22.3-8h0m8.6 16.4h0m-5.6 4.8h0m5.3-17h0m-5.3 1.6h0m3.8 9.9h0m-4.4-10.7h0m5.9 4.5h0m0 13.3h0m-4-7.1h0m2.9-8.7h0m-6.6 11.4h0m3.9-6.8h0m19.9-14.4h0m-23.2 25.6h0m4.3-16.1h0m5.7-5.9h0m-1.5 6.6h0m-3.1 7.8h0m22-14.8h0m-6.7 3.9h0m-13.8 16.7h0m14-19.6h0m-13.7 14.1h0m22.6-9.5h0m-22.3-3h0m11.8-5h0m-15.6 18.3h0m-4.4-5.9h0m4.8-4.7h0m22.3-6.1h0m-27.8 23.7h0m2.1-19.3h0m25.6-9h0m-27.3 15.7h0m10.8 12.9h0m6.9-18.2h0m-8.3 14.1h0m-4.8-9.9h0m-.4 7.9h0m27.4-22.2h0m-31.9 8.5h0m24.5-5.9h0m-14.9 14.6h0m25.5-13.4h0m-25.8 19.2h0m-6.1-4.9h0m31.3-16.7h0m-29.7 19.2h0m-.7-1.6h0m-2.8-5.5h0m4.8 8.7h0m7.6-8.8h0m-11 6.5h0m2.3-18.4h0m-4.6 22.4h0m8.8-15.5h0m-7.6 5.9h0m8.3 8.1h0m14.4-18.1h0m-11.9 1.2h0m-7.7 3.7h0m9-3.2h0m-11.2 21.4h0m6.8-6.7h0m1-15.9h0m3.4-1.8h0m-9.8 9.7h0m-3.7-1h0m1.9 8.3h0m-.4-2.2h0m2.8-.1h0m.2 7.4h0m3.9-10.9h0m1.6-.3h0m-5.2 1.4h0m2.4-4.2h0m17.8-11.9h0m-22.6 13.7h0m2.3 .6h0m4.2 2.2h0m24.6-3.2h0m-27.8 13.2h0m12.5-25.5h0m-17 21.8h0m18.9-19.9h0m-18.4 27.6h0m-4.3-11.5h0m4.7 1h0m1.4-9.3h0m6.5-1.5h0m1.2 3h0m-10.9-2.6h0m1.9 13.5h0m-.3 3.1h0m-.6 1.7h0m1.6-10.1h0m-2 2h0m6.9-5.4h0m-7.2 8h0m6 4.7h0m-12.6-13.1h0m10.4-7.4h0m22.9-5.3h0m-14.9 5.6h0m-10.2 9h0m23.6-7.4h0m-25 15.1h0m.1-13.4h0m34.9-13.2h0m-13.5 12.9h0m-5.1-.2h0m-.4 5.2h0m-8 5.5h0m-7.2-9.3h0m18.5-10.4h0m-21.8 23.7h0m2.9-12.6h0m28.5-5.2h0m2.4-7.1h0m-26.2 24.7h0" stroke="#dd2a20" stroke-width="0.51" stroke-linecap="square" stroke-opacity="0.75" fill="none"/>
<path d="M350.2 643.1h0m22.4-20h0m-23.5 10.5h0m2.7 15.3h0m7.2-19.9h0m-11 18.3h0m4.8-13.6h0m0 10.3h0m-2.2-2h0m26-9.5h0m-23.7 4.2h0m-6.1 4.9h0m.3-1.4h0m.6 .8h0m34.2-11.5h0m-33.8 12.8h0m6.5 4.7h0m1.3-21h0m-4.7 24h0m.8 1.5h0m34.9-22.4h0m-36.7 17h0m-1-8.3h0m1.2 11.6h0m15.4-23.4h0m-11.4 9.6h0m-5.7-2.3h0m4.3 4.6h0m12.2-9.3h0m-21.5 11.4h0m27.9-13.2h0m-24.7 18.5h0m4.2 .1h0m6.6-7.6h0m-1.2 2.5h0m-11.7 1.2h0m20.1-11.8h0m-19.7 3.7h0m3.1 8h0m5.7-7.5h0m-4 6.7h0m13.7-9.2h0m-6.2 .5h0m16.2-11.5h0m-26 13.9h0m.2 7.3h0m28-18.9h0m-31.3 11.5h0m8.5-6.8h0m-10.9 11.9h0m5.1-5.8h0m5.8-.6h0m19-6.8h0m-16.7-1.6h0m-11.4 13.4h0m6.5 7.2h0m1.9-1.2h0m-6.8-2.5h0m5.7-6.5h0m-2.8 16h0m1.9-7.4h0m-2.1-7.6h0m-.8 3.2h0m-.8-13.1h0m.9 24h0m8.3-4.1h0m-5.7 .6h0m3.7-14.5h0m23-4.7h0m1.8-5.7h0m-5.4 7.9h0m-32.7 .1h0m10.2 14.8h0m2.8-5.2h0m-6.5 1.8h0m2.6-9.8h0m2.2 13.6h0m-3-23.8h0m8.6 5.1h0m-7.4 14.7h0m.4 4.5h0m-.6 2.9h0m28.1-23.8h0m-35.7 18.6h0m10.3-3.1h0m6.2-8.8h0m-13 16.3h0m2.6-11.1h0m.2 8.1h0m3.2 2h0m7.7-14.5h0m-12.1 11.5h0m2.5-9.9h0m25.8-11h0m-25 19.5h0m-3.7-1h0m-2.5 .1h0m17.2-8h0m-10.4 12.5h0m-6.2-7.6h0m15.7-1.5h0m-14.9 7.1h0m-.2 .5h0m-2.4-6.4h0m7.2 2.2h0m-.4 6.4h0m4-2.8h0m7.5-12.5h0m-17.3 3.2h0m8.3-.1h0m-6.7 6h0m-3.7 4.9h0m23.9-17.2h0m-15.7 12.3h0m1 10.3h0m11.9-21.6h0m-16.7 13.6h0m26-16.4h0m-16.2 13.4h0m-9.1 .7h0m18.7-22h0m-18.1 31.1h0m-1.1-7.8h0m23.5-13h0m7.6-2.1h0m-24.3 13.2h0m3 3.4h0m-3.8-5.4h0m-6.6 0h0m10.4 1.5h0m-5.4-.6h0m22.5-12.5h0m4.7 5.5h0m-29.9 8h0m16.4-17h0m-13.9 22.3h0m1.7 7.6h0m13.2-27.1h0m-17.5 11.6h0m13.8-7.9h0m-8.2 10h0m-7.3 4h0m4.5 1.3h0m-2.8 2h0m-1.6-7.3h0m26.3-9.2h0m-20.6 8.1h0m-5.8-2.7h0m.6-2.5h0m-2.3 2.1h0m21.7-8h0m-18.1 12.1h0m1.9-13.7h0m12.7 3.9h0m-15.3 19.8h0m1.6-17.6h0m-1.8 8.6h0m4.4-1.7h0m-6.4-.5h0m21.2-2.7h0m10.8-6.6h0m-32.6 4.4h0m-1.2 15.2h0m2.3 1.4h0m4.4-20.8h0m5.2 15h0m-8.9-1.5h0m20.9-12.2h0m-16 7.9h0m-6.6 11.1h0m22.1-21.9h0m-21.2 8.1h0m4.3 5.9h0m4.5-13.5h0m-11.4 5.1h0m13.7-8.2h0m-10.3 23.7h0m.9-9.5h0m26.4-12.5h0m-29.5 2.4h0m20.3 12.1h0m-13.6-1.1h0m24.3-11.1h0m-17.2-1.8h0m-8.4 20.7h0m0-7.3h0m-3 5.3h0m3.4-5.4h0m2.7 1h0m-5.4-6.2h0m2.1 5.8h0m-.3-2.8h0m.3-12.3h0m27.3-.5h0m-29.3 27h0m.1-15.1h0m5.9 7.1h0m2.1-19.6h0m-2.8 20.6h0m2-3.5h0m-8.3-10.9h0m4.6 14.1h0m-3.8-5.1h0m-2 7.2h0m22.1-21.7h0m-16.9 19.5h0m-3.6-2.2h0m4.4-8.7h0m3.8 10.1h0m-6.4 5.3h0m19-23.4h0m-15.4 23.7h0m-1.7-16.7h0m8.9 2.6h0m-15.7 2.9h0m7 9h0m.2-8.5h0m-4.3 7.2h0m3.1-11h0m-3.8 4.5h0m-3.6-4.9h0m33.3-14.5h0m-20.3 25h0m-5.8-23.7h0m4.9 25.7h0m-9.1-2.7h0m1.9-4.1h0m3.1-5.9h0m21.3-.7h0m-26.2-.5h0m6.2 9.6h0m-4.7-2.5h0m3.6 1.7h0m1.4 7.1h0m-.3-7.6h0m-4.4 2.2h0m.1-5.3h0m-1.2 .8h0m2-6.7h0m5.9 11.5h0m17.8-17.4h0m-3.7 4.1h0m1.5-2.4h0m-16.7 11h0m2.1 4.5h0m8.4-13.3h0m2.9-1.6h0m-20.3 6.8h0m26.9-8.8h0m-26.4 12.3h0m-.5-7.9h0m0 12.1h0m4.8-13.3h0m-5.2 14.4h0m.5 3.4h0m7.4-15.2h0m-1.5 8h0m-.6 2.6h0m16.8-12.9h0m-5.5-6.7h0m-12.3 9.5h0m3 1h0m-.9 10.7h0m-.7-14.2h0m18.1 11.8h0m-21.7 6.1h0m.3 0h0m6.8-3.7h0m-12.6-6.4h0m2.3 12.5h0m34.5-28.8h0m-32.1 20.2h0m15.4-13.1h0m-12 10.3h0m13.6-14.2h0m-12.4 6.1h0m-1 17.4h0m.9-13.2h0m-7.9 5.7h0m6.1 3.3h0m-.9-5.6h0m13.1-10h0m-8.4 18.1h0m12.7-23.5h0m-11.2 19.8h0m21.3-20.3h0m-27.6 28.9h0m3.5-19.4h0m11.4-7.3h0m-19.3 16.1h0m2.5-2.6h0m12.1-16.1h0m-8 9.4h0m3.8-.2h0m10.2-4.4h0m-14.8 5h0m-9.1 6h0m.5 7h0m15.6-9.9h0m-10.3-3.6h0m1.1 12.8h0m1.4-8.2h0m-9.9 1.4h0m35.3-15.1h0m-20.8 11.3h0m-5.3 2.7h0m1.7 1.3h0m21.7-11.7h0m-22.3 13.3h0m5.2-9.8h0m-5.9 15.6h0m27.8-21.4h0m-28.6 27.2h0m1-22.1h0m5.8 23.2h0m-6.8-23.2h0m10.6 7.2h0m-13.1 .9h0m6 6.4h0m-2.5 .9h0m0 1.1h0m-2 1h0m.2-6.7h0m1.1-6.4h0m-.6 5.5h0m4.8 .6h0m-.9-4.2h0m12.3-5.8h0m-13.9 4.5h0m-8.1 10.6h0m6.3-1.1h0m.6-6.8h0m2.2-5h0m-7.4 3.8h0m5.5 5.7h0m1.5 8.7h0m-.3-6.6h0m19.6-13.7h0m-19.5 12h0m5.5-12.5h0m3.1-7.5h0m15.4 12.8h0m-5.8-11.4h0m-9.3 11.3h0m3.1-3.5h0m2.7 2.8h0m-16.6 4.6h0m2.7-5.6h0m6.1 9.8h0m12.5-18h0m-10.1 12h0m-7.3 3.8h0m-6.5 5.8h0m-1.4-24.3h0m.3 26h0m2.2-9h0m-.9-3h0m1.4-2.5h0m2.9 2.7h0m2.1 5.1h0m-14 3.2h0m9.5 .3h0m-.4 3.6h0m4.7 .5h0m-6.6-3h0m3.8-19.8h0m2.9 22.6h0m-1.9-7.6h0m12.5-3.1h0m-20.9 9.6h0m9.5-1.1h0m-6-24h0m1.7 4.6h0m25.1 7.8h0m-28.2 7h0m3.1-1.6h0m2.9-4.7h0m-.6 4h0m-3.1 4.2h0m13.8-18.4h0m.2 5.5h0m-10.6 7.7h0m-8.3 10.6h0m5.6-.6h0m-1.3-2.7h0m19.3-22.6h0m-22.6 20.3h0m14.8-11.8h0m2.2-1h0m-2.2-2h0m-11.9 3.9h0m5 11.8h0m1.6-10.1h0m4.8 .1h0m-2.7-10.8h0m1.4 18.9h0m-9.1-2.2h0m7.9-3.3h0m-5.4 1.2h0m2.8-7.8h0m-6.2 18.7h0m11.8-14.2h0m-12.5 7.4h0m7.5 1.3h0m-6.9 2.8h0m18.8-18h0m-12.6 11.7h0m23.4-18.9h0m-24.7 19.4h0m-7 7.3h0m2.6-8.7h0m28.1-10.1h0m-29.6 7.6h0m2.5 3.6h0m6.5-10.1h0m-6.8 18.8h0m1.6-17.1h0m3.2-5.4h0m-.6 17.8h0m14.5-11.2h0m-20.1 14.4h0m2.2-8.2h0m1.5-4h0m22.7-8.5h0m-24.3 14.7h0m0 1.5h0m6-2.1h0m-3.7 5.9h0m-1.9-6h0m20-15.7h0m-21.1 7.9h0m25-9.9h0m-26.3 18h0m6.1-10.6h0m15.6 3h0m18.1-10.7h0m-35.3 23.5h0m-.3-8.9h0m-2.7-.6h0m1.9-14.3h0m.7 18.3h0m-2.8 3.5h0m3.6 .1h0" stroke="#dd2a20" stroke-width="0.65" stroke-linecap="square" stroke-opacity="0.75" fill="none"/>
<path d="M374.1 625.2h0m-26.8 18.3h0m.8 2.1h0m6.1-36.2h0m-3.9 32.6h0m4.2-10.9h0m-14 1.6h0m40-1h0m2.4 6.3h0m-10.1-11.2h0m-5.4 9.3h0m-16.7 7.9h0m16.1-16.2h0m3.8-27h0m-12.8 10.8h0m-9.2 19.1h0m-.6 15.4h0m3-10.6h0m25.9-14h0m-6.6-.2h0m-14-8.6h0m10.6 17.7h0m-14.4-26.9h0m-4.4 8h0m17.5 35.2h0m-12.6 2.4h0m32.1-26.4h0m-28.2 20.3h0m18.4-15.6h0m1.8-3.6h0m-19.7-2.7h0m14.9 4.2h0m-26 18.7h0m-3-2.1h0m10.7-3.4h0m31.4-11.6h0m-39.9 17.1h0m22.9-23.5h0m.2 17.7h0m-17.7-11.4h0m17.7-10.6h0m-4.4 8.1h0m-14.8 2.8h0m25.1-19.7h0m-20.2 28.3h0m25-12.4h0m4.8 17.3h0m-17.1-9.8h0m-8 13h0m-18.4-11.4h0m9.2 7.9h0m14.7-5h0m2.6-7.9h0m-10.4 .9h0m-2.2 11.2h0m-8.8 7.7h0m15.1-42.4h0m-10.6 35.3h0m24.3-1.7h0m-9.7 3.3h0m-23.7-17.4h0m35.8 14.4h0m-32.3-22h0m3.5 12.5h0m.5 3.2h0m6.5 2.8h0m13.6-15.7h0m10.3 22.2h0m-29.1-13h0m6.9-1h0m9.4-3.8h0m-22 21.1h0m24.7-21.3h0m-19 17.8h0m.1-11.9h0m36.6-11.4h0m-4.6-7.7h0m-4.7 16h0m-32.8 1.5h0m37.1-11.6h0m-8.7 21.3h0m-23.5 6.1h0m31.2-12.9h0m-20.7-29.7h0m-13 39.1h0m21.3-5.2h0m-16.1 8.9h0m-8.1-13.6h0m22.2-18.1h0m-18.9 26.2h0m21.4 6.5h0m-13-11.8h0m11.1-5.9h0m-2.4 0h0m5.6 15.6h0m-15.5-28.5h0m-7.6-13.2h0m6.4 33h0m-3.6-24.8h0m-4.2 30.7h0m-2.6-8.8h0m26.1-4.7h0m-20.8 17h0m27-6.3h0m-20.1 7.3h0m4.8-23.2h0m-4.6 16.5h0m17.7-17.3h0m-1.6 3.9h0m-9.2 3.8h0m21.9-6.8h0m-31.8-10.5h0m22.6 28.9h0m11.2-11.6h0m-16.5-9.7h0m2.9 9.7h0m-6.2 6.6h0m-22.5 5.9h0m31.2-4.9h0m-14.8 2.6h0m1.5-16.2h0m-7.5 5.6h0m-8.2-2.8h0m-1.9 19h0m8.2 2.2h0m16.8-22.4h0m11.6-.5h0m-28.1 8.4h0m29.4 .1h0m-14.4-8.6h0m-21 17.1h0m18.4 2.5h0m-5.4 .5h0m-6.2-13h0m14-30.2h0m8.7 22.5h0m-25 8.3h0m3.7-21.1h0m8.5 20.3h0m2.7 13.5h0m18.9-31.4h0m-34.6 16.6h0m32.8 3h0m-.8 3.4h0m-4.8-14.3h0m-10.3 5.3h0m-10 2.2h0m28.6 3h0m-31-28.2h0m29.9 24.8h0m-34.5 9.7h0m16.3-28.3h0m15.4 4.1h0m-18.8 14.3h0m19.8 7.2h0m-10.2-11.9h0m-24.6-20.4h0m-3.6 45.2h0m.2-5.9h0m18.1 2.5h0m6.5-6.9h0m-5.8-8.2h0m5.4 1.6h0m-7.3-3.3h0m13.9 19.5h0m-21.2-2.7h0m-4.9-6.6h0m24.9-8.3h0m-32 13.9h0m15.4-12.3h0m-3.7 8.1h0m-1.7-34h0m-8 14.1h0m5.2 22.7h0m-.8-9.8h0m1.7 5.9h0m-2.2-.1h0m-1.9 10.7h0m28.1-23.3h0m-24 13.5h0m25.8-10.3h0m-21.4-21.6h0m11 20.8h0m-9.2-4.4h0m21.8 23.4h0m-34.5-9.2h0m3.8 3.4h0m-4-2.9h0m35 3.8h0m-6.4-11.4h0m-21.8 17.1h0m13.1-20.3h0m-7.8 13.5h0m-6.6 3h0m13.8-12.5h0" stroke="#ee6a5a" stroke-width="0.50" stroke-linecap="square" stroke-opacity="0.42" fill="none"/>
</g>
<rect x="340.50" y="600.50" width="46.00" height="50.00" fill="none" stroke="#333" stroke-width="1"/>
<line x1="363.50" y1="600.50" x2="363.50" y2="650.50" stroke="#999" stroke-width="1"/>
<line x1="340.50" y1="632.50" x2="386.50" y2="632.50" stroke="#999" stroke-width="1"/>
<line x1="339.10" y1="650.40" x2="340.30" y2="650.40" stroke="#888" stroke-width="0.5"/>
<text transform="translate(338.70,649.80)" font-size="3.2" text-anchor="end" fill="#999" stroke="#999" stroke-width="0.08">1</text>
<line x1="340.30" y1="650.40" x2="340.30" y2="651.60" stroke="#888" stroke-width="0.5"/>
<text transform="translate(340.30,654.60)" font-size="3.0" text-anchor="middle" fill="#999" stroke="#999" stroke-width="0.08">10</text>
<line x1="339.10" y1="638.40" x2="340.30" y2="638.40" stroke="#888" stroke-width="0.5"/>
<text transform="translate(338.70,637.80)" font-size="3.2" text-anchor="end" fill="#999" stroke="#999" stroke-width="0.08">1</text>
<line x1="351.90" y1="650.40" x2="351.90" y2="651.60" stroke="#888" stroke-width="0.5"/>
<text transform="translate(351.90,654.60)" font-size="3.0" text-anchor="middle" fill="#999" stroke="#999" stroke-width="0.08">10</text>
<line x1="339.10" y1="626.40" x2="340.30" y2="626.40" stroke="#888" stroke-width="0.5"/>
<text transform="translate(338.70,625.80)" font-size="3.2" text-anchor="end" fill="#999" stroke="#999" stroke-width="0.08">1</text>
<line x1="363.50" y1="650.40" x2="363.50" y2="651.60" stroke="#888" stroke-width="0.5"/>
<text transform="translate(363.50,654.60)" font-size="3.0" text-anchor="middle" fill="#999" stroke="#999" stroke-width="0.08">10</text>
<line x1="339.10" y1="614.40" x2="340.30" y2="614.40" stroke="#888" stroke-width="0.5"/>
<text transform="translate(338.70,613.80)" font-size="3.2" text-anchor="end" fill="#999" stroke="#999" stroke-width="0.08">1</text>
<line x1="375.10" y1="650.40" x2="375.10" y2="651.60" stroke="#888" stroke-width="0.5"/>
<text transform="translate(375.10,654.60)" font-size="3.0" text-anchor="middle" fill="#999" stroke="#999" stroke-width="0.08">10</text>
<line x1="339.10" y1="602.40" x2="340.30" y2="602.40" stroke="#888" stroke-width="0.5"/>
<text transform="translate(338.70,601.80)" font-size="3.2" text-anchor="end" fill="#999" stroke="#999" stroke-width="0.08">1</text>
<line x1="386.70" y1="650.40" x2="386.70" y2="651.60" stroke="#888" stroke-width="0.5"/>
<text transform="translate(386.70,654.60)" font-size="3.0" text-anchor="middle" fill="#999" stroke="#999" stroke-width="0.08">10</text>
<clipPath id="c20"><rect x="340.30" y="683.00" width="46.40" height="50.40"/></clipPath><g clip-path="url(#c20)">
<rect x="340.30" y="683.00" width="46.40" height="50.40" fill="#ffffff"/>
<ellipse cx="355.6" cy="722.3" rx="6.3" ry="13.7" fill="url(#scG)"/>
<path d="M359.8 717.7h0m26.6-23h0m-25.9 9.1h0m-4.6 25.8h0m.5 1h0m6.3-2.5h0m-12.3-13.5h0m10.9 12.4h0m-6.3-14.6h0m-9.4 1.4h0m29.7-5h0m.7-16.5h0m-24.2 32h0m28.6-29.3h0m-21 26h0m-4.5-1.7h0m23.5-24.3h0m-30.2 32.3h0m10.2-12.8h0m-2.4 11h0m16.8-30.4h0m-15.8 30.1h0m4.4-13.1h0m-15.4 11.8h0m13.8-1h0m-6.3-11.6h0m2.3 16.7h0m22.2-34.4h0m-22.5 12.5h0m-7.1 20h0m5.3-33.2h0m-1.7 30.1h0m5.8 9.5h0m-6.5-10.6h0m7.3-7.7h0m-7.5 15.2h0m11.5 .5h0m-10.5-13.9h0m9.4 13.2h0m3.8-37.1h0m-9.7 33h0m.1-4.6h0m.8 14.3h0m-1.4-3.3h0m-1.9-18.1h0m6.1 9.9h0m1.4-33.7h0m-1.8 27.7h0m-4.8-2.5h0m-1.9 12.3h0m2.9 7h0m8.6-11.3h0m-6.9-2.5h0m-4.3-6.3h0m3.6 9.7h0m8-2.5h0m-12.9 3h0m16.5-32.1h0m-17.5 35h0m9.1 .1h0m-2.3-16.8h0m-2.6-20.6h0m25.6 4.3h0m-11.6-3.4h0m-13.5 26.1h0m-2.6-8h0m3.7 18.8h0m.4-4.7h0m-6.3-20.1h0m10.6 19.5h0m0-30.5h0m-6.4 43.4h0m-2.4-20.6h0m4.9 1.4h0m8.2-23h0m-12.1 29.7h0m3.4 .5h0m-18-30h0m21.6 32.8h0m-3.1-14.4h0m-2.2 7.3h0m9.8 7.5h0m-3.2-9.2h0m-1 6.1h0m-2.6-9h0m-4.3 5.6h0m7.1 9.9h0m-.3-24.1h0m-8.6 9.2h0m2.3 11.3h0m3.1 .7h0m15.6-33.6h0m-29.2-1.1h0m9.1 34.2h0m4.4 .4h0m.3-12.3h0m-4.1 13.5h0m2 2h0m.9-8.7h0m-5.1 4.6h0m37.1-31.5h0m-34.2 19.8h0m1.6 9.5h0m1-.2h0m2.6-.9h0m-5.2 10.2h0m-2.1-19.3h0m6.4-2.5h0m-3.7 18h0m3.9-32.8h0m3.6-1.9h0m19.3-3.2h0m-28 35.1h0m8.2-11.3h0m-13 13.4h0m9.3-14.2h0m6.5 7.5h0m-6.8-9.2h0m-7.1-5.4h0m2 28.8h0m16.3-43.5h0m-14.1 .1h0m-4.4 39.7h0m1.1-7.2h0m1.7-30.9h0m11.1-3h0m-7.4 19.7h0m-3.9 22.5h0m4-40.5h0m3 6.8h0m-.1 32.6h0m-1.6-12.4h0m-6.9 1.8h0m20.1-29.2h0m-14.1 37.5h0m1.8 1.6h0m1-10.6h0m-4.8 .7h0m1.5-30.3h0m28.8 3.7h0m-8.9-3.6h0m-15.8 33.2h0m-8.5-7h0m4 6.6h0m1.8 .6h0m15.1-30.6h0m-18-2.4h0m-5.1 27.9h0m8.8 1.8h0m-10.3-11.5h0m8.5 10h0m5.1-24.9h0m-12.7 23.2h0m18.4-26.9h0m-9.5 23.3h0m-7.1 18.6h0m8.6-42.2h0m.2 16.8h0m-10.2 24h0m4-22.4h0m-4.1 17.4h0m.2-33.9h0m3.6 37.2h0m10.9-37.4h0m-9 30.1h0m11.5-31.6h0m-1.7 34.6h0m-14.5-33.5h0m1 42.1h0m3.5-5.9h0m-3.3-9.4h0m12.4 1h0m-3.9 5.2h0m-2.6 2.8h0m-1.1-17.6h0m4.4 24.3h0m-8.3-24.1h0m2.7 1.5h0m10.2 7.2h0m-9.4 .7h0m-2.4 6h0m2.3-13.7h0m14.4-21.2h0m-15.9 41.9h0m4.2-10.6h0m-.2-16.9h0m-12.3 6.9h0m7.2 13.8h0m-3.5 3.9h0m.3-10.6h0m5.1 8.1h0m22.2-34.2h0m-21.9 39.1h0m2.2-24.7h0m-2.9 9.4h0m1.1 6.4h0m15.4-31.7h0m-16.2 28.6h0m.6-12.5h0m.3 16.4h0m.4-13.5h0m.1 8.8h0m.8 7.7h0m0-9.2h0m12.2-24.4h0m-11.9 17.5h0m-3.6 4.2h0m3 2.9h0m-2.8 5.9h0m1.6 2.3h0m11.7-25.2h0m-11.4 23.1h0m-.9-16.2h0m7.2 4h0m-8 9.6h0m2.1-2.5h0m-4.7-9.1h0m-1.8 8.6h0m6.5 10.9h0m-9-3.5h0m14 8.1h0m-10.4-9.7h0m2.1-8.2h0m.2-2.4h0m2.9 1.4h0m5.7-22.3h0m-5.7 28h0m9.7 3.1h0m-5.5 7.3h0m-9.3-11.8h0m-3.3-2.1h0m3.1 4.9h0m-4.4-4.9h0m6.8 5.2h0m-1.9 2.1h0m33.8-30.9h0m-45.4-1.2h0m20.8 19.7h0m-5.4 2.6h0m1.2-3.3h0m-7-4.3h0m4.4 8.8h0m6.1 1.8h0m-9 13.9h0m7.1-7.6h0m-1.5-7.5h0m7.4 17h0m-12.1-18.9h0m-5.6 6.3h0m7.1 14.3h0m2.1-16.1h0m17.3-26.6h0m-15.4 22.4h0m3.2 9.3h0m-.9-7.8h0m-6.2 .2h0m-5.2 2.3h0m14.5 .6h0m16.8-27.2h0m-27.3 36.6h0m-.1-3.3h0m-1.1-11h0m17.6-20.7h0m-22.6 41.1h0m7.7-28.7h0m2.7 19.1h0m-9.8-19.2h0m8.6 11.2h0m-2.6-4.2h0m7.9 17.8h0m-3.2-41.3h0m20.6 1.7h0m-29 33.6h0m20.8-33.4h0m-8.4 31.9h0m-4.3-14.1h0m-.9 7.2h0m-2.1 9.3h0m-.5-5.4h0m5.1 1h0m-4.5-38.8h0m-.8 34.9h0m.1-6.7h0m-2.6 8.9h0m8.6-29.4h0m-3.4 43.1h0m4.9-1.2h0m-4.8-15.9h0m4.9 6h0m-7 5.4h0m7.2-33.9h0m-.8 30.6h0m-4.2 9.1h0m-2.4-.5h0m-2-42.3h0m-.1 24.4h0m8.4 10.6h0m-3.4-26.9h0m9.7-7.9h0m-7.4 32.8h0m29.6-32.3h0m-40.5 .7h0m8.1 31.3h0m-.9 6.7h0m-4.1-4.8h0m34.5-34.6h0m-23.6 23.3h0m-8 7.5h0m1.4 2.6h0m18.9-33.5h0m-16 25.6h0m-7.6 10.4h0m13.9-35.9h0m-10 28.6h0m1.9 9.9h0m-2.1-11.6h0m.4-3h0m4.8-11.7h0m-7.4 21h0m4.5 9.5h0m7-21.9h0m-7.4-.8h0m-5.6-4.7h0m.6 11h0m4.1 2.8h0m.4 1.1h0m-3.5 4.5h0m4.7-8.2h0m15.5-23.1h0m-16.9 20.4h0m-4.2-8.3h0m4.7 19.2h0m-7.4-8.7h0m-.2 17.5h0m6.6-26.4h0m-6.3 18h0m28.1-32h0m-16.4 15.7h0m-3.5 7.3h0m-5.3 6.6h0m4.6-8.1h0m7 19.5h0m-9.5-1.9h0m-.3-11.2h0m-.3-8.7h0m.9 20.7h0m2.1-15.8h0m.6-29.6h0m-2.1 31.9h0m-4.3 1.4h0m4.4 .1h0m21.1-27.9h0m-21 12.9h0m-3.2 26.7h0m27.4-40.3h0m-15.6 36.6h0m-3.1-20.2h0m-1.7 6.5h0m-14.2 4.7h0m9.8-.9h0m-2.5-1h0m2.1-22.6h0m19.6-6.7h0m-.1 2.6h0m-16.2 40.2h0m.4-22.7h0m-3.3 18.4h0m18.4-34.7h0m-18.9 15.4h0m-4.3 2h0m0 .7h0m10.9 12.3h0m-8.5-1.2h0m15.5-31.9h0m-10.2 28.5h0m-1.6 1.6h0m-2.7-.7h0m-1.2-3h0m-4 3.1h0m6.3 1.3h0m-2.5-9.6h0m33.3-17.8h0m-30 22.7h0m.8-2.3h0m-4.4-.9h0m23.1 14.1h0m-17.8-.7h0m.2-8.2h0m3.4 .4h0m-8.6 1.2h0m1.7 10.1h0m.2-3.6h0m4-9.1h0m-3-7.3h0m3.5 .6h0m-4.5 3.3h0m6-6.3h0m-6.4 25.2h0m7.1-4.7h0m-3.9 1.8h0m-2.5-11.7h0m30.3-20.7h0m-8.5 3.9h0m-21.1 14.5h0m3.2-24.1h0m-6.2 35.3h0m4.5-10.7h0m4.7-8.9h0m1.6 6.5h0m-10.3 16.9h0m1.6-15.6h0m4.4 8.6h0m-3.2-4.1h0m-4.8-1.1h0m2.4-17.2h0m6.4 25.4h0m-6.9-.7h0m-1.4-2.6h0m5.9 7.5h0m6.3-28.5h0m-9.5 7.7h0" stroke="#dd2a20" stroke-width="0.51" stroke-linecap="square" stroke-opacity="0.75" fill="none"/>
<path d="M356.4 727.7h0m-2.9-13.9h0m7.7-21.6h0m-11.6 18.5h0m.6 2.4h0m1.7-.9h0m3.1 2.2h0m0-15.4h0m6.1 25.9h0m-10.5-18h0m6.1 25.5h0m-.9-10.2h0m.5 6.5h0m3.6-4.9h0m-8.7 9h0m8.3-13.6h0m7.3-8.2h0m-15.6-18.1h0m5.6 12.5h0m9.2-11.1h0m-9.5 28.1h0m-4.9-16.9h0m14.1 11.5h0m5.7-25.9h0m-14.2 26.4h0m4.7 6.9h0m-5.6-2.8h0m3.6 4.4h0m-4.6-2.9h0m-5.6 8.1h0m3.3-14.2h0m10.9-5.8h0m-7.4 6.9h0m.4 13.1h0m-1 1h0m32.5-40.7h0m-35.4 26.8h0m1.9 3.3h0m34.1-27.9h0m-25 25.5h0m-16.7 1.5h0m3.3-7.5h0m1.7 10.3h0m1 1.6h0m3.3-4.8h0m-7.2 8.3h0m1.6-15.8h0m2.1 9.1h0m-7.2 13h0m7.3-11.5h0m4.4 10.5h0m-5.1-.1h0m6.5-24.3h0m6.1-15.5h0m-4.4 14h0m-9.4 23.7h0m3.5-22.2h0m.3-3.7h0m-8.3 13.3h0m15.3 15.6h0m-5.4-11.1h0m-7.1-1.1h0m6.5-4.4h0m-2.4-25.3h0m32.4 .8h0m-29.3 30.3h0m3.2 1.8h0m-2.5-6.6h0m-6.1 4.1h0m-1.4 1.1h0m2-1.7h0m5.9-.1h0m3.9-29.9h0m-8.2 36.3h0m4.6-11.2h0m-3.7-1.4h0m3.6 11.1h0m-6.4 2.4h0m5-3.8h0m-2.3-6.4h0m-3 1h0m7.7-11.6h0m-.5 3.8h0m12.1-1.3h0m-14.2 5.4h0m-2.5-22.8h0m1.8 18.3h0m9.7 10.5h0m-.1-1.1h0m-8.1-.5h0m-4.9 1.5h0m.4 9.2h0m-5.8-1.9h0m11.3-37h0m-3.4 26.2h0m15.3-25.5h0m-14.9 18.3h0m9.2 15.7h0m-10.8-6.6h0m1.9-15.8h0m-2.3 9.9h0m14.7 .2h0m-17.5-22.7h0m30.5-1h0m-26.3 40.2h0m8.6-31.8h0m-11.1 32.3h0m7.7-.2h0m-2.7-17.3h0m-.4-8h0m27 5.3h0m-30.2 10.8h0m-.1-14h0m-1.8-.6h0m31-16.1h0m-32.8 23.6h0m6.5 6.8h0m-3.3 2.1h0m7.5-7.5h0m-2.4-3.4h0m-3.5-19.2h0m2.2 19.3h0m.9 16h0m2.4-9.2h0m11-30.3h0m-13.9 26.4h0m-2.1 12.9h0m-3-9.7h0m2.4 5.3h0m3.2-34.5h0m.7 21h0m30.4-20.1h0m-7.5 1.4h0m-27.1 31.1h0m25.3-28.8h0m-22-9.1h0m1.2 43.3h0m6.2-33.7h0m-5-3.8h0m.8 .4h0m-2.7 24.8h0m-2.8 3.7h0m7.8-.2h0m-2.2-7.6h0m-4.8-1.5h0m-2.2 7.2h0m3.9 10.7h0m.6-5.1h0m-6.5 6.4h0m2.3-1.2h0m3.3 5.7h0m-2.9-3.1h0m2.4-13.2h0m-8.6 1.6h0m25.1-27.2h0m-16.8 27.2h0m12-29.4h0m-8.6 18.5h0m-2.2 1.2h0m2.5 16.4h0m8.1-35.4h0m-9.2 17.3h0m-6.2 15h0m1.6-.4h0m-6 6.8h0m15.8-39.8h0m-6.6 23.1h0m2.6-21h0m-7 17.7h0m2.9 4.9h0m-1.4 5.8h0m11.8-34.3h0m-3.6 6.5h0m-11.7 39.6h0m9.8-24.6h0m-6.8 24.4h0m-4-7.7h0m7.7-11.9h0m4.7-.5h0m-10.5 11.8h0m-3.8-33.2h0m2.2 24.1h0m7.3 16.1h0m5.2-3.6h0m-5.4-20.6h0m-2-25.7h0m-4.9 24.7h0m4.8 16.4h0m.8-2.9h0m-5.5 4.1h0m4.2 3.2h0m1 .4h0m-6.3-13.8h0m3.6 11.2h0m-.1-4.1h0m-.1-3.1h0m2.5 11.4h0m0-13.2h0m-4.2 5.8h0m8 10.9h0m-4.5-16.4h0m4.4-3h0m-2-3.5h0m2 15.6h0m-3.3 1.3h0m-4.7 2.8h0m6.4-36.6h0m1.8 33h0m8.9-34h0m-13 35.3h0m-1.2-8.8h0m3.1 2h0m25.9-26.6h0m-18.5 20.8h0m-12.3 6.9h0m2.1 .6h0m1.1 5h0m.8-10.7h0m27-23.1h0m-23.8 36.5h0m-5.6 3.9h0m5.1-5.6h0m11-25.2h0m-11.9 9.2h0m-.5 3.2h0m-4.4 9.3h0m6-9h0m-7.4 12.4h0m5.4-7.5h0m2.5-1h0m-8.4-8.1h0m27.7 13.2h0m-23.6-9h0m.3 13.8h0m2.5-4.8h0m-5.3 9.2h0m-5.4-6.5h0m7-7.2h0m-.7 7.4h0m-4.5-15.8h0m6.8-1.3h0m-2.5-17.8h0m6.6 24.7h0m8.2-24.1h0m-7.7 40.2h0m-5.4-2.8h0m-.8-10.9h0m-.6 .3h0m-3.1 9.5h0m15.9-36.5h0m-13.4 32.7h0m1.4 2.1h0m3.6-41.6h0m-10.4 31.2h0m11.7-7.7h0m13.7 5.8h0m-27.6-21h0m7.6 19.6h0m9.8 7.7h0m-12.8-21.3h0m-4 21.9h0m-3.2-33.9h0m11.4 37.6h0m5 2.1h0m9.2-24h0m-11.6 12.7h0m28.6-24.6h0m-21.8 28.1h0m-15.1 7.1h0m8.3 7.9h0m.4-7.4h0m27.4-35.3h0m-32.8 26.5h0m8.3 10.9h0m5.2-28.5h0m-9.8 1.5h0m-4.2 14.6h0m4.9-5.2h0m-3.2 1.7h0m8.3 .7h0m-4.7 13.7h0m20.4-34.9h0m-18.6 41.5h0m-8.2-12.2h0m5.4 7.3h0m.6-4.6h0m-.8-7.2h0m.5-.5h0m1.1 15.1h0m5.8-26.4h0m-5.1 5.5h0m-12.8 22.9h0m8.3-12.5h0m4.3-3.6h0m-.8 7.4h0m5.9-14.1h0m-11.6 19.6h0m-2.2-38.3h0m14.2-2.4h0m-9.6 21.3h0m-6.3-20.5h0m7.6 36.5h0m-3.9-4.5h0m11.7-3.3h0m18.7-26.9h0m-23.5 19.6h0m-2.2 2.6h0m27.6-22.8h0m-29.3 11.8h0m-.6 11.8h0m6.4 4h0m-1.2 .4h0m-3 6.5h0m4.4-11.9h0m-1.4 5.8h0m-.5-3.1h0m3.3-25.3h0m-7.9 28h0m-.7 3.6h0m2.7-5.1h0m2.5-1.6h0m2.1-7.1h0m-5.5 13.1h0m.3-23.2h0m-2.7 16h0m6.9-6h0m-3.3 14h0m1.9 .9h0m-2-16h0m-2.1 .1h0m-1.2 24.7h0m-.1-12.5h0m8.4-13.1h0m-1.2 21h0m-7.4-5.3h0m6.9-5.3h0m-2.6-6.3h0m-5 7.3h0m2.4 7h0m3.8-10h0m2.3-.8h0m6.2-15.4h0m.3 8.4h0m-9.4 6.5h0m2.5 16h0m1.3-26.4h0m-7.7 11.4h0m-5.4-16.8h0m9 7.7h0m-2.4-.8h0m-.3 1.6h0m9.4 12.5h0m-3.8 5.2h0m-5.4-10.7h0m1.6 .3h0m-3.4 4.7h0m32.5-25h0m-32 20.7h0m2.5-11.1h0m6.9-15.8h0m-13.2 16.3h0m2.8 29h0m4.3-17.1h0m-2.2 6.7h0m3.5-.5h0m12.7-20h0m-14.4 20.8h0m-.8-.8h0m-.8-9.9h0m2.1 9.6h0m-5.5 3.7h0m19.6-33.8h0m-10.1 36.3h0m8.6-35.8h0m.1-4.2h0m-7.7 2.7h0" stroke="#dd2a20" stroke-width="0.65" stroke-linecap="square" stroke-opacity="0.75" fill="none"/>
<path d="M384.0 730.2h0m-10.2-27.4h0m-22.1 2.2h0m6.2 8.1h0m-16.7 12.8h0m22.8-15.2h0m-2.8 10.3h0m21.3-37.8h0m-27.1 24.6h0m29.7-13.4h0m-17.3 14.5h0m8.2-21.6h0m-12.8 10.4h0m-9.5 26.7h0m11.4-5.1h0m15.3-10.7h0m-14.3 19.4h0m1.3-39.8h0m-24.2 43h0m20.7-9.2h0m16.5-8.6h0m-18.6 17.1h0m.8-13.9h0m-6.2 7h0m4.4-.9h0m-2.8-16.2h0m28.4 2.4h0m-24.8-17.8h0m-8.9 35.4h0m5.1-18.7h0m4.8 21.4h0m-14.8-.4h0m.9 .5h0m-.5-31.5h0m10.8 2.4h0m27.2 6.1h0m-21.5-2.3h0m-6.5 3.3h0m7.7 1.9h0m-16.4 9.7h0m25-16.8h0m-27.9-6.7h0m19.7 22.3h0m19.2 12.2h0m-23.8-11.5h0m-5.4 .7h0m.1 8.1h0m-8.1-.6h0m21.7-41.6h0m-2.8 29.8h0m-25.5-.1h0m38.6-20.9h0m-21.6 38.4h0m11.3-16h0m-16.6 10.1h0m5.7-4.4h0m17.1 11.4h0m7.6-44.2h0m-43.1 30.4h0m13.3 1.5h0m19.2-4.6h0m-19.5 2.4h0m2.1 7.3h0m2-5.6h0m-3.7 2.5h0m3.7-30h0m5.6 13.2h0m-21.9 7.4h0m31.1-20.6h0m-24.3-9.2h0m17.8 25.6h0m1-17h0m-13.8 39.3h0m6.7-7h0m-2.4 .5h0m-3.3-1h0m-.7-16.3h0m26.3-16.3h0m-25 16.7h0m14.3-4.2h0m-17.3 11.2h0m29.6 16.1h0m-22.6-14.3h0m18.4-3.1h0m-27.2 .4h0m18.3 4.9h0m-2.9-29.1h0m17.1 2.5h0m-26.7 20.9h0m15.7-21.6h0m8.1-1.5h0m-20.8 33.2h0m-2.8 4.8h0m6.4-2.3h0m21.1-17.9h0m-33 20.2h0m12.5-28h0m-13.9 19h0m10.1-21.4h0m-4.3 26.1h0m-1.4 0h0m6.2-6.5h0m-2.6 8h0m-4.7-5.4h0m10.7-21.6h0m-17.3-6.3h0m27.8-2.1h0m-26.2 43.1h0m4-10.7h0m3.2 3h0m-6.4-2.6h0m-6.9 1.6h0m31.1-32.6h0m-21.4 21.6h0m-3.5-8.4h0m3.4 19.6h0m7.2-18.1h0m17.4-2h0m-18.6-3.8h0m.2 24.1h0m-6.7-15.5h0m-1-4.2h0m-4.2 2.8h0m17.3 8.1h0m-.3-28.2h0m5 33.6h0m5.3-19.3h0m-22.7 5h0m-8.6-14.9h0m16.6 20.9h0m11.4 1.8h0m10.4 6.6h0m1.2-31.1h0m-5.7 30.2h0m6.6-29.6h0m-16.9 24.1h0m-2.9-21h0m-11.5 21.1h0m29.4-13.4h0m-18.5 6.4h0m-3.3 22.2h0m-5.1-6.3h0m-1.7 5h0m4.9-.8h0m-2.8-26.2h0m-9.3 30.7h0m6.3-8.8h0m7.6-28.5h0m-4.8 8.6h0m-3.9 20.1h0m33.9-19.8h0m-29.6-10.7h0m13.8 2.9h0m12.8-6.2h0m-6.9 1.4h0m-14.6 16.3h0m1.9 15.6h0m-6.1-8.1h0m18.1-17.7h0m-12.9 26.4h0m.8-23.4h0m13.8 26.8h0m-30.8-20.9h0m18.1 25.3h0m-6.2-38.5h0m.9 41.6h0m-1-28.3h0m6.5-.7h0m-7 21.4h0m5.8 3.1h0m-5.5-11.4h0m8.4 3.6h0m5-6.1h0m-20.8 2.7h0m4.4-19.1h0m-1.5 20.9h0m28 .3h0m7.6-19.6h0m-36.5 24.7h0m10.9-13.6h0m-14.7-14.6h0m7.5-14.5h0m-.4 35.5h0m-1.1-36.6h0m.5 6.5h0m17.6 34h0m-22.3-31h0m38.8 35.6h0m-33.1-1.2h0m7.4-37.7h0m-19.9-1.3h0m15.9 41.3h0m-5.8-16.6h0m-10.1-15h0m36.5 27.7h0m2.7-16.2h0m-25.8 7.2h0m6-7.3h0m-12.9-24.9h0m2.2 42.4h0m13.6-40.6h0m-3.3-1.3h0m14.7 31.5h0m5.1-24.6h0m-6.4-3.3h0m-19.1 35.4h0m8.9 .7h0m-18.6 8h0m4.7-13.7h0m17-32.2h0m10.5 .4h0m-17.9 43h0m-10.6-14.1h0m31.5-32.1h0m-5.3 11.7h0m-19.2 32.7h0m-8-8.5h0m20.1-4.5h0m-23.9-8.4h0m10.4 13.2h0m8.4-7h0m-15.7 3.4h0m0-19.4h0m30.1 27.9h0m-19.6-26.9h0m-5.8-2.2h0m3.6 12.3h0m3.2 9.9h0m-2.1-31.8h0m-1.8 25.6h0m25.7 15.6h0m-13.9-10.4h0m3.1-31.6h0m-13.5 37.2h0m2.9-9.4h0m-1.6-13.9h0m1.2 23.3h0m-17.2-14.9h0m44.8-12.9h0m-15.8 5.3h0m1.9-12.6h0m-8.3 5.8h0m8.9 21.9h0m-24.8-24.9h0" stroke="#ee6a5a" stroke-width="0.50" stroke-linecap="square" stroke-opacity="0.42" fill="none"/>
</g>
<rect x="340.50" y="683.50" width="46.00" height="50.00" fill="none" stroke="#a4a4a4" stroke-width="1"/>
<line x1="370.50" y1="683.50" x2="370.50" y2="733.50" stroke="#999" stroke-width="1"/>
<line x1="340.50" y1="701.50" x2="386.50" y2="701.50" stroke="#999" stroke-width="1"/>
<line x1="339.10" y1="733.40" x2="340.30" y2="733.40" stroke="#888" stroke-width="0.5"/>
<text transform="translate(338.70,732.80)" font-size="3.2" text-anchor="end" fill="#999" stroke="#999" stroke-width="0.08">1</text>
<line x1="340.30" y1="733.40" x2="340.30" y2="734.60" stroke="#888" stroke-width="0.5"/>
<text transform="translate(340.30,737.60)" font-size="3.0" text-anchor="middle" fill="#999" stroke="#999" stroke-width="0.08">10</text>
<line x1="339.10" y1="721.40" x2="340.30" y2="721.40" stroke="#888" stroke-width="0.5"/>
<text transform="translate(338.70,720.80)" font-size="3.2" text-anchor="end" fill="#999" stroke="#999" stroke-width="0.08">1</text>
<line x1="351.90" y1="733.40" x2="351.90" y2="734.60" stroke="#888" stroke-width="0.5"/>
<text transform="translate(351.90,737.60)" font-size="3.0" text-anchor="middle" fill="#999" stroke="#999" stroke-width="0.08">10</text>
<line x1="339.10" y1="709.40" x2="340.30" y2="709.40" stroke="#888" stroke-width="0.5"/>
<text transform="translate(338.70,708.80)" font-size="3.2" text-anchor="end" fill="#999" stroke="#999" stroke-width="0.08">1</text>
<line x1="363.50" y1="733.40" x2="363.50" y2="734.60" stroke="#888" stroke-width="0.5"/>
<text transform="translate(363.50,737.60)" font-size="3.0" text-anchor="middle" fill="#999" stroke="#999" stroke-width="0.08">10</text>
<line x1="339.10" y1="697.40" x2="340.30" y2="697.40" stroke="#888" stroke-width="0.5"/>
<text transform="translate(338.70,696.80)" font-size="3.2" text-anchor="end" fill="#999" stroke="#999" stroke-width="0.08">1</text>
<line x1="375.10" y1="733.40" x2="375.10" y2="734.60" stroke="#888" stroke-width="0.5"/>
<text transform="translate(375.10,737.60)" font-size="3.0" text-anchor="middle" fill="#999" stroke="#999" stroke-width="0.08">10</text>
<line x1="339.10" y1="685.40" x2="340.30" y2="685.40" stroke="#888" stroke-width="0.5"/>
<text transform="translate(338.70,684.80)" font-size="3.2" text-anchor="end" fill="#999" stroke="#999" stroke-width="0.08">1</text>
<line x1="386.70" y1="733.40" x2="386.70" y2="734.60" stroke="#888" stroke-width="0.5"/>
<text transform="translate(386.70,737.60)" font-size="3.0" text-anchor="middle" fill="#999" stroke="#999" stroke-width="0.08">10</text>
<line x1="20.60" y1="607.00" x2="20.60" y2="745.30" stroke="#777" stroke-width="1"/>
<line x1="20.60" y1="745.30" x2="390.30" y2="745.30" stroke="#999" stroke-width="1.2"/>
<text transform="translate(18.00,714.70) rotate(-90)" font-size="14" text-anchor="start" fill="#231f20" stroke="#231f20" stroke-width="0.15">Annexin-V-PE</text>
<text transform="translate(32.60,653.50) rotate(-90)" font-size="13.5" text-anchor="start" fill="#231f20" stroke="#231f20" stroke-width="0.15">Ishikawa</text>
<text transform="translate(32.60,732.70) rotate(-90)" font-size="14" text-anchor="start" fill="#231f20" stroke="#231f20" stroke-width="0.15">RL-95-2</text>
<text transform="translate(203.60,758.20)" font-size="13.6" text-anchor="start" fill="#231f20" stroke="#231f20" stroke-width="0.15">7AAD</text>
<line x1="460.70" y1="592.40" x2="460.70" y2="644.50" stroke="#3a3a3a" stroke-width="1.2"/>
<line x1="460.10" y1="644.50" x2="539.00" y2="644.50" stroke="#231f20" stroke-width="1.2"/>
<line x1="460.70" y1="592.40" x2="463.20" y2="592.40" stroke="#3a3a3a" stroke-width="1"/>
<text transform="translate(458.00,597.82)" font-size="15.5" text-anchor="end" fill="#231f20" stroke="#231f20" stroke-width="0.15">24</text>
<line x1="460.70" y1="619.00" x2="463.20" y2="619.00" stroke="#3a3a3a" stroke-width="1"/>
<text transform="translate(458.00,624.42)" font-size="15.5" text-anchor="end" fill="#231f20" stroke="#231f20" stroke-width="0.15">12</text>
<line x1="460.70" y1="644.50" x2="463.20" y2="644.50" stroke="#3a3a3a" stroke-width="1"/>
<text transform="translate(458.00,649.92)" font-size="15.5" text-anchor="end" fill="#231f20" stroke="#231f20" stroke-width="0.15">0</text>
<line x1="469.00" y1="632.70" x2="469.00" y2="634.70" stroke="#4a4a4a" stroke-width="1.6"/>
<line x1="466.00" y1="632.70" x2="472.00" y2="632.70" stroke="#231f20" stroke-width="1.4"/>
<rect x="463.40" y="634.70" width="11.20" height="9.80" fill="#ffffff" stroke="#231f20" stroke-width="1"/>
<line x1="484.10" y1="630.50" x2="484.10" y2="631.20" stroke="#4a4a4a" stroke-width="1.6"/>
<line x1="481.10" y1="630.50" x2="487.10" y2="630.50" stroke="#231f20" stroke-width="1.4"/>
<rect x="478.70" y="631.20" width="10.80" height="13.30" fill="#b5b5b5" stroke="#231f20" stroke-width="1"/>
<line x1="499.30" y1="639.80" x2="499.30" y2="640.80" stroke="#4a4a4a" stroke-width="1.6"/>
<line x1="496.30" y1="639.80" x2="502.30" y2="639.80" stroke="#231f20" stroke-width="1.4"/>
<rect x="494.00" y="640.80" width="10.60" height="3.70" fill="#787878" stroke="#231f20" stroke-width="1"/>
<line x1="515.15" y1="629.00" x2="515.15" y2="631.20" stroke="#4a4a4a" stroke-width="1.6"/>
<line x1="512.15" y1="629.00" x2="518.15" y2="629.00" stroke="#231f20" stroke-width="1.4"/>
<rect x="509.70" y="631.20" width="10.90" height="13.30" fill="#3b3b3b" stroke="#231f20" stroke-width="1"/>
<line x1="530.45" y1="597.00" x2="530.45" y2="604.20" stroke="#4a4a4a" stroke-width="1.6"/>
<line x1="527.45" y1="597.00" x2="533.45" y2="597.00" stroke="#231f20" stroke-width="1.4"/>
<rect x="525.00" y="604.20" width="10.90" height="40.30" fill="#231815" stroke="#231f20" stroke-width="1"/>
<path d="M499.30,629.40L499.30,637.00M496.01,631.30L502.59,635.10M502.59,631.30L496.01,635.10" stroke="#231f20" stroke-width="1.2" stroke-linecap="round"/>
<path d="M530.50,586.50L530.50,594.10M527.21,588.40L533.79,592.20M533.79,588.40L527.21,592.20" stroke="#231f20" stroke-width="1.2" stroke-linecap="round"/>
<text transform="translate(415.50,660.40) rotate(-90)" font-size="12.5" text-anchor="start" fill="#231f20" stroke="#231f20" stroke-width="0.15">Apoptotic cells</text>
<text transform="translate(433.50,628.00) rotate(-90)" font-size="12.5" text-anchor="start" fill="#231f20" stroke="#231f20" stroke-width="0.15">(%)</text>
<line x1="460.70" y1="682.30" x2="460.70" y2="732.40" stroke="#3a3a3a" stroke-width="1.2"/>
<line x1="460.10" y1="732.40" x2="539.00" y2="732.40" stroke="#231f20" stroke-width="1.2"/>
<line x1="460.70" y1="682.30" x2="463.20" y2="682.30" stroke="#3a3a3a" stroke-width="1"/>
<text transform="translate(458.00,687.72)" font-size="15.5" text-anchor="end" fill="#231f20" stroke="#231f20" stroke-width="0.15">14</text>
<line x1="460.70" y1="707.40" x2="463.20" y2="707.40" stroke="#3a3a3a" stroke-width="1"/>
<text transform="translate(458.00,712.82)" font-size="15.5" text-anchor="end" fill="#231f20" stroke="#231f20" stroke-width="0.15">7</text>
<line x1="460.70" y1="732.40" x2="463.20" y2="732.40" stroke="#3a3a3a" stroke-width="1"/>
<text transform="translate(458.00,737.82)" font-size="15.5" text-anchor="end" fill="#231f20" stroke="#231f20" stroke-width="0.15">0</text>
<rect x="463.40" y="717.70" width="11.20" height="14.70" fill="#ffffff" stroke="#231f20" stroke-width="1"/>
<line x1="484.10" y1="714.00" x2="484.10" y2="716.00" stroke="#4a4a4a" stroke-width="1.6"/>
<line x1="481.10" y1="714.00" x2="487.10" y2="714.00" stroke="#231f20" stroke-width="1.4"/>
<rect x="478.70" y="716.00" width="10.80" height="16.40" fill="#b5b5b5" stroke="#231f20" stroke-width="1"/>
<line x1="499.30" y1="718.00" x2="499.30" y2="721.10" stroke="#4a4a4a" stroke-width="1.6"/>
<line x1="496.30" y1="718.00" x2="502.30" y2="718.00" stroke="#231f20" stroke-width="1.4"/>
<rect x="494.00" y="721.10" width="10.60" height="11.30" fill="#787878" stroke="#231f20" stroke-width="1"/>
<line x1="515.15" y1="712.00" x2="515.15" y2="714.40" stroke="#4a4a4a" stroke-width="1.6"/>
<line x1="512.15" y1="712.00" x2="518.15" y2="712.00" stroke="#231f20" stroke-width="1.4"/>
<rect x="509.70" y="714.40" width="10.90" height="18.00" fill="#3b3b3b" stroke="#231f20" stroke-width="1"/>
<line x1="530.45" y1="686.80" x2="530.45" y2="687.40" stroke="#4a4a4a" stroke-width="1.6"/>
<line x1="527.45" y1="686.80" x2="533.45" y2="686.80" stroke="#231f20" stroke-width="1.4"/>
<rect x="525.00" y="687.40" width="10.90" height="45.00" fill="#231815" stroke="#231f20" stroke-width="1"/>
<path d="M499.30,707.10L499.30,714.70M496.01,709.00L502.59,712.80M502.59,709.00L496.01,712.80" stroke="#231f20" stroke-width="1.2" stroke-linecap="round"/>
<path d="M530.50,676.50L530.50,684.10M527.21,678.40L533.79,682.20M533.79,678.40L527.21,682.20" stroke="#231f20" stroke-width="1.2" stroke-linecap="round"/>
<text transform="translate(415.50,749.00) rotate(-90)" font-size="12.5" text-anchor="start" fill="#231f20" stroke="#231f20" stroke-width="0.15">Apoptotic cells</text>
<text transform="translate(433.50,716.80) rotate(-90)" font-size="12.5" text-anchor="start" fill="#231f20" stroke="#231f20" stroke-width="0.15">(%)</text>
<rect x="544.70" y="586.55" width="13.30" height="9.50" fill="#ffffff" stroke="#231f20" stroke-width="1"/>
<text transform="translate(562.30,596.09) scale(1.062,1)" font-size="13.3" text-anchor="start" fill="#231f20" stroke="#231f20" stroke-width="0.15">Control</text>
<rect x="544.70" y="598.55" width="13.30" height="9.50" fill="#b5b5b5" stroke="#231f20" stroke-width="1"/>
<text transform="translate(562.30,608.09) scale(1.062,1)" font-size="13.3" text-anchor="start" fill="#231f20" stroke="#231f20" stroke-width="0.15">LINC01016 (+)-NC</text>
<rect x="544.70" y="610.45" width="13.30" height="9.50" fill="#787878" stroke="#231f20" stroke-width="1"/>
<text transform="translate(562.30,619.99) scale(1.062,1)" font-size="13.3" text-anchor="start" fill="#231f20" stroke="#231f20" stroke-width="0.15">LINC01016 (+)</text>
<rect x="544.70" y="622.35" width="13.30" height="9.50" fill="#3b3b3b" stroke="#231f20" stroke-width="1"/>
<text transform="translate(562.30,631.89) scale(1.062,1)" font-size="13.3" text-anchor="start" fill="#231f20" stroke="#231f20" stroke-width="0.15">LINC01016 (-)-NC</text>
<rect x="544.70" y="634.55" width="13.30" height="9.50" fill="#000000" stroke="#231f20" stroke-width="1"/>
<text transform="translate(562.30,644.09) scale(1.062,1)" font-size="13.3" text-anchor="start" fill="#231f20" stroke="#231f20" stroke-width="0.15">LINC01016 (-)</text>
<text transform="translate(2.60,794.70)" font-size="22" text-anchor="start" fill="#231f20" stroke="#231f20" stroke-width="0.15">f</text>
<rect x="35.60" y="823.20" width="56.90" height="55.60" fill="#a6a3a1"/>
<rect x="35.60" y="823.20" width="56.90" height="55.60" fill="#000" filter="url(#nzA)"/>
<line x1="51.30" y1="835.40" x2="51.30" y2="866.00" stroke="#1b1716" stroke-width="1.5"/>
<line x1="73.90" y1="835.40" x2="73.90" y2="866.00" stroke="#1b1716" stroke-width="1.5"/>
<rect x="35.60" y="882.80" width="56.90" height="55.40" fill="#a4a2a0"/>
<rect x="35.60" y="882.80" width="56.90" height="55.40" fill="#000" filter="url(#nzB)"/>
<line x1="59.40" y1="896.40" x2="59.40" y2="925.80" stroke="#1b1716" stroke-width="1.5"/>
<line x1="72.10" y1="896.40" x2="72.10" y2="925.80" stroke="#1b1716" stroke-width="1.5"/>
<rect x="97.60" y="823.20" width="56.90" height="55.60" fill="#aaa8a6"/>
<rect x="97.60" y="823.20" width="56.90" height="55.60" fill="#000" filter="url(#nzA)"/>
<line x1="112.80" y1="835.40" x2="112.80" y2="866.00" stroke="#1b1716" stroke-width="1.5"/>
<line x1="137.20" y1="835.40" x2="137.20" y2="866.00" stroke="#1b1716" stroke-width="1.5"/>
<rect x="97.60" y="882.80" width="56.90" height="55.40" fill="#a6a4a2"/>
<rect x="97.60" y="882.80" width="56.90" height="55.40" fill="#000" filter="url(#nzB)"/>
<line x1="119.10" y1="896.40" x2="119.10" y2="925.80" stroke="#1b1716" stroke-width="1.5"/>
<line x1="132.30" y1="896.40" x2="132.30" y2="925.80" stroke="#1b1716" stroke-width="1.5"/>
<rect x="157.60" y="823.20" width="56.60" height="55.60" fill="#a19c9a"/>
<rect x="157.60" y="823.20" width="56.60" height="55.60" fill="#000" filter="url(#nzA)"/>
<line x1="173.90" y1="835.40" x2="173.90" y2="866.00" stroke="#1b1716" stroke-width="1.5"/>
<line x1="198.80" y1="835.40" x2="198.80" y2="866.00" stroke="#1b1716" stroke-width="1.5"/>
<rect x="157.60" y="882.80" width="56.60" height="55.40" fill="#abaaa8"/>
<rect x="157.60" y="882.80" width="56.60" height="55.40" fill="#000" filter="url(#nzB)"/>
<line x1="181.60" y1="896.40" x2="181.60" y2="925.80" stroke="#1b1716" stroke-width="1.5"/>
<line x1="189.30" y1="896.40" x2="189.30" y2="925.80" stroke="#1b1716" stroke-width="1.5"/>
<rect x="218.00" y="823.20" width="56.40" height="55.60" fill="#a8a6a4"/>
<rect x="218.00" y="823.20" width="56.40" height="55.60" fill="#000" filter="url(#nzA)"/>
<line x1="233.60" y1="835.40" x2="233.60" y2="866.00" stroke="#1b1716" stroke-width="1.5"/>
<line x1="258.50" y1="835.40" x2="258.50" y2="866.00" stroke="#1b1716" stroke-width="1.5"/>
<rect x="218.00" y="882.80" width="56.40" height="55.40" fill="#a8a6a4"/>
<rect x="218.00" y="882.80" width="56.40" height="55.40" fill="#000" filter="url(#nzB)"/>
<line x1="239.50" y1="896.40" x2="239.50" y2="925.80" stroke="#1b1716" stroke-width="1.5"/>
<line x1="253.10" y1="896.40" x2="253.10" y2="925.80" stroke="#1b1716" stroke-width="1.5"/>
<rect x="278.30" y="823.20" width="56.30" height="55.60" fill="#a5a3a1"/>
<rect x="278.30" y="823.20" width="56.30" height="55.60" fill="#000" filter="url(#nzA)"/>
<line x1="294.70" y1="835.40" x2="294.70" y2="866.00" stroke="#1b1716" stroke-width="1.5"/>
<line x1="318.70" y1="835.40" x2="318.70" y2="866.00" stroke="#1b1716" stroke-width="1.5"/>
<rect x="278.30" y="882.80" width="56.30" height="55.40" fill="#a7a5a3"/>
<rect x="278.30" y="882.80" width="56.30" height="55.40" fill="#000" filter="url(#nzB)"/>
<line x1="297.90" y1="896.40" x2="297.90" y2="925.80" stroke="#1b1716" stroke-width="1.5"/>
<line x1="314.20" y1="896.40" x2="314.20" y2="925.80" stroke="#1b1716" stroke-width="1.5"/>
<rect x="340.40" y="823.20" width="55.00" height="55.60" fill="#a6a5a3"/>
<rect x="340.40" y="823.20" width="55.00" height="55.60" fill="#000" filter="url(#nzA)"/>
<linearGradient id="eg1" x1="0" x2="1" y1="0" y2="0"><stop offset="0" stop-color="#fff"/><stop offset="0.12" stop-color="#fff" stop-opacity="0.6"/><stop offset="0.20" stop-color="#fff" stop-opacity="0"/><stop offset="0.77" stop-color="#fff" stop-opacity="0"/><stop offset="0.85" stop-color="#fff" stop-opacity="0.6"/><stop offset="1" stop-color="#fff"/></linearGradient><mask id="meg1" maskUnits="userSpaceOnUse" x="340.4" y="823.2" width="55.0" height="55.6"><rect x="340.40" y="823.20" width="55.00" height="55.60" fill="url(#eg1)"/></mask>
<rect x="340.40" y="823.20" width="55.00" height="55.60" fill="#000" filter="url(#nzE)" mask="url(#meg1)"/>
<line x1="356.30" y1="835.40" x2="356.30" y2="866.00" stroke="#1b1716" stroke-width="1.5"/>
<line x1="381.20" y1="835.40" x2="381.20" y2="866.00" stroke="#1b1716" stroke-width="1.5"/>
<rect x="340.40" y="882.80" width="55.00" height="55.40" fill="#a8a7a5"/>
<rect x="340.40" y="882.80" width="55.00" height="55.40" fill="#000" filter="url(#nzB)"/>
<linearGradient id="eg2" x1="0" x2="1" y1="0" y2="0"><stop offset="0" stop-color="#fff"/><stop offset="0.22" stop-color="#fff" stop-opacity="0.6"/><stop offset="0.30" stop-color="#fff" stop-opacity="0"/><stop offset="0.70" stop-color="#fff" stop-opacity="0"/><stop offset="0.78" stop-color="#fff" stop-opacity="0.6"/><stop offset="1" stop-color="#fff"/></linearGradient><mask id="meg2" maskUnits="userSpaceOnUse" x="340.4" y="882.8" width="55.0" height="55.4"><rect x="340.40" y="882.80" width="55.00" height="55.40" fill="url(#eg2)"/></mask>
<rect x="340.40" y="882.80" width="55.00" height="55.40" fill="#000" filter="url(#nzE)" mask="url(#meg2)"/>
<line x1="359.90" y1="896.40" x2="359.90" y2="925.80" stroke="#1b1716" stroke-width="1.5"/>
<line x1="382.10" y1="896.40" x2="382.10" y2="925.80" stroke="#1b1716" stroke-width="1.5"/>
<rect x="400.80" y="823.20" width="56.60" height="55.60" fill="#a09f9d"/>
<rect x="400.80" y="823.20" width="56.60" height="55.60" fill="#000" filter="url(#nzA)"/>
<linearGradient id="eg3" x1="0" x2="1" y1="0" y2="0"><stop offset="0" stop-color="#fff"/><stop offset="0.15" stop-color="#fff" stop-opacity="0.6"/><stop offset="0.23" stop-color="#fff" stop-opacity="0"/><stop offset="0.77" stop-color="#fff" stop-opacity="0"/><stop offset="0.85" stop-color="#fff" stop-opacity="0.6"/><stop offset="1" stop-color="#fff"/></linearGradient><mask id="meg3" maskUnits="userSpaceOnUse" x="400.8" y="823.2" width="56.6" height="55.6"><rect x="400.80" y="823.20" width="56.60" height="55.60" fill="url(#eg3)"/></mask>
<rect x="400.80" y="823.20" width="56.60" height="55.60" fill="#000" filter="url(#nzE)" mask="url(#meg3)"/>
<line x1="415.50" y1="835.40" x2="415.50" y2="866.00" stroke="#1b1716" stroke-width="1.5"/>
<line x1="442.20" y1="835.40" x2="442.20" y2="866.00" stroke="#1b1716" stroke-width="1.5"/>
<rect x="400.80" y="882.80" width="56.60" height="55.40" fill="#a3a2a0"/>
<rect x="400.80" y="882.80" width="56.60" height="55.40" fill="#000" filter="url(#nzB)"/>
<linearGradient id="eg4" x1="0" x2="1" y1="0" y2="0"><stop offset="0" stop-color="#fff"/><stop offset="0.20" stop-color="#fff" stop-opacity="0.6"/><stop offset="0.28" stop-color="#fff" stop-opacity="0"/><stop offset="0.72" stop-color="#fff" stop-opacity="0"/><stop offset="0.80" stop-color="#fff" stop-opacity="0.6"/><stop offset="1" stop-color="#fff"/></linearGradient><mask id="meg4" maskUnits="userSpaceOnUse" x="400.8" y="882.8" width="56.6" height="55.4"><rect x="400.80" y="882.80" width="56.60" height="55.40" fill="url(#eg4)"/></mask>
<rect x="400.80" y="882.80" width="56.60" height="55.40" fill="#000" filter="url(#nzE)" mask="url(#meg4)"/>
<line x1="420.10" y1="896.40" x2="420.10" y2="925.80" stroke="#1b1716" stroke-width="1.5"/>
<line x1="439.10" y1="896.40" x2="439.10" y2="925.80" stroke="#1b1716" stroke-width="1.5"/>
<rect x="461.80" y="823.20" width="56.60" height="55.60" fill="#a3a2a0"/>
<rect x="461.80" y="823.20" width="56.60" height="55.60" fill="#000" filter="url(#nzA)"/>
<linearGradient id="eg5" x1="0" x2="1" y1="0" y2="0"><stop offset="0" stop-color="#fff"/><stop offset="0.08" stop-color="#fff" stop-opacity="0.6"/><stop offset="0.16" stop-color="#fff" stop-opacity="0"/><stop offset="0.82" stop-color="#fff" stop-opacity="0"/><stop offset="0.90" stop-color="#fff" stop-opacity="0.6"/><stop offset="1" stop-color="#fff"/></linearGradient><mask id="meg5" maskUnits="userSpaceOnUse" x="461.8" y="823.2" width="56.6" height="55.6"><rect x="461.80" y="823.20" width="56.60" height="55.60" fill="url(#eg5)"/></mask>
<rect x="461.80" y="823.20" width="56.60" height="55.60" fill="#000" filter="url(#nzE)" mask="url(#meg5)"/>
<line x1="478.40" y1="835.40" x2="478.40" y2="866.00" stroke="#1b1716" stroke-width="1.5"/>
<line x1="502.40" y1="835.40" x2="502.40" y2="866.00" stroke="#1b1716" stroke-width="1.5"/>
<rect x="461.80" y="882.80" width="56.60" height="55.40" fill="#a2a1a0"/>
<rect x="461.80" y="882.80" width="56.60" height="55.40" fill="#000" filter="url(#nzB)"/>
<linearGradient id="eg6" x1="0" x2="1" y1="0" y2="0"><stop offset="0" stop-color="#fff"/><stop offset="0.40" stop-color="#fff" stop-opacity="0.6"/><stop offset="0.48" stop-color="#fff" stop-opacity="0"/><stop offset="0.82" stop-color="#fff" stop-opacity="0"/><stop offset="0.90" stop-color="#fff" stop-opacity="0.6"/><stop offset="1" stop-color="#fff"/></linearGradient><mask id="meg6" maskUnits="userSpaceOnUse" x="461.8" y="882.8" width="56.6" height="55.4"><rect x="461.80" y="882.80" width="56.60" height="55.40" fill="url(#eg6)"/></mask>
<rect x="461.80" y="882.80" width="56.60" height="55.40" fill="#000" filter="url(#nzE)" mask="url(#meg6)"/>
<line x1="483.40" y1="896.40" x2="483.40" y2="925.80" stroke="#1b1716" stroke-width="1.5"/>
<line x1="496.50" y1="896.40" x2="496.50" y2="925.80" stroke="#1b1716" stroke-width="1.5"/>
<rect x="522.30" y="823.20" width="57.00" height="55.60" fill="#a2a1a0"/>
<rect x="522.30" y="823.20" width="57.00" height="55.60" fill="#000" filter="url(#nzA)"/>
<linearGradient id="eg7" x1="0" x2="1" y1="0" y2="0"><stop offset="0" stop-color="#fff"/><stop offset="0.08" stop-color="#fff" stop-opacity="0.6"/><stop offset="0.16" stop-color="#fff" stop-opacity="0"/><stop offset="0.84" stop-color="#fff" stop-opacity="0"/><stop offset="0.92" stop-color="#fff" stop-opacity="0.6"/><stop offset="1" stop-color="#fff"/></linearGradient><mask id="meg7" maskUnits="userSpaceOnUse" x="522.3" y="823.2" width="57.0" height="55.6"><rect x="522.30" y="823.20" width="57.00" height="55.60" fill="url(#eg7)"/></mask>
<rect x="522.30" y="823.20" width="57.00" height="55.60" fill="#000" filter="url(#nzE)" mask="url(#meg7)"/>
<line x1="538.60" y1="835.40" x2="538.60" y2="866.00" stroke="#1b1716" stroke-width="1.5"/>
<line x1="562.60" y1="835.40" x2="562.60" y2="866.00" stroke="#1b1716" stroke-width="1.5"/>
<rect x="522.30" y="882.80" width="57.00" height="55.40" fill="#abaaa6"/>
<rect x="522.30" y="882.80" width="57.00" height="55.40" fill="#000" filter="url(#nzB)"/>
<linearGradient id="eg8" x1="0" x2="1" y1="0" y2="0"><stop offset="0" stop-color="#fff"/><stop offset="0.10" stop-color="#fff" stop-opacity="0.6"/><stop offset="0.18" stop-color="#fff" stop-opacity="0"/><stop offset="0.82" stop-color="#fff" stop-opacity="0"/><stop offset="0.90" stop-color="#fff" stop-opacity="0.6"/><stop offset="1" stop-color="#fff"/></linearGradient><mask id="meg8" maskUnits="userSpaceOnUse" x="522.3" y="882.8" width="57.0" height="55.4"><rect x="522.30" y="882.80" width="57.00" height="55.40" fill="url(#eg8)"/></mask>
<rect x="522.30" y="882.80" width="57.00" height="55.40" fill="#000" filter="url(#nzE)" mask="url(#meg8)"/>
<line x1="543.10" y1="896.40" x2="543.10" y2="925.80" stroke="#1b1716" stroke-width="1.5"/>
<line x1="561.20" y1="896.40" x2="561.20" y2="925.80" stroke="#1b1716" stroke-width="1.5"/>
<rect x="583.00" y="823.20" width="56.60" height="55.60" fill="#a4a3a1"/>
<rect x="583.00" y="823.20" width="56.60" height="55.60" fill="#000" filter="url(#nzA)"/>
<linearGradient id="eg9" x1="0" x2="1" y1="0" y2="0"><stop offset="0" stop-color="#fff"/><stop offset="0.20" stop-color="#fff" stop-opacity="0.6"/><stop offset="0.28" stop-color="#fff" stop-opacity="0"/><stop offset="0.72" stop-color="#fff" stop-opacity="0"/><stop offset="0.80" stop-color="#fff" stop-opacity="0.6"/><stop offset="1" stop-color="#fff"/></linearGradient><mask id="meg9" maskUnits="userSpaceOnUse" x="583.0" y="823.2" width="56.6" height="55.6"><rect x="583.00" y="823.20" width="56.60" height="55.60" fill="url(#eg9)"/></mask>
<rect x="583.00" y="823.20" width="56.60" height="55.60" fill="#000" filter="url(#nzE)" mask="url(#meg9)"/>
<line x1="598.80" y1="835.40" x2="598.80" y2="866.00" stroke="#1b1716" stroke-width="1.5"/>
<line x1="623.20" y1="835.40" x2="623.20" y2="866.00" stroke="#1b1716" stroke-width="1.5"/>
<rect x="583.00" y="882.80" width="56.60" height="55.40" fill="#a7a6a4"/>
<rect x="583.00" y="882.80" width="56.60" height="55.40" fill="#000" filter="url(#nzB)"/>
<linearGradient id="eg10" x1="0" x2="1" y1="0" y2="0"><stop offset="0" stop-color="#fff"/><stop offset="0.20" stop-color="#fff" stop-opacity="0.6"/><stop offset="0.28" stop-color="#fff" stop-opacity="0"/><stop offset="0.72" stop-color="#fff" stop-opacity="0"/><stop offset="0.80" stop-color="#fff" stop-opacity="0.6"/><stop offset="1" stop-color="#fff"/></linearGradient><mask id="meg10" maskUnits="userSpaceOnUse" x="583.0" y="882.8" width="56.6" height="55.4"><rect x="583.00" y="882.80" width="56.60" height="55.40" fill="url(#eg10)"/></mask>
<rect x="583.00" y="882.80" width="56.60" height="55.40" fill="#000" filter="url(#nzE)" mask="url(#meg10)"/>
<line x1="601.10" y1="896.40" x2="601.10" y2="925.80" stroke="#1b1716" stroke-width="1.5"/>
<line x1="621.40" y1="896.40" x2="621.40" y2="925.80" stroke="#1b1716" stroke-width="1.5"/>
<text transform="translate(43.40,821.00) rotate(-15)" font-size="15.3" text-anchor="start" fill="#231f20" stroke="#231f20" stroke-width="0.15">Control</text>
<text transform="translate(104.00,823.00) rotate(-15)" font-size="15.3" text-anchor="start" fill="#231f20" stroke="#231f20" stroke-width="0.15">LINC01016 (+)-NC</text>
<text transform="translate(166.00,823.50) rotate(-15)" font-size="15.3" text-anchor="start" fill="#231f20" stroke="#231f20" stroke-width="0.15">LINC01016 (+)</text>
<text transform="translate(226.00,821.50) rotate(-15)" font-size="15.3" text-anchor="start" fill="#231f20" stroke="#231f20" stroke-width="0.15">LINC01016 (-)-NC</text>
<text transform="translate(287.00,820.50) rotate(-15)" font-size="15.3" text-anchor="start" fill="#231f20" stroke="#231f20" stroke-width="0.15">LINC01016 (-)</text>
<text transform="translate(350.70,821.50) rotate(-15)" font-size="15.3" text-anchor="start" fill="#231f20" stroke="#231f20" stroke-width="0.15">Control</text>
<text transform="translate(408.00,822.50) rotate(-15)" font-size="15.3" text-anchor="start" fill="#231f20" stroke="#231f20" stroke-width="0.15">LINC01016 (+)-NC</text>
<text transform="translate(472.00,823.00) rotate(-15)" font-size="15.3" text-anchor="start" fill="#231f20" stroke="#231f20" stroke-width="0.15">LINC01016 (+)</text>
<text transform="translate(532.00,822.00) rotate(-15)" font-size="15.3" text-anchor="start" fill="#231f20" stroke="#231f20" stroke-width="0.15">LINC01016 (-)-NC</text>
<text transform="translate(592.00,820.50) rotate(-15)" font-size="15.3" text-anchor="start" fill="#231f20" stroke="#231f20" stroke-width="0.15">LINC01016 (-)</text>
<text transform="translate(32.80,857.20)" font-size="14" text-anchor="end" fill="#231f20" stroke="#231f20" stroke-width="0.15">0h</text>
<text transform="translate(32.80,914.90)" font-size="14.2" text-anchor="end" fill="#231f20" stroke="#231f20" stroke-width="0.15">48h</text>
<line x1="43.40" y1="943.80" x2="320.80" y2="943.80" stroke="#231f20" stroke-width="1.2"/>
<line x1="351.70" y1="943.80" x2="628.80" y2="943.80" stroke="#231f20" stroke-width="1.2"/>
<text transform="translate(159.50,958.70)" font-size="13.8" text-anchor="start" fill="#231f20" stroke="#231f20" stroke-width="0.15">Ishikawa</text>
<text transform="translate(468.30,959.00)" font-size="14" text-anchor="start" fill="#231f20" stroke="#231f20" stroke-width="0.15">RL-95-2</text>
<text transform="translate(2.50,995.00)" font-size="21.5" text-anchor="start" fill="#231f20" stroke="#231f20" stroke-width="0.15">g</text>
<clipPath id="c21"><rect x="46.50" y="1019.30" width="57.60" height="56.30"/></clipPath><g clip-path="url(#c21)">
<rect x="46.50" y="1019.30" width="57.60" height="56.30" fill="#cbcbc4"/>
<path d="M65.3 1030.6h0M71.3 1031.0h0M66.2 1022.3h0M66.6 1033.0h0M65.4 1025.1h0M74.4 1022.4h0M68.9 1031.1h0M75.7 1025.8h0M86.8 1041.4h0M83.2 1036.0h0M88.6 1035.0h0M88.7 1031.8h0M85.5 1033.8h0M86.3 1038.3h0M87.9 1035.7h0M95.6 1021.7h0M99.2 1026.4h0M91.7 1026.0h0M97.1 1024.5h0M92.5 1022.1h0M99.1 1031.8h0M99.4 1031.3h0M107.4 1033.7h0M106.9 1031.0h0M98.1 1031.7h0M101.2 1032.2h0M61.8 1049.6h0M66.1 1059.7h0M61.6 1055.4h0M63.1 1048.8h0M79.3 1055.9h0M74.6 1059.0h0M76.9 1062.2h0M67.6 1051.4h0M55.9 1058.1h0M50.1 1054.6h0M54.7 1066.3h0M58.0 1067.5h0M63.3 1070.0h0M64.9 1068.6h0M64.8 1069.4h0M62.1 1058.0h0M62.7 1068.7h0M62.1 1068.7h0M76.7 1062.5h0M77.9 1060.8h0M79.9 1060.1h0M87.8 1073.2h0M89.7 1066.2h0M104.2 1062.8h0M102.2 1058.7h0M105.8 1062.2h0M104.8 1065.1h0M52.7 1069.7h0M51.2 1071.8h0M51.6 1075.3h0M47.6 1076.6h0M49.0 1071.1h0" stroke="#6c2298" stroke-width="4.0" stroke-linecap="round" stroke-opacity="0.58" fill="none"/>
<path d="M71.0 1028.2h0M71.1 1033.8h0M66.2 1031.5h0M67.0 1028.5h0M88.2 1030.4h0M97.2 1023.0h0M91.6 1025.2h0M97.7 1024.0h0M93.9 1028.2h0M55.7 1052.2h0M78.0 1053.4h0M75.5 1062.0h0M73.0 1053.4h0M62.9 1056.4h0M74.9 1056.1h0M71.0 1054.4h0M52.2 1063.1h0M49.3 1068.9h0M49.5 1062.9h0M50.4 1058.2h0M53.5 1065.2h0M55.9 1065.6h0M64.4 1063.5h0M81.3 1061.0h0M88.9 1075.8h0M93.4 1071.5h0M86.4 1074.6h0M88.9 1072.8h0M84.3 1069.4h0M84.8 1074.8h0M85.9 1078.2h0M101.9 1059.7h0M108.3 1064.7h0M98.0 1064.2h0M47.6 1067.6h0" stroke="#6c2298" stroke-width="6.0" stroke-linecap="round" stroke-opacity="0.58" fill="none"/>
<path d="M69.5 1019.8h0M67.7 1023.4h0M72.0 1030.0h0M67.9 1030.0h0M99.5 1026.1h0M97.0 1026.0h0M60.9 1055.7h0M62.7 1054.4h0M57.8 1053.0h0M65.2 1050.0h0M61.0 1047.7h0M65.0 1055.6h0M67.9 1053.6h0M62.1 1054.8h0M56.5 1056.3h0M74.4 1050.4h0M50.8 1062.9h0M50.4 1066.7h0M44.3 1069.3h0M50.3 1070.5h0M54.3 1062.8h0M42.8 1060.7h0M91.3 1071.0h0" stroke="#6c2298" stroke-width="7.0" stroke-linecap="round" stroke-opacity="0.58" fill="none"/>
<path d="M69.6 1029.5h0M65.0 1028.1h0M66.6 1032.8h0M66.6 1025.5h0M78.0 1035.7h0M46.7 1064.0h0M52.0 1062.2h0M54.8 1070.7h0" stroke="#6c2298" stroke-width="8.0" stroke-linecap="round" stroke-opacity="0.58" fill="none"/>
<path d="M66.3 1026.3h0M85.3 1033.2h0M88.3 1031.2h0M89.8 1036.9h0M95.5 1027.4h0M96.9 1021.8h0M96.1 1026.0h0M95.9 1020.3h0M94.2 1019.5h0M95.6 1018.4h0M96.1 1016.4h0M62.8 1053.2h0M58.4 1049.3h0M58.9 1049.5h0M59.7 1060.8h0M71.1 1059.3h0M75.1 1054.1h0M75.5 1060.7h0M68.5 1055.2h0M68.9 1058.9h0M45.3 1072.3h0M51.9 1060.2h0M55.7 1061.2h0M65.0 1070.2h0M61.4 1066.7h0M62.6 1073.7h0M60.0 1074.1h0M56.9 1067.4h0M65.1 1079.3h0M59.7 1065.0h0M69.3 1068.8h0M55.9 1062.5h0M85.5 1059.6h0M82.2 1062.9h0M82.6 1060.3h0M77.0 1059.0h0M82.6 1062.0h0M82.7 1060.8h0M81.7 1058.0h0M72.4 1058.1h0M83.0 1068.2h0M85.6 1069.5h0M86.8 1069.4h0M86.6 1065.9h0M98.0 1072.3h0M87.9 1072.3h0M87.3 1075.2h0M99.2 1054.2h0M97.0 1056.0h0M99.4 1056.7h0M103.0 1060.9h0M99.6 1061.0h0M49.8 1073.2h0M52.9 1076.2h0M51.1 1074.7h0M52.2 1074.6h0" stroke="#6c2298" stroke-width="5.0" stroke-linecap="round" stroke-opacity="0.58" fill="none"/>
<path d="M87.2 1036.1h0M84.3 1035.9h0M89.0 1034.5h0M90.6 1040.6h0M83.0 1030.0h0M88.7 1031.5h0M91.7 1026.1h0M102.1 1028.4h0M99.7 1032.3h0M98.4 1035.3h0M99.9 1031.3h0M103.1 1031.3h0M102.8 1026.6h0M61.2 1050.0h0M58.0 1050.6h0M69.9 1061.9h0M70.7 1058.7h0M73.8 1048.9h0M65.6 1067.6h0M63.4 1066.0h0M78.8 1065.3h0M82.3 1062.1h0M83.6 1062.7h0M78.4 1057.5h0M79.3 1058.3h0M90.4 1073.4h0M92.4 1075.3h0M104.1 1060.4h0M96.5 1056.6h0M100.9 1063.2h0M101.4 1065.7h0M101.2 1060.9h0M45.5 1073.8h0M45.7 1072.2h0M48.4 1065.1h0M51.7 1071.5h0M48.3 1071.7h0M49.5 1077.5h0M51.9 1076.6h0M50.7 1021.6h0M50.5 1020.0h0" stroke="#6c2298" stroke-width="3.0" stroke-linecap="round" stroke-opacity="0.58" fill="none"/>
<path d="M103.7 1029.9h0M101.7 1027.2h0M51.5 1023.8h0M51.9 1021.6h0M50.3 1021.5h0M50.3 1021.5h0M48.7 1023.0h0M48.5 1021.8h0M50.2 1021.1h0" stroke="#6c2298" stroke-width="2.0" stroke-linecap="round" stroke-opacity="0.58" fill="none"/>
<path d="M49.1 1023.3h0M47.7 1023.0h0" stroke="#6c2298" stroke-width="1.0" stroke-linecap="round" stroke-opacity="0.58" fill="none"/>
<rect x="46.50" y="1019.30" width="57.60" height="56.30" fill="#000" filter="url(#nzG)"/>
<path d="M102.9 1025.9h0m-2.1-4.7h0" stroke="#3a2060" stroke-width="1.17" stroke-linecap="round" stroke-opacity="0.8" fill="none"/>
<path d="M75.6 1064.2h0m29-35.6h0m-56.6-5.6h0m21.9 29.6h0m-16 1.5h0" stroke="#3a2060" stroke-width="1.50" stroke-linecap="round" stroke-opacity="0.8" fill="none"/>
<path d="M93.7 1036.2h0m-32.4 30.9h0m-3.9-20.8h0" stroke="#3a2060" stroke-width="1.83" stroke-linecap="round" stroke-opacity="0.8" fill="none"/>
</g>
<clipPath id="c22"><rect x="46.50" y="1093.00" width="57.60" height="56.20"/></clipPath><g clip-path="url(#c22)">
<rect x="46.50" y="1093.00" width="57.60" height="56.20" fill="#c2c2ba"/>
<path d="M54.3 1096.2h0M46.7 1099.3h0M55.0 1099.2h0M51.3 1098.0h0M48.0 1091.7h0M72.9 1096.7h0M71.9 1094.8h0M64.0 1094.3h0M71.1 1093.4h0M71.6 1095.7h0M71.7 1097.0h0M71.7 1092.0h0M68.9 1100.0h0M81.0 1119.4h0M82.2 1114.0h0M82.0 1117.2h0M80.1 1114.9h0M87.5 1114.7h0M89.3 1124.2h0M86.2 1137.3h0M93.6 1127.0h0M88.3 1143.2h0M90.2 1138.0h0M90.8 1144.3h0M92.6 1135.6h0M91.6 1145.1h0M90.1 1140.3h0M74.7 1142.6h0M71.2 1143.8h0M76.8 1147.3h0M72.5 1144.6h0M79.2 1146.0h0M77.0 1148.9h0M74.5 1144.3h0M68.8 1142.5h0M75.5 1145.6h0M74.6 1146.0h0M68.4 1148.8h0M53.0 1123.0h0M53.5 1121.5h0M50.7 1119.8h0M52.7 1131.3h0M45.6 1122.7h0M54.8 1126.6h0M95.2 1111.3h0M100.2 1117.0h0M103.7 1110.9h0M101.0 1117.2h0M99.3 1113.1h0M99.3 1113.3h0M58.5 1141.3h0M56.5 1140.4h0M54.8 1136.6h0M61.2 1140.0h0M59.4 1140.8h0M60.7 1137.9h0M62.2 1138.1h0M56.6 1136.6h0M80.4 1129.5h0M78.5 1131.8h0M77.7 1127.1h0M80.5 1130.9h0M80.2 1124.7h0M78.4 1130.8h0M73.5 1126.8h0M73.2 1127.2h0" stroke="#5a48a6" stroke-width="4.0" stroke-linecap="round" stroke-opacity="0.58" fill="none"/>
<path d="M50.4 1097.9h0M44.6 1096.5h0M54.1 1105.2h0M53.4 1100.5h0M48.5 1100.5h0M57.5 1098.9h0M51.6 1105.0h0M54.7 1097.6h0M62.1 1098.7h0M70.9 1097.4h0M76.1 1099.9h0M69.7 1097.7h0M68.0 1099.3h0M96.3 1137.4h0M91.7 1145.9h0M79.3 1146.8h0M85.5 1139.6h0M75.7 1148.3h0M49.9 1125.6h0M52.7 1124.9h0M50.7 1120.7h0M55.1 1120.8h0M54.0 1121.6h0M51.0 1125.3h0M50.9 1125.9h0M51.3 1127.1h0M50.8 1123.7h0M50.5 1122.2h0M50.9 1122.3h0M98.8 1113.8h0M97.0 1110.5h0M100.9 1112.4h0M100.0 1114.6h0M94.6 1115.9h0M97.2 1110.0h0M94.6 1109.4h0M97.8 1113.7h0M94.8 1115.3h0M100.1 1110.3h0M58.8 1140.2h0M58.5 1137.4h0M59.2 1138.7h0M60.3 1140.9h0M58.9 1134.4h0M57.0 1141.6h0M58.6 1134.1h0M58.6 1140.2h0M61.2 1138.6h0M58.2 1137.4h0M59.7 1140.9h0M56.5 1141.4h0M73.8 1127.9h0M80.5 1126.6h0M77.1 1125.5h0M77.2 1122.6h0M82.9 1125.9h0M76.8 1122.2h0M80.8 1129.1h0M80.0 1128.6h0M80.3 1130.0h0M78.7 1125.2h0M80.1 1125.2h0M77.6 1126.9h0" stroke="#5a48a6" stroke-width="3.0" stroke-linecap="round" stroke-opacity="0.58" fill="none"/>
<path d="M51.0 1099.7h0M57.0 1097.0h0M47.8 1093.6h0M52.1 1099.8h0M45.0 1095.5h0M54.5 1101.0h0M54.9 1098.0h0M53.5 1101.3h0M66.7 1096.4h0M68.0 1089.8h0M67.7 1105.8h0M70.3 1091.3h0M62.6 1095.3h0M85.0 1107.9h0M82.2 1107.5h0M81.3 1106.1h0M78.7 1106.5h0M80.0 1113.9h0M79.3 1115.2h0M93.6 1128.4h0M86.9 1125.9h0M86.7 1117.7h0M86.5 1124.9h0M90.7 1124.2h0M90.9 1123.4h0M83.2 1123.9h0M95.9 1142.5h0M97.3 1144.3h0M86.1 1145.9h0M92.7 1137.5h0M88.4 1144.0h0M91.4 1144.7h0M91.8 1149.0h0M101.2 1140.8h0M88.4 1136.1h0M93.0 1140.1h0M92.0 1146.0h0M87.8 1145.6h0M78.4 1145.5h0M77.8 1143.6h0M77.4 1142.2h0M80.9 1152.5h0M70.2 1137.4h0M77.7 1146.3h0M76.4 1143.7h0M57.1 1121.0h0M55.2 1118.8h0M50.1 1122.4h0M56.3 1124.3h0M55.9 1130.7h0M51.3 1121.5h0M57.2 1124.1h0M56.9 1127.4h0M95.4 1112.2h0M101.6 1107.8h0M96.9 1115.0h0M100.3 1115.7h0M101.5 1111.2h0M100.8 1111.6h0M95.8 1105.3h0M101.7 1112.6h0M98.5 1117.4h0M104.8 1114.0h0M94.9 1111.3h0M56.6 1138.2h0M77.9 1126.7h0M76.0 1131.5h0M77.6 1127.1h0M73.8 1124.6h0M76.7 1126.8h0M80.3 1123.4h0" stroke="#5a48a6" stroke-width="5.0" stroke-linecap="round" stroke-opacity="0.58" fill="none"/>
<path d="M51.1 1095.1h0M50.6 1100.5h0M68.2 1095.7h0M71.6 1092.8h0M70.5 1096.1h0M74.9 1090.7h0M72.0 1096.9h0M81.4 1114.0h0M79.6 1118.3h0M85.0 1116.0h0M82.2 1106.9h0M83.0 1114.7h0M84.2 1112.0h0M76.7 1116.2h0M79.8 1106.5h0M84.1 1114.6h0M78.7 1110.9h0M91.1 1128.1h0M92.5 1124.6h0M90.9 1123.3h0M87.7 1127.8h0M79.5 1124.7h0M87.6 1120.3h0M97.8 1133.7h0M98.4 1127.7h0M91.5 1120.4h0M85.3 1143.7h0M91.5 1146.1h0M97.8 1141.8h0M77.5 1140.3h0M67.7 1140.0h0M72.4 1146.7h0" stroke="#5a48a6" stroke-width="7.0" stroke-linecap="round" stroke-opacity="0.58" fill="none"/>
<path d="M54.2 1098.4h0M40.8 1095.5h0M55.9 1093.7h0M42.6 1100.7h0M55.7 1103.3h0M51.0 1101.9h0M47.3 1098.3h0M50.7 1098.8h0M49.2 1100.6h0M64.5 1098.5h0M72.7 1102.8h0M64.6 1101.3h0M74.9 1099.8h0M69.6 1103.5h0M69.3 1095.0h0M68.3 1099.1h0M71.1 1101.9h0M70.2 1096.2h0M78.4 1110.5h0M88.6 1108.3h0M82.3 1116.2h0M84.4 1107.6h0M75.3 1115.1h0M80.6 1115.6h0M81.4 1114.8h0M80.1 1104.3h0M83.1 1117.7h0M89.2 1123.9h0M86.6 1132.9h0M85.9 1126.7h0M85.5 1134.2h0M89.8 1130.1h0M93.5 1124.8h0M86.2 1126.6h0M92.1 1133.6h0M85.5 1124.1h0M98.0 1120.5h0M85.1 1128.8h0M91.2 1141.7h0M96.7 1144.9h0M92.2 1148.4h0M100.3 1136.6h0M93.6 1146.0h0M79.6 1138.6h0M89.3 1137.6h0M94.0 1131.5h0M91.3 1144.6h0M72.6 1143.8h0M82.1 1142.7h0M70.8 1142.9h0M75.7 1142.7h0M73.3 1141.9h0M66.6 1142.0h0M73.3 1146.2h0M76.1 1146.6h0M49.2 1122.4h0M53.2 1122.6h0M53.3 1122.0h0M100.4 1107.0h0M76.3 1118.8h0M80.0 1127.3h0" stroke="#5a48a6" stroke-width="6.0" stroke-linecap="round" stroke-opacity="0.58" fill="none"/>
<path d="M74.4 1111.3h0M79.6 1103.4h0M85.1 1108.2h0M77.0 1111.1h0M86.5 1111.6h0M83.6 1112.1h0M92.2 1133.7h0M92.5 1127.6h0M88.3 1127.5h0M95.7 1127.2h0" stroke="#5a48a6" stroke-width="8.0" stroke-linecap="round" stroke-opacity="0.58" fill="none"/>
<path d="M95.4 1122.2h0M89.6 1126.1h0M86.5 1121.1h0M87.9 1132.6h0M88.2 1122.8h0M89.7 1130.6h0" stroke="#5a48a6" stroke-width="9.0" stroke-linecap="round" stroke-opacity="0.58" fill="none"/>
<path d="M59.8 1139.6h0M57.3 1141.2h0M57.4 1140.4h0M58.9 1138.1h0" stroke="#5a48a6" stroke-width="2.0" stroke-linecap="round" stroke-opacity="0.58" fill="none"/>
<rect x="46.50" y="1093.00" width="57.60" height="56.20" fill="#000" filter="url(#nzG)"/>
<path d="M83.5 1121.9h0m-13.7-15.7h0m-2 19.8h0m-.1-22.2h0m11.7 40.4h0m16.9-2.2h0m-6-17.3h0" stroke="#3a2060" stroke-width="1.50" stroke-linecap="round" stroke-opacity="0.8" fill="none"/>
<path d="M61.7 1115.8h0m-9.4-3.5h0" stroke="#3a2060" stroke-width="1.83" stroke-linecap="round" stroke-opacity="0.8" fill="none"/>
</g>
<clipPath id="c23"><rect x="110.00" y="1019.30" width="57.60" height="56.30"/></clipPath><g clip-path="url(#c23)">
<rect x="110.00" y="1019.30" width="57.60" height="56.30" fill="#c8c8c1"/>
<path d="M127.1 1030.6h0M128.1 1045.2h0M129.7 1036.4h0M119.7 1038.3h0M127.5 1041.2h0M125.8 1035.3h0M133.8 1048.2h0M138.0 1040.2h0M150.2 1026.2h0M151.9 1032.0h0M118.4 1051.3h0M121.0 1051.6h0M115.1 1052.5h0M128.1 1063.6h0M125.2 1068.3h0M130.4 1065.6h0M136.5 1060.9h0M122.7 1082.1h0M126.2 1070.0h0M122.6 1073.1h0M121.1 1073.4h0M146.9 1067.6h0M140.5 1069.8h0M152.9 1067.5h0M147.2 1066.3h0M144.6 1068.0h0M146.7 1067.8h0M136.9 1061.1h0M161.6 1063.7h0M161.7 1068.1h0M163.3 1065.1h0" stroke="#6c2298" stroke-width="6.0" stroke-linecap="round" stroke-opacity="0.58" fill="none"/>
<path d="M128.9 1037.8h0M128.3 1039.1h0M128.3 1033.4h0M126.1 1033.9h0M125.4 1034.1h0M126.8 1039.8h0M129.2 1031.2h0M135.0 1063.4h0M137.5 1065.8h0M131.5 1065.3h0M126.3 1069.7h0M121.0 1068.4h0M146.7 1067.6h0M146.8 1073.2h0M160.6 1062.2h0" stroke="#6c2298" stroke-width="7.0" stroke-linecap="round" stroke-opacity="0.58" fill="none"/>
<path d="M122.9 1038.0h0M129.8 1032.0h0M134.0 1032.2h0M140.0 1045.4h0M142.5 1037.6h0M140.5 1037.5h0M141.9 1042.2h0M138.9 1038.8h0M151.8 1025.1h0M149.6 1024.2h0M147.9 1025.8h0M153.1 1033.7h0M152.0 1024.3h0M151.0 1027.1h0M124.8 1052.0h0M113.8 1043.3h0M118.5 1051.9h0M112.0 1042.5h0M120.0 1049.6h0M116.1 1057.6h0M136.5 1056.4h0M131.4 1064.9h0M132.2 1069.2h0M131.8 1051.3h0M130.0 1055.8h0M137.6 1053.6h0M133.1 1066.0h0M125.4 1061.0h0M119.8 1065.6h0M117.4 1073.1h0M152.1 1065.6h0M142.3 1069.5h0M159.3 1061.7h0M154.1 1065.7h0M163.6 1066.6h0M161.1 1064.9h0M162.3 1062.5h0" stroke="#6c2298" stroke-width="5.0" stroke-linecap="round" stroke-opacity="0.58" fill="none"/>
<path d="M127.7 1037.9h0M127.1 1043.3h0M128.6 1034.8h0M135.2 1068.2h0M133.4 1068.8h0M143.7 1056.9h0" stroke="#6c2298" stroke-width="8.0" stroke-linecap="round" stroke-opacity="0.58" fill="none"/>
<path d="M134.2 1027.7h0M132.3 1031.3h0M128.8 1038.7h0M145.0 1040.1h0M137.2 1042.1h0M140.8 1042.4h0M138.0 1039.5h0M140.6 1042.2h0M152.1 1032.2h0M156.7 1022.3h0M153.4 1025.6h0M150.3 1026.8h0M153.4 1031.3h0M152.2 1022.0h0M165.1 1031.3h0M162.3 1038.5h0M161.5 1037.1h0M118.8 1049.6h0M112.9 1046.5h0M120.3 1044.7h0M119.5 1048.3h0M118.2 1048.9h0M116.6 1051.5h0M118.6 1051.4h0M117.2 1054.4h0M116.4 1045.8h0M130.8 1068.3h0M124.9 1066.1h0M123.9 1068.4h0M125.0 1068.6h0M127.7 1062.8h0M118.1 1072.6h0M128.0 1069.9h0M121.4 1069.9h0M122.6 1066.6h0M143.9 1067.1h0M141.2 1065.9h0M136.7 1062.2h0M145.8 1067.0h0M145.5 1069.2h0M156.1 1066.2h0M163.9 1061.3h0M166.3 1065.2h0M165.6 1064.7h0M161.2 1066.6h0M156.6 1058.8h0M160.1 1068.9h0M157.2 1065.1h0M153.2 1054.7h0M154.0 1054.5h0M154.1 1052.3h0M153.9 1054.4h0M149.4 1053.5h0M152.4 1054.5h0" stroke="#6c2298" stroke-width="4.0" stroke-linecap="round" stroke-opacity="0.58" fill="none"/>
<path d="M136.8 1038.9h0M135.6 1039.4h0M142.6 1039.1h0M139.6 1039.4h0M144.4 1043.8h0M152.7 1027.8h0M157.1 1026.0h0M152.0 1027.1h0M162.8 1039.3h0M165.9 1039.5h0M167.0 1037.3h0M163.8 1038.1h0M162.2 1035.9h0M118.4 1050.4h0M126.4 1075.6h0M125.1 1067.7h0M121.0 1072.9h0M123.4 1066.8h0M143.2 1071.3h0M142.9 1063.4h0M145.1 1072.3h0M167.1 1066.2h0M162.1 1066.4h0M151.9 1047.4h0M151.4 1051.8h0M152.5 1052.8h0M151.9 1051.7h0M113.4 1030.9h0M113.1 1033.9h0M111.9 1030.2h0M112.5 1031.2h0M111.1 1029.5h0M109.1 1031.7h0M110.4 1027.9h0" stroke="#6c2298" stroke-width="3.0" stroke-linecap="round" stroke-opacity="0.58" fill="none"/>
<path d="M164.8 1034.2h0M162.7 1035.2h0M164.2 1037.2h0M166.0 1037.2h0M165.8 1038.9h0M164.8 1034.4h0M155.1 1054.4h0M155.3 1054.8h0M152.7 1054.7h0M155.5 1053.5h0M113.1 1030.7h0M114.7 1027.8h0M114.0 1028.6h0M115.5 1028.3h0M113.5 1033.1h0" stroke="#6c2298" stroke-width="2.0" stroke-linecap="round" stroke-opacity="0.58" fill="none"/>
<path d="M131.4 1059.8h0M125.0 1056.1h0" stroke="#6c2298" stroke-width="9.0" stroke-linecap="round" stroke-opacity="0.58" fill="none"/>
<rect x="110.00" y="1019.30" width="57.60" height="56.30" fill="#000" filter="url(#nzG)"/>
<path d="M113.4 1025.8h0m44.1-3h0m-1.5 32.4h0m-26.5-24.2h0m19.9 1.2h0m-9.8 43.6h0" stroke="#3a2060" stroke-width="1.17" stroke-linecap="round" stroke-opacity="0.8" fill="none"/>
<path d="M163.7 1033.1h0m-32.6-3.4h0m21.7 29.1h0m-4.4 13.6h0m14-45.3h0m-8 38.1h0m-28.8-35.3h0m-2.4 6.5h0m15.5-3.2h0" stroke="#3a2060" stroke-width="1.50" stroke-linecap="round" stroke-opacity="0.8" fill="none"/>
<path d="M110.1 1058.3h0m33-4.4h0m2.5-8.1h0" stroke="#3a2060" stroke-width="1.83" stroke-linecap="round" stroke-opacity="0.8" fill="none"/>
</g>
<clipPath id="c24"><rect x="110.00" y="1093.00" width="57.60" height="56.20"/></clipPath><g clip-path="url(#c24)">
<rect x="110.00" y="1093.00" width="57.60" height="56.20" fill="#c2c2ba"/>
<path d="M119.3 1105.3h0M114.9 1102.1h0M110.2 1107.5h0M118.3 1104.4h0M118.7 1107.4h0M112.2 1105.3h0M113.3 1102.8h0M112.5 1101.7h0M113.6 1104.6h0M117.8 1099.9h0M135.3 1116.1h0M138.0 1118.9h0M142.2 1117.9h0M137.7 1117.7h0M135.9 1115.0h0M138.5 1117.4h0M136.4 1118.8h0M136.6 1120.8h0M143.7 1117.8h0M149.0 1127.1h0M147.3 1124.5h0M151.8 1126.7h0M156.2 1122.4h0M151.0 1126.8h0M158.1 1125.4h0M150.4 1123.0h0M149.6 1129.3h0M147.6 1126.4h0M160.9 1121.3h0M164.6 1120.7h0M164.2 1123.1h0M157.5 1123.6h0M162.9 1125.4h0M165.6 1120.7h0M159.1 1121.7h0M124.5 1148.1h0M117.2 1143.2h0M132.7 1144.1h0M137.7 1138.2h0M132.5 1140.5h0M136.5 1145.0h0M139.1 1144.1h0M136.5 1139.9h0M137.6 1135.1h0M142.3 1137.3h0M138.0 1142.7h0M134.6 1139.9h0M144.6 1142.2h0M165.3 1109.9h0M167.6 1108.9h0M165.0 1112.8h0M169.2 1112.4h0M161.4 1142.3h0M153.5 1144.2h0M158.1 1139.3h0M160.4 1141.5h0M162.0 1145.4h0M159.2 1141.0h0M156.8 1143.0h0M155.6 1142.5h0M158.4 1141.2h0" stroke="#5a48a6" stroke-width="5.0" stroke-linecap="round" stroke-opacity="0.58" fill="none"/>
<path d="M118.3 1107.3h0M112.6 1107.5h0M115.9 1105.3h0M117.6 1106.7h0M109.3 1105.5h0M115.2 1103.8h0M114.1 1102.6h0M113.0 1103.3h0M118.1 1105.8h0M116.6 1100.5h0M114.1 1095.4h0M141.9 1117.2h0M140.4 1116.5h0M140.9 1117.9h0M138.3 1121.2h0M147.4 1122.3h0M135.2 1120.3h0M141.6 1128.0h0M136.2 1121.6h0M140.1 1117.0h0M144.9 1125.6h0M148.6 1128.4h0M153.9 1127.8h0M146.0 1125.9h0M149.0 1126.6h0M155.5 1121.0h0M143.6 1130.0h0M148.1 1126.0h0M159.8 1120.9h0M163.6 1121.0h0M157.1 1122.7h0M162.0 1123.5h0M162.2 1122.3h0M167.0 1130.0h0M161.0 1118.7h0M158.9 1126.8h0M157.3 1126.6h0M121.2 1139.9h0M125.7 1144.7h0M121.6 1143.5h0M116.2 1152.3h0M121.5 1145.1h0M123.6 1145.4h0M120.5 1135.9h0M122.4 1146.9h0M121.2 1143.5h0M117.6 1147.7h0M126.6 1140.2h0M145.7 1141.5h0M141.7 1137.9h0M139.7 1136.9h0M137.4 1140.3h0M141.4 1143.6h0M141.5 1139.2h0M142.0 1140.5h0M135.0 1141.0h0M136.6 1140.4h0M139.1 1139.3h0M140.3 1142.6h0M137.0 1143.1h0M165.0 1105.7h0M161.7 1110.7h0M163.4 1112.8h0M165.5 1111.0h0M165.7 1115.7h0M157.7 1138.5h0" stroke="#5a48a6" stroke-width="6.0" stroke-linecap="round" stroke-opacity="0.58" fill="none"/>
<path d="M114.9 1101.3h0M112.4 1103.0h0M112.0 1107.6h0M117.6 1111.8h0M138.9 1117.5h0M130.7 1114.2h0M132.6 1127.3h0M137.5 1113.7h0M142.7 1114.9h0M139.6 1121.2h0M151.5 1128.8h0M157.2 1116.1h0M152.4 1118.6h0M145.1 1131.1h0M140.2 1122.9h0M149.1 1127.2h0M152.3 1126.4h0M147.5 1126.3h0M152.5 1122.6h0M152.8 1127.0h0M146.4 1131.8h0M147.2 1130.9h0M148.8 1129.3h0M163.3 1122.4h0M165.5 1124.2h0M161.2 1122.1h0M118.2 1150.0h0M122.1 1139.3h0M124.9 1145.9h0M122.4 1148.3h0M127.0 1140.4h0M122.8 1144.5h0M121.7 1141.3h0M122.1 1150.5h0M117.2 1139.0h0M123.9 1148.4h0M113.2 1146.5h0M126.7 1153.7h0M143.0 1141.4h0M139.0 1134.9h0M142.6 1137.0h0M139.0 1142.0h0M139.7 1140.8h0M141.4 1142.1h0" stroke="#5a48a6" stroke-width="7.0" stroke-linecap="round" stroke-opacity="0.58" fill="none"/>
<path d="M118.4 1105.7h0M118.6 1106.4h0M114.7 1104.7h0M114.2 1105.2h0M115.5 1097.7h0M114.5 1104.3h0M138.7 1111.8h0M137.2 1121.3h0M143.1 1112.0h0M140.7 1125.1h0M139.5 1116.3h0M152.3 1124.5h0M156.2 1128.0h0M150.6 1127.4h0M161.6 1119.9h0M156.9 1125.8h0M160.8 1123.6h0M161.9 1124.9h0M160.9 1119.5h0M165.3 1130.7h0M162.3 1132.0h0M161.4 1123.7h0M126.8 1136.2h0M113.3 1146.3h0M120.3 1145.9h0M114.8 1143.3h0M126.6 1139.9h0M126.3 1142.5h0M137.6 1138.3h0M139.1 1144.8h0M140.4 1145.5h0M135.1 1140.0h0M138.2 1144.1h0M164.6 1112.3h0M171.0 1107.4h0M160.9 1109.6h0M163.4 1110.2h0M164.6 1111.0h0M166.9 1108.1h0M162.9 1110.5h0M170.2 1110.3h0M166.6 1113.7h0M164.9 1106.6h0M129.7 1114.6h0M130.1 1109.5h0M135.5 1109.5h0M131.9 1110.5h0M159.4 1146.7h0M161.0 1143.4h0M159.0 1144.9h0M159.9 1146.0h0M158.8 1147.1h0M155.6 1148.3h0M162.2 1141.4h0M156.5 1142.5h0M161.8 1147.7h0M155.4 1141.1h0" stroke="#5a48a6" stroke-width="4.0" stroke-linecap="round" stroke-opacity="0.58" fill="none"/>
<path d="M115.1 1102.9h0M132.6 1123.3h0M139.6 1115.0h0M141.0 1124.1h0M157.4 1124.3h0M165.6 1124.7h0M161.4 1118.5h0M159.0 1122.6h0M158.5 1128.6h0M166.0 1105.2h0M166.4 1110.8h0M161.8 1113.3h0M159.0 1107.3h0M158.0 1111.2h0M165.7 1107.8h0M164.3 1107.0h0M169.3 1109.3h0M168.0 1108.5h0M128.4 1110.1h0M131.5 1111.1h0M130.2 1109.4h0M126.0 1111.8h0M128.1 1114.0h0M128.5 1106.4h0M127.2 1109.1h0M128.3 1114.1h0M131.5 1111.8h0M133.8 1110.9h0M128.2 1108.0h0M126.7 1109.3h0M152.9 1144.0h0M155.6 1145.4h0M165.6 1144.0h0M163.0 1148.3h0M156.9 1147.3h0M161.7 1140.0h0M155.8 1145.7h0M158.6 1145.4h0" stroke="#5a48a6" stroke-width="3.0" stroke-linecap="round" stroke-opacity="0.58" fill="none"/>
<path d="M148.5 1127.1h0M152.8 1126.4h0M148.9 1123.5h0M114.5 1140.9h0M120.1 1140.5h0M122.8 1144.3h0M127.0 1148.2h0M119.8 1147.0h0" stroke="#5a48a6" stroke-width="8.0" stroke-linecap="round" stroke-opacity="0.58" fill="none"/>
<path d="M128.8 1108.7h0M127.1 1108.4h0M129.9 1110.8h0M129.9 1110.5h0M130.9 1110.9h0M130.7 1111.1h0M127.7 1109.9h0" stroke="#5a48a6" stroke-width="2.0" stroke-linecap="round" stroke-opacity="0.58" fill="none"/>
<rect x="110.00" y="1093.00" width="57.60" height="56.20" fill="#000" filter="url(#nzG)"/>
<path d="M162.8 1104.7h0" stroke="#3a2060" stroke-width="1.17" stroke-linecap="round" stroke-opacity="0.8" fill="none"/>
<path d="M117.0 1107.0h0m25.4 27.3h0m16.4-12.7h0m-35.7-7.6h0" stroke="#3a2060" stroke-width="1.50" stroke-linecap="round" stroke-opacity="0.8" fill="none"/>
<path d="M161.5 1118.8h0m-18-.5h0" stroke="#3a2060" stroke-width="1.83" stroke-linecap="round" stroke-opacity="0.8" fill="none"/>
</g>
<clipPath id="c25"><rect x="173.50" y="1019.30" width="57.60" height="56.30"/></clipPath><g clip-path="url(#c25)">
<rect x="173.50" y="1019.30" width="57.60" height="56.30" fill="#c6c6c0"/>
<rect x="173.50" y="1019.30" width="57.60" height="56.30" fill="#6e2c9e" fill-opacity="0.58"/>
<path d="M227.6 1048.1h0M225.8 1047.5h0M235.3 1043.8h0M234.8 1044.1h0M230.7 1040.1h0M223.0 1040.6h0M222.1 1042.5h0M226.3 1048.3h0M227.4 1042.9h0M178.1 1054.5h0M174.3 1062.1h0M181.4 1059.5h0M183.2 1060.9h0M180.9 1056.6h0M222.9 1073.9h0M217.8 1069.1h0" stroke="#c6c6c0" stroke-width="6.0" stroke-linecap="round" stroke-opacity="0.7" fill="none"/>
<path d="M232.0 1040.7h0M224.2 1042.0h0M231.3 1043.1h0" stroke="#c6c6c0" stroke-width="7.0" stroke-linecap="round" stroke-opacity="0.7" fill="none"/>
<path d="M240.0 1048.5h0M223.0 1036.7h0M222.8 1043.4h0M223.0 1042.7h0M231.2 1050.5h0M176.1 1057.7h0M174.5 1056.2h0M178.8 1054.0h0M175.1 1056.0h0M181.0 1057.6h0M175.8 1054.5h0M179.7 1057.7h0M214.2 1072.8h0M219.7 1077.5h0M213.0 1068.6h0M215.3 1075.7h0M213.6 1067.6h0" stroke="#c6c6c0" stroke-width="5.0" stroke-linecap="round" stroke-opacity="0.7" fill="none"/>
<path d="M220.8 1044.5h0M174.1 1055.0h0M185.3 1058.9h0M212.4 1072.2h0M213.2 1071.8h0M223.9 1068.0h0M216.5 1071.9h0M216.7 1072.9h0M217.7 1070.4h0M218.2 1067.7h0M220.0 1072.7h0M172.7 1034.0h0M175.1 1032.1h0M175.0 1034.4h0M175.8 1033.0h0M175.2 1033.9h0M176.9 1034.2h0M175.7 1033.5h0" stroke="#c6c6c0" stroke-width="3.0" stroke-linecap="round" stroke-opacity="0.7" fill="none"/>
<path d="M222.8 1048.7h0M174.9 1055.3h0M181.6 1056.5h0M177.4 1059.1h0M174.5 1057.1h0M214.6 1072.8h0M217.9 1075.1h0" stroke="#c6c6c0" stroke-width="4.0" stroke-linecap="round" stroke-opacity="0.7" fill="none"/>
<path d="M175.6 1031.5h0M175.7 1033.1h0M176.4 1035.0h0M174.8 1031.2h0M174.8 1035.0h0" stroke="#c6c6c0" stroke-width="2.0" stroke-linecap="round" stroke-opacity="0.7" fill="none"/>
<path d="M193.3 1031.2h0M190.6 1033.7h0M190.1 1027.8h0M186.0 1033.1h0M190.3 1028.0h0M209.5 1037.1h0M208.5 1039.4h0M209.8 1032.3h0M212.7 1038.5h0M201.7 1038.9h0M200.7 1049.3h0M195.3 1053.6h0M204.5 1048.6h0M190.6 1048.8h0M218.7 1057.7h0M222.1 1058.7h0M186.6 1066.0h0M192.5 1067.4h0M193.2 1067.8h0M191.7 1069.9h0M228.2 1030.4h0M224.8 1026.9h0M220.0 1027.4h0M220.4 1027.8h0M221.7 1026.4h0M221.1 1029.2h0" stroke="#5a1a88" stroke-width="4.0" stroke-linecap="round" stroke-opacity="0.58" fill="none"/>
<path d="M188.1 1028.4h0M187.7 1031.9h0M191.3 1028.0h0M198.0 1034.6h0M213.7 1039.4h0M210.0 1039.2h0M211.6 1032.8h0M207.8 1039.5h0M214.0 1051.4h0M219.5 1059.0h0M213.3 1059.4h0M212.4 1053.1h0M217.5 1055.9h0M190.0 1067.5h0M190.7 1061.4h0M188.4 1065.9h0M190.5 1070.6h0M220.7 1025.5h0M220.7 1030.8h0M223.2 1028.3h0M220.9 1026.0h0M222.5 1025.3h0M220.1 1027.3h0" stroke="#5a1a88" stroke-width="3.0" stroke-linecap="round" stroke-opacity="0.58" fill="none"/>
<path d="M195.4 1034.4h0M191.4 1031.3h0M190.7 1030.2h0M196.9 1031.9h0M191.3 1027.9h0M185.5 1025.1h0M210.6 1037.7h0M213.0 1033.4h0M194.9 1048.9h0M197.2 1053.7h0M197.8 1044.2h0M199.4 1045.9h0M194.5 1048.7h0M196.3 1058.8h0M194.0 1050.3h0M201.1 1047.4h0M218.4 1062.6h0M217.8 1058.3h0M206.2 1056.2h0M216.6 1056.2h0M190.2 1066.2h0M197.0 1067.4h0M188.4 1066.7h0M190.6 1073.4h0M195.4 1067.7h0" stroke="#5a1a88" stroke-width="6.0" stroke-linecap="round" stroke-opacity="0.58" fill="none"/>
<path d="M189.2 1036.1h0M187.5 1025.0h0M194.1 1024.1h0M213.0 1042.0h0M211.3 1030.8h0M213.7 1033.4h0M209.3 1036.4h0M208.0 1031.1h0M190.9 1046.0h0M197.5 1047.1h0M218.4 1059.4h0M211.5 1057.8h0M215.6 1061.6h0M218.7 1057.5h0M212.5 1058.4h0M215.0 1055.6h0M215.9 1061.7h0M186.5 1069.0h0M189.4 1063.0h0M189.2 1070.3h0M190.3 1066.2h0" stroke="#5a1a88" stroke-width="5.0" stroke-linecap="round" stroke-opacity="0.58" fill="none"/>
<path d="M188.7 1030.9h0M210.1 1038.3h0M209.1 1034.1h0M211.3 1035.2h0M197.8 1053.5h0M198.7 1047.3h0M192.5 1048.9h0M197.2 1052.6h0M218.1 1055.5h0" stroke="#5a1a88" stroke-width="7.0" stroke-linecap="round" stroke-opacity="0.58" fill="none"/>
<path d="M195.2 1051.6h0M192.0 1048.7h0M201.4 1047.8h0" stroke="#5a1a88" stroke-width="8.0" stroke-linecap="round" stroke-opacity="0.58" fill="none"/>
<path d="M220.4 1024.8h0M223.0 1025.4h0" stroke="#5a1a88" stroke-width="2.0" stroke-linecap="round" stroke-opacity="0.58" fill="none"/>
<rect x="173.50" y="1019.30" width="57.60" height="56.30" fill="#000" filter="url(#nzP)"/>
<rect x="173.50" y="1019.30" width="57.60" height="56.30" fill="#000" filter="url(#nzG)"/>
<path d="M181.4 1061.4h0m41.4-37.4h0m-26.9 32.9h0m-18-9.5h0m36.4 12.1h0" stroke="#3a2060" stroke-width="1.17" stroke-linecap="round" stroke-opacity="0.8" fill="none"/>
<path d="M221.5 1032.0h0m-38.5 35h0m34.4-16.4h0" stroke="#3a2060" stroke-width="1.50" stroke-linecap="round" stroke-opacity="0.8" fill="none"/>
<path d="M224.9 1024.7h0m-36.9-1.2h0" stroke="#3a2060" stroke-width="1.83" stroke-linecap="round" stroke-opacity="0.8" fill="none"/>
</g>
<clipPath id="c26"><rect x="173.50" y="1093.00" width="57.60" height="56.20"/></clipPath><g clip-path="url(#c26)">
<rect x="173.50" y="1093.00" width="57.60" height="56.20" fill="#c0c0b8"/>
<rect x="173.50" y="1093.00" width="57.60" height="56.20" fill="#5e4ca8" fill-opacity="0.52"/>
<path d="M189.3 1095.7h0M191.0 1095.2h0M192.6 1094.1h0M194.1 1093.8h0M176.2 1131.9h0M179.1 1128.2h0M179.8 1123.8h0M176.3 1123.1h0M179.8 1126.4h0M202.0 1134.0h0M202.8 1136.3h0M202.7 1140.7h0M202.8 1137.9h0M226.5 1127.9h0M228.5 1121.8h0M223.5 1125.5h0M224.5 1121.9h0M185.3 1112.6h0M183.9 1113.9h0M183.4 1113.6h0" stroke="#c0c0b8" stroke-width="3.0" stroke-linecap="round" stroke-opacity="0.7" fill="none"/>
<path d="M189.8 1093.2h0M185.3 1094.5h0M190.8 1093.3h0M186.8 1093.4h0M189.1 1099.8h0M188.9 1092.0h0M192.6 1094.4h0M176.3 1125.3h0M176.2 1125.1h0M178.1 1131.0h0M175.7 1125.3h0M179.3 1125.8h0M175.7 1129.3h0" stroke="#c0c0b8" stroke-width="4.0" stroke-linecap="round" stroke-opacity="0.7" fill="none"/>
<path d="M189.6 1097.2h0" stroke="#c0c0b8" stroke-width="5.0" stroke-linecap="round" stroke-opacity="0.7" fill="none"/>
<path d="M192.7 1097.6h0M186.9 1091.2h0M181.2 1129.0h0M180.1 1125.6h0M179.8 1131.9h0M202.4 1137.7h0M202.9 1132.9h0M205.3 1133.5h0M198.1 1136.0h0M201.2 1135.3h0M202.1 1134.5h0M200.1 1133.1h0M203.1 1136.2h0M224.9 1125.5h0M228.3 1124.4h0M228.2 1126.4h0M226.4 1123.8h0M227.2 1126.8h0M225.2 1121.8h0M224.1 1121.6h0M227.8 1123.7h0M186.6 1109.9h0M186.2 1112.2h0M184.0 1110.8h0M183.6 1112.7h0M185.4 1111.5h0M187.7 1113.0h0M186.4 1113.7h0" stroke="#c0c0b8" stroke-width="2.0" stroke-linecap="round" stroke-opacity="0.7" fill="none"/>
<path d="M183.2 1112.2h0" stroke="#c0c0b8" stroke-width="1.0" stroke-linecap="round" stroke-opacity="0.7" fill="none"/>
<path d="M194.7 1105.2h0M191.2 1112.0h0M193.6 1107.7h0M190.1 1109.0h0M193.4 1111.7h0M187.4 1106.5h0M193.8 1116.3h0M184.0 1110.2h0M211.1 1110.7h0M212.8 1112.8h0M203.1 1104.5h0M214.5 1107.6h0M211.2 1111.1h0M198.9 1123.4h0M190.0 1118.3h0M198.6 1116.3h0M199.1 1121.4h0M221.4 1132.2h0M216.4 1128.5h0M214.4 1131.0h0M216.4 1126.6h0M214.2 1136.0h0M195.4 1135.8h0M185.8 1141.9h0M189.2 1145.0h0M188.0 1141.0h0M184.6 1140.0h0M189.4 1141.5h0M221.6 1101.8h0M221.2 1100.8h0M222.7 1096.9h0M222.0 1100.8h0" stroke="#4a3a98" stroke-width="4.0" stroke-linecap="round" stroke-opacity="0.58" fill="none"/>
<path d="M193.6 1107.0h0M192.3 1105.2h0M190.3 1111.9h0M194.8 1113.4h0M210.0 1112.8h0M215.2 1108.6h0M205.6 1104.2h0M216.2 1110.5h0M199.8 1123.2h0M198.2 1124.7h0M218.6 1133.0h0M218.3 1133.5h0" stroke="#4a3a98" stroke-width="7.0" stroke-linecap="round" stroke-opacity="0.58" fill="none"/>
<path d="M202.8 1105.0h0M193.0 1109.2h0M215.2 1106.7h0M210.3 1117.0h0M214.2 1108.1h0M195.2 1117.2h0M200.1 1117.6h0M198.6 1123.5h0M200.3 1117.1h0M200.5 1118.1h0M219.8 1130.9h0M219.6 1133.1h0M217.0 1131.7h0M216.5 1132.7h0M190.8 1143.3h0" stroke="#4a3a98" stroke-width="6.0" stroke-linecap="round" stroke-opacity="0.58" fill="none"/>
<path d="M194.0 1107.6h0M191.0 1110.8h0M199.1 1117.9h0M217.7 1108.9h0M207.8 1099.2h0" stroke="#4a3a98" stroke-width="8.0" stroke-linecap="round" stroke-opacity="0.58" fill="none"/>
<path d="M196.6 1109.3h0M190.7 1107.4h0M188.0 1112.9h0M188.3 1111.2h0M214.6 1103.3h0M214.3 1100.7h0M212.2 1105.0h0M211.2 1111.9h0M214.8 1102.8h0M210.6 1111.7h0M205.5 1105.0h0M200.5 1113.3h0M204.8 1128.3h0M201.8 1124.7h0M194.1 1128.1h0M203.1 1123.7h0M197.8 1118.4h0M215.6 1130.9h0M222.7 1130.7h0M216.2 1128.9h0M213.9 1131.9h0M217.8 1133.1h0M216.7 1127.7h0M183.5 1139.2h0M185.9 1141.7h0M187.4 1139.3h0M185.1 1149.2h0M185.2 1140.4h0M189.8 1139.3h0M185.0 1141.8h0M220.5 1101.0h0" stroke="#4a3a98" stroke-width="5.0" stroke-linecap="round" stroke-opacity="0.58" fill="none"/>
<path d="M191.8 1122.6h0M197.1 1121.4h0M214.4 1137.2h0M215.1 1136.5h0M189.7 1141.1h0M190.5 1136.5h0M188.8 1142.5h0M220.6 1099.4h0M219.6 1096.5h0M221.0 1105.0h0M223.7 1102.6h0M222.6 1101.8h0M223.8 1099.7h0M225.9 1101.5h0M222.8 1101.3h0M219.5 1102.4h0" stroke="#4a3a98" stroke-width="3.0" stroke-linecap="round" stroke-opacity="0.58" fill="none"/>
<rect x="173.50" y="1093.00" width="57.60" height="56.20" fill="#000" filter="url(#nzP)"/>
<rect x="173.50" y="1093.00" width="57.60" height="56.20" fill="#000" filter="url(#nzG)"/>
<path d="M186.0 1100.8h0m.5 9.9h0m31.1 17.5h0m-5.3-3.1h0m-16-23.1h0" stroke="#3a2060" stroke-width="1.17" stroke-linecap="round" stroke-opacity="0.8" fill="none"/>
<path d="M226.5 1105.4h0m-.5 2.5h0" stroke="#3a2060" stroke-width="1.50" stroke-linecap="round" stroke-opacity="0.8" fill="none"/>
<path d="M223.6 1122.5h0m4.5-19.8h0m-32.6 25h0" stroke="#3a2060" stroke-width="1.83" stroke-linecap="round" stroke-opacity="0.8" fill="none"/>
</g>
<clipPath id="c27"><rect x="237.00" y="1019.30" width="57.60" height="56.30"/></clipPath><g clip-path="url(#c27)">
<rect x="237.00" y="1019.30" width="57.60" height="56.30" fill="#c9c9c3"/>
<path d="M248.4 1031.2h0M248.2 1034.8h0M248.3 1033.2h0M247.7 1031.3h0M250.6 1036.1h0M249.2 1034.7h0M250.7 1035.0h0M247.1 1033.2h0M244.8 1031.1h0M260.7 1034.5h0M263.5 1037.7h0M261.6 1034.2h0M260.0 1034.8h0M258.9 1035.9h0M262.7 1034.8h0M279.7 1024.8h0M275.0 1031.0h0M278.8 1027.0h0M250.4 1043.0h0M245.9 1042.4h0M244.6 1046.7h0M245.9 1044.3h0M241.5 1038.0h0M246.2 1042.8h0M257.1 1049.7h0M260.3 1049.5h0M261.6 1051.5h0M265.2 1049.4h0M265.3 1044.0h0M258.2 1045.5h0M263.1 1046.7h0M272.9 1039.4h0M273.0 1047.1h0M271.5 1044.1h0M275.7 1041.5h0M288.3 1046.6h0M287.9 1048.3h0M286.8 1049.6h0M281.2 1048.7h0M285.8 1050.4h0M285.8 1045.0h0M284.4 1045.3h0M285.4 1047.1h0M248.4 1060.4h0M248.7 1058.8h0M247.3 1057.7h0M253.5 1055.4h0M252.9 1058.3h0M252.4 1060.4h0M251.0 1063.0h0M267.8 1060.2h0M271.3 1065.4h0M263.8 1059.8h0M269.8 1058.2h0M269.3 1060.6h0M269.9 1057.9h0M285.5 1053.6h0M288.6 1053.5h0M280.3 1060.4h0M286.3 1056.4h0M281.8 1054.5h0M284.4 1055.0h0M287.1 1056.5h0M279.7 1058.7h0M282.9 1056.3h0M281.7 1060.0h0M242.0 1069.4h0M243.0 1069.6h0M245.8 1069.8h0M242.9 1067.2h0M242.3 1067.6h0M242.7 1068.4h0M258.8 1068.8h0M256.4 1068.5h0M261.5 1064.2h0M255.7 1072.6h0M256.4 1071.3h0M279.4 1068.1h0M276.2 1065.9h0M277.4 1067.2h0M281.7 1067.2h0M278.3 1074.8h0M280.5 1072.2h0M279.7 1071.8h0M292.5 1061.9h0M287.3 1065.2h0M288.7 1060.8h0M289.6 1064.6h0M286.7 1064.1h0" stroke="#6c2298" stroke-width="4.0" stroke-linecap="round" stroke-opacity="0.58" fill="none"/>
<path d="M252.1 1033.6h0M251.0 1034.2h0M244.8 1034.3h0M264.8 1032.3h0M264.1 1031.7h0M260.2 1034.2h0M262.1 1036.6h0M281.1 1024.9h0M275.7 1029.7h0M279.6 1027.2h0M276.5 1026.0h0M282.1 1028.6h0M276.5 1027.1h0M249.8 1042.5h0M246.9 1045.3h0M245.9 1049.1h0M244.2 1043.6h0M246.8 1042.3h0M246.3 1045.2h0M247.9 1043.4h0M263.3 1048.3h0M259.2 1045.9h0M255.2 1043.7h0M276.2 1040.8h0M276.7 1041.4h0M274.5 1047.6h0M274.4 1044.7h0M273.8 1043.7h0M283.6 1049.5h0M288.5 1051.6h0M286.1 1044.5h0M249.8 1058.9h0M252.0 1064.5h0M251.8 1053.7h0M254.0 1061.3h0M273.5 1059.5h0M266.1 1060.0h0M268.4 1064.3h0M282.6 1058.4h0M285.9 1052.7h0M285.0 1054.7h0M245.3 1067.8h0M246.0 1067.0h0M243.1 1068.6h0M239.7 1067.6h0M242.8 1065.9h0M242.6 1064.4h0M264.9 1072.1h0M254.2 1071.2h0M262.8 1071.9h0M258.8 1070.5h0M255.0 1067.5h0M279.0 1070.7h0M279.8 1070.2h0M279.2 1068.5h0M279.2 1070.0h0M278.8 1065.2h0M283.8 1067.6h0M278.0 1069.6h0M288.1 1064.9h0M292.7 1063.6h0M292.1 1064.5h0M290.1 1061.8h0M263.3 1021.4h0M265.6 1023.0h0M264.3 1021.5h0M265.0 1022.5h0M263.3 1021.9h0M267.1 1024.6h0M289.5 1026.8h0M292.3 1029.2h0M289.1 1028.1h0M289.1 1028.9h0M286.5 1029.1h0M289.1 1028.2h0M288.3 1031.1h0M289.2 1028.9h0M238.8 1026.7h0" stroke="#6c2298" stroke-width="3.0" stroke-linecap="round" stroke-opacity="0.58" fill="none"/>
<path d="M248.2 1031.3h0M261.3 1046.3h0M266.1 1054.2h0M257.9 1047.3h0M259.7 1047.8h0M274.2 1041.7h0M270.3 1043.2h0M249.2 1058.4h0M249.6 1055.1h0M254.4 1060.5h0M253.5 1057.1h0M247.5 1057.5h0M265.3 1065.3h0M270.4 1063.0h0M270.5 1062.2h0M271.8 1054.5h0M281.1 1054.3h0M282.5 1057.1h0M259.9 1072.9h0M258.2 1072.2h0M257.1 1072.5h0M256.2 1070.1h0M258.6 1064.3h0M278.4 1067.2h0" stroke="#6c2298" stroke-width="5.0" stroke-linecap="round" stroke-opacity="0.58" fill="none"/>
<path d="M249.8 1038.4h0M264.6 1036.9h0M260.5 1037.1h0M264.1 1038.2h0M265.9 1032.3h0M277.6 1026.4h0M277.6 1024.4h0M278.3 1026.2h0M280.9 1027.3h0M245.9 1046.3h0M262.3 1048.7h0M278.3 1046.1h0M276.7 1042.9h0M274.5 1046.2h0M286.9 1047.3h0M289.7 1050.5h0M287.8 1046.7h0M265.3 1054.2h0M271.0 1061.7h0M241.5 1067.3h0M240.1 1064.8h0M287.7 1068.4h0M293.5 1065.8h0M289.0 1064.7h0M289.6 1066.2h0M266.5 1023.5h0M261.4 1025.4h0M267.6 1022.8h0M266.2 1022.2h0M269.5 1021.0h0M266.4 1022.5h0M290.3 1024.1h0M287.1 1029.9h0M290.3 1030.4h0M287.7 1028.1h0M239.2 1025.3h0M238.5 1025.4h0M238.9 1025.8h0M242.0 1027.7h0M237.6 1021.9h0M239.6 1024.8h0M239.9 1023.6h0M238.5 1024.6h0" stroke="#6c2298" stroke-width="2.0" stroke-linecap="round" stroke-opacity="0.58" fill="none"/>
<path d="M248.2 1064.7h0" stroke="#6c2298" stroke-width="6.0" stroke-linecap="round" stroke-opacity="0.58" fill="none"/>
<path d="M240.0 1024.9h0M240.5 1026.7h0" stroke="#6c2298" stroke-width="1.0" stroke-linecap="round" stroke-opacity="0.58" fill="none"/>
<rect x="237.00" y="1019.30" width="57.60" height="56.30" fill="#000" filter="url(#nzG)"/>
<path d="M253.1 1046.5h0m15.7-8.1h0" stroke="#3a2060" stroke-width="1.17" stroke-linecap="round" stroke-opacity="0.8" fill="none"/>
<path d="M271.4 1042.8h0m-20.2-3.1h0m33.4 3.6h0m-46.1-14.3h0" stroke="#3a2060" stroke-width="1.50" stroke-linecap="round" stroke-opacity="0.8" fill="none"/>
<path d="M287.0 1072.5h0m-39.2-38.6h0m-.7 2.4h0m13.8-17.5h0" stroke="#3a2060" stroke-width="1.83" stroke-linecap="round" stroke-opacity="0.8" fill="none"/>
</g>
<clipPath id="c28"><rect x="237.00" y="1093.00" width="57.60" height="56.20"/></clipPath><g clip-path="url(#c28)">
<rect x="237.00" y="1093.00" width="57.60" height="56.20" fill="#c4c4bc"/>
<path d="M243.6 1144.8h0M244.8 1144.9h0M252.9 1137.0h0M252.1 1140.6h0M244.3 1141.1h0M247.7 1139.3h0M248.2 1142.9h0M244.5 1137.6h0M250.7 1144.9h0M252.8 1131.8h0M258.3 1131.1h0M260.1 1132.5h0M255.5 1133.6h0M259.6 1128.9h0M254.8 1133.0h0M259.6 1134.7h0M253.4 1129.3h0M265.7 1123.0h0M270.6 1119.5h0M262.3 1117.9h0M264.6 1121.7h0M262.6 1121.8h0M263.9 1123.1h0M271.4 1119.9h0M262.2 1121.6h0M263.8 1118.6h0M271.0 1117.6h0M273.4 1110.8h0M274.1 1115.0h0M273.8 1117.2h0M274.1 1117.1h0M275.9 1117.8h0M272.5 1117.7h0M273.9 1115.5h0M274.2 1121.1h0M271.2 1117.2h0M270.4 1111.5h0M281.9 1110.0h0M284.4 1111.9h0M281.7 1108.8h0M287.4 1114.3h0M285.7 1113.4h0M282.2 1109.7h0M286.4 1137.7h0M285.8 1143.2h0M283.0 1142.0h0M285.1 1133.1h0M282.1 1133.8h0M281.0 1140.5h0M280.1 1143.0h0M287.8 1141.6h0M271.9 1150.4h0M272.8 1146.0h0M270.4 1143.4h0M270.7 1147.0h0M261.1 1105.5h0M265.4 1104.4h0M260.8 1101.8h0M261.9 1100.8h0M286.5 1122.6h0M292.6 1120.9h0M268.4 1137.7h0M271.0 1131.9h0M269.2 1136.0h0" stroke="#5a48a6" stroke-width="4.0" stroke-linecap="round" stroke-opacity="0.58" fill="none"/>
<path d="M248.8 1140.3h0M248.9 1140.9h0M242.4 1142.9h0M250.6 1135.4h0M244.0 1143.8h0M244.9 1142.7h0M247.8 1140.5h0M248.6 1144.2h0M255.0 1136.9h0M256.4 1130.2h0M254.8 1131.3h0M252.0 1131.2h0M260.2 1128.1h0M257.8 1130.1h0M253.6 1129.1h0M258.0 1129.0h0M267.0 1122.7h0M266.5 1121.3h0M265.7 1123.3h0M265.5 1117.6h0M264.4 1121.9h0M262.2 1117.5h0M266.8 1118.6h0M274.6 1112.1h0M274.3 1114.6h0M271.9 1116.3h0M279.4 1116.9h0M270.1 1115.3h0M267.3 1117.3h0M291.2 1108.0h0M288.9 1114.3h0M285.0 1109.9h0M283.7 1110.4h0M282.2 1105.8h0M284.2 1113.3h0M283.9 1109.7h0M281.3 1112.3h0M279.5 1138.4h0M281.6 1140.9h0M280.4 1141.1h0M286.6 1134.5h0M275.9 1144.8h0M271.1 1146.8h0M271.7 1147.1h0M269.6 1148.6h0M272.5 1142.3h0M271.2 1145.5h0M271.2 1146.5h0M272.9 1146.1h0M272.0 1146.4h0M262.1 1104.4h0M265.0 1100.3h0M260.0 1104.0h0M262.7 1102.6h0M264.5 1102.0h0M263.9 1104.3h0M261.4 1106.0h0M264.1 1102.4h0M291.0 1121.6h0M292.0 1121.4h0M289.7 1119.9h0M293.8 1122.6h0M289.0 1122.1h0M265.3 1133.5h0M268.8 1134.8h0M270.5 1140.1h0M268.6 1137.7h0M268.6 1132.7h0M273.7 1135.5h0M270.4 1135.4h0M266.5 1138.3h0M265.4 1134.1h0M268.3 1131.5h0M267.6 1135.5h0M273.0 1134.8h0" stroke="#5a48a6" stroke-width="3.0" stroke-linecap="round" stroke-opacity="0.58" fill="none"/>
<path d="M248.8 1136.0h0M247.3 1140.7h0M247.9 1143.9h0M254.4 1142.9h0M256.0 1130.1h0M259.5 1130.7h0M253.1 1124.5h0M259.2 1134.4h0M256.5 1129.2h0M261.1 1125.5h0M270.1 1127.0h0M267.5 1121.8h0M267.3 1118.3h0M262.7 1123.5h0M269.0 1118.8h0M267.3 1117.7h0M261.9 1117.1h0M265.8 1121.8h0M274.8 1113.5h0M274.4 1119.8h0M280.8 1108.4h0M284.9 1110.1h0M285.5 1110.1h0M285.2 1100.6h0M281.4 1112.3h0M280.3 1110.2h0M285.2 1138.0h0M283.9 1138.0h0M282.7 1141.3h0M285.9 1140.5h0M284.5 1136.4h0M284.6 1136.4h0M283.7 1134.1h0M282.5 1135.4h0M285.0 1139.6h0M274.7 1148.9h0M269.8 1146.6h0M268.7 1133.9h0" stroke="#5a48a6" stroke-width="5.0" stroke-linecap="round" stroke-opacity="0.58" fill="none"/>
<path d="M244.5 1141.9h0M252.5 1140.4h0M260.4 1134.1h0M275.5 1111.2h0M274.1 1116.2h0M269.6 1115.6h0M281.6 1108.2h0M280.5 1112.2h0M291.4 1106.6h0M282.6 1139.4h0M282.6 1138.2h0" stroke="#5a48a6" stroke-width="6.0" stroke-linecap="round" stroke-opacity="0.58" fill="none"/>
<path d="M272.9 1144.3h0M268.3 1147.6h0M270.3 1150.2h0M273.6 1146.6h0M270.3 1148.0h0M259.2 1103.6h0M261.9 1102.1h0M261.6 1103.2h0M263.5 1103.6h0M265.8 1102.2h0M262.5 1102.9h0M266.2 1101.4h0M288.3 1123.1h0M289.5 1122.6h0M290.3 1118.8h0M290.6 1120.2h0M290.3 1122.5h0M292.3 1120.1h0M286.8 1123.9h0M288.1 1120.2h0M289.1 1120.7h0M291.6 1121.7h0M294.4 1121.5h0M294.4 1119.8h0M268.5 1142.3h0M267.9 1136.4h0M271.7 1136.5h0M267.9 1135.6h0" stroke="#5a48a6" stroke-width="2.0" stroke-linecap="round" stroke-opacity="0.58" fill="none"/>
<rect x="237.00" y="1093.00" width="57.60" height="56.20" fill="#000" filter="url(#nzG)"/>
<path d="M271.3 1126.8h0m-5.5-21.1h0" stroke="#3a2060" stroke-width="1.17" stroke-linecap="round" stroke-opacity="0.8" fill="none"/>
<path d="M281.2 1140.5h0m-24-9.3h0m-15.1 11h0m44.4 1.3h0m1.1-35.1h0" stroke="#3a2060" stroke-width="1.50" stroke-linecap="round" stroke-opacity="0.8" fill="none"/>
<path d="M266.7 1113.8h0m26.1 8.3h0m-3.4-4.8h0" stroke="#3a2060" stroke-width="1.83" stroke-linecap="round" stroke-opacity="0.8" fill="none"/>
</g>
<clipPath id="c29"><rect x="300.30" y="1019.30" width="57.60" height="56.30"/></clipPath><g clip-path="url(#c29)">
<rect x="300.30" y="1019.30" width="57.60" height="56.30" fill="#cacac4"/>
<path d="M328.5 1038.2h0M332.0 1030.8h0M331.4 1035.7h0M329.3 1035.1h0M329.7 1040.3h0M332.3 1034.0h0M327.9 1039.0h0M327.0 1039.7h0M326.4 1040.6h0M325.9 1038.3h0M326.9 1040.9h0M328.1 1042.0h0M347.9 1027.5h0M346.2 1028.9h0M351.2 1030.5h0M347.5 1025.4h0M354.9 1028.0h0M346.4 1032.2h0M346.4 1023.6h0M347.7 1028.6h0M348.2 1027.0h0M353.9 1042.7h0M354.0 1037.2h0M355.6 1036.8h0M355.3 1039.3h0M356.8 1034.8h0M354.5 1036.9h0M305.5 1051.0h0M337.5 1046.0h0M338.6 1048.9h0M336.3 1050.9h0M336.6 1050.5h0M336.3 1050.9h0M335.2 1049.0h0M337.5 1050.2h0M342.1 1058.4h0M344.3 1057.7h0M344.7 1065.7h0M340.2 1064.1h0M345.0 1061.1h0M344.7 1058.0h0M346.1 1066.6h0M348.9 1059.7h0M348.1 1066.0h0M352.3 1065.5h0M321.5 1071.2h0M318.8 1067.9h0M317.1 1069.6h0M316.3 1068.5h0M313.8 1068.7h0M320.2 1070.9h0M321.0 1072.4h0M318.7 1071.8h0M303.6 1070.4h0M301.3 1066.8h0M301.8 1070.5h0M302.4 1070.9h0M302.7 1070.6h0M306.4 1067.8h0M331.0 1073.0h0M333.1 1072.9h0M333.1 1071.8h0M333.4 1073.3h0M331.4 1073.3h0M333.2 1073.9h0M335.0 1071.5h0M351.8 1072.4h0" stroke="#6c2298" stroke-width="3.0" stroke-linecap="round" stroke-opacity="0.58" fill="none"/>
<path d="M329.0 1036.0h0M336.1 1035.4h0M329.2 1040.5h0M336.2 1037.2h0M329.1 1033.0h0" stroke="#6c2298" stroke-width="5.0" stroke-linecap="round" stroke-opacity="0.58" fill="none"/>
<path d="M330.3 1036.2h0M328.1 1036.1h0M334.1 1030.3h0M334.4 1036.3h0M351.9 1026.2h0M349.0 1025.9h0M348.9 1032.5h0M347.5 1030.0h0M344.0 1063.5h0M342.2 1064.7h0M341.5 1062.7h0M344.8 1060.5h0M345.9 1062.0h0M345.5 1063.6h0M318.4 1071.2h0M317.5 1069.6h0M314.3 1068.7h0M305.9 1067.1h0M299.4 1069.7h0" stroke="#6c2298" stroke-width="4.0" stroke-linecap="round" stroke-opacity="0.58" fill="none"/>
<path d="M332.1 1039.0h0M334.1 1033.4h0" stroke="#6c2298" stroke-width="6.0" stroke-linecap="round" stroke-opacity="0.58" fill="none"/>
<path d="M326.6 1041.2h0M327.4 1038.8h0M330.8 1038.1h0M325.7 1037.0h0M323.8 1037.1h0M324.7 1039.8h0M347.2 1026.5h0M352.9 1036.3h0M357.1 1039.9h0M356.3 1037.0h0M353.8 1035.9h0M355.2 1038.2h0M350.0 1036.7h0M303.6 1049.9h0M305.8 1051.5h0M303.7 1053.0h0M307.0 1047.5h0M303.9 1049.1h0M302.3 1047.8h0M305.7 1050.3h0M305.3 1050.7h0M301.9 1053.4h0M302.7 1051.3h0M301.7 1053.3h0M335.9 1050.3h0M337.4 1051.1h0M337.1 1050.1h0M334.8 1048.9h0M339.0 1050.1h0M343.5 1062.7h0M344.8 1060.6h0M350.1 1063.9h0M348.9 1067.0h0M351.3 1062.3h0M349.6 1061.9h0M347.5 1065.7h0M350.2 1067.6h0M349.2 1064.2h0M346.3 1065.4h0M319.4 1069.3h0M314.5 1072.7h0M301.4 1071.2h0M300.4 1067.9h0M304.5 1071.8h0M304.9 1069.9h0M302.6 1067.9h0M334.1 1073.7h0M329.9 1072.7h0M333.2 1071.1h0M334.2 1074.6h0M333.1 1072.2h0M355.7 1072.8h0M350.1 1068.2h0M354.0 1073.4h0M351.5 1069.8h0M353.5 1069.3h0M352.9 1072.0h0M353.3 1072.4h0" stroke="#6c2298" stroke-width="2.0" stroke-linecap="round" stroke-opacity="0.58" fill="none"/>
<path d="M352.0 1069.7h0M354.0 1073.4h0M354.0 1072.6h0" stroke="#6c2298" stroke-width="1.0" stroke-linecap="round" stroke-opacity="0.58" fill="none"/>
<rect x="300.30" y="1019.30" width="57.60" height="56.30" fill="#000" filter="url(#nzG)"/>
<path d="M335.3 1074.1h0m-12.5-.8h0m10.9 .4h0m20.4-29.8h0m-16.5 4.9h0" stroke="#2a1050" stroke-width="1.17" stroke-linecap="round" stroke-opacity="0.8" fill="none"/>
<path d="M329.7 1065.8h0m-8.6 6.2h0m29.9-37.4h0m-19.7 34.6h0" stroke="#2a1050" stroke-width="1.50" stroke-linecap="round" stroke-opacity="0.8" fill="none"/>
<path d="M321.4 1039.5h0m8-3.6h0m9.4 13h0m6.6 19.3h0m-11-14.5h0" stroke="#2a1050" stroke-width="1.83" stroke-linecap="round" stroke-opacity="0.8" fill="none"/>
</g>
<clipPath id="c30"><rect x="300.30" y="1093.00" width="57.60" height="56.20"/></clipPath><g clip-path="url(#c30)">
<rect x="300.30" y="1093.00" width="57.60" height="56.20" fill="#bdbbb0"/>
<path d="M331.8 1103.6h0M335.9 1101.5h0M330.1 1104.4h0M329.4 1101.7h0M335.3 1101.6h0M319.3 1103.7h0M323.6 1105.8h0M322.5 1102.7h0M323.3 1105.5h0M322.3 1105.9h0M323.0 1100.4h0M302.3 1108.0h0M304.6 1110.6h0M303.3 1106.7h0M303.8 1108.2h0M305.1 1110.6h0M298.2 1108.7h0M312.1 1114.5h0M310.0 1113.9h0M323.5 1116.6h0M323.2 1115.4h0M326.4 1114.2h0M322.4 1116.4h0M322.8 1115.7h0M324.7 1114.3h0M320.0 1115.3h0M322.1 1113.6h0M340.8 1115.1h0M342.6 1114.6h0M341.3 1115.8h0M339.0 1114.5h0M339.8 1116.3h0M341.8 1114.2h0M347.5 1109.6h0M351.6 1107.3h0M352.0 1109.0h0M326.0 1128.5h0M326.6 1126.3h0M326.5 1125.5h0M329.2 1129.5h0M314.7 1140.8h0M317.2 1136.7h0M316.2 1140.0h0M312.6 1137.5h0M316.4 1137.2h0M326.2 1141.9h0M322.0 1144.8h0M320.6 1144.0h0M322.9 1143.3h0M322.1 1147.0h0M326.5 1146.2h0M320.5 1143.0h0M302.1 1145.7h0M307.8 1148.4h0M305.0 1152.0h0M303.8 1145.9h0M308.1 1148.0h0M303.5 1149.7h0M306.4 1148.0h0M303.6 1144.9h0M305.1 1147.2h0M303.2 1149.7h0M333.1 1143.4h0M335.4 1142.5h0M337.1 1148.4h0M337.0 1145.7h0M349.7 1147.2h0M349.5 1146.5h0M349.4 1147.9h0M351.0 1146.4h0M348.4 1146.9h0M350.6 1145.5h0M351.0 1145.2h0" stroke="#5a48a6" stroke-width="2.0" stroke-linecap="round" stroke-opacity="0.58" fill="none"/>
<path d="M331.2 1104.5h0M331.1 1105.5h0M331.1 1102.4h0M322.8 1102.0h0M323.9 1103.7h0M322.4 1104.8h0M322.7 1103.4h0M304.7 1109.5h0M302.6 1111.0h0M305.7 1109.0h0M304.7 1105.8h0M299.5 1107.6h0M303.1 1111.6h0M306.7 1114.2h0M311.9 1115.1h0M310.6 1112.3h0M308.2 1113.8h0M307.5 1116.5h0M311.0 1115.9h0M313.1 1116.7h0M323.8 1114.8h0M322.8 1115.4h0M326.9 1126.7h0M325.5 1132.7h0M326.2 1122.5h0M324.9 1131.3h0M330.5 1127.9h0M351.0 1131.0h0M348.2 1125.8h0M345.3 1129.2h0M315.0 1138.0h0M313.9 1137.6h0M314.8 1139.4h0M316.2 1141.9h0M313.8 1139.0h0M314.0 1135.5h0M316.8 1141.5h0M325.1 1143.4h0M322.4 1146.6h0M323.3 1142.7h0M320.8 1143.3h0M324.9 1143.6h0M303.5 1145.5h0M307.5 1147.9h0M334.9 1144.8h0M335.1 1147.4h0M334.7 1147.3h0M334.7 1147.4h0M334.3 1146.3h0M333.4 1146.3h0M337.9 1145.4h0M336.2 1147.9h0" stroke="#5a48a6" stroke-width="3.0" stroke-linecap="round" stroke-opacity="0.58" fill="none"/>
<path d="M332.4 1103.9h0M333.4 1105.1h0M333.8 1109.0h0M330.7 1102.6h0M333.1 1105.0h0M333.1 1102.6h0M313.2 1116.2h0M310.3 1114.1h0M312.2 1117.1h0M313.3 1119.0h0M328.1 1128.9h0M325.0 1126.8h0M328.8 1129.1h0M330.8 1126.4h0M346.4 1129.6h0M344.5 1128.9h0M348.3 1131.5h0M345.6 1127.1h0M348.8 1131.3h0M345.4 1132.5h0M343.4 1127.8h0M342.3 1130.5h0M343.9 1131.6h0M345.6 1129.9h0M310.1 1137.6h0" stroke="#5a48a6" stroke-width="4.0" stroke-linecap="round" stroke-opacity="0.58" fill="none"/>
<path d="M323.3 1100.0h0M323.0 1116.4h0M342.2 1114.4h0M340.9 1115.5h0M340.2 1115.3h0M341.0 1115.8h0M351.8 1108.2h0M353.0 1107.3h0M350.3 1108.1h0M349.9 1108.3h0M352.4 1107.1h0M350.4 1108.3h0M351.3 1109.8h0M348.6 1145.7h0M349.1 1143.5h0M349.1 1147.3h0" stroke="#5a48a6" stroke-width="1.0" stroke-linecap="round" stroke-opacity="0.58" fill="none"/>
<path d="M328.4 1130.6h0M345.8 1133.8h0" stroke="#5a48a6" stroke-width="5.0" stroke-linecap="round" stroke-opacity="0.58" fill="none"/>
<rect x="300.30" y="1093.00" width="57.60" height="56.20" fill="#000" filter="url(#nzG)"/>
<path d="M313.3 1139.7h0m9.5 6.2h0m19.8-28.9h0m-1.3 9.6h0m-2.1 9.4h0m-10.8-11.6h0m-12.7 15.5h0" stroke="#555" stroke-width="1.17" stroke-linecap="round" stroke-opacity="0.8" fill="none"/>
<path d="M313.0 1134.8h0m25.2-18.4h0m-1.3 20h0m-29.8-27h0m43.6-3.5h0m-41.9 45.1h0" stroke="#555" stroke-width="1.50" stroke-linecap="round" stroke-opacity="0.8" fill="none"/>
<path d="M345.6 1145.4h0m-11.6-17.4h0m-17.9-18.2h0m29.4 37.8h0m-21-43.4h0m-4.9 40.3h0m31.6-34.7h0" stroke="#555" stroke-width="1.83" stroke-linecap="round" stroke-opacity="0.8" fill="none"/>
</g>
<text transform="translate(72.00,1017.00) rotate(-13.5)" font-size="15.3" text-anchor="start" fill="#231f20" stroke="#231f20" stroke-width="0.15">Control</text>
<text transform="translate(134.20,1018.00) rotate(-13.5)" font-size="15.3" text-anchor="start" fill="#231f20" stroke="#231f20" stroke-width="0.15">LINC01016 (+)-NC</text>
<text transform="translate(204.00,1018.50) rotate(-13.5)" font-size="15.3" text-anchor="start" fill="#231f20" stroke="#231f20" stroke-width="0.15">LINC01016 (+)</text>
<text transform="translate(269.00,1017.50) rotate(-13.5)" font-size="15.3" text-anchor="start" fill="#231f20" stroke="#231f20" stroke-width="0.15">LINC01016 (-)-NC</text>
<text transform="translate(336.00,1016.50) rotate(-13.5)" font-size="15.3" text-anchor="start" fill="#231f20" stroke="#231f20" stroke-width="0.15">LINC01016 (-)</text>
<text transform="translate(43.60,1078.70) rotate(-90)" font-size="14.5" text-anchor="start" fill="#231f20" stroke="#231f20" stroke-width="0.15">Ishikawa</text>
<text transform="translate(43.60,1142.40) rotate(-90) scale(0.87,1)" font-size="14.5" text-anchor="start" fill="#231f20" stroke="#231f20" stroke-width="0.15">RL-95-2</text>
<line x1="457.00" y1="1019.40" x2="457.00" y2="1068.10" stroke="#3a3a3a" stroke-width="1.2"/>
<line x1="456.40" y1="1068.10" x2="530.00" y2="1068.10" stroke="#231f20" stroke-width="1.2"/>
<line x1="457.00" y1="1019.40" x2="459.50" y2="1019.40" stroke="#3a3a3a" stroke-width="1"/>
<text transform="translate(453.40,1024.83)" font-size="15.5" text-anchor="end" fill="#231f20" stroke="#231f20" stroke-width="0.15">200</text>
<line x1="457.00" y1="1043.50" x2="459.50" y2="1043.50" stroke="#3a3a3a" stroke-width="1"/>
<text transform="translate(453.40,1048.92)" font-size="15.5" text-anchor="end" fill="#231f20" stroke="#231f20" stroke-width="0.15">100</text>
<line x1="457.00" y1="1068.10" x2="459.50" y2="1068.10" stroke="#3a3a3a" stroke-width="1"/>
<text transform="translate(453.40,1073.52)" font-size="15.5" text-anchor="end" fill="#231f20" stroke="#231f20" stroke-width="0.15">0</text>
<rect x="460.50" y="1041.90" width="10.20" height="26.20" fill="#ffffff" stroke="#231f20" stroke-width="1"/>
<rect x="474.40" y="1042.50" width="9.60" height="25.60" fill="#b5b5b5" stroke="#231f20" stroke-width="1"/>
<line x1="493.30" y1="1023.00" x2="493.30" y2="1026.20" stroke="#4a4a4a" stroke-width="1.6"/>
<line x1="490.30" y1="1023.00" x2="496.30" y2="1023.00" stroke="#231f20" stroke-width="1.4"/>
<rect x="488.70" y="1026.20" width="9.20" height="41.90" fill="#787878" stroke="#231f20" stroke-width="1"/>
<rect x="502.00" y="1042.90" width="10.00" height="25.20" fill="#3b3b3b" stroke="#231f20" stroke-width="1"/>
<line x1="520.60" y1="1053.20" x2="520.60" y2="1055.20" stroke="#4a4a4a" stroke-width="1.6"/>
<line x1="517.60" y1="1053.20" x2="523.60" y2="1053.20" stroke="#231f20" stroke-width="1.4"/>
<rect x="515.70" y="1055.20" width="9.80" height="12.90" fill="#231815" stroke="#231f20" stroke-width="1"/>
<path d="M493.30,1012.20L493.30,1019.80M490.01,1014.10L496.59,1017.90M496.59,1014.10L490.01,1017.90" stroke="#231f20" stroke-width="1.2" stroke-linecap="round"/>
<path d="M520.60,1040.20L520.60,1047.80M517.31,1042.10L523.89,1045.90M523.89,1042.10L517.31,1045.90" stroke="#231f20" stroke-width="1.2" stroke-linecap="round"/>
<text transform="translate(409.60,1081.00) rotate(-90)" font-size="13.9" text-anchor="start" fill="#231f20" stroke="#231f20" stroke-width="0.15">Cell number</text>
<text transform="translate(427.00,1073.00) rotate(-90)" font-size="14.8" text-anchor="start" fill="#231f20" stroke="#231f20" stroke-width="0.15">(invasion)</text>
<line x1="457.00" y1="1101.20" x2="457.00" y2="1151.20" stroke="#3a3a3a" stroke-width="1.2"/>
<line x1="456.40" y1="1151.20" x2="530.00" y2="1151.20" stroke="#231f20" stroke-width="1.2"/>
<line x1="457.00" y1="1101.20" x2="459.50" y2="1101.20" stroke="#3a3a3a" stroke-width="1"/>
<text transform="translate(453.40,1106.62)" font-size="15.5" text-anchor="end" fill="#231f20" stroke="#231f20" stroke-width="0.15">60</text>
<line x1="457.00" y1="1125.70" x2="459.50" y2="1125.70" stroke="#3a3a3a" stroke-width="1"/>
<text transform="translate(453.40,1131.12)" font-size="15.5" text-anchor="end" fill="#231f20" stroke="#231f20" stroke-width="0.15">30</text>
<line x1="457.00" y1="1151.20" x2="459.50" y2="1151.20" stroke="#3a3a3a" stroke-width="1"/>
<text transform="translate(453.40,1156.62)" font-size="15.5" text-anchor="end" fill="#231f20" stroke="#231f20" stroke-width="0.15">0</text>
<rect x="460.50" y="1129.40" width="10.20" height="21.80" fill="#ffffff" stroke="#231f20" stroke-width="1"/>
<rect x="474.40" y="1130.40" width="9.60" height="20.80" fill="#b5b5b5" stroke="#231f20" stroke-width="1"/>
<rect x="488.70" y="1117.10" width="9.20" height="34.10" fill="#787878" stroke="#231f20" stroke-width="1"/>
<line x1="507.00" y1="1129.00" x2="507.00" y2="1130.80" stroke="#4a4a4a" stroke-width="1.6"/>
<line x1="504.00" y1="1129.00" x2="510.00" y2="1129.00" stroke="#231f20" stroke-width="1.4"/>
<rect x="502.00" y="1130.80" width="10.00" height="20.40" fill="#3b3b3b" stroke="#231f20" stroke-width="1"/>
<rect x="515.70" y="1141.00" width="9.80" height="10.20" fill="#231815" stroke="#231f20" stroke-width="1"/>
<path d="M493.30,1104.50L493.30,1112.10M490.01,1106.40L496.59,1110.20M496.59,1106.40L490.01,1110.20" stroke="#231f20" stroke-width="1.2" stroke-linecap="round"/>
<path d="M520.60,1130.10L520.60,1137.70M517.31,1132.00L523.89,1135.80M523.89,1132.00L517.31,1135.80" stroke="#231f20" stroke-width="1.2" stroke-linecap="round"/>
<text transform="translate(409.60,1163.50) rotate(-90)" font-size="13.9" text-anchor="start" fill="#231f20" stroke="#231f20" stroke-width="0.15">Cell number</text>
<text transform="translate(427.00,1157.50) rotate(-90)" font-size="14.8" text-anchor="start" fill="#231f20" stroke="#231f20" stroke-width="0.15">(invasion)</text>
<rect x="533.20" y="1012.35" width="13.30" height="9.50" fill="#ffffff" stroke="#231f20" stroke-width="1"/>
<text transform="translate(550.20,1021.89) scale(1.07,1)" font-size="13.3" text-anchor="start" fill="#231f20" stroke="#231f20" stroke-width="0.15">Control</text>
<rect x="533.20" y="1024.95" width="13.30" height="9.50" fill="#b5b5b5" stroke="#231f20" stroke-width="1"/>
<text transform="translate(550.20,1034.49) scale(1.07,1)" font-size="13.3" text-anchor="start" fill="#231f20" stroke="#231f20" stroke-width="0.15">LINC01016 (+)-NC</text>
<rect x="533.20" y="1037.55" width="13.30" height="9.50" fill="#787878" stroke="#231f20" stroke-width="1"/>
<text transform="translate(550.20,1047.09) scale(1.07,1)" font-size="13.3" text-anchor="start" fill="#231f20" stroke="#231f20" stroke-width="0.15">LINC01016 (+)</text>
<rect x="533.20" y="1049.95" width="13.30" height="9.50" fill="#3b3b3b" stroke="#231f20" stroke-width="1"/>
<text transform="translate(550.20,1059.49) scale(1.07,1)" font-size="13.3" text-anchor="start" fill="#231f20" stroke="#231f20" stroke-width="0.15">LINC01016 (-)-NC</text>
<rect x="533.20" y="1062.15" width="13.30" height="9.50" fill="#000000" stroke="#231f20" stroke-width="1"/>
<text transform="translate(550.20,1071.69) scale(1.07,1)" font-size="13.3" text-anchor="start" fill="#231f20" stroke="#231f20" stroke-width="0.15">LINC01016 (-)</text>
</svg>
</body></html>
